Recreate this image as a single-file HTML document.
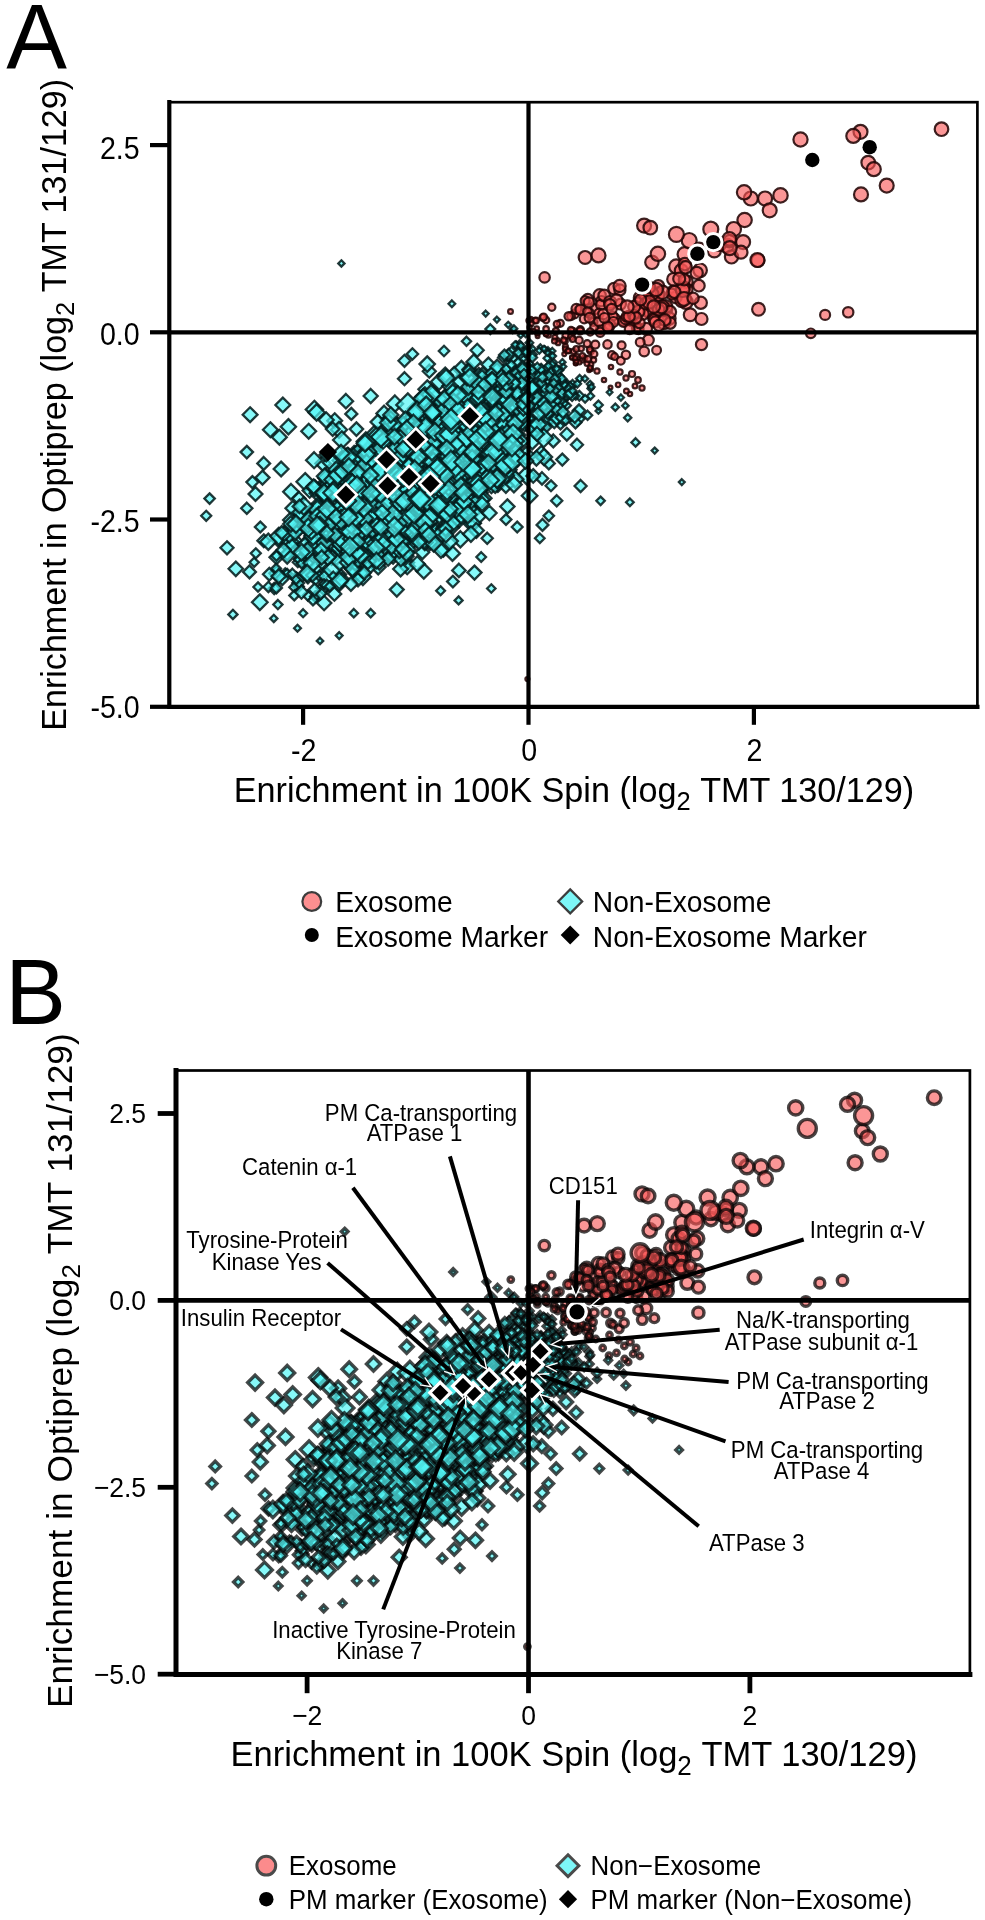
<!DOCTYPE html>
<html lang="en"><head><meta charset="utf-8"><title>Figure</title><style>html,body{margin:0;padding:0;background:#fff}svg{display:block;will-change:transform}</style></head><body>
<svg width="985" height="1920" viewBox="0 0 985 1920" font-family='"Liberation Sans", Arial, Helvetica, sans-serif' fill="#000">
<rect width="985" height="1920" fill="#fff"/>
<text transform="translate(6.2 68.6) scale(1 1.020)" font-size="91" text-anchor="start" >A</text>
<clipPath id="ca"><rect x="169.3" y="102.2" width="808.1" height="604.7"/></clipPath>
<g clip-path="url(#ca)">
<g fill="#52f6f6" fill-opacity="0.7" stroke="#041c1c" stroke-opacity="0.88" stroke-width="2.3" stroke-linejoin="miter"><path d="M507.3 379.1l7.6 7.6-7.6 7.6-7.6-7.6z"/><path d="M390.2 504.1l8.2 8.2-8.2 8.2-8.2-8.2z"/><path d="M398.7 490l9 9-9 9-9-9z"/><path d="M291 484l7.8 7.8-7.8 7.8-7.8-7.8z"/><path d="M555.6 375.3l5.2 5.2-5.2 5.2-5.2-5.2z"/><path d="M456.6 414.4l9 9-9 9-9-9z"/><path d="M537.4 370.5l5 5-5 5-5-5z"/><path d="M417.7 429l9.8 9.8-9.8 9.8-9.8-9.8z"/><path d="M414 509.1l10 10-10 10-10-10z"/><path d="M504.5 462.5l8.1 8.1-8.1 8.1-8.1-8.1z"/><path d="M412.7 452.5l8.6 8.6-8.6 8.6-8.6-8.6z"/><path d="M495.9 463.2l7.9 7.9-7.9 7.9-7.9-7.9z"/><path d="M469 387.7l10.3 10.3-10.3 10.3-10.3-10.3z"/><path d="M409.4 476.9l9.9 9.9-9.9 9.9-9.9-9.9z"/><path d="M412.1 409.9l7.7 7.7-7.7 7.7-7.7-7.7z"/></g>
<g fill="#f85656" fill-opacity="0.62" stroke="#220606" stroke-opacity="0.88" stroke-width="2.2"><circle cx="666.3" cy="309.2" r="6"/></g>
<g fill="#52f6f6" fill-opacity="0.7" stroke="#041c1c" stroke-opacity="0.88" stroke-width="2.3" stroke-linejoin="miter"><path d="M386.6 490.1l9 9-9 9-9-9z"/><path d="M232.9 609.8l4.6 4.6-4.6 4.6-4.6-4.6z"/><path d="M383.3 460.1l8.9 8.9-8.9 8.9-8.9-8.9z"/><path d="M346 514.5l8.2 8.2-8.2 8.2-8.2-8.2z"/><path d="M531.4 379.4l6.6 6.6-6.6 6.6-6.6-6.6z"/><path d="M387.2 509l9.1 9.1-9.1 9.1-9.1-9.1z"/><path d="M421.2 498.3l8.4 8.4-8.4 8.4-8.4-8.4z"/><path d="M433.9 472.2l8.4 8.4-8.4 8.4-8.4-8.4z"/><path d="M449.1 475l8.5 8.5-8.5 8.5-8.5-8.5z"/><path d="M455.6 419.3l8.3 8.3-8.3 8.3-8.3-8.3z"/><path d="M496.3 453.8l8.6 8.6-8.6 8.6-8.6-8.6z"/><path d="M362.5 471.5l8.5 8.5-8.5 8.5-8.5-8.5z"/><path d="M535.5 393.5l5.9 5.9-5.9 5.9-5.9-5.9z"/><path d="M363.5 548.2l7 7-7 7-7-7z"/><path d="M487.9 407.2l10.7 10.7-10.7 10.7-10.7-10.7z"/></g>
<g fill="#f85656" fill-opacity="0.62" stroke="#220606" stroke-opacity="0.88" stroke-width="2.2"><circle cx="644.1" cy="225.6" r="7"/><circle cx="630" cy="394" r="2.2"/></g>
<g fill="#52f6f6" fill-opacity="0.7" stroke="#041c1c" stroke-opacity="0.88" stroke-width="2.3" stroke-linejoin="miter"><path d="M421.7 431.5l10.9 10.9-10.9 10.9-10.9-10.9z"/><path d="M537.1 376.1l5.7 5.7-5.7 5.7-5.7-5.7z"/></g>
<g fill="#f85656" fill-opacity="0.62" stroke="#220606" stroke-opacity="0.88" stroke-width="2.2"><circle cx="743.1" cy="242.1" r="7"/></g>
<g fill="#52f6f6" fill-opacity="0.7" stroke="#041c1c" stroke-opacity="0.88" stroke-width="2.3" stroke-linejoin="miter"><path d="M363.2 462l9.8 9.8-9.8 9.8-9.8-9.8z"/></g>
<g fill="#f85656" fill-opacity="0.62" stroke="#220606" stroke-opacity="0.88" stroke-width="2.2"><circle cx="690.2" cy="314.8" r="6.4"/></g>
<g fill="#52f6f6" fill-opacity="0.7" stroke="#041c1c" stroke-opacity="0.88" stroke-width="2.3" stroke-linejoin="miter"><path d="M486.5 374.7l8.7 8.7-8.7 8.7-8.7-8.7z"/><path d="M409.7 441.2l9 9-9 9-9-9z"/><path d="M352.4 558.2l9 9-9 9-9-9z"/><path d="M474.1 420.2l11 11-11 11-11-11z"/><path d="M451.1 506.6l9.1 9.1-9.1 9.1-9.1-9.1z"/><path d="M374.1 483.7l9.6 9.6-9.6 9.6-9.6-9.6z"/><path d="M439.1 373.6l8.1 8.1-8.1 8.1-8.1-8.1z"/><path d="M404.3 472.3l8.7 8.7-8.7 8.7-8.7-8.7z"/><path d="M369.3 509.3l8.4 8.4-8.4 8.4-8.4-8.4z"/><path d="M549.7 400.9l6.8 6.8-6.8 6.8-6.8-6.8z"/><path d="M334.6 509.1l9 9-9 9-9-9z"/><path d="M508.5 400.1l7.3 7.3-7.3 7.3-7.3-7.3z"/><path d="M486.9 455.6l7.9 7.9-7.9 7.9-7.9-7.9z"/><path d="M539.6 373.6l5.7 5.7-5.7 5.7-5.7-5.7z"/><path d="M423.2 491.3l9.8 9.8-9.8 9.8-9.8-9.8z"/><path d="M377 446.3l8.5 8.5-8.5 8.5-8.5-8.5z"/><path d="M315.5 574l5.5 5.5-5.5 5.5-5.5-5.5z"/><path d="M402.4 423.5l8.6 8.6-8.6 8.6-8.6-8.6z"/><path d="M402.1 453.1l10.6 10.6-10.6 10.6-10.6-10.6z"/><path d="M462.2 435.3l8.4 8.4-8.4 8.4-8.4-8.4z"/><path d="M542.8 368.3l5.3 5.3-5.3 5.3-5.3-5.3z"/><path d="M473.8 396.2l10.3 10.3-10.3 10.3-10.3-10.3z"/><path d="M366.5 486.8l8.6 8.6-8.6 8.6-8.6-8.6z"/><path d="M577.7 411.9l6.9 6.9-6.9 6.9-6.9-6.9z"/><path d="M380.7 517.4l8.3 8.3-8.3 8.3-8.3-8.3z"/><path d="M524.7 403.5l7.7 7.7-7.7 7.7-7.7-7.7z"/><path d="M450.4 404.6l9.3 9.3-9.3 9.3-9.3-9.3z"/><path d="M338.5 540.7l7.3 7.3-7.3 7.3-7.3-7.3z"/><path d="M263.8 534.4l6.4 6.4-6.4 6.4-6.4-6.4z"/><path d="M350.1 508.7l9 9-9 9-9-9z"/><path d="M558.9 371.7l4.5 4.5-4.5 4.5-4.5-4.5z"/></g>
<g fill="#f85656" fill-opacity="0.62" stroke="#220606" stroke-opacity="0.88" stroke-width="2.2"><circle cx="640.4" cy="298" r="6.6"/><circle cx="574.6" cy="314" r="4.3"/><circle cx="757.9" cy="260.4" r="6.6"/></g>
<g fill="#52f6f6" fill-opacity="0.7" stroke="#041c1c" stroke-opacity="0.88" stroke-width="2.3" stroke-linejoin="miter"><path d="M492.9 451.4l8.3 8.3-8.3 8.3-8.3-8.3z"/><path d="M503.5 453.2l8.9 8.9-8.9 8.9-8.9-8.9z"/><path d="M410.3 483.6l9.2 9.2-9.2 9.2-9.2-9.2z"/><path d="M383.7 509.1l9.5 9.5-9.5 9.5-9.5-9.5z"/><path d="M515.9 425.4l9.5 9.5-9.5 9.5-9.5-9.5z"/><path d="M357.8 480.5l10.3 10.3-10.3 10.3-10.3-10.3z"/><path d="M472.1 447.9l8.4 8.4-8.4 8.4-8.4-8.4z"/><path d="M426.7 489.6l10.4 10.4-10.4 10.4-10.4-10.4z"/><path d="M451.5 449.5l8.3 8.3-8.3 8.3-8.3-8.3z"/><path d="M439 457.7l8.6 8.6-8.6 8.6-8.6-8.6z"/></g>
<g fill="#f85656" fill-opacity="0.62" stroke="#220606" stroke-opacity="0.88" stroke-width="2.2"><circle cx="600.6" cy="329.5" r="4.6"/></g>
<g fill="#52f6f6" fill-opacity="0.7" stroke="#041c1c" stroke-opacity="0.88" stroke-width="2.3" stroke-linejoin="miter"><path d="M381.4 480.3l8.2 8.2-8.2 8.2-8.2-8.2z"/><path d="M448.3 478.5l10.6 10.6-10.6 10.6-10.6-10.6z"/><path d="M416.9 429.5l9.3 9.3-9.3 9.3-9.3-9.3z"/><path d="M519.8 377.5l6.4 6.4-6.4 6.4-6.4-6.4z"/></g>
<g fill="#f85656" fill-opacity="0.62" stroke="#220606" stroke-opacity="0.88" stroke-width="2.2"><circle cx="572.1" cy="357.5" r="2.1"/></g>
<g fill="#52f6f6" fill-opacity="0.7" stroke="#041c1c" stroke-opacity="0.88" stroke-width="2.3" stroke-linejoin="miter"><path d="M412 501.9l10.6 10.6-10.6 10.6-10.6-10.6z"/><path d="M473.2 411.6l9.4 9.4-9.4 9.4-9.4-9.4z"/><path d="M407.9 444.8l8.4 8.4-8.4 8.4-8.4-8.4z"/><path d="M557.5 396.6l4.8 4.8-4.8 4.8-4.8-4.8z"/></g>
<g fill="#f85656" fill-opacity="0.62" stroke="#220606" stroke-opacity="0.88" stroke-width="2.2"><circle cx="665.9" cy="306.6" r="6.4"/></g>
<g fill="#52f6f6" fill-opacity="0.7" stroke="#041c1c" stroke-opacity="0.88" stroke-width="2.3" stroke-linejoin="miter"><path d="M541.8 396.9l5.7 5.7-5.7 5.7-5.7-5.7z"/><path d="M411.7 496.6l10.5 10.5-10.5 10.5-10.5-10.5z"/><path d="M472.4 403l10.4 10.4-10.4 10.4-10.4-10.4z"/></g>
<g fill="#f85656" fill-opacity="0.62" stroke="#220606" stroke-opacity="0.88" stroke-width="2.2"><circle cx="582.4" cy="359.7" r="2.8"/></g>
<g fill="#52f6f6" fill-opacity="0.7" stroke="#041c1c" stroke-opacity="0.88" stroke-width="2.3" stroke-linejoin="miter"><path d="M433.3 443.4l9.1 9.1-9.1 9.1-9.1-9.1z"/><path d="M334.3 489l7.9 7.9-7.9 7.9-7.9-7.9z"/><path d="M472.1 514.4l8.9 8.9-8.9 8.9-8.9-8.9z"/><path d="M430.3 485.6l10 10-10 10-10-10z"/><path d="M504.8 384.3l7.8 7.8-7.8 7.8-7.8-7.8z"/><path d="M432.7 484.2l10.3 10.3-10.3 10.3-10.3-10.3z"/><path d="M423.4 525.6l8.6 8.6-8.6 8.6-8.6-8.6z"/><path d="M389.5 445.2l8.4 8.4-8.4 8.4-8.4-8.4z"/><path d="M424.9 483.4l8.8 8.8-8.8 8.8-8.8-8.8z"/><path d="M461.2 453l9.3 9.3-9.3 9.3-9.3-9.3z"/><path d="M524.7 414l8.6 8.6-8.6 8.6-8.6-8.6z"/><path d="M460.1 424.2l9 9-9 9-9-9z"/><path d="M408.3 494.4l8.8 8.8-8.8 8.8-8.8-8.8z"/><path d="M298.4 581.1l5.4 5.4-5.4 5.4-5.4-5.4z"/><path d="M497.3 463.7l7.3 7.3-7.3 7.3-7.3-7.3z"/><path d="M314.5 526l9.2 9.2-9.2 9.2-9.2-9.2z"/><path d="M526.7 386.8l6.5 6.5-6.5 6.5-6.5-6.5z"/><path d="M350.5 461.8l8.7 8.7-8.7 8.7-8.7-8.7z"/><path d="M382.4 513.6l8.7 8.7-8.7 8.7-8.7-8.7z"/><path d="M276.5 566.1l7.2 7.2-7.2 7.2-7.2-7.2z"/><path d="M366.4 542.5l8.2 8.2-8.2 8.2-8.2-8.2z"/><path d="M472.3 493l8.5 8.5-8.5 8.5-8.5-8.5z"/><path d="M427.3 380.4l8.9 8.9-8.9 8.9-8.9-8.9z"/></g>
<g fill="#f85656" fill-opacity="0.62" stroke="#220606" stroke-opacity="0.88" stroke-width="2.2"><circle cx="593.4" cy="321.9" r="4.1"/></g>
<g fill="#52f6f6" fill-opacity="0.7" stroke="#041c1c" stroke-opacity="0.88" stroke-width="2.3" stroke-linejoin="miter"><path d="M452.2 481l10.1 10.1-10.1 10.1-10.1-10.1z"/><path d="M408.7 512.1l9.2 9.2-9.2 9.2-9.2-9.2z"/><path d="M418.2 531.3l7.5 7.5-7.5 7.5-7.5-7.5z"/><path d="M297.3 573.2l5.8 5.8-5.8 5.8-5.8-5.8z"/></g>
<g fill="#f85656" fill-opacity="0.62" stroke="#220606" stroke-opacity="0.88" stroke-width="2.2"><circle cx="638.2" cy="302.8" r="5.5"/></g>
<g fill="#52f6f6" fill-opacity="0.7" stroke="#041c1c" stroke-opacity="0.88" stroke-width="2.3" stroke-linejoin="miter"><path d="M387.2 467.8l10.3 10.3-10.3 10.3-10.3-10.3z"/><path d="M319.6 526.1l7.5 7.5-7.5 7.5-7.5-7.5z"/><path d="M434 403.5l8.1 8.1-8.1 8.1-8.1-8.1z"/><path d="M438.5 464l8.7 8.7-8.7 8.7-8.7-8.7z"/><path d="M338.8 574.6l8.5 8.5-8.5 8.5-8.5-8.5z"/><path d="M424.3 445l9.4 9.4-9.4 9.4-9.4-9.4z"/></g>
<g fill="#f85656" fill-opacity="0.62" stroke="#220606" stroke-opacity="0.88" stroke-width="2.2"><circle cx="810.8" cy="333.3" r="4.8"/><circle cx="614" cy="288.6" r="5.8"/></g>
<g fill="#52f6f6" fill-opacity="0.7" stroke="#041c1c" stroke-opacity="0.88" stroke-width="2.3" stroke-linejoin="miter"><path d="M447.7 473.2l9.3 9.3-9.3 9.3-9.3-9.3z"/><path d="M406.6 420l9 9-9 9-9-9z"/><path d="M298.2 577.2l5.9 5.9-5.9 5.9-5.9-5.9z"/><path d="M425.2 446.3l8.4 8.4-8.4 8.4-8.4-8.4z"/><path d="M520 375.1l6.9 6.9-6.9 6.9-6.9-6.9z"/><path d="M334.3 518.9l7.7 7.7-7.7 7.7-7.7-7.7z"/><path d="M392.8 456.2l9.7 9.7-9.7 9.7-9.7-9.7z"/><path d="M488.2 468.8l8.8 8.8-8.8 8.8-8.8-8.8z"/><path d="M430.4 472.9l9 9-9 9-9-9z"/><path d="M406.8 470.3l9.3 9.3-9.3 9.3-9.3-9.3z"/><path d="M444.8 482.5l10.5 10.5-10.5 10.5-10.5-10.5z"/><path d="M448.1 411.1l9.8 9.8-9.8 9.8-9.8-9.8z"/><path d="M479.3 380.4l8.8 8.8-8.8 8.8-8.8-8.8z"/><path d="M416 507.6l9.9 9.9-9.9 9.9-9.9-9.9z"/><path d="M423 489.6l9.3 9.3-9.3 9.3-9.3-9.3z"/></g>
<g fill="#f85656" fill-opacity="0.62" stroke="#220606" stroke-opacity="0.88" stroke-width="2.2"><circle cx="649.8" cy="311.2" r="6.1"/></g>
<g fill="#52f6f6" fill-opacity="0.7" stroke="#041c1c" stroke-opacity="0.88" stroke-width="2.3" stroke-linejoin="miter"><path d="M315.8 592.2l4.7 4.7-4.7 4.7-4.7-4.7z"/><path d="M403.6 459.6l9.6 9.6-9.6 9.6-9.6-9.6z"/><path d="M325 508.6l7.4 7.4-7.4 7.4-7.4-7.4z"/><path d="M459.4 481l8 8-8 8-8-8z"/><path d="M412.4 348.3l5.7 5.7-5.7 5.7-5.7-5.7z"/></g>
<g fill="#f85656" fill-opacity="0.62" stroke="#220606" stroke-opacity="0.88" stroke-width="2.2"><circle cx="607.5" cy="344.4" r="4.2"/></g>
<g fill="#52f6f6" fill-opacity="0.7" stroke="#041c1c" stroke-opacity="0.88" stroke-width="2.3" stroke-linejoin="miter"><path d="M330.1 472.3l8.8 8.8-8.8 8.8-8.8-8.8z"/><path d="M459.2 373.4l8.6 8.6-8.6 8.6-8.6-8.6z"/><path d="M536.3 396.2l7.9 7.9-7.9 7.9-7.9-7.9z"/><path d="M503.8 462.1l9.2 9.2-9.2 9.2-9.2-9.2z"/></g>
<g fill="#f85656" fill-opacity="0.62" stroke="#220606" stroke-opacity="0.88" stroke-width="2.2"><circle cx="610.5" cy="387.6" r="1.9"/></g>
<g fill="#52f6f6" fill-opacity="0.7" stroke="#041c1c" stroke-opacity="0.88" stroke-width="2.3" stroke-linejoin="miter"><path d="M384.2 534l9 9-9 9-9-9z"/><path d="M435.9 437.2l10.5 10.5-10.5 10.5-10.5-10.5z"/></g>
<g fill="#f85656" fill-opacity="0.62" stroke="#220606" stroke-opacity="0.88" stroke-width="2.2"><circle cx="700.8" cy="302.8" r="6.1"/></g>
<g fill="#52f6f6" fill-opacity="0.7" stroke="#041c1c" stroke-opacity="0.88" stroke-width="2.3" stroke-linejoin="miter"><path d="M508.1 367.2l5.7 5.7-5.7 5.7-5.7-5.7z"/><path d="M385.1 534.6l8.4 8.4-8.4 8.4-8.4-8.4z"/><path d="M590.1 380.8l3.3 3.3-3.3 3.3-3.3-3.3z"/><path d="M454 463l10.8 10.8-10.8 10.8-10.8-10.8z"/><path d="M498.4 408.1l9.1 9.1-9.1 9.1-9.1-9.1z"/><path d="M333.4 482.8l9 9-9 9-9-9z"/><path d="M384.5 476.2l8.7 8.7-8.7 8.7-8.7-8.7z"/><path d="M394.1 504.1l9.9 9.9-9.9 9.9-9.9-9.9z"/><path d="M448.6 447.6l11 11-11 11-11-11z"/><path d="M364.6 508.3l10.3 10.3-10.3 10.3-10.3-10.3z"/><path d="M485.1 468l8.6 8.6-8.6 8.6-8.6-8.6z"/></g>
<g fill="#f85656" fill-opacity="0.62" stroke="#220606" stroke-opacity="0.88" stroke-width="2.2"><circle cx="656.6" cy="350.2" r="4.4"/></g>
<g fill="#52f6f6" fill-opacity="0.7" stroke="#041c1c" stroke-opacity="0.88" stroke-width="2.3" stroke-linejoin="miter"><path d="M526.6 379.1l5.8 5.8-5.8 5.8-5.8-5.8z"/><path d="M460.9 477.9l9.1 9.1-9.1 9.1-9.1-9.1z"/><path d="M398.6 534l8.8 8.8-8.8 8.8-8.8-8.8z"/><path d="M375.5 495.1l8.4 8.4-8.4 8.4-8.4-8.4z"/><path d="M491.1 391.8l8.4 8.4-8.4 8.4-8.4-8.4z"/><path d="M417.9 405.5l9.9 9.9-9.9 9.9-9.9-9.9z"/><path d="M533.4 422.5l7.6 7.6-7.6 7.6-7.6-7.6z"/><path d="M502.6 440.1l9.3 9.3-9.3 9.3-9.3-9.3z"/><path d="M572.6 380l4.8 4.8-4.8 4.8-4.8-4.8z"/></g>
<g fill="#f85656" fill-opacity="0.62" stroke="#220606" stroke-opacity="0.88" stroke-width="2.2"><circle cx="575.8" cy="363.6" r="1.9"/></g>
<g fill="#52f6f6" fill-opacity="0.7" stroke="#041c1c" stroke-opacity="0.88" stroke-width="2.3" stroke-linejoin="miter"><path d="M367.9 548.8l8.4 8.4-8.4 8.4-8.4-8.4z"/></g>
<g fill="#f85656" fill-opacity="0.62" stroke="#220606" stroke-opacity="0.88" stroke-width="2.2"><circle cx="848.2" cy="312.3" r="5.2"/></g>
<g fill="#52f6f6" fill-opacity="0.7" stroke="#041c1c" stroke-opacity="0.88" stroke-width="2.3" stroke-linejoin="miter"><path d="M517.3 389.8l7.2 7.2-7.2 7.2-7.2-7.2z"/></g>
<g fill="#f85656" fill-opacity="0.62" stroke="#220606" stroke-opacity="0.88" stroke-width="2.2"><circle cx="572.4" cy="357.4" r="2.1"/></g>
<g fill="#52f6f6" fill-opacity="0.7" stroke="#041c1c" stroke-opacity="0.88" stroke-width="2.3" stroke-linejoin="miter"><path d="M544.8 371.7l4.1 4.1-4.1 4.1-4.1-4.1z"/></g>
<g fill="#f85656" fill-opacity="0.62" stroke="#220606" stroke-opacity="0.88" stroke-width="2.2"><circle cx="557.3" cy="340.3" r="2.3"/></g>
<g fill="#52f6f6" fill-opacity="0.7" stroke="#041c1c" stroke-opacity="0.88" stroke-width="2.3" stroke-linejoin="miter"><path d="M438.6 428.2l10.6 10.6-10.6 10.6-10.6-10.6z"/><path d="M323.7 569l5.5 5.5-5.5 5.5-5.5-5.5z"/><path d="M470.1 384.5l8.2 8.2-8.2 8.2-8.2-8.2z"/><path d="M408.7 437.3l8.7 8.7-8.7 8.7-8.7-8.7z"/><path d="M547.7 405l7.4 7.4-7.4 7.4-7.4-7.4z"/><path d="M477 480.1l8.3 8.3-8.3 8.3-8.3-8.3z"/><path d="M313.9 519.1l7.2 7.2-7.2 7.2-7.2-7.2z"/><path d="M525.3 389.9l7.8 7.8-7.8 7.8-7.8-7.8z"/><path d="M434 459.2l11.2 11.2-11.2 11.2-11.2-11.2z"/><path d="M419.9 459.8l11 11-11 11-11-11z"/><path d="M508 413.4l8.5 8.5-8.5 8.5-8.5-8.5z"/><path d="M374.1 467.3l8.2 8.2-8.2 8.2-8.2-8.2z"/><path d="M507.8 409.3l9.7 9.7-9.7 9.7-9.7-9.7z"/><path d="M520.4 364l5.8 5.8-5.8 5.8-5.8-5.8z"/><path d="M539.8 533.5l4.8 4.8-4.8 4.8-4.8-4.8z"/><path d="M522.4 353.7l4.7 4.7-4.7 4.7-4.7-4.7z"/><path d="M392.4 521l8.7 8.7-8.7 8.7-8.7-8.7z"/><path d="M472 498.6l7.4 7.4-7.4 7.4-7.4-7.4z"/><path d="M354.6 470.7l8.5 8.5-8.5 8.5-8.5-8.5z"/><path d="M429.9 488l10.4 10.4-10.4 10.4-10.4-10.4z"/><path d="M409.5 503l8.3 8.3-8.3 8.3-8.3-8.3z"/><path d="M278.3 532.2l7.2 7.2-7.2 7.2-7.2-7.2z"/><path d="M469 390.5l8.5 8.5-8.5 8.5-8.5-8.5z"/><path d="M429.3 364.7l6.5 6.5-6.5 6.5-6.5-6.5z"/><path d="M432.3 467.4l10 10-10 10-10-10z"/><path d="M567.7 390.4l4.7 4.7-4.7 4.7-4.7-4.7z"/><path d="M415.3 401.2l7.7 7.7-7.7 7.7-7.7-7.7z"/><path d="M476.2 480.9l9.9 9.9-9.9 9.9-9.9-9.9z"/><path d="M450.3 443.2l10.6 10.6-10.6 10.6-10.6-10.6z"/><path d="M387.6 508.3l9 9-9 9-9-9z"/><path d="M396.4 482.1l8.4 8.4-8.4 8.4-8.4-8.4z"/><path d="M346.5 472.6l8.5 8.5-8.5 8.5-8.5-8.5z"/><path d="M346.6 499.7l7.7 7.7-7.7 7.7-7.7-7.7z"/><path d="M227 541.3l6.5 6.5-6.5 6.5-6.5-6.5z"/><path d="M337.3 476.5l8.3 8.3-8.3 8.3-8.3-8.3z"/><path d="M391.9 538.2l7.2 7.2-7.2 7.2-7.2-7.2z"/><path d="M367.3 480.2l7.9 7.9-7.9 7.9-7.9-7.9z"/><path d="M270.4 422.3l7.4 7.4-7.4 7.4-7.4-7.4z"/><path d="M478.9 368l6.1 6.1-6.1 6.1-6.1-6.1z"/><path d="M566.8 427.8l6.4 6.4-6.4 6.4-6.4-6.4z"/></g>
<g fill="#f85656" fill-opacity="0.62" stroke="#220606" stroke-opacity="0.88" stroke-width="2.2"><circle cx="584.2" cy="318.9" r="4.4"/></g>
<g fill="#52f6f6" fill-opacity="0.7" stroke="#041c1c" stroke-opacity="0.88" stroke-width="2.3" stroke-linejoin="miter"><path d="M359.6 457.4l8.1 8.1-8.1 8.1-8.1-8.1z"/><path d="M497.7 414l9.7 9.7-9.7 9.7-9.7-9.7z"/><path d="M513.4 380.6l5.6 5.6-5.6 5.6-5.6-5.6z"/></g>
<g fill="#f85656" fill-opacity="0.62" stroke="#220606" stroke-opacity="0.88" stroke-width="2.2"><circle cx="575.1" cy="359.8" r="2"/><circle cx="546" cy="320" r="3.3"/><circle cx="654.7" cy="293.1" r="6.6"/></g>
<g fill="#52f6f6" fill-opacity="0.7" stroke="#041c1c" stroke-opacity="0.88" stroke-width="2.3" stroke-linejoin="miter"><path d="M559.2 380.1l4 4-4 4-4-4z"/><path d="M359.3 480.9l9.6 9.6-9.6 9.6-9.6-9.6z"/></g>
<g fill="#f85656" fill-opacity="0.62" stroke="#220606" stroke-opacity="0.88" stroke-width="2.2"><circle cx="614.4" cy="318.8" r="5.5"/></g>
<g fill="#52f6f6" fill-opacity="0.7" stroke="#041c1c" stroke-opacity="0.88" stroke-width="2.3" stroke-linejoin="miter"><path d="M373 496.4l9.3 9.3-9.3 9.3-9.3-9.3z"/><path d="M366.4 503.2l8.7 8.7-8.7 8.7-8.7-8.7z"/><path d="M411.4 467.8l11.1 11.1-11.1 11.1-11.1-11.1z"/><path d="M399.7 500.2l9.1 9.1-9.1 9.1-9.1-9.1z"/><path d="M566.7 391.1l4.8 4.8-4.8 4.8-4.8-4.8z"/><path d="M481.6 457.3l8.8 8.8-8.8 8.8-8.8-8.8z"/><path d="M398.8 426.6l7.7 7.7-7.7 7.7-7.7-7.7z"/></g>
<g fill="#f85656" fill-opacity="0.62" stroke="#220606" stroke-opacity="0.88" stroke-width="2.2"><circle cx="726.6" cy="245.8" r="7.1"/></g>
<g fill="#52f6f6" fill-opacity="0.7" stroke="#041c1c" stroke-opacity="0.88" stroke-width="2.3" stroke-linejoin="miter"><path d="M262.5 470.6l7 7-7 7-7-7z"/><path d="M335.8 512.6l7.9 7.9-7.9 7.9-7.9-7.9z"/><path d="M373 528.8l8.5 8.5-8.5 8.5-8.5-8.5z"/></g>
<g fill="#f85656" fill-opacity="0.62" stroke="#220606" stroke-opacity="0.88" stroke-width="2.2"><circle cx="589.1" cy="370.1" r="2"/></g>
<g fill="#52f6f6" fill-opacity="0.7" stroke="#041c1c" stroke-opacity="0.88" stroke-width="2.3" stroke-linejoin="miter"><path d="M370.6 498.9l10.3 10.3-10.3 10.3-10.3-10.3z"/><path d="M495.4 384.6l8.4 8.4-8.4 8.4-8.4-8.4z"/></g>
<g fill="#f85656" fill-opacity="0.62" stroke="#220606" stroke-opacity="0.88" stroke-width="2.2"><circle cx="631.2" cy="319.6" r="5.3"/></g>
<g fill="#52f6f6" fill-opacity="0.7" stroke="#041c1c" stroke-opacity="0.88" stroke-width="2.3" stroke-linejoin="miter"><path d="M397.1 540.7l7.4 7.4-7.4 7.4-7.4-7.4z"/><path d="M456.6 488.5l9.7 9.7-9.7 9.7-9.7-9.7z"/><path d="M422.6 484.3l9.2 9.2-9.2 9.2-9.2-9.2z"/><path d="M482.4 389.1l9.4 9.4-9.4 9.4-9.4-9.4z"/><path d="M537.1 398.3l7 7-7 7-7-7z"/><path d="M514 369.7l5.3 5.3-5.3 5.3-5.3-5.3z"/><path d="M398.2 462.9l10.4 10.4-10.4 10.4-10.4-10.4z"/><path d="M476.1 436.6l10.8 10.8-10.8 10.8-10.8-10.8z"/><path d="M416.4 450.4l9 9-9 9-9-9z"/><path d="M311.6 504.1l7.4 7.4-7.4 7.4-7.4-7.4z"/><path d="M422.3 528.5l7.3 7.3-7.3 7.3-7.3-7.3z"/></g>
<g fill="#f85656" fill-opacity="0.62" stroke="#220606" stroke-opacity="0.88" stroke-width="2.2"><circle cx="578.9" cy="310.1" r="4.5"/></g>
<g fill="#52f6f6" fill-opacity="0.7" stroke="#041c1c" stroke-opacity="0.88" stroke-width="2.3" stroke-linejoin="miter"><path d="M508 456.5l8.3 8.3-8.3 8.3-8.3-8.3z"/><path d="M357.3 504.3l7.8 7.8-7.8 7.8-7.8-7.8z"/><path d="M394.9 395.5l8.2 8.2-8.2 8.2-8.2-8.2z"/><path d="M394.5 451.2l8.3 8.3-8.3 8.3-8.3-8.3z"/><path d="M490.9 460.5l9.6 9.6-9.6 9.6-9.6-9.6z"/></g>
<g fill="#f85656" fill-opacity="0.62" stroke="#220606" stroke-opacity="0.88" stroke-width="2.2"><circle cx="686.4" cy="281.7" r="6.3"/></g>
<g fill="#52f6f6" fill-opacity="0.7" stroke="#041c1c" stroke-opacity="0.88" stroke-width="2.3" stroke-linejoin="miter"><path d="M396.2 484.7l9.6 9.6-9.6 9.6-9.6-9.6z"/><path d="M444 345.8l5.2 5.2-5.2 5.2-5.2-5.2z"/><path d="M422.9 495.4l8.7 8.7-8.7 8.7-8.7-8.7z"/><path d="M360.9 490.9l10.4 10.4-10.4 10.4-10.4-10.4z"/><path d="M337.1 480l7.3 7.3-7.3 7.3-7.3-7.3z"/><path d="M370.7 389l7 7-7 7-7-7z"/><path d="M559.6 374.4l4.9 4.9-4.9 4.9-4.9-4.9z"/><path d="M411.5 506.7l8.2 8.2-8.2 8.2-8.2-8.2z"/><path d="M333.7 485.5l7.9 7.9-7.9 7.9-7.9-7.9z"/><path d="M439.3 457.8l9.5 9.5-9.5 9.5-9.5-9.5z"/><path d="M387.7 502.4l10.3 10.3-10.3 10.3-10.3-10.3z"/></g>
<g fill="#f85656" fill-opacity="0.62" stroke="#220606" stroke-opacity="0.88" stroke-width="2.2"><circle cx="685.9" cy="302" r="6.9"/></g>
<g fill="#52f6f6" fill-opacity="0.7" stroke="#041c1c" stroke-opacity="0.88" stroke-width="2.3" stroke-linejoin="miter"><path d="M471.3 398.5l8.1 8.1-8.1 8.1-8.1-8.1z"/><path d="M381 483l9.7 9.7-9.7 9.7-9.7-9.7z"/><path d="M463.6 459.3l10.6 10.6-10.6 10.6-10.6-10.6z"/><path d="M533.2 380.2l5.7 5.7-5.7 5.7-5.7-5.7z"/><path d="M542.9 374.7l4.5 4.5-4.5 4.5-4.5-4.5z"/><path d="M285.2 568.4l4.7 4.7-4.7 4.7-4.7-4.7z"/><path d="M341.4 532.2l7.8 7.8-7.8 7.8-7.8-7.8z"/><path d="M635.6 438.2l4.2 4.2-4.2 4.2-4.2-4.2z"/><path d="M532.3 432.8l8.3 8.3-8.3 8.3-8.3-8.3z"/><path d="M480.7 375.9l8 8-8 8-8-8z"/><path d="M396 501.1l8.2 8.2-8.2 8.2-8.2-8.2z"/></g>
<g fill="#f85656" fill-opacity="0.62" stroke="#220606" stroke-opacity="0.88" stroke-width="2.2"><circle cx="546.2" cy="333.6" r="2.5"/><circle cx="656.6" cy="296.3" r="7.1"/></g>
<g fill="#52f6f6" fill-opacity="0.7" stroke="#041c1c" stroke-opacity="0.88" stroke-width="2.3" stroke-linejoin="miter"><path d="M356.3 445.9l8 8-8 8-8-8z"/><path d="M293.2 539.6l7.4 7.4-7.4 7.4-7.4-7.4z"/><path d="M512.5 353l5.3 5.3-5.3 5.3-5.3-5.3z"/></g>
<g fill="#f85656" fill-opacity="0.62" stroke="#220606" stroke-opacity="0.88" stroke-width="2.2"><circle cx="626.4" cy="391" r="2.4"/><circle cx="700.1" cy="270.3" r="6.8"/></g>
<g fill="#52f6f6" fill-opacity="0.7" stroke="#041c1c" stroke-opacity="0.88" stroke-width="2.3" stroke-linejoin="miter"><path d="M443.8 438.1l8.9 8.9-8.9 8.9-8.9-8.9z"/><path d="M340.3 507.4l9.1 9.1-9.1 9.1-9.1-9.1z"/><path d="M480.6 383.2l8.5 8.5-8.5 8.5-8.5-8.5z"/></g>
<g fill="#f85656" fill-opacity="0.62" stroke="#220606" stroke-opacity="0.88" stroke-width="2.2"><circle cx="575.6" cy="363.3" r="1.9"/></g>
<g fill="#52f6f6" fill-opacity="0.7" stroke="#041c1c" stroke-opacity="0.88" stroke-width="2.3" stroke-linejoin="miter"><path d="M297.9 517.9l8.7 8.7-8.7 8.7-8.7-8.7z"/><path d="M526.6 466.4l9 9-9 9-9-9z"/><path d="M354.5 529.1l9.4 9.4-9.4 9.4-9.4-9.4z"/><path d="M464.6 454.8l8.5 8.5-8.5 8.5-8.5-8.5z"/></g>
<g fill="#f85656" fill-opacity="0.62" stroke="#220606" stroke-opacity="0.88" stroke-width="2.2"><circle cx="661.6" cy="316.2" r="5.9"/><circle cx="593.6" cy="360" r="2.6"/></g>
<g fill="#52f6f6" fill-opacity="0.7" stroke="#041c1c" stroke-opacity="0.88" stroke-width="2.3" stroke-linejoin="miter"><path d="M557.6 379.9l5.1 5.1-5.1 5.1-5.1-5.1z"/><path d="M523.7 379.9l7.5 7.5-7.5 7.5-7.5-7.5z"/><path d="M338.5 516.8l9.1 9.1-9.1 9.1-9.1-9.1z"/><path d="M552.5 361.1l3.2 3.2-3.2 3.2-3.2-3.2z"/><path d="M297.8 557.2l5 5-5 5-5-5z"/><path d="M378 469.4l9.3 9.3-9.3 9.3-9.3-9.3z"/></g>
<g fill="#f85656" fill-opacity="0.62" stroke="#220606" stroke-opacity="0.88" stroke-width="2.2"><circle cx="658.4" cy="286" r="5.8"/></g>
<g fill="#52f6f6" fill-opacity="0.7" stroke="#041c1c" stroke-opacity="0.88" stroke-width="2.3" stroke-linejoin="miter"><path d="M371.3 473.3l8.4 8.4-8.4 8.4-8.4-8.4z"/><path d="M319 570.8l4.9 4.9-4.9 4.9-4.9-4.9z"/><path d="M507.3 463.5l9.4 9.4-9.4 9.4-9.4-9.4z"/><path d="M538.1 374l5.9 5.9-5.9 5.9-5.9-5.9z"/><path d="M390.1 524l8.1 8.1-8.1 8.1-8.1-8.1z"/></g>
<g fill="#f85656" fill-opacity="0.62" stroke="#220606" stroke-opacity="0.88" stroke-width="2.2"><circle cx="573.7" cy="351.3" r="2.7"/></g>
<g fill="#52f6f6" fill-opacity="0.7" stroke="#041c1c" stroke-opacity="0.88" stroke-width="2.3" stroke-linejoin="miter"><path d="M615.3 403.6l3.6 3.6-3.6 3.6-3.6-3.6z"/><path d="M469.6 492.9l9.8 9.8-9.8 9.8-9.8-9.8z"/><path d="M535.6 371.7l5.9 5.9-5.9 5.9-5.9-5.9z"/><path d="M391.5 521.9l9.2 9.2-9.2 9.2-9.2-9.2z"/><path d="M293.9 582.6l4.6 4.6-4.6 4.6-4.6-4.6z"/></g>
<g fill="#f85656" fill-opacity="0.62" stroke="#220606" stroke-opacity="0.88" stroke-width="2.2"><circle cx="600.2" cy="332.3" r="4.6"/></g>
<g fill="#52f6f6" fill-opacity="0.7" stroke="#041c1c" stroke-opacity="0.88" stroke-width="2.3" stroke-linejoin="miter"><path d="M387 534.2l9 9-9 9-9-9z"/><path d="M406.9 555.4l7.2 7.2-7.2 7.2-7.2-7.2z"/></g>
<g fill="#f85656" fill-opacity="0.62" stroke="#220606" stroke-opacity="0.88" stroke-width="2.2"><circle cx="612.9" cy="316" r="4.6"/></g>
<g fill="#52f6f6" fill-opacity="0.7" stroke="#041c1c" stroke-opacity="0.88" stroke-width="2.3" stroke-linejoin="miter"><path d="M412.2 452.6l8.7 8.7-8.7 8.7-8.7-8.7z"/><path d="M458.6 596.4l4 4-4 4-4-4z"/><path d="M426.3 415.9l8.3 8.3-8.3 8.3-8.3-8.3z"/><path d="M349.9 550.1l7.8 7.8-7.8 7.8-7.8-7.8z"/><path d="M405.3 453.1l8.6 8.6-8.6 8.6-8.6-8.6z"/><path d="M365.3 499.5l9.6 9.6-9.6 9.6-9.6-9.6z"/></g>
<g fill="#f85656" fill-opacity="0.62" stroke="#220606" stroke-opacity="0.88" stroke-width="2.2"><circle cx="673.5" cy="279.3" r="6.3"/></g>
<g fill="#52f6f6" fill-opacity="0.7" stroke="#041c1c" stroke-opacity="0.88" stroke-width="2.3" stroke-linejoin="miter"><path d="M446.4 459.8l10.2 10.2-10.2 10.2-10.2-10.2z"/><path d="M342.4 488.6l8.5 8.5-8.5 8.5-8.5-8.5z"/><path d="M531.1 391.9l7.3 7.3-7.3 7.3-7.3-7.3z"/><path d="M374.6 522l8.6 8.6-8.6 8.6-8.6-8.6z"/><path d="M551.2 368.2l4.2 4.2-4.2 4.2-4.2-4.2z"/><path d="M533.1 374.1l4.6 4.6-4.6 4.6-4.6-4.6z"/><path d="M447.1 455.5l9.9 9.9-9.9 9.9-9.9-9.9z"/><path d="M391.3 472.3l9.9 9.9-9.9 9.9-9.9-9.9z"/><path d="M342.8 471.8l8 8-8 8-8-8z"/><path d="M420.8 489.5l8.2 8.2-8.2 8.2-8.2-8.2z"/><path d="M558.9 398.6l6.8 6.8-6.8 6.8-6.8-6.8z"/><path d="M539.8 423.2l6.5 6.5-6.5 6.5-6.5-6.5z"/><path d="M443.4 540.1l8.3 8.3-8.3 8.3-8.3-8.3z"/><path d="M541.3 446l6.7 6.7-6.7 6.7-6.7-6.7z"/><path d="M471.2 502.9l9.1 9.1-9.1 9.1-9.1-9.1z"/></g>
<g fill="#f85656" fill-opacity="0.62" stroke="#220606" stroke-opacity="0.88" stroke-width="2.2"><circle cx="530.5" cy="319.5" r="2.7"/></g>
<g fill="#52f6f6" fill-opacity="0.7" stroke="#041c1c" stroke-opacity="0.88" stroke-width="2.3" stroke-linejoin="miter"><path d="M500.4 378.7l6.8 6.8-6.8 6.8-6.8-6.8z"/><path d="M387.9 492.3l9.5 9.5-9.5 9.5-9.5-9.5z"/><path d="M489.1 411.3l8.9 8.9-8.9 8.9-8.9-8.9z"/><path d="M489.5 444.3l9.7 9.7-9.7 9.7-9.7-9.7z"/><path d="M336.6 549.7l7.6 7.6-7.6 7.6-7.6-7.6z"/></g>
<g fill="#f85656" fill-opacity="0.62" stroke="#220606" stroke-opacity="0.88" stroke-width="2.2"><circle cx="626" cy="378" r="2.6"/></g>
<g fill="#52f6f6" fill-opacity="0.7" stroke="#041c1c" stroke-opacity="0.88" stroke-width="2.3" stroke-linejoin="miter"><path d="M459.8 484.4l9.7 9.7-9.7 9.7-9.7-9.7z"/><path d="M358.2 517.2l9.5 9.5-9.5 9.5-9.5-9.5z"/><path d="M432 425.8l10.7 10.7-10.7 10.7-10.7-10.7z"/></g>
<g fill="#f85656" fill-opacity="0.62" stroke="#220606" stroke-opacity="0.88" stroke-width="2.2"><circle cx="554.9" cy="337.4" r="2.5"/></g>
<g fill="#52f6f6" fill-opacity="0.7" stroke="#041c1c" stroke-opacity="0.88" stroke-width="2.3" stroke-linejoin="miter"><path d="M465.2 394.3l10.3 10.3-10.3 10.3-10.3-10.3z"/><path d="M299.8 520.7l7 7-7 7-7-7z"/></g>
<g fill="#f85656" fill-opacity="0.62" stroke="#220606" stroke-opacity="0.88" stroke-width="2.2"><circle cx="594.3" cy="309.3" r="5.1"/></g>
<g fill="#52f6f6" fill-opacity="0.7" stroke="#041c1c" stroke-opacity="0.88" stroke-width="2.3" stroke-linejoin="miter"><path d="M519.9 367.1l5.9 5.9-5.9 5.9-5.9-5.9z"/><path d="M405.3 437.7l9.5 9.5-9.5 9.5-9.5-9.5z"/><path d="M404.2 522.2l8.2 8.2-8.2 8.2-8.2-8.2z"/><path d="M342.1 459.1l7.3 7.3-7.3 7.3-7.3-7.3z"/><path d="M471.6 390.9l8.5 8.5-8.5 8.5-8.5-8.5z"/></g>
<g fill="#f85656" fill-opacity="0.62" stroke="#220606" stroke-opacity="0.88" stroke-width="2.2"><circle cx="651.9" cy="262.3" r="6.7"/></g>
<g fill="#52f6f6" fill-opacity="0.7" stroke="#041c1c" stroke-opacity="0.88" stroke-width="2.3" stroke-linejoin="miter"><path d="M390.5 513l8.7 8.7-8.7 8.7-8.7-8.7z"/></g>
<g fill="#f85656" fill-opacity="0.62" stroke="#220606" stroke-opacity="0.88" stroke-width="2.2"><circle cx="620" cy="372" r="2.6"/></g>
<g fill="#52f6f6" fill-opacity="0.7" stroke="#041c1c" stroke-opacity="0.88" stroke-width="2.3" stroke-linejoin="miter"><path d="M528.4 376l6.2 6.2-6.2 6.2-6.2-6.2z"/><path d="M546.1 413.4l7.8 7.8-7.8 7.8-7.8-7.8z"/><path d="M412.3 498.6l8.7 8.7-8.7 8.7-8.7-8.7z"/><path d="M464.4 452.9l8.6 8.6-8.6 8.6-8.6-8.6z"/><path d="M435.4 503.8l7.9 7.9-7.9 7.9-7.9-7.9z"/></g>
<g fill="#f85656" fill-opacity="0.62" stroke="#220606" stroke-opacity="0.88" stroke-width="2.2"><circle cx="589" cy="312.9" r="4.8"/></g>
<g fill="#52f6f6" fill-opacity="0.7" stroke="#041c1c" stroke-opacity="0.88" stroke-width="2.3" stroke-linejoin="miter"><path d="M444.3 491.1l8.5 8.5-8.5 8.5-8.5-8.5z"/></g>
<g fill="#f85656" fill-opacity="0.62" stroke="#220606" stroke-opacity="0.88" stroke-width="2.2"><circle cx="566.1" cy="350.7" r="2.4"/></g>
<g fill="#52f6f6" fill-opacity="0.7" stroke="#041c1c" stroke-opacity="0.88" stroke-width="2.3" stroke-linejoin="miter"><path d="M527.3 388.9l7.2 7.2-7.2 7.2-7.2-7.2z"/><path d="M399.1 481.9l10.6 10.6-10.6 10.6-10.6-10.6z"/><path d="M371.3 465.2l9.9 9.9-9.9 9.9-9.9-9.9z"/><path d="M549.2 397.4l6.4 6.4-6.4 6.4-6.4-6.4z"/></g>
<g fill="#f85656" fill-opacity="0.62" stroke="#220606" stroke-opacity="0.88" stroke-width="2.2"><circle cx="637.4" cy="328.1" r="5.5"/></g>
<g fill="#52f6f6" fill-opacity="0.7" stroke="#041c1c" stroke-opacity="0.88" stroke-width="2.3" stroke-linejoin="miter"><path d="M367 512.6l10 10-10 10-10-10z"/><path d="M384.1 405.7l7.7 7.7-7.7 7.7-7.7-7.7z"/><path d="M448.1 413.3l10.3 10.3-10.3 10.3-10.3-10.3z"/><path d="M548.8 457.4l6 6-6 6-6-6z"/><path d="M407.8 393.4l11.5 11.5-11.5 11.5-11.5-11.5z"/><path d="M312.9 528.9l9.5 9.5-9.5 9.5-9.5-9.5z"/><path d="M388.4 546.4l8 8-8 8-8-8z"/><path d="M306.7 556.2l7.7 7.7-7.7 7.7-7.7-7.7z"/><path d="M356.9 447.5l7.8 7.8-7.8 7.8-7.8-7.8z"/><path d="M360.6 480.9l8.7 8.7-8.7 8.7-8.7-8.7z"/><path d="M442.1 497.3l8.2 8.2-8.2 8.2-8.2-8.2z"/><path d="M504.5 384.3l8.3 8.3-8.3 8.3-8.3-8.3z"/><path d="M325.7 486.1l7.9 7.9-7.9 7.9-7.9-7.9z"/><path d="M425.4 434.5l8.7 8.7-8.7 8.7-8.7-8.7z"/><path d="M411.4 479l10.7 10.7-10.7 10.7-10.7-10.7z"/><path d="M389.3 411.3l8.6 8.6-8.6 8.6-8.6-8.6z"/></g>
<g fill="#f85656" fill-opacity="0.62" stroke="#220606" stroke-opacity="0.88" stroke-width="2.2"><circle cx="886.7" cy="185.6" r="7"/></g>
<g fill="#52f6f6" fill-opacity="0.7" stroke="#041c1c" stroke-opacity="0.88" stroke-width="2.3" stroke-linejoin="miter"><path d="M351.3 501.1l9 9-9 9-9-9z"/><path d="M379.9 529.2l8.7 8.7-8.7 8.7-8.7-8.7z"/><path d="M358.3 527.4l9 9-9 9-9-9z"/><path d="M491.3 403.3l9.1 9.1-9.1 9.1-9.1-9.1z"/><path d="M402.2 520.1l7.6 7.6-7.6 7.6-7.6-7.6z"/><path d="M436 491.8l9.8 9.8-9.8 9.8-9.8-9.8z"/><path d="M521.3 433.7l7.5 7.5-7.5 7.5-7.5-7.5z"/></g>
<g fill="#f85656" fill-opacity="0.62" stroke="#220606" stroke-opacity="0.88" stroke-width="2.2"><circle cx="631.8" cy="320.4" r="5.6"/></g>
<g fill="#52f6f6" fill-opacity="0.7" stroke="#041c1c" stroke-opacity="0.88" stroke-width="2.3" stroke-linejoin="miter"><path d="M319.7 497.9l8.7 8.7-8.7 8.7-8.7-8.7z"/><path d="M374 464.3l8.7 8.7-8.7 8.7-8.7-8.7z"/><path d="M497.9 473l9.4 9.4-9.4 9.4-9.4-9.4z"/><path d="M303.1 609.2l4 4-4 4-4-4z"/></g>
<g fill="#f85656" fill-opacity="0.62" stroke="#220606" stroke-opacity="0.88" stroke-width="2.2"><circle cx="686.4" cy="289.5" r="6.2"/></g>
<g fill="#52f6f6" fill-opacity="0.7" stroke="#041c1c" stroke-opacity="0.88" stroke-width="2.3" stroke-linejoin="miter"><path d="M512.7 327.1l3 3-3 3-3-3z"/><path d="M395 534l7.7 7.7-7.7 7.7-7.7-7.7z"/><path d="M505.8 372.9l6.8 6.8-6.8 6.8-6.8-6.8z"/><path d="M388.1 440l8.3 8.3-8.3 8.3-8.3-8.3z"/><path d="M444.5 467.2l10.4 10.4-10.4 10.4-10.4-10.4z"/><path d="M417.9 481l8.7 8.7-8.7 8.7-8.7-8.7z"/><path d="M391.9 457.6l10.5 10.5-10.5 10.5-10.5-10.5z"/><path d="M338.2 498.9l9.9 9.9-9.9 9.9-9.9-9.9z"/><path d="M398.4 512.7l8.9 8.9-8.9 8.9-8.9-8.9z"/><path d="M460 488.4l9.3 9.3-9.3 9.3-9.3-9.3z"/><path d="M365.4 483.9l9.5 9.5-9.5 9.5-9.5-9.5z"/><path d="M355.3 470.7l7.7 7.7-7.7 7.7-7.7-7.7z"/><path d="M625.4 402.5l3.2 3.2-3.2 3.2-3.2-3.2z"/></g>
<g fill="#f85656" fill-opacity="0.62" stroke="#220606" stroke-opacity="0.88" stroke-width="2.2"><circle cx="576.4" cy="308.7" r="4.9"/><circle cx="623.8" cy="320.8" r="5"/></g>
<g fill="#52f6f6" fill-opacity="0.7" stroke="#041c1c" stroke-opacity="0.88" stroke-width="2.3" stroke-linejoin="miter"><path d="M378.2 559.4l7.5 7.5-7.5 7.5-7.5-7.5z"/><path d="M397 456.4l8.2 8.2-8.2 8.2-8.2-8.2z"/><path d="M458.1 474.5l8.6 8.6-8.6 8.6-8.6-8.6z"/></g>
<g fill="#f85656" fill-opacity="0.62" stroke="#220606" stroke-opacity="0.88" stroke-width="2.2"><circle cx="594.1" cy="327" r="3.9"/></g>
<g fill="#52f6f6" fill-opacity="0.7" stroke="#041c1c" stroke-opacity="0.88" stroke-width="2.3" stroke-linejoin="miter"><path d="M431.2 418.4l10.8 10.8-10.8 10.8-10.8-10.8z"/><path d="M367.6 451.1l9.3 9.3-9.3 9.3-9.3-9.3z"/></g>
<g fill="#f85656" fill-opacity="0.62" stroke="#220606" stroke-opacity="0.88" stroke-width="2.2"><circle cx="528.9" cy="320.5" r="2.5"/></g>
<g fill="#52f6f6" fill-opacity="0.7" stroke="#041c1c" stroke-opacity="0.88" stroke-width="2.3" stroke-linejoin="miter"><path d="M421.6 500.2l8.6 8.6-8.6 8.6-8.6-8.6z"/><path d="M452 470.9l10.2 10.2-10.2 10.2-10.2-10.2z"/><path d="M457.5 416.8l11 11-11 11-11-11z"/><path d="M404.4 495.5l10.6 10.6-10.6 10.6-10.6-10.6z"/><path d="M340.3 568.6l5.8 5.8-5.8 5.8-5.8-5.8z"/><path d="M323.7 580.5l7.2 7.2-7.2 7.2-7.2-7.2z"/><path d="M448.5 422l10.2 10.2-10.2 10.2-10.2-10.2z"/><path d="M452.9 575.8l5.8 5.8-5.8 5.8-5.8-5.8z"/><path d="M489 407l10.9 10.9-10.9 10.9-10.9-10.9z"/><path d="M305.2 473.1l8.7 8.7-8.7 8.7-8.7-8.7z"/><path d="M356.6 541.4l8 8-8 8-8-8z"/><path d="M348.8 465.1l9.4 9.4-9.4 9.4-9.4-9.4z"/><path d="M431.6 494.5l8.3 8.3-8.3 8.3-8.3-8.3z"/><path d="M410.5 511.3l9 9-9 9-9-9z"/><path d="M299 492l6.5 6.5-6.5 6.5-6.5-6.5z"/></g>
<g fill="#f85656" fill-opacity="0.62" stroke="#220606" stroke-opacity="0.88" stroke-width="2.2"><circle cx="564.9" cy="341" r="2.9"/></g>
<g fill="#52f6f6" fill-opacity="0.7" stroke="#041c1c" stroke-opacity="0.88" stroke-width="2.3" stroke-linejoin="miter"><path d="M432.9 442.7l9.1 9.1-9.1 9.1-9.1-9.1z"/><path d="M508.7 359.1l6.6 6.6-6.6 6.6-6.6-6.6z"/><path d="M456.6 405.9l9 9-9 9-9-9z"/><path d="M566 400.6l4.9 4.9-4.9 4.9-4.9-4.9z"/><path d="M490.7 384l7.3 7.3-7.3 7.3-7.3-7.3z"/><path d="M486.8 419.8l9.1 9.1-9.1 9.1-9.1-9.1z"/></g>
<g fill="#f85656" fill-opacity="0.62" stroke="#220606" stroke-opacity="0.88" stroke-width="2.2"><circle cx="861" cy="194.4" r="7"/></g>
<g fill="#52f6f6" fill-opacity="0.7" stroke="#041c1c" stroke-opacity="0.88" stroke-width="2.3" stroke-linejoin="miter"><path d="M590.5 392.4l3.6 3.6-3.6 3.6-3.6-3.6z"/><path d="M472.5 461.4l8.5 8.5-8.5 8.5-8.5-8.5z"/><path d="M511.4 346.7l3.9 3.9-3.9 3.9-3.9-3.9z"/><path d="M372.7 535.1l8.4 8.4-8.4 8.4-8.4-8.4z"/><path d="M437.5 489.3l8.5 8.5-8.5 8.5-8.5-8.5z"/><path d="M287.1 568.9l4.6 4.6-4.6 4.6-4.6-4.6z"/><path d="M549.5 389.1l5.2 5.2-5.2 5.2-5.2-5.2z"/></g>
<g fill="#f85656" fill-opacity="0.62" stroke="#220606" stroke-opacity="0.88" stroke-width="2.2"><circle cx="527.4" cy="679.1" r="2"/></g>
<g fill="#52f6f6" fill-opacity="0.7" stroke="#041c1c" stroke-opacity="0.88" stroke-width="2.3" stroke-linejoin="miter"><path d="M502.9 352.6l4.8 4.8-4.8 4.8-4.8-4.8z"/><path d="M391.8 513.3l7.9 7.9-7.9 7.9-7.9-7.9z"/><path d="M370.3 468.3l10.4 10.4-10.4 10.4-10.4-10.4z"/><path d="M319.3 500.7l8.2 8.2-8.2 8.2-8.2-8.2z"/><path d="M371 539.6l9 9-9 9-9-9z"/></g>
<g fill="#f85656" fill-opacity="0.62" stroke="#220606" stroke-opacity="0.88" stroke-width="2.2"><circle cx="579.4" cy="362.2" r="2.1"/><circle cx="714.3" cy="250.8" r="6.6"/></g>
<g fill="#52f6f6" fill-opacity="0.7" stroke="#041c1c" stroke-opacity="0.88" stroke-width="2.3" stroke-linejoin="miter"><path d="M345 494.2l7.8 7.8-7.8 7.8-7.8-7.8z"/></g>
<g fill="#f85656" fill-opacity="0.62" stroke="#220606" stroke-opacity="0.88" stroke-width="2.2"><circle cx="609.8" cy="324.6" r="5.3"/></g>
<g fill="#52f6f6" fill-opacity="0.7" stroke="#041c1c" stroke-opacity="0.88" stroke-width="2.3" stroke-linejoin="miter"><path d="M382.8 515.3l8.9 8.9-8.9 8.9-8.9-8.9z"/><path d="M269.3 567.9l6.3 6.3-6.3 6.3-6.3-6.3z"/></g>
<g fill="#f85656" fill-opacity="0.62" stroke="#220606" stroke-opacity="0.88" stroke-width="2.2"><circle cx="868.2" cy="162.6" r="6.8"/></g>
<g fill="#52f6f6" fill-opacity="0.7" stroke="#041c1c" stroke-opacity="0.88" stroke-width="2.3" stroke-linejoin="miter"><path d="M438.3 397.4l8.6 8.6-8.6 8.6-8.6-8.6z"/><path d="M374.4 516.2l8.8 8.8-8.8 8.8-8.8-8.8z"/><path d="M402 517.3l8.8 8.8-8.8 8.8-8.8-8.8z"/><path d="M496.1 421.8l9.4 9.4-9.4 9.4-9.4-9.4z"/><path d="M402.4 416.8l9.6 9.6-9.6 9.6-9.6-9.6z"/><path d="M477.3 508.2l8.4 8.4-8.4 8.4-8.4-8.4z"/><path d="M541.4 377.4l5.6 5.6-5.6 5.6-5.6-5.6z"/></g>
<g fill="#f85656" fill-opacity="0.62" stroke="#220606" stroke-opacity="0.88" stroke-width="2.2"><circle cx="623.6" cy="321.4" r="5.5"/></g>
<g fill="#52f6f6" fill-opacity="0.7" stroke="#041c1c" stroke-opacity="0.88" stroke-width="2.3" stroke-linejoin="miter"><path d="M346 448.7l8.1 8.1-8.1 8.1-8.1-8.1z"/><path d="M500 381.6l8.3 8.3-8.3 8.3-8.3-8.3z"/><path d="M344.3 482l7.6 7.6-7.6 7.6-7.6-7.6z"/><path d="M542.5 519l5.9 5.9-5.9 5.9-5.9-5.9z"/><path d="M540.3 344.4l2.6 2.6-2.6 2.6-2.6-2.6z"/><path d="M609.6 389.4l2.8 2.8-2.8 2.8-2.8-2.8z"/><path d="M504.4 404.8l7.4 7.4-7.4 7.4-7.4-7.4z"/><path d="M393.7 512.6l8.8 8.8-8.8 8.8-8.8-8.8z"/><path d="M467.9 394l9.4 9.4-9.4 9.4-9.4-9.4z"/><path d="M333.4 494.9l9.6 9.6-9.6 9.6-9.6-9.6z"/><path d="M406.9 545.6l6.8 6.8-6.8 6.8-6.8-6.8z"/><path d="M400.3 455.1l8.1 8.1-8.1 8.1-8.1-8.1z"/><path d="M567.1 379.9l5.1 5.1-5.1 5.1-5.1-5.1z"/></g>
<g fill="#f85656" fill-opacity="0.62" stroke="#220606" stroke-opacity="0.88" stroke-width="2.2"><circle cx="648.3" cy="312.2" r="5.5"/></g>
<g fill="#52f6f6" fill-opacity="0.7" stroke="#041c1c" stroke-opacity="0.88" stroke-width="2.3" stroke-linejoin="miter"><path d="M412.3 529.4l7.2 7.2-7.2 7.2-7.2-7.2z"/><path d="M505.5 383.4l7.1 7.1-7.1 7.1-7.1-7.1z"/><path d="M263.7 457l6.4 6.4-6.4 6.4-6.4-6.4z"/><path d="M382.4 461.7l10.5 10.5-10.5 10.5-10.5-10.5z"/><path d="M562.4 359.1l3.1 3.1-3.1 3.1-3.1-3.1z"/><path d="M374 490l10.6 10.6-10.6 10.6-10.6-10.6z"/><path d="M551.3 388l6.4 6.4-6.4 6.4-6.4-6.4z"/></g>
<g fill="#f85656" fill-opacity="0.62" stroke="#220606" stroke-opacity="0.88" stroke-width="2.2"><circle cx="675.8" cy="297.4" r="5.9"/></g>
<g fill="#52f6f6" fill-opacity="0.7" stroke="#041c1c" stroke-opacity="0.88" stroke-width="2.3" stroke-linejoin="miter"><path d="M409.5 458.5l8.8 8.8-8.8 8.8-8.8-8.8z"/><path d="M443.4 444.4l8.7 8.7-8.7 8.7-8.7-8.7z"/><path d="M524.1 379.4l6.8 6.8-6.8 6.8-6.8-6.8z"/><path d="M400.2 456.2l9.3 9.3-9.3 9.3-9.3-9.3z"/><path d="M546 390.9l5.2 5.2-5.2 5.2-5.2-5.2z"/><path d="M512.1 383.2l5.7 5.7-5.7 5.7-5.7-5.7z"/></g>
<g fill="#f85656" fill-opacity="0.62" stroke="#220606" stroke-opacity="0.88" stroke-width="2.2"><circle cx="599.7" cy="295.3" r="6.1"/></g>
<g fill="#52f6f6" fill-opacity="0.7" stroke="#041c1c" stroke-opacity="0.88" stroke-width="2.3" stroke-linejoin="miter"><path d="M547 391.8l7 7-7 7-7-7z"/><path d="M480.4 485.5l7.3 7.3-7.3 7.3-7.3-7.3z"/><path d="M409.1 452.8l10.3 10.3-10.3 10.3-10.3-10.3z"/></g>
<g fill="#f85656" fill-opacity="0.62" stroke="#220606" stroke-opacity="0.88" stroke-width="2.2"><circle cx="673.2" cy="291.9" r="6.2"/><circle cx="565.4" cy="346.6" r="2.5"/></g>
<g fill="#52f6f6" fill-opacity="0.7" stroke="#041c1c" stroke-opacity="0.88" stroke-width="2.3" stroke-linejoin="miter"><path d="M386.1 452.6l9.3 9.3-9.3 9.3-9.3-9.3z"/><path d="M294.1 532.9l7.6 7.6-7.6 7.6-7.6-7.6z"/><path d="M451.2 383.4l10.2 10.2-10.2 10.2-10.2-10.2z"/><path d="M421.3 461.9l10.5 10.5-10.5 10.5-10.5-10.5z"/></g>
<g fill="#f85656" fill-opacity="0.62" stroke="#220606" stroke-opacity="0.88" stroke-width="2.2"><circle cx="565.7" cy="335.6" r="3.2"/></g>
<g fill="#52f6f6" fill-opacity="0.7" stroke="#041c1c" stroke-opacity="0.88" stroke-width="2.3" stroke-linejoin="miter"><path d="M507.9 396.6l9.3 9.3-9.3 9.3-9.3-9.3z"/><path d="M385.6 494.8l9.5 9.5-9.5 9.5-9.5-9.5z"/><path d="M391.6 421.8l8.2 8.2-8.2 8.2-8.2-8.2z"/><path d="M454.4 487.2l9 9-9 9-9-9z"/><path d="M364.2 468.5l9.8 9.8-9.8 9.8-9.8-9.8z"/><path d="M382.1 452.3l10.9 10.9-10.9 10.9-10.9-10.9z"/><path d="M274.2 582.8l5.6 5.6-5.6 5.6-5.6-5.6z"/><path d="M517.4 448.8l9 9-9 9-9-9z"/><path d="M323.1 455.7l7.7 7.7-7.7 7.7-7.7-7.7z"/><path d="M426 518.2l9.5 9.5-9.5 9.5-9.5-9.5z"/><path d="M339.9 511.4l7.8 7.8-7.8 7.8-7.8-7.8z"/><path d="M474.6 431.8l9.4 9.4-9.4 9.4-9.4-9.4z"/><path d="M562.3 397.9l5.6 5.6-5.6 5.6-5.6-5.6z"/><path d="M548 347.2l2.5 2.5-2.5 2.5-2.5-2.5z"/><path d="M435 424.7l9.9 9.9-9.9 9.9-9.9-9.9z"/><path d="M481 421.6l8.4 8.4-8.4 8.4-8.4-8.4z"/><path d="M407.3 430.7l10.2 10.2-10.2 10.2-10.2-10.2z"/><path d="M370.7 438.1l9.4 9.4-9.4 9.4-9.4-9.4z"/></g>
<g fill="#f85656" fill-opacity="0.62" stroke="#220606" stroke-opacity="0.88" stroke-width="2.2"><circle cx="676.3" cy="266.5" r="7.1"/><circle cx="650.3" cy="227.7" r="6.8"/></g>
<g fill="#52f6f6" fill-opacity="0.7" stroke="#041c1c" stroke-opacity="0.88" stroke-width="2.3" stroke-linejoin="miter"><path d="M429.2 402.7l8.1 8.1-8.1 8.1-8.1-8.1z"/><path d="M526.2 446.7l9.3 9.3-9.3 9.3-9.3-9.3z"/><path d="M374.4 425.9l9.5 9.5-9.5 9.5-9.5-9.5z"/><path d="M409.6 491.6l10 10-10 10-10-10z"/><path d="M305.9 520.5l7.3 7.3-7.3 7.3-7.3-7.3z"/><path d="M488.2 408.8l9.3 9.3-9.3 9.3-9.3-9.3z"/><path d="M517.3 366.4l6.5 6.5-6.5 6.5-6.5-6.5z"/></g>
<g fill="#f85656" fill-opacity="0.62" stroke="#220606" stroke-opacity="0.88" stroke-width="2.2"><circle cx="646.2" cy="298" r="5.6"/></g>
<g fill="#52f6f6" fill-opacity="0.7" stroke="#041c1c" stroke-opacity="0.88" stroke-width="2.3" stroke-linejoin="miter"><path d="M415.4 483.7l9.8 9.8-9.8 9.8-9.8-9.8z"/><path d="M400.5 422.2l10.3 10.3-10.3 10.3-10.3-10.3z"/><path d="M309.7 483.5l7.1 7.1-7.1 7.1-7.1-7.1z"/><path d="M326.9 568.1l8.1 8.1-8.1 8.1-8.1-8.1z"/><path d="M507.9 424.1l9.7 9.7-9.7 9.7-9.7-9.7z"/><path d="M366.8 529.1l7.6 7.6-7.6 7.6-7.6-7.6z"/><path d="M536.3 371l4.8 4.8-4.8 4.8-4.8-4.8z"/></g>
<g fill="#f85656" fill-opacity="0.62" stroke="#220606" stroke-opacity="0.88" stroke-width="2.2"><circle cx="669.4" cy="318.6" r="6.2"/></g>
<g fill="#52f6f6" fill-opacity="0.7" stroke="#041c1c" stroke-opacity="0.88" stroke-width="2.3" stroke-linejoin="miter"><path d="M579.3 390.9l4.8 4.8-4.8 4.8-4.8-4.8z"/><path d="M522.8 405.6l8.9 8.9-8.9 8.9-8.9-8.9z"/><path d="M561.8 384.9l4.1 4.1-4.1 4.1-4.1-4.1z"/><path d="M424.4 474l8.6 8.6-8.6 8.6-8.6-8.6z"/><path d="M453.9 484.4l10.2 10.2-10.2 10.2-10.2-10.2z"/></g>
<g fill="#f85656" fill-opacity="0.62" stroke="#220606" stroke-opacity="0.88" stroke-width="2.2"><circle cx="619.9" cy="289.9" r="5.6"/></g>
<g fill="#52f6f6" fill-opacity="0.7" stroke="#041c1c" stroke-opacity="0.88" stroke-width="2.3" stroke-linejoin="miter"><path d="M509.3 385.4l7 7-7 7-7-7z"/><path d="M485.7 310.7l2.9 2.9-2.9 2.9-2.9-2.9z"/><path d="M328.8 518.5l8.6 8.6-8.6 8.6-8.6-8.6z"/><path d="M449.2 496.6l10.3 10.3-10.3 10.3-10.3-10.3z"/><path d="M566.3 381.1l4.6 4.6-4.6 4.6-4.6-4.6z"/></g>
<g fill="#f85656" fill-opacity="0.62" stroke="#220606" stroke-opacity="0.88" stroke-width="2.2"><circle cx="531.5" cy="331.4" r="2"/></g>
<g fill="#52f6f6" fill-opacity="0.7" stroke="#041c1c" stroke-opacity="0.88" stroke-width="2.3" stroke-linejoin="miter"><path d="M367 478.8l10.6 10.6-10.6 10.6-10.6-10.6z"/><path d="M548.7 377.4l5.1 5.1-5.1 5.1-5.1-5.1z"/></g>
<g fill="#f85656" fill-opacity="0.62" stroke="#220606" stroke-opacity="0.88" stroke-width="2.2"><circle cx="628.8" cy="318" r="5.6"/></g>
<g fill="#52f6f6" fill-opacity="0.7" stroke="#041c1c" stroke-opacity="0.88" stroke-width="2.3" stroke-linejoin="miter"><path d="M475.1 405.9l8.9 8.9-8.9 8.9-8.9-8.9z"/><path d="M482.7 373.5l8.9 8.9-8.9 8.9-8.9-8.9z"/><path d="M558.4 390.6l6.2 6.2-6.2 6.2-6.2-6.2z"/><path d="M415.9 425.8l8.2 8.2-8.2 8.2-8.2-8.2z"/><path d="M419.8 442.9l10.4 10.4-10.4 10.4-10.4-10.4z"/><path d="M453.9 422.5l9.1 9.1-9.1 9.1-9.1-9.1z"/><path d="M400.8 524l8.4 8.4-8.4 8.4-8.4-8.4z"/><path d="M559 366l4.2 4.2-4.2 4.2-4.2-4.2z"/><path d="M471.2 381.5l7.6 7.6-7.6 7.6-7.6-7.6z"/><path d="M343.1 529.8l8.3 8.3-8.3 8.3-8.3-8.3z"/><path d="M448.6 472.7l10.5 10.5-10.5 10.5-10.5-10.5z"/></g>
<g fill="#f85656" fill-opacity="0.62" stroke="#220606" stroke-opacity="0.88" stroke-width="2.2"><circle cx="601.3" cy="301.2" r="5.2"/><circle cx="590.9" cy="364.5" r="2.4"/></g>
<g fill="#52f6f6" fill-opacity="0.7" stroke="#041c1c" stroke-opacity="0.88" stroke-width="2.3" stroke-linejoin="miter"><path d="M381.5 471.5l9.2 9.2-9.2 9.2-9.2-9.2z"/><path d="M433.1 385.9l10.4 10.4-10.4 10.4-10.4-10.4z"/><path d="M321.4 520.9l7.5 7.5-7.5 7.5-7.5-7.5z"/><path d="M395.7 468.2l11.2 11.2-11.2 11.2-11.2-11.2z"/><path d="M398.4 535.5l9.3 9.3-9.3 9.3-9.3-9.3z"/></g>
<g fill="#f85656" fill-opacity="0.62" stroke="#220606" stroke-opacity="0.88" stroke-width="2.2"><circle cx="548.4" cy="335.3" r="2.4"/></g>
<g fill="#52f6f6" fill-opacity="0.7" stroke="#041c1c" stroke-opacity="0.88" stroke-width="2.3" stroke-linejoin="miter"><path d="M420 465.1l9.8 9.8-9.8 9.8-9.8-9.8z"/><path d="M459.7 457l8.5 8.5-8.5 8.5-8.5-8.5z"/></g>
<g fill="#f85656" fill-opacity="0.62" stroke="#220606" stroke-opacity="0.88" stroke-width="2.2"><circle cx="613.4" cy="322" r="5"/></g>
<g fill="#52f6f6" fill-opacity="0.7" stroke="#041c1c" stroke-opacity="0.88" stroke-width="2.3" stroke-linejoin="miter"><path d="M328.2 539.7l9.6 9.6-9.6 9.6-9.6-9.6z"/><path d="M414.9 435.4l8.5 8.5-8.5 8.5-8.5-8.5z"/></g>
<g fill="#f85656" fill-opacity="0.62" stroke="#220606" stroke-opacity="0.88" stroke-width="2.2"><circle cx="642.7" cy="314" r="6"/></g>
<g fill="#52f6f6" fill-opacity="0.7" stroke="#041c1c" stroke-opacity="0.88" stroke-width="2.3" stroke-linejoin="miter"><path d="M433.7 535.7l7.1 7.1-7.1 7.1-7.1-7.1z"/><path d="M268.3 533.6l8.1 8.1-8.1 8.1-8.1-8.1z"/></g>
<g fill="#f85656" fill-opacity="0.62" stroke="#220606" stroke-opacity="0.88" stroke-width="2.2"><circle cx="590.7" cy="351.4" r="3.1"/></g>
<g fill="#52f6f6" fill-opacity="0.7" stroke="#041c1c" stroke-opacity="0.88" stroke-width="2.3" stroke-linejoin="miter"><path d="M436.7 400.7l8.5 8.5-8.5 8.5-8.5-8.5z"/><path d="M469.6 462.5l8.5 8.5-8.5 8.5-8.5-8.5z"/><path d="M363.6 488.4l9.1 9.1-9.1 9.1-9.1-9.1z"/><path d="M488.7 449.2l9.8 9.8-9.8 9.8-9.8-9.8z"/><path d="M503.7 442.8l8.6 8.6-8.6 8.6-8.6-8.6z"/><path d="M564.2 380.7l4.1 4.1-4.1 4.1-4.1-4.1z"/><path d="M448.8 392.9l9.7 9.7-9.7 9.7-9.7-9.7z"/><path d="M502.7 419.9l8.3 8.3-8.3 8.3-8.3-8.3z"/><path d="M477.3 433.2l9.8 9.8-9.8 9.8-9.8-9.8z"/><path d="M575.5 416.5l5.9 5.9-5.9 5.9-5.9-5.9z"/><path d="M410.5 535.1l7.9 7.9-7.9 7.9-7.9-7.9z"/><path d="M426.9 522.2l7.9 7.9-7.9 7.9-7.9-7.9z"/><path d="M235.8 561.6l7.2 7.2-7.2 7.2-7.2-7.2z"/><path d="M326.1 474.6l8.1 8.1-8.1 8.1-8.1-8.1z"/></g>
<g fill="#f85656" fill-opacity="0.62" stroke="#220606" stroke-opacity="0.88" stroke-width="2.2"><circle cx="620.6" cy="304.1" r="5.4"/><circle cx="601" cy="304.7" r="5"/></g>
<g fill="#52f6f6" fill-opacity="0.7" stroke="#041c1c" stroke-opacity="0.88" stroke-width="2.3" stroke-linejoin="miter"><path d="M511.2 414.2l7.6 7.6-7.6 7.6-7.6-7.6z"/></g>
<g fill="#f85656" fill-opacity="0.62" stroke="#220606" stroke-opacity="0.88" stroke-width="2.2"><circle cx="604.2" cy="295.5" r="5.8"/></g>
<g fill="#52f6f6" fill-opacity="0.7" stroke="#041c1c" stroke-opacity="0.88" stroke-width="2.3" stroke-linejoin="miter"><path d="M503 376.1l6.4 6.4-6.4 6.4-6.4-6.4z"/><path d="M485.2 437.1l10.1 10.1-10.1 10.1-10.1-10.1z"/><path d="M410.1 497.4l9.3 9.3-9.3 9.3-9.3-9.3z"/><path d="M268.4 581.8l5.1 5.1-5.1 5.1-5.1-5.1z"/><path d="M457.7 386.6l8.4 8.4-8.4 8.4-8.4-8.4z"/><path d="M441.7 480.7l8.5 8.5-8.5 8.5-8.5-8.5z"/><path d="M551 384.5l5 5-5 5-5-5z"/><path d="M394.2 468.1l9.5 9.5-9.5 9.5-9.5-9.5z"/><path d="M359 479l9.3 9.3-9.3 9.3-9.3-9.3z"/><path d="M407.2 558.6l7.8 7.8-7.8 7.8-7.8-7.8z"/><path d="M344.1 489.1l8.3 8.3-8.3 8.3-8.3-8.3z"/><path d="M474.7 481.2l9.1 9.1-9.1 9.1-9.1-9.1z"/><path d="M373.9 511.6l9.9 9.9-9.9 9.9-9.9-9.9z"/></g>
<g fill="#f85656" fill-opacity="0.62" stroke="#220606" stroke-opacity="0.88" stroke-width="2.2"><circle cx="608.5" cy="328.1" r="4.9"/></g>
<g fill="#52f6f6" fill-opacity="0.7" stroke="#041c1c" stroke-opacity="0.88" stroke-width="2.3" stroke-linejoin="miter"><path d="M553.9 380.5l5 5-5 5-5-5z"/><path d="M551 480.4l5.4 5.4-5.4 5.4-5.4-5.4z"/><path d="M461.4 360.9l8.2 8.2-8.2 8.2-8.2-8.2z"/><path d="M394.2 460.7l10 10-10 10-10-10z"/><path d="M472.9 515.9l7.3 7.3-7.3 7.3-7.3-7.3z"/><path d="M466.6 443.8l10.5 10.5-10.5 10.5-10.5-10.5z"/><path d="M519.4 390.4l7.6 7.6-7.6 7.6-7.6-7.6z"/><path d="M419.5 464.4l10.3 10.3-10.3 10.3-10.3-10.3z"/><path d="M331 469.3l9.4 9.4-9.4 9.4-9.4-9.4z"/><path d="M296.1 572.4l5.8 5.8-5.8 5.8-5.8-5.8z"/><path d="M426.6 436.7l9.3 9.3-9.3 9.3-9.3-9.3z"/><path d="M436.7 522.8l8.5 8.5-8.5 8.5-8.5-8.5z"/><path d="M393.7 423.6l9.3 9.3-9.3 9.3-9.3-9.3z"/><path d="M407.9 541.8l7.6 7.6-7.6 7.6-7.6-7.6z"/><path d="M429.8 530.9l7.1 7.1-7.1 7.1-7.1-7.1z"/><path d="M367.7 506.2l8.9 8.9-8.9 8.9-8.9-8.9z"/><path d="M545.3 414.7l7.1 7.1-7.1 7.1-7.1-7.1z"/><path d="M359.4 458.9l9.4 9.4-9.4 9.4-9.4-9.4z"/></g>
<g fill="#f85656" fill-opacity="0.62" stroke="#220606" stroke-opacity="0.88" stroke-width="2.2"><circle cx="684.6" cy="254.2" r="7"/><circle cx="681.3" cy="270.5" r="6.5"/></g>
<g fill="#52f6f6" fill-opacity="0.7" stroke="#041c1c" stroke-opacity="0.88" stroke-width="2.3" stroke-linejoin="miter"><path d="M579 404.4l6.2 6.2-6.2 6.2-6.2-6.2z"/><path d="M412.9 513.1l10.1 10.1-10.1 10.1-10.1-10.1z"/><path d="M431.8 402.7l10.4 10.4-10.4 10.4-10.4-10.4z"/><path d="M341.3 504.7l9.6 9.6-9.6 9.6-9.6-9.6z"/><path d="M455.4 443.8l10.3 10.3-10.3 10.3-10.3-10.3z"/><path d="M294.3 590.4l5 5-5 5-5-5z"/><path d="M515.1 378.8l6.8 6.8-6.8 6.8-6.8-6.8z"/><path d="M362.1 477.2l7.8 7.8-7.8 7.8-7.8-7.8z"/><path d="M423 401.8l8.6 8.6-8.6 8.6-8.6-8.6z"/></g>
<g fill="#f85656" fill-opacity="0.62" stroke="#220606" stroke-opacity="0.88" stroke-width="2.2"><circle cx="658.3" cy="294.6" r="6.3"/></g>
<g fill="#52f6f6" fill-opacity="0.7" stroke="#041c1c" stroke-opacity="0.88" stroke-width="2.3" stroke-linejoin="miter"><path d="M313.7 522.9l9.5 9.5-9.5 9.5-9.5-9.5z"/><path d="M302.4 570.8l5.3 5.3-5.3 5.3-5.3-5.3z"/><path d="M543.2 371.6l4.6 4.6-4.6 4.6-4.6-4.6z"/><path d="M419.8 509.1l8.4 8.4-8.4 8.4-8.4-8.4z"/><path d="M406.5 487.6l9.3 9.3-9.3 9.3-9.3-9.3z"/><path d="M495.8 363.9l7.6 7.6-7.6 7.6-7.6-7.6z"/><path d="M481 471.7l9.2 9.2-9.2 9.2-9.2-9.2z"/><path d="M331.7 550.2l7.3 7.3-7.3 7.3-7.3-7.3z"/><path d="M324 579.4l4.6 4.6-4.6 4.6-4.6-4.6z"/><path d="M528.5 371.3l6.1 6.1-6.1 6.1-6.1-6.1z"/><path d="M403.1 479.3l8.3 8.3-8.3 8.3-8.3-8.3z"/><path d="M508.6 351.9l4.8 4.8-4.8 4.8-4.8-4.8z"/><path d="M508.1 419.5l7.6 7.6-7.6 7.6-7.6-7.6z"/><path d="M517.2 521.6l5.4 5.4-5.4 5.4-5.4-5.4z"/><path d="M365.2 480l9.2 9.2-9.2 9.2-9.2-9.2z"/><path d="M515.1 470.9l8.3 8.3-8.3 8.3-8.3-8.3z"/><path d="M354.1 551.7l8.6 8.6-8.6 8.6-8.6-8.6z"/><path d="M424.7 446.8l9.5 9.5-9.5 9.5-9.5-9.5z"/><path d="M452.5 505l8.4 8.4-8.4 8.4-8.4-8.4z"/><path d="M378.7 488l10.6 10.6-10.6 10.6-10.6-10.6z"/><path d="M462.8 443.6l10.8 10.8-10.8 10.8-10.8-10.8z"/></g>
<g fill="#f85656" fill-opacity="0.62" stroke="#220606" stroke-opacity="0.88" stroke-width="2.2"><circle cx="587" cy="363.6" r="2.4"/></g>
<g fill="#52f6f6" fill-opacity="0.7" stroke="#041c1c" stroke-opacity="0.88" stroke-width="2.3" stroke-linejoin="miter"><path d="M404.7 484.1l8.4 8.4-8.4 8.4-8.4-8.4z"/><path d="M314 541.2l9.4 9.4-9.4 9.4-9.4-9.4z"/><path d="M416.4 529.2l8.1 8.1-8.1 8.1-8.1-8.1z"/><path d="M369.2 536l9 9-9 9-9-9z"/><path d="M358 507.5l8.6 8.6-8.6 8.6-8.6-8.6z"/><path d="M460.4 531.2l8.1 8.1-8.1 8.1-8.1-8.1z"/><path d="M327.9 519.9l7.7 7.7-7.7 7.7-7.7-7.7z"/><path d="M348.6 485.2l9.4 9.4-9.4 9.4-9.4-9.4z"/><path d="M436.6 500.3l9.7 9.7-9.7 9.7-9.7-9.7z"/><path d="M369.4 501.6l10.5 10.5-10.5 10.5-10.5-10.5z"/><path d="M397.4 418.3l8.7 8.7-8.7 8.7-8.7-8.7z"/><path d="M317.5 511.3l8.4 8.4-8.4 8.4-8.4-8.4z"/><path d="M342.7 463.7l8.2 8.2-8.2 8.2-8.2-8.2z"/><path d="M385.9 494.4l10.4 10.4-10.4 10.4-10.4-10.4z"/></g>
<g fill="#f85656" fill-opacity="0.62" stroke="#220606" stroke-opacity="0.88" stroke-width="2.2"><circle cx="825.1" cy="314.9" r="5"/></g>
<g fill="#52f6f6" fill-opacity="0.7" stroke="#041c1c" stroke-opacity="0.88" stroke-width="2.3" stroke-linejoin="miter"><path d="M432.4 483l11.1 11.1-11.1 11.1-11.1-11.1z"/></g>
<g fill="#f85656" fill-opacity="0.62" stroke="#220606" stroke-opacity="0.88" stroke-width="2.2"><circle cx="611.9" cy="355" r="3.8"/><circle cx="599" cy="321.4" r="4.8"/><circle cx="689.2" cy="240.5" r="7.5"/><circle cx="638.5" cy="311.5" r="6"/></g>
<g fill="#52f6f6" fill-opacity="0.7" stroke="#041c1c" stroke-opacity="0.88" stroke-width="2.3" stroke-linejoin="miter"><path d="M347.7 501.8l7.8 7.8-7.8 7.8-7.8-7.8z"/><path d="M289.8 533l8.5 8.5-8.5 8.5-8.5-8.5z"/><path d="M308.7 514l7.5 7.5-7.5 7.5-7.5-7.5z"/><path d="M451 462.9l9.3 9.3-9.3 9.3-9.3-9.3z"/><path d="M575.8 392.4l3.6 3.6-3.6 3.6-3.6-3.6z"/></g>
<g fill="#f85656" fill-opacity="0.62" stroke="#220606" stroke-opacity="0.88" stroke-width="2.2"><circle cx="733.8" cy="229.2" r="7.2"/><circle cx="576.4" cy="349.1" r="2.9"/></g>
<g fill="#52f6f6" fill-opacity="0.7" stroke="#041c1c" stroke-opacity="0.88" stroke-width="2.3" stroke-linejoin="miter"><path d="M307.8 590.6l5 5-5 5-5-5z"/><path d="M332 561l8.9 8.9-8.9 8.9-8.9-8.9z"/></g>
<g fill="#f85656" fill-opacity="0.62" stroke="#220606" stroke-opacity="0.88" stroke-width="2.2"><circle cx="565.1" cy="348.8" r="2.2"/></g>
<g fill="#52f6f6" fill-opacity="0.7" stroke="#041c1c" stroke-opacity="0.88" stroke-width="2.3" stroke-linejoin="miter"><path d="M654.7 447.6l3 3-3 3-3-3z"/><path d="M455.3 508l7.9 7.9-7.9 7.9-7.9-7.9z"/><path d="M349.6 465.1l8.1 8.1-8.1 8.1-8.1-8.1z"/><path d="M558.8 394.7l6.2 6.2-6.2 6.2-6.2-6.2z"/><path d="M530.1 413.4l9.3 9.3-9.3 9.3-9.3-9.3z"/><path d="M527.4 411.6l6.6 6.6-6.6 6.6-6.6-6.6z"/><path d="M425.6 478.8l10.8 10.8-10.8 10.8-10.8-10.8z"/><path d="M403.4 417l8.7 8.7-8.7 8.7-8.7-8.7z"/><path d="M363.5 518.1l8.2 8.2-8.2 8.2-8.2-8.2z"/><path d="M532 345l3.9 3.9-3.9 3.9-3.9-3.9z"/><path d="M355.4 560.3l5.6 5.6-5.6 5.6-5.6-5.6z"/><path d="M503.9 375.7l6.3 6.3-6.3 6.3-6.3-6.3z"/><path d="M418 400.7l7.9 7.9-7.9 7.9-7.9-7.9z"/><path d="M276.5 550.2l7 7-7 7-7-7z"/><path d="M512.2 423.1l9.6 9.6-9.6 9.6-9.6-9.6z"/><path d="M436 437.4l11.1 11.1-11.1 11.1-11.1-11.1z"/><path d="M477.3 387.2l9.7 9.7-9.7 9.7-9.7-9.7z"/><path d="M532.7 350.5l4.1 4.1-4.1 4.1-4.1-4.1z"/><path d="M497 395.3l8.9 8.9-8.9 8.9-8.9-8.9z"/><path d="M451.3 510l8.6 8.6-8.6 8.6-8.6-8.6z"/><path d="M452.7 473.7l10.8 10.8-10.8 10.8-10.8-10.8z"/><path d="M446.3 478.5l8.7 8.7-8.7 8.7-8.7-8.7z"/><path d="M466.1 414.2l9.6 9.6-9.6 9.6-9.6-9.6z"/></g>
<g fill="#f85656" fill-opacity="0.62" stroke="#220606" stroke-opacity="0.88" stroke-width="2.2"><circle cx="590.2" cy="332" r="3.6"/></g>
<g fill="#52f6f6" fill-opacity="0.7" stroke="#041c1c" stroke-opacity="0.88" stroke-width="2.3" stroke-linejoin="miter"><path d="M348.3 448.1l9.5 9.5-9.5 9.5-9.5-9.5z"/><path d="M339.6 521.4l9.4 9.4-9.4 9.4-9.4-9.4z"/><path d="M552.4 372.4l4.4 4.4-4.4 4.4-4.4-4.4z"/></g>
<g fill="#f85656" fill-opacity="0.62" stroke="#220606" stroke-opacity="0.88" stroke-width="2.2"><circle cx="625.6" cy="319.3" r="5"/></g>
<g fill="#52f6f6" fill-opacity="0.7" stroke="#041c1c" stroke-opacity="0.88" stroke-width="2.3" stroke-linejoin="miter"><path d="M339.7 552.8l8.8 8.8-8.8 8.8-8.8-8.8z"/><path d="M434.3 467.5l10.8 10.8-10.8 10.8-10.8-10.8z"/><path d="M560.5 414l7.7 7.7-7.7 7.7-7.7-7.7z"/><path d="M441.4 472.1l10 10-10 10-10-10z"/><path d="M461.2 447.4l10.5 10.5-10.5 10.5-10.5-10.5z"/><path d="M417.3 488.6l8.9 8.9-8.9 8.9-8.9-8.9z"/><path d="M430.4 514l7.4 7.4-7.4 7.4-7.4-7.4z"/><path d="M460.8 436.5l8.6 8.6-8.6 8.6-8.6-8.6z"/><path d="M473.5 443.3l8.7 8.7-8.7 8.7-8.7-8.7z"/><path d="M454.6 459.5l10.2 10.2-10.2 10.2-10.2-10.2z"/><path d="M534.3 373.9l6.2 6.2-6.2 6.2-6.2-6.2z"/><path d="M438.4 492.3l9.6 9.6-9.6 9.6-9.6-9.6z"/><path d="M359.3 475.6l9.7 9.7-9.7 9.7-9.7-9.7z"/><path d="M374.8 495.9l8 8-8 8-8-8z"/><path d="M463.6 494.7l9.6 9.6-9.6 9.6-9.6-9.6z"/><path d="M291 512.2l7.9 7.9-7.9 7.9-7.9-7.9z"/><path d="M403.6 493.2l10 10-10 10-10-10z"/><path d="M553.8 395.5l5.9 5.9-5.9 5.9-5.9-5.9z"/><path d="M343.7 487.1l9.5 9.5-9.5 9.5-9.5-9.5z"/></g>
<g fill="#f85656" fill-opacity="0.62" stroke="#220606" stroke-opacity="0.88" stroke-width="2.2"><circle cx="671.8" cy="294.1" r="5.5"/></g>
<g fill="#52f6f6" fill-opacity="0.7" stroke="#041c1c" stroke-opacity="0.88" stroke-width="2.3" stroke-linejoin="miter"><path d="M411.9 458.7l8.5 8.5-8.5 8.5-8.5-8.5z"/><path d="M446.4 390.4l10.2 10.2-10.2 10.2-10.2-10.2z"/><path d="M520.7 332.6l2.7 2.7-2.7 2.7-2.7-2.7z"/><path d="M417.8 420.8l8.9 8.9-8.9 8.9-8.9-8.9z"/><path d="M456.6 494l8.7 8.7-8.7 8.7-8.7-8.7z"/><path d="M335 473.5l9.3 9.3-9.3 9.3-9.3-9.3z"/><path d="M525.7 364.6l4.3 4.3-4.3 4.3-4.3-4.3z"/></g>
<g fill="#f85656" fill-opacity="0.62" stroke="#220606" stroke-opacity="0.88" stroke-width="2.2"><circle cx="580.3" cy="329.7" r="3.6"/></g>
<g fill="#52f6f6" fill-opacity="0.7" stroke="#041c1c" stroke-opacity="0.88" stroke-width="2.3" stroke-linejoin="miter"><path d="M529.7 372.2l6.3 6.3-6.3 6.3-6.3-6.3z"/></g>
<g fill="#f85656" fill-opacity="0.62" stroke="#220606" stroke-opacity="0.88" stroke-width="2.2"><circle cx="860.5" cy="131.8" r="7"/></g>
<g fill="#52f6f6" fill-opacity="0.7" stroke="#041c1c" stroke-opacity="0.88" stroke-width="2.3" stroke-linejoin="miter"><path d="M334.7 413.3l7.4 7.4-7.4 7.4-7.4-7.4z"/><path d="M401 510.6l7.8 7.8-7.8 7.8-7.8-7.8z"/><path d="M488.4 357.6l6.9 6.9-6.9 6.9-6.9-6.9z"/></g>
<g fill="#f85656" fill-opacity="0.62" stroke="#220606" stroke-opacity="0.88" stroke-width="2.2"><circle cx="590.8" cy="369" r="2.2"/><circle cx="719.1" cy="244" r="7"/></g>
<g fill="#52f6f6" fill-opacity="0.7" stroke="#041c1c" stroke-opacity="0.88" stroke-width="2.3" stroke-linejoin="miter"><path d="M340.7 491.3l8.5 8.5-8.5 8.5-8.5-8.5z"/><path d="M504.1 374.3l7.1 7.1-7.1 7.1-7.1-7.1z"/><path d="M492 377l6.5 6.5-6.5 6.5-6.5-6.5z"/><path d="M522.4 412.7l8.5 8.5-8.5 8.5-8.5-8.5z"/><path d="M372.1 462.7l8 8-8 8-8-8z"/><path d="M348.6 522.3l9.7 9.7-9.7 9.7-9.7-9.7z"/><path d="M367.5 561.2l7.3 7.3-7.3 7.3-7.3-7.3z"/></g>
<g fill="#f85656" fill-opacity="0.62" stroke="#220606" stroke-opacity="0.88" stroke-width="2.2"><circle cx="638.6" cy="329.1" r="5"/></g>
<g fill="#52f6f6" fill-opacity="0.7" stroke="#041c1c" stroke-opacity="0.88" stroke-width="2.3" stroke-linejoin="miter"><path d="M483 388.6l6.9 6.9-6.9 6.9-6.9-6.9z"/><path d="M475.8 466.2l9 9-9 9-9-9z"/><path d="M432.4 456.2l10.9 10.9-10.9 10.9-10.9-10.9z"/><path d="M554.3 415.3l6.4 6.4-6.4 6.4-6.4-6.4z"/><path d="M444.5 455.2l8.8 8.8-8.8 8.8-8.8-8.8z"/><path d="M314.4 400.8l8.6 8.6-8.6 8.6-8.6-8.6z"/><path d="M497 362.9l5.4 5.4-5.4 5.4-5.4-5.4z"/><path d="M396.8 582.7l6.9 6.9-6.9 6.9-6.9-6.9z"/><path d="M255.5 487.1l6.9 6.9-6.9 6.9-6.9-6.9z"/><path d="M426.9 466.7l8.4 8.4-8.4 8.4-8.4-8.4z"/><path d="M436.4 443.5l9.1 9.1-9.1 9.1-9.1-9.1z"/><path d="M358 508.7l9.6 9.6-9.6 9.6-9.6-9.6z"/></g>
<g fill="#f85656" fill-opacity="0.62" stroke="#220606" stroke-opacity="0.88" stroke-width="2.2"><circle cx="941.5" cy="129.2" r="6.8"/></g>
<g fill="#52f6f6" fill-opacity="0.7" stroke="#041c1c" stroke-opacity="0.88" stroke-width="2.3" stroke-linejoin="miter"><path d="M472.8 411.4l7.9 7.9-7.9 7.9-7.9-7.9z"/></g>
<g fill="#f85656" fill-opacity="0.62" stroke="#220606" stroke-opacity="0.88" stroke-width="2.2"><circle cx="587.8" cy="299.4" r="5.5"/></g>
<g fill="#52f6f6" fill-opacity="0.7" stroke="#041c1c" stroke-opacity="0.88" stroke-width="2.3" stroke-linejoin="miter"><path d="M560 402.6l5.8 5.8-5.8 5.8-5.8-5.8z"/><path d="M416.2 406.2l11.1 11.1-11.1 11.1-11.1-11.1z"/><path d="M404.5 444.3l9.9 9.9-9.9 9.9-9.9-9.9z"/><path d="M484.1 401.5l7.7 7.7-7.7 7.7-7.7-7.7z"/><path d="M408.2 475.4l8.7 8.7-8.7 8.7-8.7-8.7z"/><path d="M425.4 471.9l11.1 11.1-11.1 11.1-11.1-11.1z"/></g>
<g fill="#f85656" fill-opacity="0.62" stroke="#220606" stroke-opacity="0.88" stroke-width="2.2"><circle cx="853.3" cy="135.9" r="7"/></g>
<g fill="#52f6f6" fill-opacity="0.7" stroke="#041c1c" stroke-opacity="0.88" stroke-width="2.3" stroke-linejoin="miter"><path d="M372.2 497.3l8.1 8.1-8.1 8.1-8.1-8.1z"/><path d="M398.1 498.9l8.8 8.8-8.8 8.8-8.8-8.8z"/><path d="M343.1 486.8l8.5 8.5-8.5 8.5-8.5-8.5z"/><path d="M507.1 455.5l8.9 8.9-8.9 8.9-8.9-8.9z"/><path d="M482.6 367.3l6.1 6.1-6.1 6.1-6.1-6.1z"/><path d="M412.3 424.4l10.2 10.2-10.2 10.2-10.2-10.2z"/></g>
<g fill="#f85656" fill-opacity="0.62" stroke="#220606" stroke-opacity="0.88" stroke-width="2.2"><circle cx="800.5" cy="139.5" r="7.1"/></g>
<g fill="#52f6f6" fill-opacity="0.7" stroke="#041c1c" stroke-opacity="0.88" stroke-width="2.3" stroke-linejoin="miter"><path d="M506 514.1l5.4 5.4-5.4 5.4-5.4-5.4z"/></g>
<g fill="#f85656" fill-opacity="0.62" stroke="#220606" stroke-opacity="0.88" stroke-width="2.2"><circle cx="729.6" cy="241.1" r="6.3"/></g>
<g fill="#52f6f6" fill-opacity="0.7" stroke="#041c1c" stroke-opacity="0.88" stroke-width="2.3" stroke-linejoin="miter"><path d="M373.9 501.8l10.2 10.2-10.2 10.2-10.2-10.2z"/><path d="M433.3 467l10.2 10.2-10.2 10.2-10.2-10.2z"/><path d="M326.1 412.3l7.6 7.6-7.6 7.6-7.6-7.6z"/><path d="M415.5 480.2l9.3 9.3-9.3 9.3-9.3-9.3z"/><path d="M529.1 383.2l6.6 6.6-6.6 6.6-6.6-6.6z"/><path d="M429 403.9l9.1 9.1-9.1 9.1-9.1-9.1z"/><path d="M301.5 551.9l7.2 7.2-7.2 7.2-7.2-7.2z"/><path d="M278.7 527.9l8.4 8.4-8.4 8.4-8.4-8.4z"/><path d="M535.1 397.1l7.2 7.2-7.2 7.2-7.2-7.2z"/><path d="M466.6 472.3l10.5 10.5-10.5 10.5-10.5-10.5z"/></g>
<g fill="#f85656" fill-opacity="0.62" stroke="#220606" stroke-opacity="0.88" stroke-width="2.2"><circle cx="580.5" cy="309.6" r="5"/></g>
<g fill="#52f6f6" fill-opacity="0.7" stroke="#041c1c" stroke-opacity="0.88" stroke-width="2.3" stroke-linejoin="miter"><path d="M408.9 513.4l8.5 8.5-8.5 8.5-8.5-8.5z"/></g>
<g fill="#f85656" fill-opacity="0.62" stroke="#220606" stroke-opacity="0.88" stroke-width="2.2"><circle cx="546.1" cy="329" r="2.8"/><circle cx="580.2" cy="330.9" r="3.5"/></g>
<g fill="#52f6f6" fill-opacity="0.7" stroke="#041c1c" stroke-opacity="0.88" stroke-width="2.3" stroke-linejoin="miter"><path d="M342.6 475.8l7.9 7.9-7.9 7.9-7.9-7.9z"/><path d="M402.7 494.5l10.3 10.3-10.3 10.3-10.3-10.3z"/><path d="M383.4 457.3l10.9 10.9-10.9 10.9-10.9-10.9z"/></g>
<g fill="#f85656" fill-opacity="0.62" stroke="#220606" stroke-opacity="0.88" stroke-width="2.2"><circle cx="610.1" cy="302.1" r="6.1"/></g>
<g fill="#52f6f6" fill-opacity="0.7" stroke="#041c1c" stroke-opacity="0.88" stroke-width="2.3" stroke-linejoin="miter"><path d="M438.6 403l10.5 10.5-10.5 10.5-10.5-10.5z"/><path d="M359.6 500.1l9.9 9.9-9.9 9.9-9.9-9.9z"/><path d="M508.2 377.1l6.8 6.8-6.8 6.8-6.8-6.8z"/><path d="M469.3 362.5l6.9 6.9-6.9 6.9-6.9-6.9z"/><path d="M518.3 357.6l5.5 5.5-5.5 5.5-5.5-5.5z"/><path d="M356.4 563.9l8.5 8.5-8.5 8.5-8.5-8.5z"/><path d="M439.3 507.8l7.7 7.7-7.7 7.7-7.7-7.7z"/><path d="M422.4 545.5l6.8 6.8-6.8 6.8-6.8-6.8z"/><path d="M483.3 415.2l10.3 10.3-10.3 10.3-10.3-10.3z"/><path d="M501.5 393.5l6.9 6.9-6.9 6.9-6.9-6.9z"/><path d="M456.3 478l10 10-10 10-10-10z"/><path d="M357.4 488.2l10.5 10.5-10.5 10.5-10.5-10.5z"/><path d="M529.7 360l4.3 4.3-4.3 4.3-4.3-4.3z"/><path d="M481.2 552.2l4.8 4.8-4.8 4.8-4.8-4.8z"/><path d="M507.4 499.4l7.1 7.1-7.1 7.1-7.1-7.1z"/><path d="M552.3 348l3.1 3.1-3.1 3.1-3.1-3.1z"/><path d="M432.4 486.2l10.5 10.5-10.5 10.5-10.5-10.5z"/><path d="M351.3 407.9l6 6-6 6-6-6z"/><path d="M444.2 415.8l9.6 9.6-9.6 9.6-9.6-9.6z"/><path d="M366.1 435.4l8 8-8 8-8-8z"/><path d="M501.2 382.4l6.5 6.5-6.5 6.5-6.5-6.5z"/><path d="M390.8 417l9.4 9.4-9.4 9.4-9.4-9.4z"/><path d="M397 492.4l10.5 10.5-10.5 10.5-10.5-10.5z"/><path d="M426.6 492.5l8.7 8.7-8.7 8.7-8.7-8.7z"/><path d="M254.2 557.7l4.6 4.6-4.6 4.6-4.6-4.6z"/><path d="M366.5 509.1l9 9-9 9-9-9z"/><path d="M452.5 546l7.4 7.4-7.4 7.4-7.4-7.4z"/><path d="M441 543.3l7.3 7.3-7.3 7.3-7.3-7.3z"/><path d="M282.3 571.7l6.7 6.7-6.7 6.7-6.7-6.7z"/><path d="M354.2 446l9.6 9.6-9.6 9.6-9.6-9.6z"/><path d="M458.8 511.1l8.3 8.3-8.3 8.3-8.3-8.3z"/><path d="M432.8 440.7l9.7 9.7-9.7 9.7-9.7-9.7z"/><path d="M416.2 415.2l10.4 10.4-10.4 10.4-10.4-10.4z"/><path d="M342 451.1l9.4 9.4-9.4 9.4-9.4-9.4z"/><path d="M318.8 484l9.2 9.2-9.2 9.2-9.2-9.2z"/><path d="M458.6 471.3l9.9 9.9-9.9 9.9-9.9-9.9z"/><path d="M402.7 471.9l10.3 10.3-10.3 10.3-10.3-10.3z"/><path d="M431.1 431.6l10.2 10.2-10.2 10.2-10.2-10.2z"/><path d="M546.3 386.1l5.8 5.8-5.8 5.8-5.8-5.8z"/><path d="M543.9 381.3l4.5 4.5-4.5 4.5-4.5-4.5z"/><path d="M388.4 476.9l8.3 8.3-8.3 8.3-8.3-8.3z"/><path d="M358.3 522.9l8.4 8.4-8.4 8.4-8.4-8.4z"/><path d="M446.2 413.9l8.2 8.2-8.2 8.2-8.2-8.2z"/><path d="M324 484.7l9.1 9.1-9.1 9.1-9.1-9.1z"/><path d="M494.9 374.5l6.3 6.3-6.3 6.3-6.3-6.3z"/><path d="M450.8 411.9l9.3 9.3-9.3 9.3-9.3-9.3z"/><path d="M390.8 411.3l8.7 8.7-8.7 8.7-8.7-8.7z"/><path d="M475.9 489.5l7.9 7.9-7.9 7.9-7.9-7.9z"/><path d="M412 423l9.6 9.6-9.6 9.6-9.6-9.6z"/><path d="M334.1 504.8l8.7 8.7-8.7 8.7-8.7-8.7z"/><path d="M412 457.3l8.8 8.8-8.8 8.8-8.8-8.8z"/><path d="M407 483.1l9.1 9.1-9.1 9.1-9.1-9.1z"/><path d="M393.7 471.6l8.3 8.3-8.3 8.3-8.3-8.3z"/><path d="M351 503.2l7.9 7.9-7.9 7.9-7.9-7.9z"/><path d="M342 522l8.6 8.6-8.6 8.6-8.6-8.6z"/><path d="M324.4 501.9l8.8 8.8-8.8 8.8-8.8-8.8z"/><path d="M326.9 476.5l9.3 9.3-9.3 9.3-9.3-9.3z"/><path d="M341 474.1l9.7 9.7-9.7 9.7-9.7-9.7z"/><path d="M432 462.1l10.1 10.1-10.1 10.1-10.1-10.1z"/><path d="M486.5 421l10.9 10.9-10.9 10.9-10.9-10.9z"/></g>
<g fill="#f85656" fill-opacity="0.62" stroke="#220606" stroke-opacity="0.88" stroke-width="2.2"><circle cx="584.8" cy="357.9" r="2.6"/><circle cx="571" cy="316.2" r="3.9"/></g>
<g fill="#52f6f6" fill-opacity="0.7" stroke="#041c1c" stroke-opacity="0.88" stroke-width="2.3" stroke-linejoin="miter"><path d="M337.1 515l9.6 9.6-9.6 9.6-9.6-9.6z"/><path d="M431.3 505.6l8.8 8.8-8.8 8.8-8.8-8.8z"/><path d="M428.7 455l8.6 8.6-8.6 8.6-8.6-8.6z"/><path d="M464.6 386.6l8.6 8.6-8.6 8.6-8.6-8.6z"/><path d="M342.8 525.8l9.5 9.5-9.5 9.5-9.5-9.5z"/><path d="M518 402.3l6.8 6.8-6.8 6.8-6.8-6.8z"/><path d="M401.8 533.8l8.8 8.8-8.8 8.8-8.8-8.8z"/></g>
<g fill="#f85656" fill-opacity="0.62" stroke="#220606" stroke-opacity="0.88" stroke-width="2.2"><circle cx="632" cy="374" r="3"/></g>
<g fill="#52f6f6" fill-opacity="0.7" stroke="#041c1c" stroke-opacity="0.88" stroke-width="2.3" stroke-linejoin="miter"><path d="M488.4 407.7l9 9-9 9-9-9z"/><path d="M344.7 527.8l7.5 7.5-7.5 7.5-7.5-7.5z"/></g>
<g fill="#f85656" fill-opacity="0.62" stroke="#220606" stroke-opacity="0.88" stroke-width="2.2"><circle cx="626.7" cy="316.6" r="5.1"/></g>
<g fill="#52f6f6" fill-opacity="0.7" stroke="#041c1c" stroke-opacity="0.88" stroke-width="2.3" stroke-linejoin="miter"><path d="M348.4 455l9.6 9.6-9.6 9.6-9.6-9.6z"/><path d="M307.9 567.7l7.8 7.8-7.8 7.8-7.8-7.8z"/><path d="M495.3 471.1l7.4 7.4-7.4 7.4-7.4-7.4z"/><path d="M448.6 488.2l10.3 10.3-10.3 10.3-10.3-10.3z"/></g>
<g fill="#f85656" fill-opacity="0.62" stroke="#220606" stroke-opacity="0.88" stroke-width="2.2"><circle cx="585.1" cy="300.7" r="4.5"/></g>
<g fill="#52f6f6" fill-opacity="0.7" stroke="#041c1c" stroke-opacity="0.88" stroke-width="2.3" stroke-linejoin="miter"><path d="M532.4 369.1l5 5-5 5-5-5z"/><path d="M536.5 397.8l6.2 6.2-6.2 6.2-6.2-6.2z"/><path d="M374.6 520.2l8 8-8 8-8-8z"/><path d="M383.6 483.4l8.2 8.2-8.2 8.2-8.2-8.2z"/><path d="M415.2 404.5l8.4 8.4-8.4 8.4-8.4-8.4z"/><path d="M580.6 480l6 6-6 6-6-6z"/><path d="M339 421.8l8 8-8 8-8-8z"/><path d="M555.5 395.2l4.8 4.8-4.8 4.8-4.8-4.8z"/><path d="M355.9 530.1l8.1 8.1-8.1 8.1-8.1-8.1z"/><path d="M369.9 474.1l10.3 10.3-10.3 10.3-10.3-10.3z"/><path d="M435.4 524.4l7.8 7.8-7.8 7.8-7.8-7.8z"/><path d="M496.4 403.9l9.2 9.2-9.2 9.2-9.2-9.2z"/><path d="M376.3 491.4l9.7 9.7-9.7 9.7-9.7-9.7z"/><path d="M418.2 489.3l10.6 10.6-10.6 10.6-10.6-10.6z"/><path d="M325.1 503.6l7.3 7.3-7.3 7.3-7.3-7.3z"/><path d="M399.2 473.3l8.4 8.4-8.4 8.4-8.4-8.4z"/><path d="M486.3 428.8l9.9 9.9-9.9 9.9-9.9-9.9z"/><path d="M515.8 376l5.4 5.4-5.4 5.4-5.4-5.4z"/><path d="M541.5 369.4l5.5 5.5-5.5 5.5-5.5-5.5z"/></g>
<g fill="#f85656" fill-opacity="0.62" stroke="#220606" stroke-opacity="0.88" stroke-width="2.2"><circle cx="558.1" cy="342.9" r="2.3"/></g>
<g fill="#52f6f6" fill-opacity="0.7" stroke="#041c1c" stroke-opacity="0.88" stroke-width="2.3" stroke-linejoin="miter"><path d="M291.5 538.7l8.9 8.9-8.9 8.9-8.9-8.9z"/><path d="M322.9 535.8l7.6 7.6-7.6 7.6-7.6-7.6z"/><path d="M422.8 450.5l9.3 9.3-9.3 9.3-9.3-9.3z"/><path d="M525.1 350.1l3.5 3.5-3.5 3.5-3.5-3.5z"/><path d="M374.3 486.7l9 9-9 9-9-9z"/><path d="M405.9 548.6l7.7 7.7-7.7 7.7-7.7-7.7z"/><path d="M246.8 445.9l6.2 6.2-6.2 6.2-6.2-6.2z"/><path d="M459.6 446.5l9.1 9.1-9.1 9.1-9.1-9.1z"/></g>
<g fill="#f85656" fill-opacity="0.62" stroke="#220606" stroke-opacity="0.88" stroke-width="2.2"><circle cx="873.8" cy="169.2" r="7"/></g>
<g fill="#52f6f6" fill-opacity="0.7" stroke="#041c1c" stroke-opacity="0.88" stroke-width="2.3" stroke-linejoin="miter"><path d="M322.6 543.2l8.4 8.4-8.4 8.4-8.4-8.4z"/><path d="M463.4 461.5l10.8 10.8-10.8 10.8-10.8-10.8z"/></g>
<g fill="#f85656" fill-opacity="0.62" stroke="#220606" stroke-opacity="0.88" stroke-width="2.2"><circle cx="744.6" cy="220" r="7.2"/></g>
<g fill="#52f6f6" fill-opacity="0.7" stroke="#041c1c" stroke-opacity="0.88" stroke-width="2.3" stroke-linejoin="miter"><path d="M246.8 502.7l5.6 5.6-5.6 5.6-5.6-5.6z"/><path d="M387.4 487.3l9 9-9 9-9-9z"/><path d="M368.5 506.1l10.2 10.2-10.2 10.2-10.2-10.2z"/><path d="M476.4 523l7.4 7.4-7.4 7.4-7.4-7.4z"/><path d="M252.4 476.1l6 6-6 6-6-6z"/><path d="M449.2 467.7l9.5 9.5-9.5 9.5-9.5-9.5z"/><path d="M546.4 387.6l6.2 6.2-6.2 6.2-6.2-6.2z"/></g>
<g fill="#f85656" fill-opacity="0.62" stroke="#220606" stroke-opacity="0.88" stroke-width="2.2"><circle cx="564.3" cy="354.1" r="2"/></g>
<g fill="#52f6f6" fill-opacity="0.7" stroke="#041c1c" stroke-opacity="0.88" stroke-width="2.3" stroke-linejoin="miter"><path d="M440.3 413.7l10.1 10.1-10.1 10.1-10.1-10.1z"/><path d="M556.1 371l3.5 3.5-3.5 3.5-3.5-3.5z"/><path d="M438.2 490.8l8.5 8.5-8.5 8.5-8.5-8.5z"/><path d="M482.1 438.1l9.5 9.5-9.5 9.5-9.5-9.5z"/><path d="M380.5 510.1l9.4 9.4-9.4 9.4-9.4-9.4z"/><path d="M487.5 371.8l6.8 6.8-6.8 6.8-6.8-6.8z"/><path d="M372.9 520.2l9.1 9.1-9.1 9.1-9.1-9.1z"/></g>
<g fill="#f85656" fill-opacity="0.62" stroke="#220606" stroke-opacity="0.88" stroke-width="2.2"><circle cx="765.1" cy="198.5" r="7"/></g>
<g fill="#52f6f6" fill-opacity="0.7" stroke="#041c1c" stroke-opacity="0.88" stroke-width="2.3" stroke-linejoin="miter"><path d="M522.7 360.7l5.6 5.6-5.6 5.6-5.6-5.6z"/></g>
<g fill="#f85656" fill-opacity="0.62" stroke="#220606" stroke-opacity="0.88" stroke-width="2.2"><circle cx="683.8" cy="287.3" r="6"/></g>
<g fill="#52f6f6" fill-opacity="0.7" stroke="#041c1c" stroke-opacity="0.88" stroke-width="2.3" stroke-linejoin="miter"><path d="M542 472.2l6.2 6.2-6.2 6.2-6.2-6.2z"/><path d="M489.8 408.9l10.6 10.6-10.6 10.6-10.6-10.6z"/></g>
<g fill="#f85656" fill-opacity="0.62" stroke="#220606" stroke-opacity="0.88" stroke-width="2.2"><circle cx="535.2" cy="320.5" r="2.6"/></g>
<g fill="#52f6f6" fill-opacity="0.7" stroke="#041c1c" stroke-opacity="0.88" stroke-width="2.3" stroke-linejoin="miter"><path d="M448.8 503.5l9.9 9.9-9.9 9.9-9.9-9.9z"/><path d="M373.3 497.2l9.9 9.9-9.9 9.9-9.9-9.9z"/><path d="M317.2 498.3l8 8-8 8-8-8z"/><path d="M347 494.3l8.4 8.4-8.4 8.4-8.4-8.4z"/><path d="M423.3 528.9l8.7 8.7-8.7 8.7-8.7-8.7z"/></g>
<g fill="#f85656" fill-opacity="0.62" stroke="#220606" stroke-opacity="0.88" stroke-width="2.2"><circle cx="662.5" cy="292.3" r="6.7"/><circle cx="657.9" cy="253.8" r="7.2"/><circle cx="633.6" cy="315" r="5.5"/></g>
<g fill="#52f6f6" fill-opacity="0.7" stroke="#041c1c" stroke-opacity="0.88" stroke-width="2.3" stroke-linejoin="miter"><path d="M396.7 465.9l9.4 9.4-9.4 9.4-9.4-9.4z"/><path d="M419.5 419.4l9.5 9.5-9.5 9.5-9.5-9.5z"/><path d="M544.4 420l7.1 7.1-7.1 7.1-7.1-7.1z"/><path d="M561.8 376.1l4.2 4.2-4.2 4.2-4.2-4.2z"/><path d="M539.3 347.3l3.2 3.2-3.2 3.2-3.2-3.2z"/><path d="M308.7 423.8l7.4 7.4-7.4 7.4-7.4-7.4z"/></g>
<g fill="#f85656" fill-opacity="0.62" stroke="#220606" stroke-opacity="0.88" stroke-width="2.2"><circle cx="585.1" cy="257.4" r="6.4"/></g>
<g fill="#52f6f6" fill-opacity="0.7" stroke="#041c1c" stroke-opacity="0.88" stroke-width="2.3" stroke-linejoin="miter"><path d="M532.7 370.6l4.9 4.9-4.9 4.9-4.9-4.9z"/><path d="M520 378.1l5.7 5.7-5.7 5.7-5.7-5.7z"/><path d="M250.1 407.3l7.4 7.4-7.4 7.4-7.4-7.4z"/><path d="M556.7 412.2l6.2 6.2-6.2 6.2-6.2-6.2z"/><path d="M471.4 489l9.7 9.7-9.7 9.7-9.7-9.7z"/><path d="M428.8 459.2l10.5 10.5-10.5 10.5-10.5-10.5z"/><path d="M451.9 402.6l10.3 10.3-10.3 10.3-10.3-10.3z"/><path d="M551.2 352.4l3.1 3.1-3.1 3.1-3.1-3.1z"/><path d="M519 379.7l7.1 7.1-7.1 7.1-7.1-7.1z"/><path d="M436.7 452.4l10.6 10.6-10.6 10.6-10.6-10.6z"/><path d="M425.2 451.8l10.5 10.5-10.5 10.5-10.5-10.5z"/><path d="M411.3 457.1l11.1 11.1-11.1 11.1-11.1-11.1z"/><path d="M519.5 370.5l5.1 5.1-5.1 5.1-5.1-5.1z"/><path d="M423.9 391.6l7.5 7.5-7.5 7.5-7.5-7.5z"/><path d="M496.9 316.7l2.9 2.9-2.9 2.9-2.9-2.9z"/></g>
<g fill="#f85656" fill-opacity="0.62" stroke="#220606" stroke-opacity="0.88" stroke-width="2.2"><circle cx="598.5" cy="255.4" r="7"/></g>
<g fill="#52f6f6" fill-opacity="0.7" stroke="#041c1c" stroke-opacity="0.88" stroke-width="2.3" stroke-linejoin="miter"><path d="M414.5 501.7l9 9-9 9-9-9z"/><path d="M375.9 432.4l8.3 8.3-8.3 8.3-8.3-8.3z"/></g>
<g fill="#f85656" fill-opacity="0.62" stroke="#220606" stroke-opacity="0.88" stroke-width="2.2"><circle cx="662.7" cy="306.6" r="6.1"/></g>
<g fill="#52f6f6" fill-opacity="0.7" stroke="#041c1c" stroke-opacity="0.88" stroke-width="2.3" stroke-linejoin="miter"><path d="M349.4 529.2l9.1 9.1-9.1 9.1-9.1-9.1z"/><path d="M526.2 400.6l7.6 7.6-7.6 7.6-7.6-7.6z"/><path d="M563.4 363.7l2.9 2.9-2.9 2.9-2.9-2.9z"/><path d="M450.2 518.8l8.8 8.8-8.8 8.8-8.8-8.8z"/><path d="M467.5 399.2l10.3 10.3-10.3 10.3-10.3-10.3z"/><path d="M391.9 529.5l9.5 9.5-9.5 9.5-9.5-9.5z"/><path d="M587.6 410.7l4.6 4.6-4.6 4.6-4.6-4.6z"/></g>
<g fill="#f85656" fill-opacity="0.62" stroke="#220606" stroke-opacity="0.88" stroke-width="2.2"><circle cx="731.5" cy="256.9" r="6.6"/></g>
<g fill="#52f6f6" fill-opacity="0.7" stroke="#041c1c" stroke-opacity="0.88" stroke-width="2.3" stroke-linejoin="miter"><path d="M440.7 498.1l9.9 9.9-9.9 9.9-9.9-9.9z"/><path d="M277.9 600l4.6 4.6-4.6 4.6-4.6-4.6z"/></g>
<g fill="#f85656" fill-opacity="0.62" stroke="#220606" stroke-opacity="0.88" stroke-width="2.2"><circle cx="571.4" cy="336.4" r="3.2"/></g>
<g fill="#52f6f6" fill-opacity="0.7" stroke="#041c1c" stroke-opacity="0.88" stroke-width="2.3" stroke-linejoin="miter"><path d="M389.5 546.3l7.5 7.5-7.5 7.5-7.5-7.5z"/><path d="M481.9 420.5l8.4 8.4-8.4 8.4-8.4-8.4z"/></g>
<g fill="#f85656" fill-opacity="0.62" stroke="#220606" stroke-opacity="0.88" stroke-width="2.2"><circle cx="536.7" cy="328.6" r="2.3"/></g>
<g fill="#52f6f6" fill-opacity="0.7" stroke="#041c1c" stroke-opacity="0.88" stroke-width="2.3" stroke-linejoin="miter"><path d="M372.8 545l7.8 7.8-7.8 7.8-7.8-7.8z"/></g>
<g fill="#f85656" fill-opacity="0.62" stroke="#220606" stroke-opacity="0.88" stroke-width="2.2"><circle cx="588" cy="358.9" r="3"/></g>
<g fill="#52f6f6" fill-opacity="0.7" stroke="#041c1c" stroke-opacity="0.88" stroke-width="2.3" stroke-linejoin="miter"><path d="M349.6 494l8.3 8.3-8.3 8.3-8.3-8.3z"/><path d="M331.3 454l8.6 8.6-8.6 8.6-8.6-8.6z"/><path d="M462.4 440.9l10.6 10.6-10.6 10.6-10.6-10.6z"/><path d="M529.6 488l7.8 7.8-7.8 7.8-7.8-7.8z"/><path d="M553.3 434.5l6.4 6.4-6.4 6.4-6.4-6.4z"/><path d="M326.2 448.1l6.6 6.6-6.6 6.6-6.6-6.6z"/><path d="M380.9 509l7.9 7.9-7.9 7.9-7.9-7.9z"/></g>
<g fill="#f85656" fill-opacity="0.62" stroke="#220606" stroke-opacity="0.88" stroke-width="2.2"><circle cx="560.3" cy="323.3" r="3.5"/></g>
<g fill="#52f6f6" fill-opacity="0.7" stroke="#041c1c" stroke-opacity="0.88" stroke-width="2.3" stroke-linejoin="miter"><path d="M349.7 498l8.3 8.3-8.3 8.3-8.3-8.3z"/><path d="M382.7 487.5l9.7 9.7-9.7 9.7-9.7-9.7z"/><path d="M315.2 561.2l6.8 6.8-6.8 6.8-6.8-6.8z"/></g>
<g fill="#f85656" fill-opacity="0.62" stroke="#220606" stroke-opacity="0.88" stroke-width="2.2"><circle cx="780.5" cy="195.4" r="7.2"/></g>
<g fill="#52f6f6" fill-opacity="0.7" stroke="#041c1c" stroke-opacity="0.88" stroke-width="2.3" stroke-linejoin="miter"><path d="M357.5 444.7l9.8 9.8-9.8 9.8-9.8-9.8z"/></g>
<g fill="#f85656" fill-opacity="0.62" stroke="#220606" stroke-opacity="0.88" stroke-width="2.2"><circle cx="542.8" cy="317.7" r="3.3"/></g>
<g fill="#52f6f6" fill-opacity="0.7" stroke="#041c1c" stroke-opacity="0.88" stroke-width="2.3" stroke-linejoin="miter"><path d="M339.7 540l8.3 8.3-8.3 8.3-8.3-8.3z"/><path d="M424.3 491.9l9.6 9.6-9.6 9.6-9.6-9.6z"/><path d="M365.4 516.2l9.4 9.4-9.4 9.4-9.4-9.4z"/><path d="M353.6 448.7l9.1 9.1-9.1 9.1-9.1-9.1z"/><path d="M379.2 516.8l9.2 9.2-9.2 9.2-9.2-9.2z"/><path d="M403.3 527.4l8.8 8.8-8.8 8.8-8.8-8.8z"/><path d="M547.3 354.5l3.7 3.7-3.7 3.7-3.7-3.7z"/><path d="M480.5 432.5l10.1 10.1-10.1 10.1-10.1-10.1z"/></g>
<g fill="#f85656" fill-opacity="0.62" stroke="#220606" stroke-opacity="0.88" stroke-width="2.2"><circle cx="750.8" cy="198.5" r="7"/></g>
<g fill="#52f6f6" fill-opacity="0.7" stroke="#041c1c" stroke-opacity="0.88" stroke-width="2.3" stroke-linejoin="miter"><path d="M495.9 466.1l7.8 7.8-7.8 7.8-7.8-7.8z"/><path d="M394.1 449.9l9.5 9.5-9.5 9.5-9.5-9.5z"/><path d="M339.2 632.2l3.4 3.4-3.4 3.4-3.4-3.4z"/><path d="M338 481.4l8.9 8.9-8.9 8.9-8.9-8.9z"/><path d="M355.2 552.2l9 9-9 9-9-9z"/><path d="M475.8 424.1l11.2 11.2-11.2 11.2-11.2-11.2z"/><path d="M551.2 369.8l4.5 4.5-4.5 4.5-4.5-4.5z"/><path d="M495.8 415.8l9.6 9.6-9.6 9.6-9.6-9.6z"/><path d="M477.2 380.9l7.2 7.2-7.2 7.2-7.2-7.2z"/><path d="M311.1 537.7l9.3 9.3-9.3 9.3-9.3-9.3z"/></g>
<g fill="#f85656" fill-opacity="0.62" stroke="#220606" stroke-opacity="0.88" stroke-width="2.2"><circle cx="543.6" cy="317" r="3.5"/></g>
<g fill="#52f6f6" fill-opacity="0.7" stroke="#041c1c" stroke-opacity="0.88" stroke-width="2.3" stroke-linejoin="miter"><path d="M590.5 385.5l3 3-3 3-3-3z"/><path d="M513.9 325.3l3.4 3.4-3.4 3.4-3.4-3.4z"/><path d="M471.1 457.8l10.1 10.1-10.1 10.1-10.1-10.1z"/><path d="M377.2 426.8l9.8 9.8-9.8 9.8-9.8-9.8z"/><path d="M520.2 350.5l4.2 4.2-4.2 4.2-4.2-4.2z"/><path d="M314.8 480.1l8 8-8 8-8-8z"/></g>
<g fill="#f85656" fill-opacity="0.62" stroke="#220606" stroke-opacity="0.88" stroke-width="2.2"><circle cx="681.7" cy="300.6" r="6.4"/></g>
<g fill="#52f6f6" fill-opacity="0.7" stroke="#041c1c" stroke-opacity="0.88" stroke-width="2.3" stroke-linejoin="miter"><path d="M398.2 527.6l7.5 7.5-7.5 7.5-7.5-7.5z"/><path d="M468.7 379.3l7.6 7.6-7.6 7.6-7.6-7.6z"/><path d="M547.7 407.7l5.7 5.7-5.7 5.7-5.7-5.7z"/><path d="M553.4 358.7l3.7 3.7-3.7 3.7-3.7-3.7z"/><path d="M289.2 527.1l7.6 7.6-7.6 7.6-7.6-7.6z"/><path d="M400.3 532.6l8.9 8.9-8.9 8.9-8.9-8.9z"/><path d="M393.1 548.3l7.7 7.7-7.7 7.7-7.7-7.7z"/></g>
<g fill="#f85656" fill-opacity="0.62" stroke="#220606" stroke-opacity="0.88" stroke-width="2.2"><circle cx="579.1" cy="340.2" r="3.6"/><circle cx="758.5" cy="309.2" r="6.4"/></g>
<g fill="#52f6f6" fill-opacity="0.7" stroke="#041c1c" stroke-opacity="0.88" stroke-width="2.3" stroke-linejoin="miter"><path d="M468.3 473.6l9.4 9.4-9.4 9.4-9.4-9.4z"/><path d="M542.6 406.6l6.4 6.4-6.4 6.4-6.4-6.4z"/><path d="M452.9 422.2l8.9 8.9-8.9 8.9-8.9-8.9z"/><path d="M433.1 446.5l10.1 10.1-10.1 10.1-10.1-10.1z"/><path d="M378.1 504.5l9.9 9.9-9.9 9.9-9.9-9.9z"/><path d="M543.7 428.8l9.2 9.2-9.2 9.2-9.2-9.2z"/><path d="M336.6 493.1l7.5 7.5-7.5 7.5-7.5-7.5z"/><path d="M409.8 525.3l7.9 7.9-7.9 7.9-7.9-7.9z"/><path d="M305.1 537.6l7.2 7.2-7.2 7.2-7.2-7.2z"/><path d="M491.2 435.8l10.8 10.8-10.8 10.8-10.8-10.8z"/><path d="M410 520.6l8.6 8.6-8.6 8.6-8.6-8.6z"/><path d="M562 388.2l5.1 5.1-5.1 5.1-5.1-5.1z"/><path d="M350.8 541.1l8.3 8.3-8.3 8.3-8.3-8.3z"/><path d="M369.9 469.3l10 10-10 10-10-10z"/></g>
<g fill="#f85656" fill-opacity="0.62" stroke="#220606" stroke-opacity="0.88" stroke-width="2.2"><circle cx="653.9" cy="318.4" r="5.7"/><circle cx="741" cy="252.2" r="6.5"/></g>
<g fill="#52f6f6" fill-opacity="0.7" stroke="#041c1c" stroke-opacity="0.88" stroke-width="2.3" stroke-linejoin="miter"><path d="M411.7 423.9l10.9 10.9-10.9 10.9-10.9-10.9z"/><path d="M332.7 422.3l6.8 6.8-6.8 6.8-6.8-6.8z"/><path d="M389.6 483.4l10.2 10.2-10.2 10.2-10.2-10.2z"/><path d="M306.3 547.2l7.5 7.5-7.5 7.5-7.5-7.5z"/><path d="M494.6 416.6l8.3 8.3-8.3 8.3-8.3-8.3z"/><path d="M351.6 482.5l8.8 8.8-8.8 8.8-8.8-8.8z"/><path d="M351.9 513.4l9.1 9.1-9.1 9.1-9.1-9.1z"/><path d="M482.7 489.4l8.8 8.8-8.8 8.8-8.8-8.8z"/><path d="M315.6 508.1l8.8 8.8-8.8 8.8-8.8-8.8z"/><path d="M491.6 367.1l6.7 6.7-6.7 6.7-6.7-6.7z"/></g>
<g fill="#f85656" fill-opacity="0.62" stroke="#220606" stroke-opacity="0.88" stroke-width="2.2"><circle cx="614.6" cy="356.6" r="3.4"/></g>
<g fill="#52f6f6" fill-opacity="0.7" stroke="#041c1c" stroke-opacity="0.88" stroke-width="2.3" stroke-linejoin="miter"><path d="M320.9 543.4l9.4 9.4-9.4 9.4-9.4-9.4z"/><path d="M518.6 387.2l6.4 6.4-6.4 6.4-6.4-6.4z"/></g>
<g fill="#f85656" fill-opacity="0.62" stroke="#220606" stroke-opacity="0.88" stroke-width="2.2"><circle cx="568.6" cy="350.8" r="2.3"/></g>
<g fill="#52f6f6" fill-opacity="0.7" stroke="#041c1c" stroke-opacity="0.88" stroke-width="2.3" stroke-linejoin="miter"><path d="M443.6 493.2l10.1 10.1-10.1 10.1-10.1-10.1z"/><path d="M529.6 363.8l4.4 4.4-4.4 4.4-4.4-4.4z"/></g>
<g fill="#f85656" fill-opacity="0.62" stroke="#220606" stroke-opacity="0.88" stroke-width="2.2"><circle cx="589.7" cy="349.4" r="2.9"/></g>
<g fill="#52f6f6" fill-opacity="0.7" stroke="#041c1c" stroke-opacity="0.88" stroke-width="2.3" stroke-linejoin="miter"><path d="M375.2 446.5l10.3 10.3-10.3 10.3-10.3-10.3z"/><path d="M440.1 444.9l9.9 9.9-9.9 9.9-9.9-9.9z"/><path d="M489.2 443.7l9.6 9.6-9.6 9.6-9.6-9.6z"/></g>
<g fill="#f85656" fill-opacity="0.62" stroke="#220606" stroke-opacity="0.88" stroke-width="2.2"><circle cx="696.7" cy="272.9" r="6.1"/></g>
<g fill="#52f6f6" fill-opacity="0.7" stroke="#041c1c" stroke-opacity="0.88" stroke-width="2.3" stroke-linejoin="miter"><path d="M325.9 470.4l7.7 7.7-7.7 7.7-7.7-7.7z"/><path d="M381.1 495.9l8.6 8.6-8.6 8.6-8.6-8.6z"/><path d="M398.6 426l8.3 8.3-8.3 8.3-8.3-8.3z"/><path d="M541.2 365.2l5.3 5.3-5.3 5.3-5.3-5.3z"/><path d="M508.5 348.9l5.5 5.5-5.5 5.5-5.5-5.5z"/><path d="M312.5 569.1l6.2 6.2-6.2 6.2-6.2-6.2z"/><path d="M486.6 473.7l8.4 8.4-8.4 8.4-8.4-8.4z"/><path d="M352.5 475.8l9.9 9.9-9.9 9.9-9.9-9.9z"/><path d="M314.1 526.1l8.8 8.8-8.8 8.8-8.8-8.8z"/><path d="M445.4 392.8l9.2 9.2-9.2 9.2-9.2-9.2z"/><path d="M455.3 488.9l8.5 8.5-8.5 8.5-8.5-8.5z"/><path d="M436.7 430.1l9.4 9.4-9.4 9.4-9.4-9.4z"/><path d="M449.5 532.7l8.4 8.4-8.4 8.4-8.4-8.4z"/><path d="M466 444.1l9.8 9.8-9.8 9.8-9.8-9.8z"/><path d="M408.8 486.1l9.8 9.8-9.8 9.8-9.8-9.8z"/></g>
<g fill="#f85656" fill-opacity="0.62" stroke="#220606" stroke-opacity="0.88" stroke-width="2.2"><circle cx="536" cy="320.6" r="2.9"/></g>
<g fill="#52f6f6" fill-opacity="0.7" stroke="#041c1c" stroke-opacity="0.88" stroke-width="2.3" stroke-linejoin="miter"><path d="M547.5 349.5l3.1 3.1-3.1 3.1-3.1-3.1z"/><path d="M396.6 422l9.4 9.4-9.4 9.4-9.4-9.4z"/><path d="M423.8 563.4l7.6 7.6-7.6 7.6-7.6-7.6z"/><path d="M452.4 494.7l10 10-10 10-10-10z"/><path d="M359.4 468.9l7.5 7.5-7.5 7.5-7.5-7.5z"/><path d="M284.4 526.2l7.3 7.3-7.3 7.3-7.3-7.3z"/></g>
<g fill="#f85656" fill-opacity="0.62" stroke="#220606" stroke-opacity="0.88" stroke-width="2.2"><circle cx="642" cy="388" r="2.6"/></g>
<g fill="#52f6f6" fill-opacity="0.7" stroke="#041c1c" stroke-opacity="0.88" stroke-width="2.3" stroke-linejoin="miter"><path d="M562.8 410.3l7.1 7.1-7.1 7.1-7.1-7.1z"/><path d="M471.9 470.5l10.1 10.1-10.1 10.1-10.1-10.1z"/><path d="M534.5 420.3l8.6 8.6-8.6 8.6-8.6-8.6z"/></g>
<g fill="#f85656" fill-opacity="0.62" stroke="#220606" stroke-opacity="0.88" stroke-width="2.2"><circle cx="682.7" cy="290.1" r="6.9"/></g>
<g fill="#52f6f6" fill-opacity="0.7" stroke="#041c1c" stroke-opacity="0.88" stroke-width="2.3" stroke-linejoin="miter"><path d="M420.7 436.8l10.4 10.4-10.4 10.4-10.4-10.4z"/><path d="M424.8 387.3l9.5 9.5-9.5 9.5-9.5-9.5z"/><path d="M429.8 533.8l8.1 8.1-8.1 8.1-8.1-8.1z"/><path d="M336.6 492.2l9 9-9 9-9-9z"/><path d="M392.3 503.5l10.3 10.3-10.3 10.3-10.3-10.3z"/></g>
<g fill="#f85656" fill-opacity="0.62" stroke="#220606" stroke-opacity="0.88" stroke-width="2.2"><circle cx="563.7" cy="340.1" r="2.7"/></g>
<g fill="#52f6f6" fill-opacity="0.7" stroke="#041c1c" stroke-opacity="0.88" stroke-width="2.3" stroke-linejoin="miter"><path d="M491.3 584.3l4.2 4.2-4.2 4.2-4.2-4.2z"/><path d="M341.8 431.3l8.7 8.7-8.7 8.7-8.7-8.7z"/><path d="M321.8 540.7l7.4 7.4-7.4 7.4-7.4-7.4z"/></g>
<g fill="#f85656" fill-opacity="0.62" stroke="#220606" stroke-opacity="0.88" stroke-width="2.2"><circle cx="510.5" cy="311.5" r="2.4"/></g>
<g fill="#52f6f6" fill-opacity="0.7" stroke="#041c1c" stroke-opacity="0.88" stroke-width="2.3" stroke-linejoin="miter"><path d="M362.9 568.6l8.2 8.2-8.2 8.2-8.2-8.2z"/><path d="M452.3 465.9l10 10-10 10-10-10z"/><path d="M418.8 445.1l10.4 10.4-10.4 10.4-10.4-10.4z"/><path d="M396.7 422.3l10.1 10.1-10.1 10.1-10.1-10.1z"/><path d="M460.7 456.4l8.2 8.2-8.2 8.2-8.2-8.2z"/></g>
<g fill="#f85656" fill-opacity="0.62" stroke="#220606" stroke-opacity="0.88" stroke-width="2.2"><circle cx="590.1" cy="367.7" r="2.2"/></g>
<g fill="#52f6f6" fill-opacity="0.7" stroke="#041c1c" stroke-opacity="0.88" stroke-width="2.3" stroke-linejoin="miter"><path d="M416.7 531.5l7.5 7.5-7.5 7.5-7.5-7.5z"/><path d="M497.1 449.5l10.4 10.4-10.4 10.4-10.4-10.4z"/><path d="M482.6 401.7l10.2 10.2-10.2 10.2-10.2-10.2z"/><path d="M353.7 451.9l8.7 8.7-8.7 8.7-8.7-8.7z"/><path d="M530.9 377.2l6.1 6.1-6.1 6.1-6.1-6.1z"/><path d="M436.5 474.6l8.9 8.9-8.9 8.9-8.9-8.9z"/><path d="M445.6 507.4l7.8 7.8-7.8 7.8-7.8-7.8z"/><path d="M529.8 388.2l7.3 7.3-7.3 7.3-7.3-7.3z"/><path d="M314.5 536.2l8.1 8.1-8.1 8.1-8.1-8.1z"/><path d="M591.4 383.7l3.2 3.2-3.2 3.2-3.2-3.2z"/><path d="M495.5 427l11.1 11.1-11.1 11.1-11.1-11.1z"/><path d="M328.5 475.9l7.8 7.8-7.8 7.8-7.8-7.8z"/><path d="M554.5 393.8l6.9 6.9-6.9 6.9-6.9-6.9z"/><path d="M423 450.8l9.5 9.5-9.5 9.5-9.5-9.5z"/><path d="M544.1 396.4l7.4 7.4-7.4 7.4-7.4-7.4z"/><path d="M408.5 504.9l9 9-9 9-9-9z"/><path d="M406.1 452.3l8.3 8.3-8.3 8.3-8.3-8.3z"/><path d="M521.4 380.1l6.5 6.5-6.5 6.5-6.5-6.5z"/></g>
<g fill="#f85656" fill-opacity="0.62" stroke="#220606" stroke-opacity="0.88" stroke-width="2.2"><circle cx="674.5" cy="292" r="6"/></g>
<g fill="#52f6f6" fill-opacity="0.7" stroke="#041c1c" stroke-opacity="0.88" stroke-width="2.3" stroke-linejoin="miter"><path d="M427.2 356.4l7.7 7.7-7.7 7.7-7.7-7.7z"/><path d="M477.2 343.8l6.5 6.5-6.5 6.5-6.5-6.5z"/><path d="M496.2 403.3l7.8 7.8-7.8 7.8-7.8-7.8z"/><path d="M371.1 492.3l8.1 8.1-8.1 8.1-8.1-8.1z"/><path d="M418.7 454.7l10.5 10.5-10.5 10.5-10.5-10.5z"/><path d="M366.3 489.2l10.4 10.4-10.4 10.4-10.4-10.4z"/><path d="M469.7 410.5l10.2 10.2-10.2 10.2-10.2-10.2z"/><path d="M410.3 470.2l11.4 11.4-11.4 11.4-11.4-11.4z"/><path d="M620.9 394.5l3 3-3 3-3-3z"/><path d="M398.9 512.5l8 8-8 8-8-8z"/><path d="M307.5 542.6l8.2 8.2-8.2 8.2-8.2-8.2z"/><path d="M448.3 487.6l9.4 9.4-9.4 9.4-9.4-9.4z"/><path d="M341.7 525.5l9.6 9.6-9.6 9.6-9.6-9.6z"/><path d="M402.6 457.1l8.6 8.6-8.6 8.6-8.6-8.6z"/><path d="M345.5 486.5l9.4 9.4-9.4 9.4-9.4-9.4z"/><path d="M521.5 346.1l3.9 3.9-3.9 3.9-3.9-3.9z"/><path d="M441.7 459.4l9.7 9.7-9.7 9.7-9.7-9.7z"/><path d="M422.6 465l10.1 10.1-10.1 10.1-10.1-10.1z"/><path d="M393.5 541l9 9-9 9-9-9z"/><path d="M499.5 415.9l9.4 9.4-9.4 9.4-9.4-9.4z"/><path d="M401.4 433.4l10.7 10.7-10.7 10.7-10.7-10.7z"/><path d="M376.8 467.5l8.3 8.3-8.3 8.3-8.3-8.3z"/><path d="M508 410l7.3 7.3-7.3 7.3-7.3-7.3z"/><path d="M405.7 460.6l9.8 9.8-9.8 9.8-9.8-9.8z"/><path d="M441.8 393.8l8.2 8.2-8.2 8.2-8.2-8.2z"/></g>
<g fill="#f85656" fill-opacity="0.62" stroke="#220606" stroke-opacity="0.88" stroke-width="2.2"><circle cx="701.5" cy="319" r="6"/><circle cx="572.7" cy="331.4" r="3.6"/></g>
<g fill="#52f6f6" fill-opacity="0.7" stroke="#041c1c" stroke-opacity="0.88" stroke-width="2.3" stroke-linejoin="miter"><path d="M533.2 469.1l6.8 6.8-6.8 6.8-6.8-6.8z"/></g>
<g fill="#f85656" fill-opacity="0.62" stroke="#220606" stroke-opacity="0.88" stroke-width="2.2"><circle cx="684.8" cy="264.1" r="6.2"/></g>
<g fill="#52f6f6" fill-opacity="0.7" stroke="#041c1c" stroke-opacity="0.88" stroke-width="2.3" stroke-linejoin="miter"><path d="M446.4 485.7l9.1 9.1-9.1 9.1-9.1-9.1z"/><path d="M480.1 490.1l9.3 9.3-9.3 9.3-9.3-9.3z"/><path d="M454.2 367l6.7 6.7-6.7 6.7-6.7-6.7z"/><path d="M348.2 536.2l8.3 8.3-8.3 8.3-8.3-8.3z"/><path d="M579.7 375l3.6 3.6-3.6 3.6-3.6-3.6z"/><path d="M473.8 354.5l7.4 7.4-7.4 7.4-7.4-7.4z"/><path d="M412.5 480.4l11.1 11.1-11.1 11.1-11.1-11.1z"/><path d="M376.6 461l9.9 9.9-9.9 9.9-9.9-9.9z"/><path d="M339.5 501.8l9 9-9 9-9-9z"/><path d="M490.4 457.1l8.7 8.7-8.7 8.7-8.7-8.7z"/><path d="M419.4 461.5l8.9 8.9-8.9 8.9-8.9-8.9z"/><path d="M535.2 383.7l5.9 5.9-5.9 5.9-5.9-5.9z"/><path d="M551.4 398.9l5.8 5.8-5.8 5.8-5.8-5.8z"/><path d="M349.4 459.9l9.8 9.8-9.8 9.8-9.8-9.8z"/><path d="M470.3 469.5l8.9 8.9-8.9 8.9-8.9-8.9z"/><path d="M339.8 471.9l7.3 7.3-7.3 7.3-7.3-7.3z"/><path d="M487.6 470.7l8.7 8.7-8.7 8.7-8.7-8.7z"/></g>
<g fill="#f85656" fill-opacity="0.62" stroke="#220606" stroke-opacity="0.88" stroke-width="2.2"><circle cx="531.2" cy="323.7" r="2.4"/></g>
<g fill="#52f6f6" fill-opacity="0.7" stroke="#041c1c" stroke-opacity="0.88" stroke-width="2.3" stroke-linejoin="miter"><path d="M530.3 383.8l7 7-7 7-7-7z"/></g>
<g fill="#f85656" fill-opacity="0.62" stroke="#220606" stroke-opacity="0.88" stroke-width="2.2"><circle cx="556.9" cy="324.1" r="3.2"/></g>
<g fill="#52f6f6" fill-opacity="0.7" stroke="#041c1c" stroke-opacity="0.88" stroke-width="2.3" stroke-linejoin="miter"><path d="M348.4 545.5l8.3 8.3-8.3 8.3-8.3-8.3z"/><path d="M556.8 404.2l5.7 5.7-5.7 5.7-5.7-5.7z"/><path d="M418.5 439.3l11.1 11.1-11.1 11.1-11.1-11.1z"/><path d="M425.8 419.2l8.9 8.9-8.9 8.9-8.9-8.9z"/><path d="M333.7 517.4l7.9 7.9-7.9 7.9-7.9-7.9z"/><path d="M396.9 437.8l8.4 8.4-8.4 8.4-8.4-8.4z"/></g>
<g fill="#f85656" fill-opacity="0.62" stroke="#220606" stroke-opacity="0.88" stroke-width="2.2"><circle cx="576.3" cy="361.3" r="2.1"/></g>
<g fill="#52f6f6" fill-opacity="0.7" stroke="#041c1c" stroke-opacity="0.88" stroke-width="2.3" stroke-linejoin="miter"><path d="M470.9 526.3l7.8 7.8-7.8 7.8-7.8-7.8z"/></g>
<g fill="#f85656" fill-opacity="0.62" stroke="#220606" stroke-opacity="0.88" stroke-width="2.2"><circle cx="611" cy="367" r="2.2"/></g>
<g fill="#52f6f6" fill-opacity="0.7" stroke="#041c1c" stroke-opacity="0.88" stroke-width="2.3" stroke-linejoin="miter"><path d="M572.1 390.2l5.3 5.3-5.3 5.3-5.3-5.3z"/><path d="M481.3 464.4l10.2 10.2-10.2 10.2-10.2-10.2z"/><path d="M553.4 391.1l5.4 5.4-5.4 5.4-5.4-5.4z"/><path d="M412.4 473.4l9.3 9.3-9.3 9.3-9.3-9.3z"/><path d="M377.7 414.9l7.1 7.1-7.1 7.1-7.1-7.1z"/><path d="M503.3 398.4l8.5 8.5-8.5 8.5-8.5-8.5z"/></g>
<g fill="#f85656" fill-opacity="0.62" stroke="#220606" stroke-opacity="0.88" stroke-width="2.2"><circle cx="621.6" cy="345.3" r="4"/></g>
<g fill="#52f6f6" fill-opacity="0.7" stroke="#041c1c" stroke-opacity="0.88" stroke-width="2.3" stroke-linejoin="miter"><path d="M515.2 401.6l7.9 7.9-7.9 7.9-7.9-7.9z"/><path d="M496.1 443l9.2 9.2-9.2 9.2-9.2-9.2z"/><path d="M501.8 413.8l8.8 8.8-8.8 8.8-8.8-8.8z"/><path d="M431.1 385l9.4 9.4-9.4 9.4-9.4-9.4z"/><path d="M376.4 509.4l8.1 8.1-8.1 8.1-8.1-8.1z"/><path d="M513.3 430.4l10.5 10.5-10.5 10.5-10.5-10.5z"/><path d="M365.6 514.7l8.3 8.3-8.3 8.3-8.3-8.3z"/><path d="M287.1 549.1l5.6 5.6-5.6 5.6-5.6-5.6z"/><path d="M482.4 425.4l10 10-10 10-10-10z"/><path d="M314.1 452.2l8 8-8 8-8-8z"/><path d="M421.4 432.1l10.5 10.5-10.5 10.5-10.5-10.5z"/><path d="M341.4 260.3l3.1 3.1-3.1 3.1-3.1-3.1z"/><path d="M410.3 441.3l9.1 9.1-9.1 9.1-9.1-9.1z"/><path d="M404.5 354.8l6 6-6 6-6-6z"/><path d="M521.7 376.4l6.5 6.5-6.5 6.5-6.5-6.5z"/><path d="M512.7 374.8l7.2 7.2-7.2 7.2-7.2-7.2z"/><path d="M279.4 429.8l7.4 7.4-7.4 7.4-7.4-7.4z"/></g>
<g fill="#f85656" fill-opacity="0.62" stroke="#220606" stroke-opacity="0.88" stroke-width="2.2"><circle cx="652.5" cy="293.7" r="6"/></g>
<g fill="#52f6f6" fill-opacity="0.7" stroke="#041c1c" stroke-opacity="0.88" stroke-width="2.3" stroke-linejoin="miter"><path d="M461.7 439.3l10.5 10.5-10.5 10.5-10.5-10.5z"/><path d="M416.1 468.8l10.3 10.3-10.3 10.3-10.3-10.3z"/><path d="M379.3 555.2l7.2 7.2-7.2 7.2-7.2-7.2z"/><path d="M519.5 340.5l3.8 3.8-3.8 3.8-3.8-3.8z"/><path d="M372.9 456.4l8.7 8.7-8.7 8.7-8.7-8.7z"/><path d="M513.5 410.7l8.4 8.4-8.4 8.4-8.4-8.4z"/><path d="M478.7 455.1l8.5 8.5-8.5 8.5-8.5-8.5z"/><path d="M585.1 395l3.8 3.8-3.8 3.8-3.8-3.8z"/></g>
<g fill="#f85656" fill-opacity="0.62" stroke="#220606" stroke-opacity="0.88" stroke-width="2.2"><circle cx="646.1" cy="328.7" r="5.9"/></g>
<g fill="#52f6f6" fill-opacity="0.7" stroke="#041c1c" stroke-opacity="0.88" stroke-width="2.3" stroke-linejoin="miter"><path d="M525.2 347.5l3.5 3.5-3.5 3.5-3.5-3.5z"/><path d="M490.7 444.5l9.2 9.2-9.2 9.2-9.2-9.2z"/><path d="M429 490.7l10.4 10.4-10.4 10.4-10.4-10.4z"/><path d="M517.6 386.8l7.2 7.2-7.2 7.2-7.2-7.2z"/><path d="M443.6 440.9l10.5 10.5-10.5 10.5-10.5-10.5z"/><path d="M324.1 595.8l7.2 7.2-7.2 7.2-7.2-7.2z"/><path d="M548.1 368l4.5 4.5-4.5 4.5-4.5-4.5z"/><path d="M342.1 572.6l7.2 7.2-7.2 7.2-7.2-7.2z"/><path d="M546.2 368.7l5.4 5.4-5.4 5.4-5.4-5.4z"/><path d="M409.3 467.1l9.8 9.8-9.8 9.8-9.8-9.8z"/><path d="M347.8 540.1l9.2 9.2-9.2 9.2-9.2-9.2z"/><path d="M559.3 372.1l4.4 4.4-4.4 4.4-4.4-4.4z"/><path d="M476.3 405.7l8.2 8.2-8.2 8.2-8.2-8.2z"/><path d="M355.7 460.6l9.4 9.4-9.4 9.4-9.4-9.4z"/><path d="M514.1 377l6.2 6.2-6.2 6.2-6.2-6.2z"/></g>
<g fill="#f85656" fill-opacity="0.62" stroke="#220606" stroke-opacity="0.88" stroke-width="2.2"><circle cx="644.2" cy="351.5" r="4.8"/></g>
<g fill="#52f6f6" fill-opacity="0.7" stroke="#041c1c" stroke-opacity="0.88" stroke-width="2.3" stroke-linejoin="miter"><path d="M360.3 523.8l8.2 8.2-8.2 8.2-8.2-8.2z"/><path d="M445.4 442.7l10 10-10 10-10-10z"/><path d="M516.4 341.5l3.4 3.4-3.4 3.4-3.4-3.4z"/><path d="M511.5 398.2l8.8 8.8-8.8 8.8-8.8-8.8z"/><path d="M407 446.7l8.2 8.2-8.2 8.2-8.2-8.2z"/></g>
<g fill="#f85656" fill-opacity="0.62" stroke="#220606" stroke-opacity="0.88" stroke-width="2.2"><circle cx="604" cy="380" r="2.2"/></g>
<g fill="#52f6f6" fill-opacity="0.7" stroke="#041c1c" stroke-opacity="0.88" stroke-width="2.3" stroke-linejoin="miter"><path d="M427.2 473.1l8.9 8.9-8.9 8.9-8.9-8.9z"/><path d="M249.5 565.5l6.4 6.4-6.4 6.4-6.4-6.4z"/><path d="M413.5 476.8l9.6 9.6-9.6 9.6-9.6-9.6z"/></g>
<g fill="#f85656" fill-opacity="0.62" stroke="#220606" stroke-opacity="0.88" stroke-width="2.2"><circle cx="620.8" cy="360.7" r="3.9"/><circle cx="685.6" cy="267.4" r="6.2"/></g>
<g fill="#52f6f6" fill-opacity="0.7" stroke="#041c1c" stroke-opacity="0.88" stroke-width="2.3" stroke-linejoin="miter"><path d="M481.8 457.6l8.3 8.3-8.3 8.3-8.3-8.3z"/><path d="M295.2 524.1l7.9 7.9-7.9 7.9-7.9-7.9z"/><path d="M340 536.4l7.6 7.6-7.6 7.6-7.6-7.6z"/><path d="M363.4 547.7l8.2 8.2-8.2 8.2-8.2-8.2z"/><path d="M552 360.6l3.9 3.9-3.9 3.9-3.9-3.9z"/><path d="M531.3 387.8l7.1 7.1-7.1 7.1-7.1-7.1z"/></g>
<g fill="#f85656" fill-opacity="0.62" stroke="#220606" stroke-opacity="0.88" stroke-width="2.2"><circle cx="639.5" cy="322.9" r="5.3"/></g>
<g fill="#52f6f6" fill-opacity="0.7" stroke="#041c1c" stroke-opacity="0.88" stroke-width="2.3" stroke-linejoin="miter"><path d="M538.1 416.3l8.2 8.2-8.2 8.2-8.2-8.2z"/><path d="M493.3 439.3l8.2 8.2-8.2 8.2-8.2-8.2z"/><path d="M406.8 509.1l9.8 9.8-9.8 9.8-9.8-9.8z"/><path d="M505.9 477.6l7.6 7.6-7.6 7.6-7.6-7.6z"/><path d="M423 490.1l9.5 9.5-9.5 9.5-9.5-9.5z"/><path d="M473.8 481.1l7.9 7.9-7.9 7.9-7.9-7.9z"/><path d="M384.8 498.1l8.4 8.4-8.4 8.4-8.4-8.4z"/><path d="M469.3 454.5l10.2 10.2-10.2 10.2-10.2-10.2z"/><path d="M383.7 511.8l10.1 10.1-10.1 10.1-10.1-10.1z"/><path d="M395.5 469.8l10.7 10.7-10.7 10.7-10.7-10.7z"/><path d="M482.1 383.9l9.5 9.5-9.5 9.5-9.5-9.5z"/><path d="M548.8 510.6l5.2 5.2-5.2 5.2-5.2-5.2z"/></g>
<g fill="#f85656" fill-opacity="0.62" stroke="#220606" stroke-opacity="0.88" stroke-width="2.2"><circle cx="635.6" cy="317.7" r="5.9"/></g>
<g fill="#52f6f6" fill-opacity="0.7" stroke="#041c1c" stroke-opacity="0.88" stroke-width="2.3" stroke-linejoin="miter"><path d="M321.7 541.8l9.2 9.2-9.2 9.2-9.2-9.2z"/></g>
<g fill="#f85656" fill-opacity="0.62" stroke="#220606" stroke-opacity="0.88" stroke-width="2.2"><circle cx="568.7" cy="316.3" r="4.2"/></g>
<g fill="#52f6f6" fill-opacity="0.7" stroke="#041c1c" stroke-opacity="0.88" stroke-width="2.3" stroke-linejoin="miter"><path d="M515.2 341.3l3.5 3.5-3.5 3.5-3.5-3.5z"/></g>
<g fill="#f85656" fill-opacity="0.62" stroke="#220606" stroke-opacity="0.88" stroke-width="2.2"><circle cx="618.1" cy="384.8" r="2.3"/></g>
<g fill="#52f6f6" fill-opacity="0.7" stroke="#041c1c" stroke-opacity="0.88" stroke-width="2.3" stroke-linejoin="miter"><path d="M410.5 455.6l10.5 10.5-10.5 10.5-10.5-10.5z"/><path d="M401.1 503.3l10.5 10.5-10.5 10.5-10.5-10.5z"/></g>
<g fill="#f85656" fill-opacity="0.62" stroke="#220606" stroke-opacity="0.88" stroke-width="2.2"><circle cx="648.4" cy="340.1" r="5.4"/></g>
<g fill="#52f6f6" fill-opacity="0.7" stroke="#041c1c" stroke-opacity="0.88" stroke-width="2.3" stroke-linejoin="miter"><path d="M416.4 475.2l9.4 9.4-9.4 9.4-9.4-9.4z"/><path d="M327.7 549.5l7.8 7.8-7.8 7.8-7.8-7.8z"/><path d="M319.9 525.1l7.3 7.3-7.3 7.3-7.3-7.3z"/><path d="M433 422l9.9 9.9-9.9 9.9-9.9-9.9z"/><path d="M389.3 521.5l9.6 9.6-9.6 9.6-9.6-9.6z"/><path d="M505.1 391.8l8.5 8.5-8.5 8.5-8.5-8.5z"/><path d="M374.7 510l8.4 8.4-8.4 8.4-8.4-8.4z"/><path d="M397.1 480l8.3 8.3-8.3 8.3-8.3-8.3z"/><path d="M297.5 624.8l3.4 3.4-3.4 3.4-3.4-3.4z"/><path d="M354.8 492l7.9 7.9-7.9 7.9-7.9-7.9z"/><path d="M332.6 475.9l8.6 8.6-8.6 8.6-8.6-8.6z"/><path d="M300.1 553.6l6 6-6 6-6-6z"/><path d="M368.8 536.2l8 8-8 8-8-8z"/><path d="M347.4 447.8l9.3 9.3-9.3 9.3-9.3-9.3z"/></g>
<g fill="#f85656" fill-opacity="0.62" stroke="#220606" stroke-opacity="0.88" stroke-width="2.2"><circle cx="568.2" cy="350.9" r="2.3"/></g>
<g fill="#52f6f6" fill-opacity="0.7" stroke="#041c1c" stroke-opacity="0.88" stroke-width="2.3" stroke-linejoin="miter"><path d="M570.1 382.1l4.4 4.4-4.4 4.4-4.4-4.4z"/><path d="M490.9 412.6l9 9-9 9-9-9z"/><path d="M400.6 561.6l7.4 7.4-7.4 7.4-7.4-7.4z"/><path d="M440.6 586.3l4.4 4.4-4.4 4.4-4.4-4.4z"/><path d="M390.2 431.1l9.3 9.3-9.3 9.3-9.3-9.3z"/><path d="M424.8 472.1l9.4 9.4-9.4 9.4-9.4-9.4z"/><path d="M568.9 384.7l4.4 4.4-4.4 4.4-4.4-4.4z"/><path d="M629.9 498.5l3.8 3.8-3.8 3.8-3.8-3.8z"/><path d="M555.3 368.3l4.3 4.3-4.3 4.3-4.3-4.3z"/><path d="M403.7 518.6l8.9 8.9-8.9 8.9-8.9-8.9z"/><path d="M395.8 517.9l8.9 8.9-8.9 8.9-8.9-8.9z"/><path d="M544.5 382.3l5.4 5.4-5.4 5.4-5.4-5.4z"/><path d="M410.7 456.1l11.1 11.1-11.1 11.1-11.1-11.1z"/><path d="M385.2 520.8l7.9 7.9-7.9 7.9-7.9-7.9z"/><path d="M536.7 378.5l5.8 5.8-5.8 5.8-5.8-5.8z"/><path d="M445.6 445l10.4 10.4-10.4 10.4-10.4-10.4z"/><path d="M306.6 513.9l7.5 7.5-7.5 7.5-7.5-7.5z"/><path d="M504 390.1l7.5 7.5-7.5 7.5-7.5-7.5z"/><path d="M393.2 472.8l9.7 9.7-9.7 9.7-9.7-9.7z"/><path d="M537 376.6l5.4 5.4-5.4 5.4-5.4-5.4z"/><path d="M385 507.6l10.4 10.4-10.4 10.4-10.4-10.4z"/><path d="M431.5 482.2l9.6 9.6-9.6 9.6-9.6-9.6z"/></g>
<g fill="#f85656" fill-opacity="0.62" stroke="#220606" stroke-opacity="0.88" stroke-width="2.2"><circle cx="571" cy="330.1" r="3.2"/></g>
<g fill="#52f6f6" fill-opacity="0.7" stroke="#041c1c" stroke-opacity="0.88" stroke-width="2.3" stroke-linejoin="miter"><path d="M442.9 482.9l9 9-9 9-9-9z"/><path d="M497.2 359.7l7 7-7 7-7-7z"/><path d="M425.8 479.5l9.8 9.8-9.8 9.8-9.8-9.8z"/><path d="M369.2 478.5l9 9-9 9-9-9z"/><path d="M487.2 532.7l5.6 5.6-5.6 5.6-5.6-5.6z"/><path d="M418.9 479.7l10.3 10.3-10.3 10.3-10.3-10.3z"/></g>
<g fill="#f85656" fill-opacity="0.62" stroke="#220606" stroke-opacity="0.88" stroke-width="2.2"><circle cx="555.9" cy="331.2" r="3"/><circle cx="699.1" cy="249.3" r="6.6"/></g>
<g fill="#52f6f6" fill-opacity="0.7" stroke="#041c1c" stroke-opacity="0.88" stroke-width="2.3" stroke-linejoin="miter"><path d="M352.9 528.1l9.1 9.1-9.1 9.1-9.1-9.1z"/><path d="M276.2 563.7l4.8 4.8-4.8 4.8-4.8-4.8z"/><path d="M258 582.4l4.6 4.6-4.6 4.6-4.6-4.6z"/><path d="M371.8 546.6l8.5 8.5-8.5 8.5-8.5-8.5z"/><path d="M404.5 476.9l10.2 10.2-10.2 10.2-10.2-10.2z"/><path d="M339.8 536l7.8 7.8-7.8 7.8-7.8-7.8z"/><path d="M375.6 447l9.9 9.9-9.9 9.9-9.9-9.9z"/><path d="M429.1 508.3l9 9-9 9-9-9z"/><path d="M479.7 408.1l9.8 9.8-9.8 9.8-9.8-9.8z"/></g>
<g fill="#f85656" fill-opacity="0.62" stroke="#220606" stroke-opacity="0.88" stroke-width="2.2"><circle cx="595.3" cy="344.6" r="4"/></g>
<g fill="#52f6f6" fill-opacity="0.7" stroke="#041c1c" stroke-opacity="0.88" stroke-width="2.3" stroke-linejoin="miter"><path d="M383.9 539l7.7 7.7-7.7 7.7-7.7-7.7z"/><path d="M301.8 558.7l4.9 4.9-4.9 4.9-4.9-4.9z"/><path d="M432.8 459.2l9.5 9.5-9.5 9.5-9.5-9.5z"/><path d="M532.4 352.9l4.6 4.6-4.6 4.6-4.6-4.6z"/></g>
<g fill="#f85656" fill-opacity="0.62" stroke="#220606" stroke-opacity="0.88" stroke-width="2.2"><circle cx="619.6" cy="286" r="6.1"/></g>
<g fill="#52f6f6" fill-opacity="0.7" stroke="#041c1c" stroke-opacity="0.88" stroke-width="2.3" stroke-linejoin="miter"><path d="M395.6 482.5l10.5 10.5-10.5 10.5-10.5-10.5z"/><path d="M358 572.9l6.7 6.7-6.7 6.7-6.7-6.7z"/><path d="M315.2 591.4l5.1 5.1-5.1 5.1-5.1-5.1z"/><path d="M458.8 403l10.6 10.6-10.6 10.6-10.6-10.6z"/></g>
<g fill="#f85656" fill-opacity="0.62" stroke="#220606" stroke-opacity="0.88" stroke-width="2.2"><circle cx="537.6" cy="336.3" r="1.9"/></g>
<g fill="#52f6f6" fill-opacity="0.7" stroke="#041c1c" stroke-opacity="0.88" stroke-width="2.3" stroke-linejoin="miter"><path d="M539.8 367.7l5.3 5.3-5.3 5.3-5.3-5.3z"/><path d="M313.7 479.5l7.1 7.1-7.1 7.1-7.1-7.1z"/><path d="M416.6 474.7l9.8 9.8-9.8 9.8-9.8-9.8z"/><path d="M529.1 392.8l6.8 6.8-6.8 6.8-6.8-6.8z"/><path d="M561.9 374.3l4.2 4.2-4.2 4.2-4.2-4.2z"/><path d="M339 490.4l9.6 9.6-9.6 9.6-9.6-9.6z"/><path d="M538.8 406.2l7.2 7.2-7.2 7.2-7.2-7.2z"/><path d="M515.7 444.6l9.5 9.5-9.5 9.5-9.5-9.5z"/><path d="M339.7 486.9l8.8 8.8-8.8 8.8-8.8-8.8z"/><path d="M458.5 452l11 11-11 11-11-11z"/><path d="M472.1 407.8l9.4 9.4-9.4 9.4-9.4-9.4z"/><path d="M504.2 385.7l8.2 8.2-8.2 8.2-8.2-8.2z"/><path d="M380.3 440.1l8.4 8.4-8.4 8.4-8.4-8.4z"/><path d="M600.6 496.6l4.2 4.2-4.2 4.2-4.2-4.2z"/><path d="M321.9 559.6l4.7 4.7-4.7 4.7-4.7-4.7z"/><path d="M334.4 587.1l6.8 6.8-6.8 6.8-6.8-6.8z"/><path d="M392.6 425.5l9.7 9.7-9.7 9.7-9.7-9.7z"/></g>
<g fill="#f85656" fill-opacity="0.62" stroke="#220606" stroke-opacity="0.88" stroke-width="2.2"><circle cx="684" cy="298.9" r="6.9"/></g>
<g fill="#52f6f6" fill-opacity="0.7" stroke="#041c1c" stroke-opacity="0.88" stroke-width="2.3" stroke-linejoin="miter"><path d="M378.8 544.1l8.1 8.1-8.1 8.1-8.1-8.1z"/></g>
<g fill="#f85656" fill-opacity="0.62" stroke="#220606" stroke-opacity="0.88" stroke-width="2.2"><circle cx="589" cy="302.5" r="5.2"/></g>
<g fill="#52f6f6" fill-opacity="0.7" stroke="#041c1c" stroke-opacity="0.88" stroke-width="2.3" stroke-linejoin="miter"><path d="M347.9 554.7l7.8 7.8-7.8 7.8-7.8-7.8z"/></g>
<g fill="#f85656" fill-opacity="0.62" stroke="#220606" stroke-opacity="0.88" stroke-width="2.2"><circle cx="769.7" cy="210.3" r="7"/></g>
<g fill="#52f6f6" fill-opacity="0.7" stroke="#041c1c" stroke-opacity="0.88" stroke-width="2.3" stroke-linejoin="miter"><path d="M367.3 442.7l8.8 8.8-8.8 8.8-8.8-8.8z"/><path d="M390 526.9l7.5 7.5-7.5 7.5-7.5-7.5z"/><path d="M489.9 418.7l10.1 10.1-10.1 10.1-10.1-10.1z"/><path d="M301.5 508.4l7.2 7.2-7.2 7.2-7.2-7.2z"/><path d="M330.2 508l9.9 9.9-9.9 9.9-9.9-9.9z"/><path d="M401.6 450.7l8.4 8.4-8.4 8.4-8.4-8.4z"/><path d="M345.9 394l7.2 7.2-7.2 7.2-7.2-7.2z"/><path d="M206.2 510.8l5 5-5 5-5-5z"/><path d="M457.8 469.3l8.3 8.3-8.3 8.3-8.3-8.3z"/><path d="M324.4 534.6l8.4 8.4-8.4 8.4-8.4-8.4z"/><path d="M520.9 407.5l9.4 9.4-9.4 9.4-9.4-9.4z"/><path d="M394.8 440.8l9.2 9.2-9.2 9.2-9.2-9.2z"/></g>
<g fill="#f85656" fill-opacity="0.62" stroke="#220606" stroke-opacity="0.88" stroke-width="2.2"><circle cx="729.4" cy="238.8" r="6.8"/></g>
<g fill="#52f6f6" fill-opacity="0.7" stroke="#041c1c" stroke-opacity="0.88" stroke-width="2.3" stroke-linejoin="miter"><path d="M443.1 430.8l8.3 8.3-8.3 8.3-8.3-8.3z"/><path d="M414.8 466.1l11.2 11.2-11.2 11.2-11.2-11.2z"/><path d="M447 450.2l9.7 9.7-9.7 9.7-9.7-9.7z"/><path d="M405.4 411.6l9.5 9.5-9.5 9.5-9.5-9.5z"/><path d="M388.2 495.8l10.7 10.7-10.7 10.7-10.7-10.7z"/><path d="M554.9 376.4l4.3 4.3-4.3 4.3-4.3-4.3z"/><path d="M431.9 464.8l9.5 9.5-9.5 9.5-9.5-9.5z"/><path d="M568.2 390.1l4.5 4.5-4.5 4.5-4.5-4.5z"/><path d="M407.1 505.4l8.1 8.1-8.1 8.1-8.1-8.1z"/></g>
<g fill="#f85656" fill-opacity="0.62" stroke="#220606" stroke-opacity="0.88" stroke-width="2.2"><circle cx="669.9" cy="312" r="6.2"/></g>
<g fill="#52f6f6" fill-opacity="0.7" stroke="#041c1c" stroke-opacity="0.88" stroke-width="2.3" stroke-linejoin="miter"><path d="M423.9 398l7.9 7.9-7.9 7.9-7.9-7.9z"/><path d="M521.2 408.5l7 7-7 7-7-7z"/><path d="M478.5 406.8l8.6 8.6-8.6 8.6-8.6-8.6z"/></g>
<g fill="#f85656" fill-opacity="0.62" stroke="#220606" stroke-opacity="0.88" stroke-width="2.2"><circle cx="757.4" cy="260" r="7"/></g>
<g fill="#52f6f6" fill-opacity="0.7" stroke="#041c1c" stroke-opacity="0.88" stroke-width="2.3" stroke-linejoin="miter"><path d="M505.1 466.6l8.6 8.6-8.6 8.6-8.6-8.6z"/><path d="M339.1 483.7l7.5 7.5-7.5 7.5-7.5-7.5z"/><path d="M529.4 339l3.8 3.8-3.8 3.8-3.8-3.8z"/><path d="M554 379.3l4.6 4.6-4.6 4.6-4.6-4.6z"/><path d="M316.6 404.2l8.2 8.2-8.2 8.2-8.2-8.2z"/><path d="M443.5 421.3l9.2 9.2-9.2 9.2-9.2-9.2z"/><path d="M367.9 553.5l7.8 7.8-7.8 7.8-7.8-7.8z"/><path d="M431 443.9l9 9-9 9-9-9z"/><path d="M406.4 520.6l8.5 8.5-8.5 8.5-8.5-8.5z"/><path d="M327.1 528l7.3 7.3-7.3 7.3-7.3-7.3z"/><path d="M333.3 571.7l4.6 4.6-4.6 4.6-4.6-4.6z"/></g>
<g fill="#f85656" fill-opacity="0.62" stroke="#220606" stroke-opacity="0.88" stroke-width="2.2"><circle cx="654.2" cy="319.5" r="5.4"/><circle cx="616.5" cy="300.3" r="6"/></g>
<g fill="#52f6f6" fill-opacity="0.7" stroke="#041c1c" stroke-opacity="0.88" stroke-width="2.3" stroke-linejoin="miter"><path d="M451.5 513.6l9.3 9.3-9.3 9.3-9.3-9.3z"/><path d="M374.9 503.4l8.4 8.4-8.4 8.4-8.4-8.4z"/><path d="M508.7 461.8l7.9 7.9-7.9 7.9-7.9-7.9z"/><path d="M437.6 467.1l10.6 10.6-10.6 10.6-10.6-10.6z"/><path d="M412.7 451.9l10.4 10.4-10.4 10.4-10.4-10.4z"/><path d="M532.2 365.2l4.8 4.8-4.8 4.8-4.8-4.8z"/><path d="M336.3 461.7l8 8-8 8-8-8z"/><path d="M324.7 468.4l7.8 7.8-7.8 7.8-7.8-7.8z"/><path d="M317.3 500.7l8.8 8.8-8.8 8.8-8.8-8.8z"/><path d="M354 523.6l8.8 8.8-8.8 8.8-8.8-8.8z"/><path d="M350.9 577.3l6.8 6.8-6.8 6.8-6.8-6.8z"/><path d="M467 447.1l10.6 10.6-10.6 10.6-10.6-10.6z"/><path d="M461.7 495.3l9.2 9.2-9.2 9.2-9.2-9.2z"/><path d="M443.5 521l7.6 7.6-7.6 7.6-7.6-7.6z"/><path d="M401.1 433.8l8.8 8.8-8.8 8.8-8.8-8.8z"/><path d="M504.9 388.8l8.7 8.7-8.7 8.7-8.7-8.7z"/><path d="M414.5 519.5l7.7 7.7-7.7 7.7-7.7-7.7z"/><path d="M502.3 426.1l7.9 7.9-7.9 7.9-7.9-7.9z"/><path d="M506.9 431.6l9.4 9.4-9.4 9.4-9.4-9.4z"/><path d="M469.9 434.8l10.7 10.7-10.7 10.7-10.7-10.7z"/></g>
<g fill="#f85656" fill-opacity="0.62" stroke="#220606" stroke-opacity="0.88" stroke-width="2.2"><circle cx="701.5" cy="344.6" r="5.6"/></g>
<g fill="#52f6f6" fill-opacity="0.7" stroke="#041c1c" stroke-opacity="0.88" stroke-width="2.3" stroke-linejoin="miter"><path d="M349.7 523.6l9.4 9.4-9.4 9.4-9.4-9.4z"/><path d="M467 369.9l7.7 7.7-7.7 7.7-7.7-7.7z"/><path d="M518.4 348.2l4.5 4.5-4.5 4.5-4.5-4.5z"/><path d="M288.4 419.1l7.6 7.6-7.6 7.6-7.6-7.6z"/><path d="M400.9 552l7.1 7.1-7.1 7.1-7.1-7.1z"/><path d="M556.7 495.2l5.6 5.6-5.6 5.6-5.6-5.6z"/><path d="M466.8 458.5l8.1 8.1-8.1 8.1-8.1-8.1z"/><path d="M345.7 483.3l8 8-8 8-8-8z"/><path d="M346.3 523.2l8 8-8 8-8-8z"/><path d="M445.2 367.6l7.7 7.7-7.7 7.7-7.7-7.7z"/><path d="M313.1 527.2l8.9 8.9-8.9 8.9-8.9-8.9z"/><path d="M478.4 389.9l7.3 7.3-7.3 7.3-7.3-7.3z"/><path d="M458.9 563.7l6.7 6.7-6.7 6.7-6.7-6.7z"/><path d="M516.8 399.7l7.9 7.9-7.9 7.9-7.9-7.9z"/><path d="M407.1 456.4l9.4 9.4-9.4 9.4-9.4-9.4z"/><path d="M467.9 426.7l11.1 11.1-11.1 11.1-11.1-11.1z"/><path d="M389.9 523.2l8.8 8.8-8.8 8.8-8.8-8.8z"/><path d="M445.1 400.3l10.4 10.4-10.4 10.4-10.4-10.4z"/><path d="M362.5 464.8l9.9 9.9-9.9 9.9-9.9-9.9z"/><path d="M389.8 530.7l8 8-8 8-8-8z"/></g>
<g fill="#f85656" fill-opacity="0.62" stroke="#220606" stroke-opacity="0.88" stroke-width="2.2"><circle cx="576.8" cy="356" r="2.2"/></g>
<g fill="#52f6f6" fill-opacity="0.7" stroke="#041c1c" stroke-opacity="0.88" stroke-width="2.3" stroke-linejoin="miter"><path d="M461 507.8l7.7 7.7-7.7 7.7-7.7-7.7z"/></g>
<g fill="#f85656" fill-opacity="0.62" stroke="#220606" stroke-opacity="0.88" stroke-width="2.2"><circle cx="644.1" cy="284.8" r="6.4"/></g>
<g fill="#52f6f6" fill-opacity="0.7" stroke="#041c1c" stroke-opacity="0.88" stroke-width="2.3" stroke-linejoin="miter"><path d="M552.1 380.4l5.7 5.7-5.7 5.7-5.7-5.7z"/><path d="M376.4 505.6l9.8 9.8-9.8 9.8-9.8-9.8z"/><path d="M520.8 341.9l3.8 3.8-3.8 3.8-3.8-3.8z"/><path d="M311.2 524.8l7.3 7.3-7.3 7.3-7.3-7.3z"/><path d="M424.6 513.9l9.3 9.3-9.3 9.3-9.3-9.3z"/><path d="M504.7 377.5l6 6-6 6-6-6z"/><path d="M383.3 453.9l10.9 10.9-10.9 10.9-10.9-10.9z"/><path d="M417.2 556.3l7.6 7.6-7.6 7.6-7.6-7.6z"/><path d="M539.4 370.9l5.6 5.6-5.6 5.6-5.6-5.6z"/></g>
<g fill="#f85656" fill-opacity="0.62" stroke="#220606" stroke-opacity="0.88" stroke-width="2.2"><circle cx="594.1" cy="354" r="3.3"/></g>
<g fill="#52f6f6" fill-opacity="0.7" stroke="#041c1c" stroke-opacity="0.88" stroke-width="2.3" stroke-linejoin="miter"><path d="M407.2 508.3l9.2 9.2-9.2 9.2-9.2-9.2z"/><path d="M401.1 457.4l10.4 10.4-10.4 10.4-10.4-10.4z"/><path d="M482.1 370.1l7.3 7.3-7.3 7.3-7.3-7.3z"/><path d="M522.7 394l6.8 6.8-6.8 6.8-6.8-6.8z"/><path d="M442.4 489.3l9.2 9.2-9.2 9.2-9.2-9.2z"/><path d="M562.9 405.9l6 6-6 6-6-6z"/><path d="M340.9 497.7l9.9 9.9-9.9 9.9-9.9-9.9z"/><path d="M330.3 525.8l7.5 7.5-7.5 7.5-7.5-7.5z"/><path d="M462.7 463.5l10.4 10.4-10.4 10.4-10.4-10.4z"/><path d="M394.5 417.2l7.4 7.4-7.4 7.4-7.4-7.4z"/><path d="M465.2 459.6l10.3 10.3-10.3 10.3-10.3-10.3z"/><path d="M552.7 371l4 4-4 4-4-4z"/><path d="M432.4 406l8 8-8 8-8-8z"/><path d="M375.4 490.4l9.1 9.1-9.1 9.1-9.1-9.1z"/><path d="M544 449l8.1 8.1-8.1 8.1-8.1-8.1z"/></g>
<g fill="#f85656" fill-opacity="0.62" stroke="#220606" stroke-opacity="0.88" stroke-width="2.2"><circle cx="629.2" cy="316.4" r="5.6"/></g>
<g fill="#52f6f6" fill-opacity="0.7" stroke="#041c1c" stroke-opacity="0.88" stroke-width="2.3" stroke-linejoin="miter"><path d="M552.6 352.6l3.4 3.4-3.4 3.4-3.4-3.4z"/></g>
<g fill="#f85656" fill-opacity="0.62" stroke="#220606" stroke-opacity="0.88" stroke-width="2.2"><circle cx="645" cy="294.6" r="6.1"/><circle cx="693.1" cy="298.2" r="5.6"/></g>
<g fill="#52f6f6" fill-opacity="0.7" stroke="#041c1c" stroke-opacity="0.88" stroke-width="2.3" stroke-linejoin="miter"><path d="M424.8 534.7l7.7 7.7-7.7 7.7-7.7-7.7z"/><path d="M478.5 406.1l11 11-11 11-11-11z"/><path d="M536.4 450.8l7.4 7.4-7.4 7.4-7.4-7.4z"/><path d="M508.2 321.8l3 3-3 3-3-3z"/><path d="M457.9 443.1l10.9 10.9-10.9 10.9-10.9-10.9z"/><path d="M333.8 470.4l9.3 9.3-9.3 9.3-9.3-9.3z"/><path d="M399 515l8.2 8.2-8.2 8.2-8.2-8.2z"/><path d="M378.9 498.8l9.5 9.5-9.5 9.5-9.5-9.5z"/><path d="M541.3 365.4l4.3 4.3-4.3 4.3-4.3-4.3z"/><path d="M342.1 533.7l7.8 7.8-7.8 7.8-7.8-7.8z"/><path d="M514.9 415.4l8.5 8.5-8.5 8.5-8.5-8.5z"/></g>
<g fill="#f85656" fill-opacity="0.62" stroke="#220606" stroke-opacity="0.88" stroke-width="2.2"><circle cx="609.8" cy="304.7" r="5.6"/></g>
<g fill="#52f6f6" fill-opacity="0.7" stroke="#041c1c" stroke-opacity="0.88" stroke-width="2.3" stroke-linejoin="miter"><path d="M427.9 454.5l10.9 10.9-10.9 10.9-10.9-10.9z"/><path d="M412.4 442.1l10 10-10 10-10-10z"/><path d="M577 438.7l6 6-6 6-6-6z"/><path d="M449.9 378.5l7.6 7.6-7.6 7.6-7.6-7.6z"/><path d="M380.2 463.5l8.4 8.4-8.4 8.4-8.4-8.4z"/><path d="M292.8 501l7.3 7.3-7.3 7.3-7.3-7.3z"/><path d="M342.6 503.8l9.7 9.7-9.7 9.7-9.7-9.7z"/><path d="M373 484.9l8.9 8.9-8.9 8.9-8.9-8.9z"/><path d="M461.1 441.9l9.4 9.4-9.4 9.4-9.4-9.4z"/><path d="M475 475.8l10.1 10.1-10.1 10.1-10.1-10.1z"/><path d="M418.5 428l8.3 8.3-8.3 8.3-8.3-8.3z"/><path d="M519.8 396.5l7.6 7.6-7.6 7.6-7.6-7.6z"/><path d="M533.2 394.2l6.3 6.3-6.3 6.3-6.3-6.3z"/><path d="M436.6 458.2l8.5 8.5-8.5 8.5-8.5-8.5z"/><path d="M431.5 477.8l9.1 9.1-9.1 9.1-9.1-9.1z"/><path d="M372.8 458l9.1 9.1-9.1 9.1-9.1-9.1z"/><path d="M496.8 433l9 9-9 9-9-9z"/><path d="M434.6 480l10.5 10.5-10.5 10.5-10.5-10.5z"/><path d="M456.3 501.5l7.9 7.9-7.9 7.9-7.9-7.9z"/><path d="M423.3 388.9l9.7 9.7-9.7 9.7-9.7-9.7z"/><path d="M446.9 503.2l9.7 9.7-9.7 9.7-9.7-9.7z"/><path d="M488.9 468l9.9 9.9-9.9 9.9-9.9-9.9z"/><path d="M421.5 490.7l10.2 10.2-10.2 10.2-10.2-10.2z"/><path d="M395 447.6l10.7 10.7-10.7 10.7-10.7-10.7z"/><path d="M435.3 432.3l8.7 8.7-8.7 8.7-8.7-8.7z"/><path d="M418.1 451l10.4 10.4-10.4 10.4-10.4-10.4z"/><path d="M460.8 430.9l11.1 11.1-11.1 11.1-11.1-11.1z"/><path d="M499.3 440.7l10.5 10.5-10.5 10.5-10.5-10.5z"/><path d="M396.6 441.7l9.4 9.4-9.4 9.4-9.4-9.4z"/><path d="M300.4 504.4l8 8-8 8-8-8z"/><path d="M474.5 565.6l7 7-7 7-7-7z"/><path d="M449.9 445.5l8.7 8.7-8.7 8.7-8.7-8.7z"/></g>
<g fill="#f85656" fill-opacity="0.62" stroke="#220606" stroke-opacity="0.88" stroke-width="2.2"><circle cx="729.7" cy="248.2" r="7"/></g>
<g fill="#52f6f6" fill-opacity="0.7" stroke="#041c1c" stroke-opacity="0.88" stroke-width="2.3" stroke-linejoin="miter"><path d="M287.2 547.4l8.1 8.1-8.1 8.1-8.1-8.1z"/><path d="M508.2 456.6l8.3 8.3-8.3 8.3-8.3-8.3z"/><path d="M537 427l6.9 6.9-6.9 6.9-6.9-6.9z"/><path d="M455.4 450.4l9.8 9.8-9.8 9.8-9.8-9.8z"/><path d="M349.2 547.5l9.4 9.4-9.4 9.4-9.4-9.4z"/><path d="M506.9 424.8l8.4 8.4-8.4 8.4-8.4-8.4z"/><path d="M423.7 487.5l9.2 9.2-9.2 9.2-9.2-9.2z"/><path d="M489.4 505.8l7.2 7.2-7.2 7.2-7.2-7.2z"/><path d="M508.1 457.8l7.5 7.5-7.5 7.5-7.5-7.5z"/><path d="M503.5 392.6l7.4 7.4-7.4 7.4-7.4-7.4z"/></g>
<g fill="#f85656" fill-opacity="0.62" stroke="#220606" stroke-opacity="0.88" stroke-width="2.2"><circle cx="663.8" cy="322.5" r="6.7"/></g>
<g fill="#52f6f6" fill-opacity="0.7" stroke="#041c1c" stroke-opacity="0.88" stroke-width="2.3" stroke-linejoin="miter"><path d="M312.4 554.1l8.9 8.9-8.9 8.9-8.9-8.9z"/><path d="M376 504.3l10.1 10.1-10.1 10.1-10.1-10.1z"/><path d="M557.8 383l4.6 4.6-4.6 4.6-4.6-4.6z"/><path d="M501.1 374.1l7.6 7.6-7.6 7.6-7.6-7.6z"/><path d="M375.7 534.7l9 9-9 9-9-9z"/><path d="M598.4 408.1l2.8 2.8-2.8 2.8-2.8-2.8z"/><path d="M276.5 550.9l5 5-5 5-5-5z"/><path d="M506.4 363.9l5 5-5 5-5-5z"/><path d="M456.7 456.3l8.3 8.3-8.3 8.3-8.3-8.3z"/></g>
<g fill="#f85656" fill-opacity="0.62" stroke="#220606" stroke-opacity="0.88" stroke-width="2.2"><circle cx="744.1" cy="192.3" r="7.2"/></g>
<g fill="#52f6f6" fill-opacity="0.7" stroke="#041c1c" stroke-opacity="0.88" stroke-width="2.3" stroke-linejoin="miter"><path d="M535 389.5l7.5 7.5-7.5 7.5-7.5-7.5z"/></g>
<g fill="#f85656" fill-opacity="0.62" stroke="#220606" stroke-opacity="0.88" stroke-width="2.2"><circle cx="635" cy="386" r="2.4"/><circle cx="544.6" cy="277.4" r="5.2"/></g>
<g fill="#52f6f6" fill-opacity="0.7" stroke="#041c1c" stroke-opacity="0.88" stroke-width="2.3" stroke-linejoin="miter"><path d="M416.9 444l10.9 10.9-10.9 10.9-10.9-10.9z"/><path d="M479.4 427.7l11.1 11.1-11.1 11.1-11.1-11.1z"/><path d="M397.9 471l10.1 10.1-10.1 10.1-10.1-10.1z"/><path d="M502.8 452.4l10.2 10.2-10.2 10.2-10.2-10.2z"/><path d="M541.1 363.8l5.1 5.1-5.1 5.1-5.1-5.1z"/><path d="M326.9 579.7l5.6 5.6-5.6 5.6-5.6-5.6z"/></g>
<g fill="#f85656" fill-opacity="0.62" stroke="#220606" stroke-opacity="0.88" stroke-width="2.2"><circle cx="551.8" cy="307.2" r="3.6"/></g>
<g fill="#52f6f6" fill-opacity="0.7" stroke="#041c1c" stroke-opacity="0.88" stroke-width="2.3" stroke-linejoin="miter"><path d="M399.9 459.9l9.6 9.6-9.6 9.6-9.6-9.6z"/><path d="M358 485.1l8.9 8.9-8.9 8.9-8.9-8.9z"/><path d="M348 485.2l8.8 8.8-8.8 8.8-8.8-8.8z"/><path d="M382.8 521.4l9 9-9 9-9-9z"/></g>
<g fill="#f85656" fill-opacity="0.62" stroke="#220606" stroke-opacity="0.88" stroke-width="2.2"><circle cx="607.7" cy="326.7" r="5.1"/></g>
<g fill="#52f6f6" fill-opacity="0.7" stroke="#041c1c" stroke-opacity="0.88" stroke-width="2.3" stroke-linejoin="miter"><path d="M547.1 363.7l3.9 3.9-3.9 3.9-3.9-3.9z"/><path d="M353.8 609l4.2 4.2-4.2 4.2-4.2-4.2z"/><path d="M346.6 493.7l8.4 8.4-8.4 8.4-8.4-8.4z"/><path d="M447.1 428.1l10.5 10.5-10.5 10.5-10.5-10.5z"/><path d="M404.5 372.2l6.5 6.5-6.5 6.5-6.5-6.5z"/><path d="M373.5 458.6l9.2 9.2-9.2 9.2-9.2-9.2z"/></g>
<g fill="#f85656" fill-opacity="0.62" stroke="#220606" stroke-opacity="0.88" stroke-width="2.2"><circle cx="670.1" cy="323.1" r="5.7"/></g>
<g fill="#52f6f6" fill-opacity="0.7" stroke="#041c1c" stroke-opacity="0.88" stroke-width="2.3" stroke-linejoin="miter"><path d="M333.6 481.5l9.6 9.6-9.6 9.6-9.6-9.6z"/><path d="M412.3 479.1l10.4 10.4-10.4 10.4-10.4-10.4z"/><path d="M448 441.4l10.1 10.1-10.1 10.1-10.1-10.1z"/><path d="M388.4 414.4l8.4 8.4-8.4 8.4-8.4-8.4z"/><path d="M584.9 375.5l3.2 3.2-3.2 3.2-3.2-3.2z"/><path d="M399.4 544.4l6.8 6.8-6.8 6.8-6.8-6.8z"/><path d="M352.8 529.2l9.6 9.6-9.6 9.6-9.6-9.6z"/><path d="M523.4 402.7l6.4 6.4-6.4 6.4-6.4-6.4z"/><path d="M391.7 459.5l9.1 9.1-9.1 9.1-9.1-9.1z"/></g>
<g fill="#f85656" fill-opacity="0.62" stroke="#220606" stroke-opacity="0.88" stroke-width="2.2"><circle cx="582.4" cy="355.8" r="2.7"/></g>
<g fill="#52f6f6" fill-opacity="0.7" stroke="#041c1c" stroke-opacity="0.88" stroke-width="2.3" stroke-linejoin="miter"><path d="M276.4 582.4l5.5 5.5-5.5 5.5-5.5-5.5z"/></g>
<g fill="#f85656" fill-opacity="0.62" stroke="#220606" stroke-opacity="0.88" stroke-width="2.2"><circle cx="529.6" cy="327.3" r="2.1"/></g>
<g fill="#52f6f6" fill-opacity="0.7" stroke="#041c1c" stroke-opacity="0.88" stroke-width="2.3" stroke-linejoin="miter"><path d="M428.7 486.4l10.1 10.1-10.1 10.1-10.1-10.1z"/><path d="M425.2 474.1l8.7 8.7-8.7 8.7-8.7-8.7z"/><path d="M209.6 493.4l5.2 5.2-5.2 5.2-5.2-5.2z"/><path d="M366.5 454.6l10.2 10.2-10.2 10.2-10.2-10.2z"/><path d="M303.8 497.2l8.8 8.8-8.8 8.8-8.8-8.8z"/><path d="M477.7 482.4l8 8-8 8-8-8z"/><path d="M332.1 504.7l8.8 8.8-8.8 8.8-8.8-8.8z"/><path d="M382.2 530.6l7.4 7.4-7.4 7.4-7.4-7.4z"/><path d="M545.9 400.6l7.5 7.5-7.5 7.5-7.5-7.5z"/><path d="M425.6 417.5l9.5 9.5-9.5 9.5-9.5-9.5z"/><path d="M341 444.9l8.4 8.4-8.4 8.4-8.4-8.4z"/><path d="M362.7 546.4l8.3 8.3-8.3 8.3-8.3-8.3z"/><path d="M359.2 479.7l10 10-10 10-10-10z"/><path d="M525.6 332.4l2.4 2.4-2.4 2.4-2.4-2.4z"/><path d="M570.4 387.9l5.4 5.4-5.4 5.4-5.4-5.4z"/><path d="M363.5 568l4.9 4.9-4.9 4.9-4.9-4.9z"/><path d="M324.2 486.6l7.7 7.7-7.7 7.7-7.7-7.7z"/><path d="M524.5 363.9l6 6-6 6-6-6z"/><path d="M493.3 441.9l10.2 10.2-10.2 10.2-10.2-10.2z"/></g>
<g fill="#f85656" fill-opacity="0.62" stroke="#220606" stroke-opacity="0.88" stroke-width="2.2"><circle cx="676.4" cy="234.4" r="7.5"/></g>
<g fill="#52f6f6" fill-opacity="0.7" stroke="#041c1c" stroke-opacity="0.88" stroke-width="2.3" stroke-linejoin="miter"><path d="M406.4 545.2l7.9 7.9-7.9 7.9-7.9-7.9z"/></g>
<g fill="#f85656" fill-opacity="0.62" stroke="#220606" stroke-opacity="0.88" stroke-width="2.2"><circle cx="684.3" cy="279.7" r="5.6"/></g>
<g fill="#52f6f6" fill-opacity="0.7" stroke="#041c1c" stroke-opacity="0.88" stroke-width="2.3" stroke-linejoin="miter"><path d="M537.3 362.7l4 4-4 4-4-4z"/><path d="M417.2 401.6l9.7 9.7-9.7 9.7-9.7-9.7z"/><path d="M366.2 445.7l9.2 9.2-9.2 9.2-9.2-9.2z"/><path d="M313 595.5l4.9 4.9-4.9 4.9-4.9-4.9z"/><path d="M468.5 463.5l7.7 7.7-7.7 7.7-7.7-7.7z"/><path d="M352.8 519.4l7.9 7.9-7.9 7.9-7.9-7.9z"/></g>
<g fill="#f85656" fill-opacity="0.62" stroke="#220606" stroke-opacity="0.88" stroke-width="2.2"><circle cx="658.5" cy="309.6" r="5.9"/></g>
<g fill="#52f6f6" fill-opacity="0.7" stroke="#041c1c" stroke-opacity="0.88" stroke-width="2.3" stroke-linejoin="miter"><path d="M327.5 510.4l8.8 8.8-8.8 8.8-8.8-8.8z"/><path d="M456.9 438.1l10.7 10.7-10.7 10.7-10.7-10.7z"/><path d="M337.8 466l9 9-9 9-9-9z"/><path d="M426.2 396.6l8.5 8.5-8.5 8.5-8.5-8.5z"/><path d="M501.2 428.8l9.3 9.3-9.3 9.3-9.3-9.3z"/><path d="M478.6 376l8.4 8.4-8.4 8.4-8.4-8.4z"/><path d="M527.3 385.8l6.3 6.3-6.3 6.3-6.3-6.3z"/><path d="M485.4 414.4l9 9-9 9-9-9z"/><path d="M384.7 503.5l9.7 9.7-9.7 9.7-9.7-9.7z"/><path d="M307.9 517.3l7.6 7.6-7.6 7.6-7.6-7.6z"/></g>
<g fill="#f85656" fill-opacity="0.62" stroke="#220606" stroke-opacity="0.88" stroke-width="2.2"><circle cx="599" cy="313.4" r="4.7"/></g>
<g fill="#52f6f6" fill-opacity="0.7" stroke="#041c1c" stroke-opacity="0.88" stroke-width="2.3" stroke-linejoin="miter"><path d="M320 637.7l3.2 3.2-3.2 3.2-3.2-3.2z"/><path d="M386.4 509l9.3 9.3-9.3 9.3-9.3-9.3z"/><path d="M449.9 445.9l10.3 10.3-10.3 10.3-10.3-10.3z"/></g>
<g fill="#f85656" fill-opacity="0.62" stroke="#220606" stroke-opacity="0.88" stroke-width="2.2"><circle cx="646.1" cy="303.4" r="6.1"/></g>
<g fill="#52f6f6" fill-opacity="0.7" stroke="#041c1c" stroke-opacity="0.88" stroke-width="2.3" stroke-linejoin="miter"><path d="M364.2 566.3l6.5 6.5-6.5 6.5-6.5-6.5z"/><path d="M574.7 409.6l6.6 6.6-6.6 6.6-6.6-6.6z"/><path d="M426.8 448.1l10.6 10.6-10.6 10.6-10.6-10.6z"/></g>
<g fill="#f85656" fill-opacity="0.62" stroke="#220606" stroke-opacity="0.88" stroke-width="2.2"><circle cx="575.2" cy="358" r="2.2"/></g>
<g fill="#52f6f6" fill-opacity="0.7" stroke="#041c1c" stroke-opacity="0.88" stroke-width="2.3" stroke-linejoin="miter"><path d="M513.1 424.3l9.7 9.7-9.7 9.7-9.7-9.7z"/><path d="M410.9 492.9l9.1 9.1-9.1 9.1-9.1-9.1z"/><path d="M554.4 385.5l5 5-5 5-5-5z"/><path d="M555.5 377l4.6 4.6-4.6 4.6-4.6-4.6z"/><path d="M505.1 393.2l6.6 6.6-6.6 6.6-6.6-6.6z"/><path d="M358.9 514.3l8.5 8.5-8.5 8.5-8.5-8.5z"/></g>
<g fill="#f85656" fill-opacity="0.62" stroke="#220606" stroke-opacity="0.88" stroke-width="2.2"><circle cx="649.3" cy="287.4" r="5.8"/></g>
<g fill="#52f6f6" fill-opacity="0.7" stroke="#041c1c" stroke-opacity="0.88" stroke-width="2.3" stroke-linejoin="miter"><path d="M388.1 551.9l6.9 6.9-6.9 6.9-6.9-6.9z"/><path d="M485.2 376.8l7.9 7.9-7.9 7.9-7.9-7.9z"/><path d="M511.4 360.2l4.6 4.6-4.6 4.6-4.6-4.6z"/><path d="M356.4 422.4l6.7 6.7-6.7 6.7-6.7-6.7z"/><path d="M342.3 463.6l8 8-8 8-8-8z"/></g>
<g fill="#f85656" fill-opacity="0.62" stroke="#220606" stroke-opacity="0.88" stroke-width="2.2"><circle cx="603.3" cy="314.2" r="5.1"/></g>
<g fill="#52f6f6" fill-opacity="0.7" stroke="#041c1c" stroke-opacity="0.88" stroke-width="2.3" stroke-linejoin="miter"><path d="M506 384.5l7.2 7.2-7.2 7.2-7.2-7.2z"/><path d="M375.1 455.1l7.9 7.9-7.9 7.9-7.9-7.9z"/><path d="M530.9 384.4l6 6-6 6-6-6z"/><path d="M501.5 369.8l6.1 6.1-6.1 6.1-6.1-6.1z"/><path d="M405.3 436.8l10.2 10.2-10.2 10.2-10.2-10.2z"/></g>
<g fill="#f85656" fill-opacity="0.62" stroke="#220606" stroke-opacity="0.88" stroke-width="2.2"><circle cx="625.9" cy="354.8" r="4.2"/></g>
<g fill="#52f6f6" fill-opacity="0.7" stroke="#041c1c" stroke-opacity="0.88" stroke-width="2.3" stroke-linejoin="miter"><path d="M388.1 454.7l9.2 9.2-9.2 9.2-9.2-9.2z"/><path d="M491.4 478.2l7.5 7.5-7.5 7.5-7.5-7.5z"/><path d="M388.1 514.3l7.8 7.8-7.8 7.8-7.8-7.8z"/><path d="M427.4 463.4l9.1 9.1-9.1 9.1-9.1-9.1z"/></g>
<g fill="#f85656" fill-opacity="0.62" stroke="#220606" stroke-opacity="0.88" stroke-width="2.2"><circle cx="655.3" cy="321.9" r="5.6"/></g>
<g fill="#52f6f6" fill-opacity="0.7" stroke="#041c1c" stroke-opacity="0.88" stroke-width="2.3" stroke-linejoin="miter"><path d="M472.2 450l8.9 8.9-8.9 8.9-8.9-8.9z"/><path d="M454.6 435l9 9-9 9-9-9z"/><path d="M475.6 472.8l8.5 8.5-8.5 8.5-8.5-8.5z"/><path d="M358.6 467.7l10 10-10 10-10-10z"/><path d="M364 509.3l9.2 9.2-9.2 9.2-9.2-9.2z"/><path d="M414 504.1l9.6 9.6-9.6 9.6-9.6-9.6z"/><path d="M278.7 569.1l7.1 7.1-7.1 7.1-7.1-7.1z"/></g>
<g fill="#f85656" fill-opacity="0.62" stroke="#220606" stroke-opacity="0.88" stroke-width="2.2"><circle cx="664.8" cy="319.9" r="5.8"/></g>
<g fill="#52f6f6" fill-opacity="0.7" stroke="#041c1c" stroke-opacity="0.88" stroke-width="2.3" stroke-linejoin="miter"><path d="M404.6 475.8l9.8 9.8-9.8 9.8-9.8-9.8z"/><path d="M506.1 377.2l7 7-7 7-7-7z"/><path d="M434.9 422.9l9 9-9 9-9-9z"/><path d="M380.4 458.9l9.6 9.6-9.6 9.6-9.6-9.6z"/><path d="M489 410.3l10 10-10 10-10-10z"/><path d="M681.8 479.2l2.9 2.9-2.9 2.9-2.9-2.9z"/><path d="M368 471.9l8.3 8.3-8.3 8.3-8.3-8.3z"/><path d="M550.9 367.6l4.5 4.5-4.5 4.5-4.5-4.5z"/><path d="M483.6 406.5l9.5 9.5-9.5 9.5-9.5-9.5z"/><path d="M384.7 535.7l9.3 9.3-9.3 9.3-9.3-9.3z"/><path d="M503.3 406.7l7.4 7.4-7.4 7.4-7.4-7.4z"/><path d="M308.6 511.4l8.7 8.7-8.7 8.7-8.7-8.7z"/></g>
<g fill="#f85656" fill-opacity="0.62" stroke="#220606" stroke-opacity="0.88" stroke-width="2.2"><circle cx="710.8" cy="229.2" r="7.5"/></g>
<g fill="#52f6f6" fill-opacity="0.7" stroke="#041c1c" stroke-opacity="0.88" stroke-width="2.3" stroke-linejoin="miter"><path d="M491.7 372.1l7 7-7 7-7-7z"/><path d="M433.5 460.1l10.1 10.1-10.1 10.1-10.1-10.1z"/><path d="M457.4 463.4l9.3 9.3-9.3 9.3-9.3-9.3z"/><path d="M371.7 495l8.5 8.5-8.5 8.5-8.5-8.5z"/><path d="M320.6 587.5l5.9 5.9-5.9 5.9-5.9-5.9z"/><path d="M378.8 482.4l10.6 10.6-10.6 10.6-10.6-10.6z"/><path d="M445.1 425.6l10.2 10.2-10.2 10.2-10.2-10.2z"/><path d="M438.6 471.9l8.5 8.5-8.5 8.5-8.5-8.5z"/><path d="M522.4 362.8l5.9 5.9-5.9 5.9-5.9-5.9z"/><path d="M526.5 390.8l7.4 7.4-7.4 7.4-7.4-7.4z"/><path d="M478 474.6l8.5 8.5-8.5 8.5-8.5-8.5z"/><path d="M301.5 543.9l8.3 8.3-8.3 8.3-8.3-8.3z"/><path d="M508.8 372.3l6.3 6.3-6.3 6.3-6.3-6.3z"/><path d="M390.8 528.5l9.4 9.4-9.4 9.4-9.4-9.4z"/></g>
<g fill="#f85656" fill-opacity="0.62" stroke="#220606" stroke-opacity="0.88" stroke-width="2.2"><circle cx="658.9" cy="325.3" r="5.5"/></g>
<g fill="#52f6f6" fill-opacity="0.7" stroke="#041c1c" stroke-opacity="0.88" stroke-width="2.3" stroke-linejoin="miter"><path d="M381.1 531l9.1 9.1-9.1 9.1-9.1-9.1z"/><path d="M428.9 478l10 10-10 10-10-10z"/><path d="M391.7 535.3l9.4 9.4-9.4 9.4-9.4-9.4z"/><path d="M524.1 369l5 5-5 5-5-5z"/><path d="M407.5 493.9l8.4 8.4-8.4 8.4-8.4-8.4z"/><path d="M444.3 460.8l9 9-9 9-9-9z"/><path d="M627.7 414.1l3.6 3.6-3.6 3.6-3.6-3.6z"/><path d="M441.9 524.3l8.9 8.9-8.9 8.9-8.9-8.9z"/><path d="M385.2 495.2l10.3 10.3-10.3 10.3-10.3-10.3z"/><path d="M488.3 454.6l8.2 8.2-8.2 8.2-8.2-8.2z"/></g>
<g fill="#f85656" fill-opacity="0.62" stroke="#220606" stroke-opacity="0.88" stroke-width="2.2"><circle cx="698.9" cy="285.7" r="5.8"/></g>
<g fill="#52f6f6" fill-opacity="0.7" stroke="#041c1c" stroke-opacity="0.88" stroke-width="2.3" stroke-linejoin="miter"><path d="M425.3 447.7l9.6 9.6-9.6 9.6-9.6-9.6z"/><path d="M450 501.1l7.7 7.7-7.7 7.7-7.7-7.7z"/><path d="M460.8 477.6l9 9-9 9-9-9z"/><path d="M572.7 387.1l3.7 3.7-3.7 3.7-3.7-3.7z"/><path d="M526.5 397.6l8.3 8.3-8.3 8.3-8.3-8.3z"/><path d="M398.9 478.5l9.7 9.7-9.7 9.7-9.7-9.7z"/><path d="M485.6 422l9.1 9.1-9.1 9.1-9.1-9.1z"/><path d="M290.9 516.2l7.7 7.7-7.7 7.7-7.7-7.7z"/><path d="M549.1 371.3l4.7 4.7-4.7 4.7-4.7-4.7z"/><path d="M449.6 424.4l9.9 9.9-9.9 9.9-9.9-9.9z"/><path d="M334.8 527.4l7.5 7.5-7.5 7.5-7.5-7.5z"/><path d="M360.5 524.7l7.8 7.8-7.8 7.8-7.8-7.8z"/><path d="M534.8 380.8l6.6 6.6-6.6 6.6-6.6-6.6z"/><path d="M445.7 521.7l7.2 7.2-7.2 7.2-7.2-7.2z"/><path d="M380.5 484.4l9.2 9.2-9.2 9.2-9.2-9.2z"/></g>
<g fill="#f85656" fill-opacity="0.62" stroke="#220606" stroke-opacity="0.88" stroke-width="2.2"><circle cx="572.7" cy="339.1" r="2.9"/></g>
<g fill="#52f6f6" fill-opacity="0.7" stroke="#041c1c" stroke-opacity="0.88" stroke-width="2.3" stroke-linejoin="miter"><path d="M396.5 531l8.3 8.3-8.3 8.3-8.3-8.3z"/><path d="M353 471l9.3 9.3-9.3 9.3-9.3-9.3z"/><path d="M495.2 477.6l7.6 7.6-7.6 7.6-7.6-7.6z"/><path d="M541.2 378.3l4.7 4.7-4.7 4.7-4.7-4.7z"/><path d="M339.4 572.4l8.3 8.3-8.3 8.3-8.3-8.3z"/></g>
<g fill="#f85656" fill-opacity="0.62" stroke="#220606" stroke-opacity="0.88" stroke-width="2.2"><circle cx="537.4" cy="333.6" r="2.1"/></g>
<g fill="#52f6f6" fill-opacity="0.7" stroke="#041c1c" stroke-opacity="0.88" stroke-width="2.3" stroke-linejoin="miter"><path d="M404.6 451.1l9 9-9 9-9-9z"/><path d="M551 389.6l6.8 6.8-6.8 6.8-6.8-6.8z"/><path d="M424.3 533.5l7.4 7.4-7.4 7.4-7.4-7.4z"/><path d="M471.5 459.1l9.2 9.2-9.2 9.2-9.2-9.2z"/><path d="M440 478.1l9.7 9.7-9.7 9.7-9.7-9.7z"/><path d="M413.7 453.8l10.7 10.7-10.7 10.7-10.7-10.7z"/><path d="M544.8 346.3l3.3 3.3-3.3 3.3-3.3-3.3z"/><path d="M325.5 507l7.4 7.4-7.4 7.4-7.4-7.4z"/><path d="M260.3 521.6l5.4 5.4-5.4 5.4-5.4-5.4z"/><path d="M348.9 458.3l7.8 7.8-7.8 7.8-7.8-7.8z"/><path d="M399.7 493.7l9.2 9.2-9.2 9.2-9.2-9.2z"/><path d="M413.4 414.7l8.5 8.5-8.5 8.5-8.5-8.5z"/><path d="M565.7 416.5l4.2 4.2-4.2 4.2-4.2-4.2z"/><path d="M452.8 384.4l7.6 7.6-7.6 7.6-7.6-7.6z"/><path d="M354.4 508.3l9.8 9.8-9.8 9.8-9.8-9.8z"/><path d="M324.1 484.1l8.6 8.6-8.6 8.6-8.6-8.6z"/><path d="M495.7 405.4l7.9 7.9-7.9 7.9-7.9-7.9z"/><path d="M396.1 472.1l10.3 10.3-10.3 10.3-10.3-10.3z"/></g>
<g fill="#f85656" fill-opacity="0.62" stroke="#220606" stroke-opacity="0.88" stroke-width="2.2"><circle cx="638" cy="380" r="2.8"/></g>
<g fill="#52f6f6" fill-opacity="0.7" stroke="#041c1c" stroke-opacity="0.88" stroke-width="2.3" stroke-linejoin="miter"><path d="M332.9 483.2l9.6 9.6-9.6 9.6-9.6-9.6z"/><path d="M308.3 518.7l9 9-9 9-9-9z"/><path d="M320.9 542.6l7.1 7.1-7.1 7.1-7.1-7.1z"/></g>
<g fill="#f85656" fill-opacity="0.62" stroke="#220606" stroke-opacity="0.88" stroke-width="2.2"><circle cx="634.2" cy="306.8" r="6"/><circle cx="649.2" cy="302.1" r="6.6"/></g>
<g fill="#52f6f6" fill-opacity="0.7" stroke="#041c1c" stroke-opacity="0.88" stroke-width="2.3" stroke-linejoin="miter"><path d="M577.3 380.1l3.7 3.7-3.7 3.7-3.7-3.7z"/><path d="M454.2 457l10.5 10.5-10.5 10.5-10.5-10.5z"/><path d="M281.1 461.6l7.4 7.4-7.4 7.4-7.4-7.4z"/></g>
<g fill="#f85656" fill-opacity="0.62" stroke="#220606" stroke-opacity="0.88" stroke-width="2.2"><circle cx="587.5" cy="311.6" r="4.3"/></g>
<g fill="#52f6f6" fill-opacity="0.7" stroke="#041c1c" stroke-opacity="0.88" stroke-width="2.3" stroke-linejoin="miter"><path d="M446.8 440.1l9 9-9 9-9-9z"/><path d="M392.4 473.9l10.9 10.9-10.9 10.9-10.9-10.9z"/><path d="M360.5 546.7l8.5 8.5-8.5 8.5-8.5-8.5z"/><path d="M301.5 585.5l6.6 6.6-6.6 6.6-6.6-6.6z"/><path d="M468.8 364.8l6 6-6 6-6-6z"/><path d="M466.5 336.7l4.6 4.6-4.6 4.6-4.6-4.6z"/><path d="M510.7 395.7l9 9-9 9-9-9z"/><path d="M562.3 453.6l6 6-6 6-6-6z"/><path d="M376.9 517.9l8.3 8.3-8.3 8.3-8.3-8.3z"/><path d="M366.2 521.5l7.6 7.6-7.6 7.6-7.6-7.6z"/><path d="M550 384.2l4.5 4.5-4.5 4.5-4.5-4.5z"/><path d="M341 509.8l9.7 9.7-9.7 9.7-9.7-9.7z"/><path d="M348.6 479.4l9.6 9.6-9.6 9.6-9.6-9.6z"/><path d="M548.4 362.1l3.7 3.7-3.7 3.7-3.7-3.7z"/><path d="M490.3 324.2l4.9 4.9-4.9 4.9-4.9-4.9z"/></g>
<g fill="#f85656" fill-opacity="0.62" stroke="#220606" stroke-opacity="0.88" stroke-width="2.2"><circle cx="640.6" cy="299.7" r="5.6"/></g>
<g fill="#52f6f6" fill-opacity="0.7" stroke="#041c1c" stroke-opacity="0.88" stroke-width="2.3" stroke-linejoin="miter"><path d="M318.6 506.8l9.1 9.1-9.1 9.1-9.1-9.1z"/><path d="M522.4 398l6.1 6.1-6.1 6.1-6.1-6.1z"/><path d="M413.6 485.1l8.9 8.9-8.9 8.9-8.9-8.9z"/><path d="M396.6 439.1l8.1 8.1-8.1 8.1-8.1-8.1z"/><path d="M351.2 521.8l10 10-10 10-10-10z"/><path d="M542.4 372.5l4.9 4.9-4.9 4.9-4.9-4.9z"/><path d="M425.4 522.6l7.7 7.7-7.7 7.7-7.7-7.7z"/><path d="M480.6 402.8l7.8 7.8-7.8 7.8-7.8-7.8z"/><path d="M321.6 550.4l7.1 7.1-7.1 7.1-7.1-7.1z"/><path d="M478.9 479.2l9.1 9.1-9.1 9.1-9.1-9.1z"/><path d="M363.9 498.2l9.4 9.4-9.4 9.4-9.4-9.4z"/><path d="M478.3 384.8l7.2 7.2-7.2 7.2-7.2-7.2z"/><path d="M345.7 507l7.6 7.6-7.6 7.6-7.6-7.6z"/><path d="M444.3 390.8l8.1 8.1-8.1 8.1-8.1-8.1z"/><path d="M433.3 405l8.1 8.1-8.1 8.1-8.1-8.1z"/><path d="M320.7 516l9.5 9.5-9.5 9.5-9.5-9.5z"/><path d="M527.4 390.8l6.8 6.8-6.8 6.8-6.8-6.8z"/><path d="M383.4 432.5l8.2 8.2-8.2 8.2-8.2-8.2z"/><path d="M454 412.1l8.3 8.3-8.3 8.3-8.3-8.3z"/><path d="M324.8 506.7l8.9 8.9-8.9 8.9-8.9-8.9z"/><path d="M380.9 427.1l9.9 9.9-9.9 9.9-9.9-9.9z"/><path d="M446.1 369.5l8.5 8.5-8.5 8.5-8.5-8.5z"/><path d="M544 345.8l2.9 2.9-2.9 2.9-2.9-2.9z"/><path d="M259.8 594.4l7.8 7.8-7.8 7.8-7.8-7.8z"/><path d="M471.4 459l9.7 9.7-9.7 9.7-9.7-9.7z"/><path d="M365.8 432.4l9.1 9.1-9.1 9.1-9.1-9.1z"/><path d="M329.7 581.6l4.8 4.8-4.8 4.8-4.8-4.8z"/><path d="M451.8 412.7l10.5 10.5-10.5 10.5-10.5-10.5z"/><path d="M492.2 372.4l6.9 6.9-6.9 6.9-6.9-6.9z"/><path d="M370.7 609l4.2 4.2-4.2 4.2-4.2-4.2z"/><path d="M383.1 536l7.8 7.8-7.8 7.8-7.8-7.8z"/><path d="M401 429.1l8.4 8.4-8.4 8.4-8.4-8.4z"/><path d="M404.1 491.8l9.3 9.3-9.3 9.3-9.3-9.3z"/><path d="M497.7 473.4l7.4 7.4-7.4 7.4-7.4-7.4z"/><path d="M433.7 534.6l8.5 8.5-8.5 8.5-8.5-8.5z"/><path d="M424 437.9l10.5 10.5-10.5 10.5-10.5-10.5z"/><path d="M375 472l8.9 8.9-8.9 8.9-8.9-8.9z"/><path d="M498.9 430.3l10.3 10.3-10.3 10.3-10.3-10.3z"/><path d="M394.8 474.8l8.4 8.4-8.4 8.4-8.4-8.4z"/><path d="M411.8 524.8l7.6 7.6-7.6 7.6-7.6-7.6z"/><path d="M390.3 471.3l8.7 8.7-8.7 8.7-8.7-8.7z"/><path d="M328.6 518l7.3 7.3-7.3 7.3-7.3-7.3z"/></g>
<g fill="#f85656" fill-opacity="0.62" stroke="#220606" stroke-opacity="0.88" stroke-width="2.2"><circle cx="589.5" cy="317.7" r="4.9"/><circle cx="629.7" cy="329.2" r="4.9"/></g>
<g fill="#52f6f6" fill-opacity="0.7" stroke="#041c1c" stroke-opacity="0.88" stroke-width="2.3" stroke-linejoin="miter"><path d="M403.1 445.5l8.7 8.7-8.7 8.7-8.7-8.7z"/><path d="M408.8 458.2l9.2 9.2-9.2 9.2-9.2-9.2z"/><path d="M411.2 440.8l8.2 8.2-8.2 8.2-8.2-8.2z"/><path d="M378.2 461.9l9.7 9.7-9.7 9.7-9.7-9.7z"/><path d="M412.9 440.6l10.1 10.1-10.1 10.1-10.1-10.1z"/><path d="M528.2 344.5l3.2 3.2-3.2 3.2-3.2-3.2z"/></g>
<g fill="#f85656" fill-opacity="0.62" stroke="#220606" stroke-opacity="0.88" stroke-width="2.2"><circle cx="546.1" cy="333.9" r="2.3"/></g>
<g fill="#52f6f6" fill-opacity="0.7" stroke="#041c1c" stroke-opacity="0.88" stroke-width="2.3" stroke-linejoin="miter"><path d="M447.1 478.9l10.6 10.6-10.6 10.6-10.6-10.6z"/><path d="M453.7 393.7l10.6 10.6-10.6 10.6-10.6-10.6z"/><path d="M327.1 499.6l9.4 9.4-9.4 9.4-9.4-9.4z"/><path d="M526.4 392.4l6.6 6.6-6.6 6.6-6.6-6.6z"/><path d="M497 469.3l9.3 9.3-9.3 9.3-9.3-9.3z"/><path d="M427 490.5l10 10-10 10-10-10z"/></g>
<g fill="#f85656" fill-opacity="0.62" stroke="#220606" stroke-opacity="0.88" stroke-width="2.2"><circle cx="581.2" cy="348.6" r="2.7"/></g>
<g fill="#52f6f6" fill-opacity="0.7" stroke="#041c1c" stroke-opacity="0.88" stroke-width="2.3" stroke-linejoin="miter"><path d="M314.7 583.5l6.1 6.1-6.1 6.1-6.1-6.1z"/></g>
<g fill="#f85656" fill-opacity="0.62" stroke="#220606" stroke-opacity="0.88" stroke-width="2.2"><circle cx="533.8" cy="331.1" r="2.1"/></g>
<g fill="#52f6f6" fill-opacity="0.7" stroke="#041c1c" stroke-opacity="0.88" stroke-width="2.3" stroke-linejoin="miter"><path d="M392.6 505.1l10.5 10.5-10.5 10.5-10.5-10.5z"/><path d="M428.9 527l7.9 7.9-7.9 7.9-7.9-7.9z"/><path d="M458.2 401.8l11 11-11 11-11-11z"/><path d="M296 515.4l8.7 8.7-8.7 8.7-8.7-8.7z"/><path d="M320 517l8.1 8.1-8.1 8.1-8.1-8.1z"/><path d="M390.8 407.3l7.6 7.6-7.6 7.6-7.6-7.6z"/><path d="M472.5 443.2l8.7 8.7-8.7 8.7-8.7-8.7z"/><path d="M358 464.5l7.9 7.9-7.9 7.9-7.9-7.9z"/><path d="M357.3 544.7l7.7 7.7-7.7 7.7-7.7-7.7z"/><path d="M471.8 410l8.5 8.5-8.5 8.5-8.5-8.5z"/><path d="M292.4 568.7l5.1 5.1-5.1 5.1-5.1-5.1z"/><path d="M464.2 493.3l8.2 8.2-8.2 8.2-8.2-8.2z"/><path d="M502.9 372.9l6.9 6.9-6.9 6.9-6.9-6.9z"/><path d="M445.8 527.7l7.3 7.3-7.3 7.3-7.3-7.3z"/></g>
<g fill="#f85656" fill-opacity="0.62" stroke="#220606" stroke-opacity="0.88" stroke-width="2.2"><circle cx="640.2" cy="342.2" r="4.4"/></g>
<g fill="#52f6f6" fill-opacity="0.7" stroke="#041c1c" stroke-opacity="0.88" stroke-width="2.3" stroke-linejoin="miter"><path d="M371 484l9.4 9.4-9.4 9.4-9.4-9.4z"/><path d="M433.3 452.7l9.4 9.4-9.4 9.4-9.4-9.4z"/><path d="M492.4 388l9.1 9.1-9.1 9.1-9.1-9.1z"/><path d="M467.8 505.7l8.8 8.8-8.8 8.8-8.8-8.8z"/></g>
<g fill="#f85656" fill-opacity="0.62" stroke="#220606" stroke-opacity="0.88" stroke-width="2.2"><circle cx="611.7" cy="309" r="5.1"/></g>
<g fill="#52f6f6" fill-opacity="0.7" stroke="#041c1c" stroke-opacity="0.88" stroke-width="2.3" stroke-linejoin="miter"><path d="M532.5 381l6.7 6.7-6.7 6.7-6.7-6.7z"/><path d="M396.7 466.7l10.6 10.6-10.6 10.6-10.6-10.6z"/></g>
<g fill="#f85656" fill-opacity="0.62" stroke="#220606" stroke-opacity="0.88" stroke-width="2.2"><circle cx="679.2" cy="278.7" r="6"/></g>
<g fill="#52f6f6" fill-opacity="0.7" stroke="#041c1c" stroke-opacity="0.88" stroke-width="2.3" stroke-linejoin="miter"><path d="M375.7 538.9l8.8 8.8-8.8 8.8-8.8-8.8z"/><path d="M317.1 516.4l9 9-9 9-9-9z"/><path d="M357.4 534.1l7.9 7.9-7.9 7.9-7.9-7.9z"/><path d="M283.8 542.9l7.2 7.2-7.2 7.2-7.2-7.2z"/><path d="M307.2 564.9l8.3 8.3-8.3 8.3-8.3-8.3z"/><path d="M406 439.7l9.1 9.1-9.1 9.1-9.1-9.1z"/><path d="M365 434.8l8.4 8.4-8.4 8.4-8.4-8.4z"/><path d="M406.8 420.5l8.1 8.1-8.1 8.1-8.1-8.1z"/><path d="M418.1 448.1l8.8 8.8-8.8 8.8-8.8-8.8z"/><path d="M450.9 450.7l10.5 10.5-10.5 10.5-10.5-10.5z"/><path d="M505.4 455.3l10 10-10 10-10-10z"/><path d="M349.8 537l9.6 9.6-9.6 9.6-9.6-9.6z"/><path d="M554.9 374l4.9 4.9-4.9 4.9-4.9-4.9z"/><path d="M557.4 366.2l4.5 4.5-4.5 4.5-4.5-4.5z"/><path d="M512.7 450.8l10 10-10 10-10-10z"/><path d="M556.6 365l3.6 3.6-3.6 3.6-3.6-3.6z"/></g>
<g fill="#f85656" fill-opacity="0.62" stroke="#220606" stroke-opacity="0.88" stroke-width="2.2"><circle cx="661.7" cy="307.8" r="5.5"/></g>
<g fill="#52f6f6" fill-opacity="0.7" stroke="#041c1c" stroke-opacity="0.88" stroke-width="2.3" stroke-linejoin="miter"><path d="M281.7 526.1l6.6 6.6-6.6 6.6-6.6-6.6z"/><path d="M273.8 614.8l3.6 3.6-3.6 3.6-3.6-3.6z"/><path d="M598.4 400.6l4.4 4.4-4.4 4.4-4.4-4.4z"/><path d="M418.7 488.6l10.5 10.5-10.5 10.5-10.5-10.5z"/><path d="M434.8 474.6l10.3 10.3-10.3 10.3-10.3-10.3z"/><path d="M457.8 386.4l8.9 8.9-8.9 8.9-8.9-8.9z"/><path d="M437.9 457.7l10.3 10.3-10.3 10.3-10.3-10.3z"/><path d="M414.7 460.5l8.5 8.5-8.5 8.5-8.5-8.5z"/><path d="M336 509l7.9 7.9-7.9 7.9-7.9-7.9z"/><path d="M394.4 517.1l10 10-10 10-10-10z"/><path d="M442.1 461.7l9.1 9.1-9.1 9.1-9.1-9.1z"/><path d="M482.1 497l7 7-7 7-7-7z"/><path d="M356.3 493.9l10 10-10 10-10-10z"/><path d="M444.8 465.5l9.4 9.4-9.4 9.4-9.4-9.4z"/><path d="M407.8 438l9.3 9.3-9.3 9.3-9.3-9.3z"/><path d="M376.5 552.7l7.8 7.8-7.8 7.8-7.8-7.8z"/><path d="M255.8 548.3l5 5-5 5-5-5z"/></g>
<g fill="#f85656" fill-opacity="0.62" stroke="#220606" stroke-opacity="0.88" stroke-width="2.2"><circle cx="554.4" cy="341.1" r="2.4"/></g>
<g fill="#52f6f6" fill-opacity="0.7" stroke="#041c1c" stroke-opacity="0.88" stroke-width="2.3" stroke-linejoin="miter"><path d="M437.3 458.6l9.8 9.8-9.8 9.8-9.8-9.8z"/><path d="M346.7 491.2l9.5 9.5-9.5 9.5-9.5-9.5z"/><path d="M403.1 440.8l8.1 8.1-8.1 8.1-8.1-8.1z"/><path d="M490.1 471.5l8.8 8.8-8.8 8.8-8.8-8.8z"/></g>
<g fill="#f85656" fill-opacity="0.62" stroke="#220606" stroke-opacity="0.88" stroke-width="2.2"><circle cx="656.2" cy="289.5" r="6.7"/></g>
<g fill="#52f6f6" fill-opacity="0.7" stroke="#041c1c" stroke-opacity="0.88" stroke-width="2.3" stroke-linejoin="miter"><path d="M440.1 496.1l8.5 8.5-8.5 8.5-8.5-8.5z"/><path d="M370.3 466.9l8.2 8.2-8.2 8.2-8.2-8.2z"/><path d="M432 444.2l8.1 8.1-8.1 8.1-8.1-8.1z"/><path d="M525.5 453.3l7.7 7.7-7.7 7.7-7.7-7.7z"/><path d="M348.6 508.4l8.9 8.9-8.9 8.9-8.9-8.9z"/></g>
<g fill="#f85656" fill-opacity="0.62" stroke="#220606" stroke-opacity="0.88" stroke-width="2.2"><circle cx="537.5" cy="332.7" r="2.2"/></g>
<g fill="#52f6f6" fill-opacity="0.7" stroke="#041c1c" stroke-opacity="0.88" stroke-width="2.3" stroke-linejoin="miter"><path d="M469.8 368.6l8.9 8.9-8.9 8.9-8.9-8.9z"/><path d="M463.1 453.3l8.8 8.8-8.8 8.8-8.8-8.8z"/><path d="M553.7 378.8l4.2 4.2-4.2 4.2-4.2-4.2z"/><path d="M282.8 397.6l7.4 7.4-7.4 7.4-7.4-7.4z"/><path d="M382 504.7l8 8-8 8-8-8z"/><path d="M526 348.3l3.9 3.9-3.9 3.9-3.9-3.9z"/><path d="M418.9 535.4l7 7-7 7-7-7z"/><path d="M451.9 300.5l3.3 3.3-3.3 3.3-3.3-3.3z"/><path d="M414.8 434l9 9-9 9-9-9z"/><path d="M511.9 434.7l10.8 10.8-10.8 10.8-10.8-10.8z"/><path d="M472.1 408.4l9.1 9.1-9.1 9.1-9.1-9.1z"/><path d="M380.8 519.4l8 8-8 8-8-8z"/></g>
<g fill="#f85656" fill-opacity="0.62" stroke="#220606" stroke-opacity="0.88" stroke-width="2.2"><circle cx="604.4" cy="317.9" r="4.9"/></g>
<g fill="#52f6f6" fill-opacity="0.7" stroke="#041c1c" stroke-opacity="0.88" stroke-width="2.3" stroke-linejoin="miter"><path d="M326.9 525.8l7.3 7.3-7.3 7.3-7.3-7.3z"/><path d="M420.3 489l10.1 10.1-10.1 10.1-10.1-10.1z"/><path d="M463.9 483.6l9.2 9.2-9.2 9.2-9.2-9.2z"/><path d="M352.4 561.8l7.3 7.3-7.3 7.3-7.3-7.3z"/><path d="M504.4 349.6l5.4 5.4-5.4 5.4-5.4-5.4z"/><path d="M403.5 465.5l10.6 10.6-10.6 10.6-10.6-10.6z"/></g>
<g fill="#f85656" fill-opacity="0.62" stroke="#220606" stroke-opacity="0.88" stroke-width="2.2"><circle cx="597" cy="371" r="2.6"/></g>
<g fill="#52f6f6" fill-opacity="0.7" stroke="#041c1c" stroke-opacity="0.88" stroke-width="2.3" stroke-linejoin="miter"><path d="M393.2 483.3l9.7 9.7-9.7 9.7-9.7-9.7z"/><path d="M532 381l6.9 6.9-6.9 6.9-6.9-6.9z"/></g>
<g fill="#f85656" fill-opacity="0.62" stroke="#220606" stroke-opacity="0.88" stroke-width="2.2"><circle cx="653.8" cy="306.6" r="6.3"/></g>
<g fill="#52f6f6" fill-opacity="0.7" stroke="#041c1c" stroke-opacity="0.88" stroke-width="2.3" stroke-linejoin="miter"><path d="M352.5 474.5l9.6 9.6-9.6 9.6-9.6-9.6z"/><path d="M394.4 428.9l7.9 7.9-7.9 7.9-7.9-7.9z"/><path d="M299.5 499.6l6.8 6.8-6.8 6.8-6.8-6.8z"/></g>
<g fill="#f85656" fill-opacity="0.62" stroke="#220606" stroke-opacity="0.88" stroke-width="2.2"><circle cx="587.2" cy="343.7" r="3.5"/></g>
<g fill="#52f6f6" fill-opacity="0.7" stroke="#041c1c" stroke-opacity="0.88" stroke-width="2.3" stroke-linejoin="miter"><path d="M438.2 496.2l9.1 9.1-9.1 9.1-9.1-9.1z"/><path d="M429.2 466.2l10.8 10.8-10.8 10.8-10.8-10.8z"/><path d="M395.5 461.3l10.6 10.6-10.6 10.6-10.6-10.6z"/><path d="M451 408.9l10.5 10.5-10.5 10.5-10.5-10.5z"/><path d="M432.1 404.2l8.4 8.4-8.4 8.4-8.4-8.4z"/><path d="M402.8 541.5l7.5 7.5-7.5 7.5-7.5-7.5z"/></g>
<g fill="#f85656" fill-opacity="0.62" stroke="#220606" stroke-opacity="0.88" stroke-width="2.2"><circle cx="627.2" cy="306.7" r="6.4"/></g>
<g fill="#52f6f6" fill-opacity="0.7" stroke="#041c1c" stroke-opacity="0.88" stroke-width="2.3" stroke-linejoin="miter"><path d="M513.9 476.7l7.8 7.8-7.8 7.8-7.8-7.8z"/><path d="M356.9 476.1l8.8 8.8-8.8 8.8-8.8-8.8z"/></g>
<path d="M327.9 442.9l9.2 9.2-9.2 9.2-9.2-9.2z" fill="#000"/>
<path d="M345.9 481.9l12.9 12.9-12.9 12.9-12.9-12.9z" fill="#fff"/>
<path d="M345.9 485.6l9.2 9.2-9.2 9.2-9.2-9.2z" fill="#000"/>
<path d="M386.5 446.7l12.9 12.9-12.9 12.9-12.9-12.9z" fill="#fff"/>
<path d="M386.5 450.4l9.2 9.2-9.2 9.2-9.2-9.2z" fill="#000"/>
<path d="M387.6 472.9l12.9 12.9-12.9 12.9-12.9-12.9z" fill="#fff"/>
<path d="M387.6 476.6l9.2 9.2-9.2 9.2-9.2-9.2z" fill="#000"/>
<path d="M409 464l12.9 12.9-12.9 12.9-12.9-12.9z" fill="#fff"/>
<path d="M409 467.7l9.2 9.2-9.2 9.2-9.2-9.2z" fill="#000"/>
<path d="M415.8 426.5l12.9 12.9-12.9 12.9-12.9-12.9z" fill="#fff"/>
<path d="M415.8 430.2l9.2 9.2-9.2 9.2-9.2-9.2z" fill="#000"/>
<path d="M430.5 470.7l12.9 12.9-12.9 12.9-12.9-12.9z" fill="#fff"/>
<path d="M430.5 474.4l9.2 9.2-9.2 9.2-9.2-9.2z" fill="#000"/>
<path d="M469.9 403.3l12.9 12.9-12.9 12.9-12.9-12.9z" fill="#fff"/>
<path d="M469.9 407l9.2 9.2-9.2 9.2-9.2-9.2z" fill="#000"/>
<circle cx="869.7" cy="147.2" r="7.2" fill="#000"/>
<circle cx="812.3" cy="160" r="7.2" fill="#000"/>
<circle cx="713.3" cy="242.1" r="10.2" fill="#fff"/>
<circle cx="713.3" cy="242.1" r="7.2" fill="#000"/>
<circle cx="697.4" cy="253.8" r="10.2" fill="#fff"/>
<circle cx="697.4" cy="253.8" r="7.2" fill="#000"/>
<circle cx="642.1" cy="284.6" r="10.2" fill="#fff"/>
<circle cx="642.1" cy="284.6" r="7.2" fill="#000"/>
</g>
<path d="M169.3 332.3H977.4M528.5 102.2V706.9" stroke="#000" stroke-width="4.2" fill="none"/>
<rect x="169.3" y="102.2" width="808.1" height="604.7" fill="none" stroke="#000" stroke-width="2.7"/>
<path d="M169.3 102.2V706.9H977.4" fill="none" stroke="#000" stroke-width="4.2" stroke-linecap="square"/>
<path d="M303.1 706.9V724.8" stroke="#000" stroke-width="4.2"/>
<text transform="translate(303.7 760.6) scale(1 1.090)" font-size="28.6" text-anchor="middle" >-2</text>
<path d="M528.5 706.9V724.8" stroke="#000" stroke-width="4.2"/>
<text transform="translate(529.1 760.6) scale(1 1.090)" font-size="28.6" text-anchor="middle" >0</text>
<path d="M753.9 706.9V724.8" stroke="#000" stroke-width="4.2"/>
<text transform="translate(754.5 760.6) scale(1 1.090)" font-size="28.6" text-anchor="middle" >2</text>
<path d="M150 145.1H169.3" stroke="#000" stroke-width="4.2"/>
<text transform="translate(139.7 158.5) scale(1 1.090)" font-size="28.6" text-anchor="end" >2.5</text>
<path d="M150 332.3H169.3" stroke="#000" stroke-width="4.2"/>
<text transform="translate(139.7 345) scale(1 1.090)" font-size="28.6" text-anchor="end" >0.0</text>
<path d="M150 519.5H169.3" stroke="#000" stroke-width="4.2"/>
<text transform="translate(139.7 531.5) scale(1 1.090)" font-size="28.6" text-anchor="end" >-2.5</text>
<path d="M150 706.8H169.3" stroke="#000" stroke-width="4.2"/>
<text transform="translate(139.7 718) scale(1 1.090)" font-size="28.6" text-anchor="end" >-5.0</text>
<text transform="translate(574 802.4) scale(1 1.040)" font-size="34.2" text-anchor="middle" >Enrichment in 100K Spin (log<tspan font-size="25.5" dy="7.4">2</tspan><tspan dy="-7.4"> </tspan>TMT 130/129)</text>
<g transform="translate(65.9 404.8) rotate(-90)">
<text transform="translate(0 0) scale(1 1.040)" font-size="34.1" text-anchor="middle" >Enrichment in Optiprep (log<tspan font-size="25.5" dy="7.4">2</tspan><tspan dy="-7.4"> </tspan>TMT 131/129)</text>
</g>
<circle cx="311.8" cy="901.5" r="9.4" fill="#fd8f90" stroke="#3c3c3c" stroke-width="2.2"/>
<circle cx="311.8" cy="935" r="7" fill="#000"/>
<path d="M570.2 889.4l12 12-12 12-12-12z" fill="#7df6f7" stroke="#3c3c3c" stroke-width="2.2"/>
<path d="M570.2 925.5l9.5 9.5-9.5 9.5-9.5-9.5z" fill="#000"/>
<text transform="translate(335.2 912.2) scale(1 1.040)" font-size="28.2" text-anchor="start" >Exosome</text>
<text transform="translate(335.2 947) scale(1 1.040)" font-size="28.2" text-anchor="start" >Exosome Marker</text>
<text transform="translate(592.8 912.2) scale(1 1.040)" font-size="28.2" text-anchor="start" >Non-Exosome</text>
<text transform="translate(592.8 947) scale(1 1.040)" font-size="28.2" text-anchor="start" >Non-Exosome Marker</text>
<text transform="translate(5.2 1023.6) scale(1 1.020)" font-size="91" text-anchor="start" >B</text>
<clipPath id="cb"><rect x="176" y="1070.5" width="793.9" height="603.9"/></clipPath>
<g clip-path="url(#cb)">
<g fill="#52f6f6" fill-opacity="0.7" stroke="#050808" stroke-opacity="0.74" stroke-width="3.4" stroke-linejoin="miter"><path d="M507.7 1347.1l7.6 7.6-7.6 7.6-7.6-7.6z"/><path d="M392.6 1471.9l8.2 8.2-8.2 8.2-8.2-8.2z"/><path d="M401 1457.8l9 9-9 9-9-9z"/><path d="M295.2 1451.8l7.8 7.8-7.8 7.8-7.8-7.8z"/><path d="M555.1 1343.3l5.2 5.2-5.2 5.2-5.2-5.2z"/><path d="M457.9 1382.3l9 9-9 9-9-9z"/><path d="M537.2 1338.5l5 5-5 5-5-5z"/><path d="M419.7 1396.9l9.8 9.8-9.8 9.8-9.8-9.8z"/><path d="M416 1476.8l10 10-10 10-10-10z"/><path d="M505 1430.3l8.1 8.1-8.1 8.1-8.1-8.1z"/><path d="M414.7 1420.4l8.6 8.6-8.6 8.6-8.6-8.6z"/><path d="M496.5 1431l7.9 7.9-7.9 7.9-7.9-7.9z"/><path d="M470.1 1355.7l10.3 10.3-10.3 10.3-10.3-10.3z"/><path d="M411.5 1444.8l9.9 9.9-9.9 9.9-9.9-9.9z"/><path d="M414.2 1377.9l7.7 7.7-7.7 7.7-7.7-7.7z"/></g>
<g fill="#f85656" fill-opacity="0.62" stroke="#080505" stroke-opacity="0.74" stroke-width="3.4"><circle cx="663.9" cy="1277.4" r="6"/></g>
<g fill="#52f6f6" fill-opacity="0.7" stroke="#050808" stroke-opacity="0.74" stroke-width="3.4" stroke-linejoin="miter"><path d="M389.1 1457.9l9 9-9 9-9-9z"/><path d="M238.2 1577.4l4.6 4.6-4.6 4.6-4.6-4.6z"/><path d="M385.9 1428l8.9 8.9-8.9 8.9-8.9-8.9z"/><path d="M349.2 1482.3l8.2 8.2-8.2 8.2-8.2-8.2z"/><path d="M531.3 1347.4l6.6 6.6-6.6 6.6-6.6-6.6z"/><path d="M389.7 1476.8l9.1 9.1-9.1 9.1-9.1-9.1z"/><path d="M423.1 1466.1l8.4 8.4-8.4 8.4-8.4-8.4z"/><path d="M435.6 1440l8.4 8.4-8.4 8.4-8.4-8.4z"/><path d="M450.5 1442.9l8.5 8.5-8.5 8.5-8.5-8.5z"/><path d="M456.9 1387.2l8.3 8.3-8.3 8.3-8.3-8.3z"/><path d="M496.8 1421.7l8.6 8.6-8.6 8.6-8.6-8.6z"/><path d="M365.4 1439.4l8.5 8.5-8.5 8.5-8.5-8.5z"/><path d="M535.4 1361.5l5.9 5.9-5.9 5.9-5.9-5.9z"/><path d="M366.5 1515.9l7 7-7 7-7-7z"/><path d="M488.7 1375.2l10.7 10.7-10.7 10.7-10.7-10.7z"/></g>
<g fill="#f85656" fill-opacity="0.62" stroke="#080505" stroke-opacity="0.74" stroke-width="3.4"><circle cx="642" cy="1193.9" r="7"/><circle cx="628.2" cy="1362" r="2.7"/></g>
<g fill="#52f6f6" fill-opacity="0.7" stroke="#050808" stroke-opacity="0.74" stroke-width="3.4" stroke-linejoin="miter"><path d="M423.6 1399.4l10.9 10.9-10.9 10.9-10.9-10.9z"/><path d="M537 1344.1l5.7 5.7-5.7 5.7-5.7-5.7z"/></g>
<g fill="#f85656" fill-opacity="0.62" stroke="#080505" stroke-opacity="0.74" stroke-width="3.4"><circle cx="739.3" cy="1210.4" r="7"/></g>
<g fill="#52f6f6" fill-opacity="0.7" stroke="#050808" stroke-opacity="0.74" stroke-width="3.4" stroke-linejoin="miter"><path d="M366.1 1429.9l9.8 9.8-9.8 9.8-9.8-9.8z"/></g>
<g fill="#f85656" fill-opacity="0.62" stroke="#080505" stroke-opacity="0.74" stroke-width="3.4"><circle cx="687.3" cy="1282.9" r="6.4"/></g>
<g fill="#52f6f6" fill-opacity="0.7" stroke="#050808" stroke-opacity="0.74" stroke-width="3.4" stroke-linejoin="miter"><path d="M487.2 1342.7l8.7 8.7-8.7 8.7-8.7-8.7z"/><path d="M411.9 1409.1l9 9-9 9-9-9z"/><path d="M355.5 1525.9l9 9-9 9-9-9z"/><path d="M475.1 1388.1l11 11-11 11-11-11z"/><path d="M452.4 1474.4l9.1 9.1-9.1 9.1-9.1-9.1z"/><path d="M376.9 1451.5l9.6 9.6-9.6 9.6-9.6-9.6z"/><path d="M440.7 1341.6l8.1 8.1-8.1 8.1-8.1-8.1z"/><path d="M406.5 1440.1l8.7 8.7-8.7 8.7-8.7-8.7z"/><path d="M372.1 1477.1l8.4 8.4-8.4 8.4-8.4-8.4z"/><path d="M549.3 1368.9l6.8 6.8-6.8 6.8-6.8-6.8z"/><path d="M338 1476.9l9 9-9 9-9-9z"/><path d="M508.8 1368.1l7.3 7.3-7.3 7.3-7.3-7.3z"/><path d="M487.6 1423.5l7.9 7.9-7.9 7.9-7.9-7.9z"/><path d="M539.4 1341.6l5.7 5.7-5.7 5.7-5.7-5.7z"/><path d="M425.1 1459.1l9.8 9.8-9.8 9.8-9.8-9.8z"/><path d="M379.7 1414.1l8.5 8.5-8.5 8.5-8.5-8.5z"/><path d="M319.3 1541.6l5.5 5.5-5.5 5.5-5.5-5.5z"/><path d="M404.6 1391.4l8.6 8.6-8.6 8.6-8.6-8.6z"/><path d="M404.4 1421l10.6 10.6-10.6 10.6-10.6-10.6z"/><path d="M463.4 1403.2l8.4 8.4-8.4 8.4-8.4-8.4z"/><path d="M542.6 1336.3l5.3 5.3-5.3 5.3-5.3-5.3z"/><path d="M474.8 1364.2l10.3 10.3-10.3 10.3-10.3-10.3z"/><path d="M369.4 1454.6l8.6 8.6-8.6 8.6-8.6-8.6z"/><path d="M576.9 1379.8l6.9 6.9-6.9 6.9-6.9-6.9z"/><path d="M383.4 1485.2l8.3 8.3-8.3 8.3-8.3-8.3z"/><path d="M524.8 1371.4l7.7 7.7-7.7 7.7-7.7-7.7z"/><path d="M451.7 1372.5l9.3 9.3-9.3 9.3-9.3-9.3z"/><path d="M341.9 1508.4l7.3 7.3-7.3 7.3-7.3-7.3z"/><path d="M268.5 1502.1l6.4 6.4-6.4 6.4-6.4-6.4z"/><path d="M353.3 1476.4l9 9-9 9-9-9z"/><path d="M558.3 1339.7l4.5 4.5-4.5 4.5-4.5-4.5z"/></g>
<g fill="#f85656" fill-opacity="0.62" stroke="#080505" stroke-opacity="0.74" stroke-width="3.4"><circle cx="638.4" cy="1266.2" r="6.6"/><circle cx="573.8" cy="1282.1" r="4.3"/><circle cx="753.8" cy="1228.6" r="6.6"/></g>
<g fill="#52f6f6" fill-opacity="0.7" stroke="#050808" stroke-opacity="0.74" stroke-width="3.4" stroke-linejoin="miter"><path d="M493.5 1419.3l8.3 8.3-8.3 8.3-8.3-8.3z"/><path d="M503.9 1421l8.9 8.9-8.9 8.9-8.9-8.9z"/><path d="M412.4 1451.5l9.2 9.2-9.2 9.2-9.2-9.2z"/><path d="M386.3 1476.9l9.5 9.5-9.5 9.5-9.5-9.5z"/><path d="M516.1 1393.4l9.5 9.5-9.5 9.5-9.5-9.5z"/><path d="M360.8 1448.3l10.3 10.3-10.3 10.3-10.3-10.3z"/><path d="M473.1 1415.8l8.4 8.4-8.4 8.4-8.4-8.4z"/><path d="M428.5 1457.4l10.4 10.4-10.4 10.4-10.4-10.4z"/><path d="M452.9 1417.4l8.3 8.3-8.3 8.3-8.3-8.3z"/><path d="M440.6 1425.5l8.6 8.6-8.6 8.6-8.6-8.6z"/></g>
<g fill="#f85656" fill-opacity="0.62" stroke="#080505" stroke-opacity="0.74" stroke-width="3.4"><circle cx="599.3" cy="1297.6" r="4.6"/></g>
<g fill="#52f6f6" fill-opacity="0.7" stroke="#050808" stroke-opacity="0.74" stroke-width="3.4" stroke-linejoin="miter"><path d="M384 1448.2l8.2 8.2-8.2 8.2-8.2-8.2z"/><path d="M449.7 1446.3l10.6 10.6-10.6 10.6-10.6-10.6z"/><path d="M418.9 1397.4l9.3 9.3-9.3 9.3-9.3-9.3z"/><path d="M519.9 1345.5l6.4 6.4-6.4 6.4-6.4-6.4z"/></g>
<g fill="#f85656" fill-opacity="0.62" stroke="#080505" stroke-opacity="0.74" stroke-width="3.4"><circle cx="571.3" cy="1325.6" r="2.7"/></g>
<g fill="#52f6f6" fill-opacity="0.7" stroke="#050808" stroke-opacity="0.74" stroke-width="3.4" stroke-linejoin="miter"><path d="M414 1469.7l10.6 10.6-10.6 10.6-10.6-10.6z"/><path d="M474.2 1379.6l9.4 9.4-9.4 9.4-9.4-9.4z"/><path d="M410 1412.7l8.4 8.4-8.4 8.4-8.4-8.4z"/><path d="M556.9 1364.6l4.8 4.8-4.8 4.8-4.8-4.8z"/></g>
<g fill="#f85656" fill-opacity="0.62" stroke="#080505" stroke-opacity="0.74" stroke-width="3.4"><circle cx="663.4" cy="1274.7" r="6.4"/></g>
<g fill="#52f6f6" fill-opacity="0.7" stroke="#050808" stroke-opacity="0.74" stroke-width="3.4" stroke-linejoin="miter"><path d="M541.5 1364.8l5.7 5.7-5.7 5.7-5.7-5.7z"/><path d="M413.7 1464.4l10.5 10.5-10.5 10.5-10.5-10.5z"/><path d="M473.4 1370.9l10.4 10.4-10.4 10.4-10.4-10.4z"/></g>
<g fill="#f85656" fill-opacity="0.62" stroke="#080505" stroke-opacity="0.74" stroke-width="3.4"><circle cx="581.5" cy="1327.7" r="2.8"/></g>
<g fill="#52f6f6" fill-opacity="0.7" stroke="#050808" stroke-opacity="0.74" stroke-width="3.4" stroke-linejoin="miter"><path d="M434.9 1411.3l9.1 9.1-9.1 9.1-9.1-9.1z"/><path d="M337.8 1456.8l7.9 7.9-7.9 7.9-7.9-7.9z"/><path d="M473.1 1482.1l8.9 8.9-8.9 8.9-8.9-8.9z"/><path d="M432.1 1453.5l10 10-10 10-10-10z"/><path d="M505.3 1352.3l7.8 7.8-7.8 7.8-7.8-7.8z"/><path d="M434.4 1452.1l10.3 10.3-10.3 10.3-10.3-10.3z"/><path d="M425.3 1493.4l8.6 8.6-8.6 8.6-8.6-8.6z"/><path d="M392 1413.1l8.4 8.4-8.4 8.4-8.4-8.4z"/><path d="M426.7 1451.2l8.8 8.8-8.8 8.8-8.8-8.8z"/><path d="M462.4 1420.9l9.3 9.3-9.3 9.3-9.3-9.3z"/><path d="M524.8 1382l8.6 8.6-8.6 8.6-8.6-8.6z"/><path d="M461.3 1392.1l9 9-9 9-9-9z"/><path d="M410.5 1462.2l8.8 8.8-8.8 8.8-8.8-8.8z"/><path d="M302.5 1548.7l5.4 5.4-5.4 5.4-5.4-5.4z"/><path d="M497.8 1431.5l7.3 7.3-7.3 7.3-7.3-7.3z"/><path d="M318.3 1493.7l9.2 9.2-9.2 9.2-9.2-9.2z"/><path d="M526.7 1354.8l6.5 6.5-6.5 6.5-6.5-6.5z"/><path d="M353.6 1429.7l8.7 8.7-8.7 8.7-8.7-8.7z"/><path d="M385 1481.3l8.7 8.7-8.7 8.7-8.7-8.7z"/><path d="M281 1533.8l7.2 7.2-7.2 7.2-7.2-7.2z"/><path d="M369.3 1510.2l8.2 8.2-8.2 8.2-8.2-8.2z"/><path d="M473.3 1460.8l8.5 8.5-8.5 8.5-8.5-8.5z"/><path d="M429.1 1348.4l8.9 8.9-8.9 8.9-8.9-8.9z"/></g>
<g fill="#f85656" fill-opacity="0.62" stroke="#080505" stroke-opacity="0.74" stroke-width="3.4"><circle cx="592.3" cy="1290" r="4.1"/></g>
<g fill="#52f6f6" fill-opacity="0.7" stroke="#050808" stroke-opacity="0.74" stroke-width="3.4" stroke-linejoin="miter"><path d="M453.5 1448.8l10.1 10.1-10.1 10.1-10.1-10.1z"/><path d="M410.9 1479.8l9.2 9.2-9.2 9.2-9.2-9.2z"/><path d="M420.1 1499.1l7.5 7.5-7.5 7.5-7.5-7.5z"/><path d="M301.4 1540.9l5.8 5.8-5.8 5.8-5.8-5.8z"/></g>
<g fill="#f85656" fill-opacity="0.62" stroke="#080505" stroke-opacity="0.74" stroke-width="3.4"><circle cx="636.3" cy="1271" r="5.5"/></g>
<g fill="#52f6f6" fill-opacity="0.7" stroke="#050808" stroke-opacity="0.74" stroke-width="3.4" stroke-linejoin="miter"><path d="M389.7 1435.6l10.3 10.3-10.3 10.3-10.3-10.3z"/><path d="M323.3 1493.9l7.5 7.5-7.5 7.5-7.5-7.5z"/><path d="M435.7 1371.4l8.1 8.1-8.1 8.1-8.1-8.1z"/><path d="M440.1 1431.8l8.7 8.7-8.7 8.7-8.7-8.7z"/><path d="M342.2 1542.3l8.5 8.5-8.5 8.5-8.5-8.5z"/><path d="M426.1 1412.9l9.4 9.4-9.4 9.4-9.4-9.4z"/></g>
<g fill="#f85656" fill-opacity="0.62" stroke="#080505" stroke-opacity="0.74" stroke-width="3.4"><circle cx="805.8" cy="1301.4" r="4.8"/><circle cx="612.5" cy="1256.8" r="5.8"/></g>
<g fill="#52f6f6" fill-opacity="0.7" stroke="#050808" stroke-opacity="0.74" stroke-width="3.4" stroke-linejoin="miter"><path d="M449.2 1441l9.3 9.3-9.3 9.3-9.3-9.3z"/><path d="M408.7 1388l9 9-9 9-9-9z"/><path d="M302.3 1544.8l5.9 5.9-5.9 5.9-5.9-5.9z"/><path d="M427 1414.2l8.4 8.4-8.4 8.4-8.4-8.4z"/><path d="M520.1 1343.1l6.9 6.9-6.9 6.9-6.9-6.9z"/><path d="M337.7 1486.6l7.7 7.7-7.7 7.7-7.7-7.7z"/><path d="M395.3 1424.1l9.7 9.7-9.7 9.7-9.7-9.7z"/><path d="M488.9 1436.6l8.8 8.8-8.8 8.8-8.8-8.8z"/><path d="M432.1 1440.8l9 9-9 9-9-9z"/><path d="M409 1438.1l9.3 9.3-9.3 9.3-9.3-9.3z"/><path d="M446.2 1450.3l10.5 10.5-10.5 10.5-10.5-10.5z"/><path d="M449.5 1379l9.8 9.8-9.8 9.8-9.8-9.8z"/><path d="M480.1 1348.4l8.8 8.8-8.8 8.8-8.8-8.8z"/><path d="M418 1475.3l9.9 9.9-9.9 9.9-9.9-9.9z"/><path d="M424.8 1457.4l9.3 9.3-9.3 9.3-9.3-9.3z"/></g>
<g fill="#f85656" fill-opacity="0.62" stroke="#080505" stroke-opacity="0.74" stroke-width="3.4"><circle cx="647.6" cy="1279.4" r="6.1"/></g>
<g fill="#52f6f6" fill-opacity="0.7" stroke="#050808" stroke-opacity="0.74" stroke-width="3.4" stroke-linejoin="miter"><path d="M319.6 1559.9l4.7 4.7-4.7 4.7-4.7-4.7z"/><path d="M405.8 1427.4l9.6 9.6-9.6 9.6-9.6-9.6z"/><path d="M328.6 1476.4l7.4 7.4-7.4 7.4-7.4-7.4z"/><path d="M460.6 1448.8l8 8-8 8-8-8z"/><path d="M414.4 1316.3l5.7 5.7-5.7 5.7-5.7-5.7z"/></g>
<g fill="#f85656" fill-opacity="0.62" stroke="#080505" stroke-opacity="0.74" stroke-width="3.4"><circle cx="606.1" cy="1312.5" r="4.2"/></g>
<g fill="#52f6f6" fill-opacity="0.7" stroke="#050808" stroke-opacity="0.74" stroke-width="3.4" stroke-linejoin="miter"><path d="M333.6 1440.1l8.8 8.8-8.8 8.8-8.8-8.8z"/><path d="M460.4 1341.4l8.6 8.6-8.6 8.6-8.6-8.6z"/><path d="M536.2 1364.2l7.9 7.9-7.9 7.9-7.9-7.9z"/><path d="M504.2 1429.9l9.2 9.2-9.2 9.2-9.2-9.2z"/></g>
<g fill="#f85656" fill-opacity="0.62" stroke="#080505" stroke-opacity="0.74" stroke-width="3.4"><circle cx="609" cy="1355.6" r="2.7"/></g>
<g fill="#52f6f6" fill-opacity="0.7" stroke="#050808" stroke-opacity="0.74" stroke-width="3.4" stroke-linejoin="miter"><path d="M386.8 1501.7l9 9-9 9-9-9z"/><path d="M437.5 1405.1l10.5 10.5-10.5 10.5-10.5-10.5z"/></g>
<g fill="#f85656" fill-opacity="0.62" stroke="#080505" stroke-opacity="0.74" stroke-width="3.4"><circle cx="697.8" cy="1270.9" r="6.1"/></g>
<g fill="#52f6f6" fill-opacity="0.7" stroke="#050808" stroke-opacity="0.74" stroke-width="3.4" stroke-linejoin="miter"><path d="M508.5 1335.2l5.7 5.7-5.7 5.7-5.7-5.7z"/><path d="M387.6 1502.3l8.4 8.4-8.4 8.4-8.4-8.4z"/><path d="M589 1348.8l3.3 3.3-3.3 3.3-3.3-3.3z"/><path d="M455.3 1430.9l10.8 10.8-10.8 10.8-10.8-10.8z"/><path d="M498.9 1376.1l9.1 9.1-9.1 9.1-9.1-9.1z"/><path d="M336.9 1450.7l9 9-9 9-9-9z"/><path d="M387.1 1444l8.7 8.7-8.7 8.7-8.7-8.7z"/><path d="M396.5 1471.9l9.9 9.9-9.9 9.9-9.9-9.9z"/><path d="M450 1415.5l11 11-11 11-11-11z"/><path d="M367.5 1476.1l10.3 10.3-10.3 10.3-10.3-10.3z"/><path d="M485.9 1435.8l8.6 8.6-8.6 8.6-8.6-8.6z"/></g>
<g fill="#f85656" fill-opacity="0.62" stroke="#080505" stroke-opacity="0.74" stroke-width="3.4"><circle cx="654.3" cy="1318.2" r="4.4"/></g>
<g fill="#52f6f6" fill-opacity="0.7" stroke="#050808" stroke-opacity="0.74" stroke-width="3.4" stroke-linejoin="miter"><path d="M526.6 1347.1l5.8 5.8-5.8 5.8-5.8-5.8z"/><path d="M462.1 1445.8l9.1 9.1-9.1 9.1-9.1-9.1z"/><path d="M400.9 1501.8l8.8 8.8-8.8 8.8-8.8-8.8z"/><path d="M378.3 1462.9l8.4 8.4-8.4 8.4-8.4-8.4z"/><path d="M491.8 1359.8l8.4 8.4-8.4 8.4-8.4-8.4z"/><path d="M419.8 1373.5l9.9 9.9-9.9 9.9-9.9-9.9z"/><path d="M533.3 1390.4l7.6 7.6-7.6 7.6-7.6-7.6z"/><path d="M503.1 1408l9.3 9.3-9.3 9.3-9.3-9.3z"/><path d="M571.8 1348l4.8 4.8-4.8 4.8-4.8-4.8z"/></g>
<g fill="#f85656" fill-opacity="0.62" stroke="#080505" stroke-opacity="0.74" stroke-width="3.4"><circle cx="574.9" cy="1331.7" r="2.7"/></g>
<g fill="#52f6f6" fill-opacity="0.7" stroke="#050808" stroke-opacity="0.74" stroke-width="3.4" stroke-linejoin="miter"><path d="M370.7 1516.5l8.4 8.4-8.4 8.4-8.4-8.4z"/></g>
<g fill="#f85656" fill-opacity="0.62" stroke="#080505" stroke-opacity="0.74" stroke-width="3.4"><circle cx="842.5" cy="1280.4" r="5.2"/></g>
<g fill="#52f6f6" fill-opacity="0.7" stroke="#050808" stroke-opacity="0.74" stroke-width="3.4" stroke-linejoin="miter"><path d="M517.5 1357.7l7.2 7.2-7.2 7.2-7.2-7.2z"/></g>
<g fill="#f85656" fill-opacity="0.62" stroke="#080505" stroke-opacity="0.74" stroke-width="3.4"><circle cx="571.7" cy="1325.5" r="2.7"/></g>
<g fill="#52f6f6" fill-opacity="0.7" stroke="#050808" stroke-opacity="0.74" stroke-width="3.4" stroke-linejoin="miter"><path d="M544.5 1339.7l4.1 4.1-4.1 4.1-4.1-4.1z"/></g>
<g fill="#f85656" fill-opacity="0.62" stroke="#080505" stroke-opacity="0.74" stroke-width="3.4"><circle cx="556.7" cy="1308.4" r="2.7"/></g>
<g fill="#52f6f6" fill-opacity="0.7" stroke="#050808" stroke-opacity="0.74" stroke-width="3.4" stroke-linejoin="miter"><path d="M440.2 1396.1l10.6 10.6-10.6 10.6-10.6-10.6z"/><path d="M327.4 1536.7l5.5 5.5-5.5 5.5-5.5-5.5z"/><path d="M471.1 1352.5l8.2 8.2-8.2 8.2-8.2-8.2z"/><path d="M410.8 1405.2l8.7 8.7-8.7 8.7-8.7-8.7z"/><path d="M547.3 1373l7.4 7.4-7.4 7.4-7.4-7.4z"/><path d="M477.9 1447.9l8.3 8.3-8.3 8.3-8.3-8.3z"/><path d="M317.7 1486.9l7.2 7.2-7.2 7.2-7.2-7.2z"/><path d="M525.3 1357.9l7.8 7.8-7.8 7.8-7.8-7.8z"/><path d="M435.7 1427l11.2 11.2-11.2 11.2-11.2-11.2z"/><path d="M421.8 1427.6l11 11-11 11-11-11z"/><path d="M508.3 1381.3l8.5 8.5-8.5 8.5-8.5-8.5z"/><path d="M376.8 1435.1l8.2 8.2-8.2 8.2-8.2-8.2z"/><path d="M508.1 1377.2l9.7 9.7-9.7 9.7-9.7-9.7z"/><path d="M520.5 1332l5.8 5.8-5.8 5.8-5.8-5.8z"/><path d="M539.6 1501.2l4.8 4.8-4.8 4.8-4.8-4.8z"/><path d="M522.5 1321.7l4.7 4.7-4.7 4.7-4.7-4.7z"/><path d="M394.8 1488.7l8.7 8.7-8.7 8.7-8.7-8.7z"/><path d="M473 1466.4l7.4 7.4-7.4 7.4-7.4-7.4z"/><path d="M357.7 1438.6l8.5 8.5-8.5 8.5-8.5-8.5z"/><path d="M431.7 1455.8l10.4 10.4-10.4 10.4-10.4-10.4z"/><path d="M411.6 1470.8l8.3 8.3-8.3 8.3-8.3-8.3z"/><path d="M282.7 1500l7.2 7.2-7.2 7.2-7.2-7.2z"/><path d="M470 1358.5l8.5 8.5-8.5 8.5-8.5-8.5z"/><path d="M431.1 1332.8l6.5 6.5-6.5 6.5-6.5-6.5z"/><path d="M434 1435.2l10 10-10 10-10-10z"/><path d="M567 1358.4l4.7 4.7-4.7 4.7-4.7-4.7z"/><path d="M417.3 1369.2l7.7 7.7-7.7 7.7-7.7-7.7z"/><path d="M477.1 1448.7l9.9 9.9-9.9 9.9-9.9-9.9z"/><path d="M451.6 1411.1l10.6 10.6-10.6 10.6-10.6-10.6z"/><path d="M390.1 1476.1l9 9-9 9-9-9z"/><path d="M398.8 1449.9l8.4 8.4-8.4 8.4-8.4-8.4z"/><path d="M349.7 1440.4l8.5 8.5-8.5 8.5-8.5-8.5z"/><path d="M349.8 1467.5l7.7 7.7-7.7 7.7-7.7-7.7z"/><path d="M232.4 1509.1l6.5 6.5-6.5 6.5-6.5-6.5z"/><path d="M340.7 1444.3l8.3 8.3-8.3 8.3-8.3-8.3z"/><path d="M394.3 1506l7.2 7.2-7.2 7.2-7.2-7.2z"/><path d="M370.2 1448l7.9 7.9-7.9 7.9-7.9-7.9z"/><path d="M275 1390.2l7.4 7.4-7.4 7.4-7.4-7.4z"/><path d="M479.8 1336l6.1 6.1-6.1 6.1-6.1-6.1z"/><path d="M566.1 1395.7l6.4 6.4-6.4 6.4-6.4-6.4z"/></g>
<g fill="#f85656" fill-opacity="0.62" stroke="#080505" stroke-opacity="0.74" stroke-width="3.4"><circle cx="583.2" cy="1287" r="4.4"/></g>
<g fill="#52f6f6" fill-opacity="0.7" stroke="#050808" stroke-opacity="0.74" stroke-width="3.4" stroke-linejoin="miter"><path d="M362.6 1425.3l8.1 8.1-8.1 8.1-8.1-8.1z"/><path d="M498.2 1382l9.7 9.7-9.7 9.7-9.7-9.7z"/><path d="M513.7 1348.6l5.6 5.6-5.6 5.6-5.6-5.6z"/></g>
<g fill="#f85656" fill-opacity="0.62" stroke="#080505" stroke-opacity="0.74" stroke-width="3.4"><circle cx="574.2" cy="1327.8" r="2.7"/><circle cx="545.7" cy="1288.1" r="3.3"/><circle cx="652.5" cy="1261.2" r="6.6"/></g>
<g fill="#52f6f6" fill-opacity="0.7" stroke="#050808" stroke-opacity="0.74" stroke-width="3.4" stroke-linejoin="miter"><path d="M558.7 1348.2l4 4-4 4-4-4z"/><path d="M362.3 1448.7l9.6 9.6-9.6 9.6-9.6-9.6z"/></g>
<g fill="#f85656" fill-opacity="0.62" stroke="#080505" stroke-opacity="0.74" stroke-width="3.4"><circle cx="612.9" cy="1286.9" r="5.5"/></g>
<g fill="#52f6f6" fill-opacity="0.7" stroke="#050808" stroke-opacity="0.74" stroke-width="3.4" stroke-linejoin="miter"><path d="M375.8 1464.2l9.3 9.3-9.3 9.3-9.3-9.3z"/><path d="M369.3 1470.9l8.7 8.7-8.7 8.7-8.7-8.7z"/><path d="M413.4 1435.6l11.1 11.1-11.1 11.1-11.1-11.1z"/><path d="M402 1468l9.1 9.1-9.1 9.1-9.1-9.1z"/><path d="M566 1359l4.8 4.8-4.8 4.8-4.8-4.8z"/><path d="M482.4 1425.1l8.8 8.8-8.8 8.8-8.8-8.8z"/><path d="M401.1 1394.5l7.7 7.7-7.7 7.7-7.7-7.7z"/></g>
<g fill="#f85656" fill-opacity="0.62" stroke="#080505" stroke-opacity="0.74" stroke-width="3.4"><circle cx="723" cy="1214" r="7.1"/></g>
<g fill="#52f6f6" fill-opacity="0.7" stroke="#050808" stroke-opacity="0.74" stroke-width="3.4" stroke-linejoin="miter"><path d="M267.2 1438.5l7 7-7 7-7-7z"/><path d="M339.3 1480.4l7.9 7.9-7.9 7.9-7.9-7.9z"/><path d="M375.8 1496.6l8.5 8.5-8.5 8.5-8.5-8.5z"/></g>
<g fill="#f85656" fill-opacity="0.62" stroke="#080505" stroke-opacity="0.74" stroke-width="3.4"><circle cx="588" cy="1338.1" r="2.7"/></g>
<g fill="#52f6f6" fill-opacity="0.7" stroke="#050808" stroke-opacity="0.74" stroke-width="3.4" stroke-linejoin="miter"><path d="M373.4 1466.6l10.3 10.3-10.3 10.3-10.3-10.3z"/><path d="M496 1352.6l8.4 8.4-8.4 8.4-8.4-8.4z"/></g>
<g fill="#f85656" fill-opacity="0.62" stroke="#080505" stroke-opacity="0.74" stroke-width="3.4"><circle cx="629.4" cy="1287.7" r="5.3"/></g>
<g fill="#52f6f6" fill-opacity="0.7" stroke="#050808" stroke-opacity="0.74" stroke-width="3.4" stroke-linejoin="miter"><path d="M399.4 1508.5l7.4 7.4-7.4 7.4-7.4-7.4z"/><path d="M457.9 1456.3l9.7 9.7-9.7 9.7-9.7-9.7z"/><path d="M424.5 1452.1l9.2 9.2-9.2 9.2-9.2-9.2z"/><path d="M483.2 1357.1l9.4 9.4-9.4 9.4-9.4-9.4z"/><path d="M537 1366.2l7 7-7 7-7-7z"/><path d="M514.2 1337.7l5.3 5.3-5.3 5.3-5.3-5.3z"/><path d="M400.5 1430.7l10.4 10.4-10.4 10.4-10.4-10.4z"/><path d="M477.1 1404.5l10.8 10.8-10.8 10.8-10.8-10.8z"/><path d="M418.4 1418.3l9 9-9 9-9-9z"/><path d="M315.5 1471.9l7.4 7.4-7.4 7.4-7.4-7.4z"/><path d="M424.2 1496.2l7.3 7.3-7.3 7.3-7.3-7.3z"/></g>
<g fill="#f85656" fill-opacity="0.62" stroke="#080505" stroke-opacity="0.74" stroke-width="3.4"><circle cx="578" cy="1278.2" r="4.5"/></g>
<g fill="#52f6f6" fill-opacity="0.7" stroke="#050808" stroke-opacity="0.74" stroke-width="3.4" stroke-linejoin="miter"><path d="M508.4 1424.4l8.3 8.3-8.3 8.3-8.3-8.3z"/><path d="M360.4 1472.1l7.8 7.8-7.8 7.8-7.8-7.8z"/><path d="M397.3 1363.5l8.2 8.2-8.2 8.2-8.2-8.2z"/><path d="M396.9 1419.1l8.3 8.3-8.3 8.3-8.3-8.3z"/><path d="M491.6 1428.4l9.6 9.6-9.6 9.6-9.6-9.6z"/></g>
<g fill="#f85656" fill-opacity="0.62" stroke="#080505" stroke-opacity="0.74" stroke-width="3.4"><circle cx="683.6" cy="1249.9" r="6.3"/></g>
<g fill="#52f6f6" fill-opacity="0.7" stroke="#050808" stroke-opacity="0.74" stroke-width="3.4" stroke-linejoin="miter"><path d="M398.6 1452.5l9.6 9.6-9.6 9.6-9.6-9.6z"/><path d="M445.5 1313.9l5.2 5.2-5.2 5.2-5.2-5.2z"/><path d="M424.7 1463.2l8.7 8.7-8.7 8.7-8.7-8.7z"/><path d="M363.9 1458.7l10.4 10.4-10.4 10.4-10.4-10.4z"/><path d="M340.4 1447.8l7.3 7.3-7.3 7.3-7.3-7.3z"/><path d="M373.5 1357l7 7-7 7-7-7z"/><path d="M559.1 1342.4l4.9 4.9-4.9 4.9-4.9-4.9z"/><path d="M413.6 1474.5l8.2 8.2-8.2 8.2-8.2-8.2z"/><path d="M337.1 1453.4l7.9 7.9-7.9 7.9-7.9-7.9z"/><path d="M440.9 1425.7l9.5 9.5-9.5 9.5-9.5-9.5z"/><path d="M390.2 1470.2l10.3 10.3-10.3 10.3-10.3-10.3z"/></g>
<g fill="#f85656" fill-opacity="0.62" stroke="#080505" stroke-opacity="0.74" stroke-width="3.4"><circle cx="683.1" cy="1270.2" r="6.9"/></g>
<g fill="#52f6f6" fill-opacity="0.7" stroke="#050808" stroke-opacity="0.74" stroke-width="3.4" stroke-linejoin="miter"><path d="M472.3 1366.4l8.1 8.1-8.1 8.1-8.1-8.1z"/><path d="M383.7 1450.8l9.7 9.7-9.7 9.7-9.7-9.7z"/><path d="M464.8 1427.2l10.6 10.6-10.6 10.6-10.6-10.6z"/><path d="M533.1 1348.2l5.7 5.7-5.7 5.7-5.7-5.7z"/><path d="M542.7 1342.7l4.5 4.5-4.5 4.5-4.5-4.5z"/><path d="M289.5 1536.1l4.7 4.7-4.7 4.7-4.7-4.7z"/><path d="M344.7 1500l7.8 7.8-7.8 7.8-7.8-7.8z"/><path d="M633.7 1406.1l4.2 4.2-4.2 4.2-4.2-4.2z"/><path d="M532.2 1400.7l8.3 8.3-8.3 8.3-8.3-8.3z"/><path d="M481.6 1343.9l8 8-8 8-8-8z"/><path d="M398.3 1468.8l8.2 8.2-8.2 8.2-8.2-8.2z"/></g>
<g fill="#f85656" fill-opacity="0.62" stroke="#080505" stroke-opacity="0.74" stroke-width="3.4"><circle cx="545.9" cy="1301.7" r="2.7"/><circle cx="654.3" cy="1264.5" r="7.1"/></g>
<g fill="#52f6f6" fill-opacity="0.7" stroke="#050808" stroke-opacity="0.74" stroke-width="3.4" stroke-linejoin="miter"><path d="M359.3 1413.7l8 8-8 8-8-8z"/><path d="M297.4 1507.3l7.4 7.4-7.4 7.4-7.4-7.4z"/><path d="M512.7 1321.1l5.3 5.3-5.3 5.3-5.3-5.3z"/></g>
<g fill="#f85656" fill-opacity="0.62" stroke="#080505" stroke-opacity="0.74" stroke-width="3.4"><circle cx="624.6" cy="1359" r="2.7"/><circle cx="697" cy="1238.5" r="6.8"/></g>
<g fill="#52f6f6" fill-opacity="0.7" stroke="#050808" stroke-opacity="0.74" stroke-width="3.4" stroke-linejoin="miter"><path d="M445.3 1406l8.9 8.9-8.9 8.9-8.9-8.9z"/><path d="M343.6 1475.2l9.1 9.1-9.1 9.1-9.1-9.1z"/><path d="M481.5 1351.2l8.5 8.5-8.5 8.5-8.5-8.5z"/></g>
<g fill="#f85656" fill-opacity="0.62" stroke="#080505" stroke-opacity="0.74" stroke-width="3.4"><circle cx="574.8" cy="1331.3" r="2.7"/></g>
<g fill="#52f6f6" fill-opacity="0.7" stroke="#050808" stroke-opacity="0.74" stroke-width="3.4" stroke-linejoin="miter"><path d="M302 1485.7l8.7 8.7-8.7 8.7-8.7-8.7z"/><path d="M526.6 1434.2l9 9-9 9-9-9z"/><path d="M357.6 1496.9l9.4 9.4-9.4 9.4-9.4-9.4z"/><path d="M465.8 1422.7l8.5 8.5-8.5 8.5-8.5-8.5z"/></g>
<g fill="#f85656" fill-opacity="0.62" stroke="#080505" stroke-opacity="0.74" stroke-width="3.4"><circle cx="659.2" cy="1284.3" r="5.9"/><circle cx="592.5" cy="1328.1" r="2.7"/></g>
<g fill="#52f6f6" fill-opacity="0.7" stroke="#050808" stroke-opacity="0.74" stroke-width="3.4" stroke-linejoin="miter"><path d="M557.1 1347.9l5.1 5.1-5.1 5.1-5.1-5.1z"/><path d="M523.8 1347.9l7.5 7.5-7.5 7.5-7.5-7.5z"/><path d="M341.9 1484.5l9.1 9.1-9.1 9.1-9.1-9.1z"/><path d="M552 1329l3.3 3.3-3.3 3.3-3.3-3.3z"/><path d="M301.9 1524.9l5 5-5 5-5-5z"/><path d="M380.7 1437.2l9.3 9.3-9.3 9.3-9.3-9.3z"/></g>
<g fill="#f85656" fill-opacity="0.62" stroke="#080505" stroke-opacity="0.74" stroke-width="3.4"><circle cx="656.1" cy="1254.2" r="5.8"/></g>
<g fill="#52f6f6" fill-opacity="0.7" stroke="#050808" stroke-opacity="0.74" stroke-width="3.4" stroke-linejoin="miter"><path d="M374.1 1441.2l8.4 8.4-8.4 8.4-8.4-8.4z"/><path d="M322.7 1538.5l4.9 4.9-4.9 4.9-4.9-4.9z"/><path d="M507.7 1431.4l9.4 9.4-9.4 9.4-9.4-9.4z"/><path d="M537.9 1342l5.9 5.9-5.9 5.9-5.9-5.9z"/><path d="M392.6 1491.8l8.1 8.1-8.1 8.1-8.1-8.1z"/></g>
<g fill="#f85656" fill-opacity="0.62" stroke="#080505" stroke-opacity="0.74" stroke-width="3.4"><circle cx="572.9" cy="1319.3" r="2.7"/></g>
<g fill="#52f6f6" fill-opacity="0.7" stroke="#050808" stroke-opacity="0.74" stroke-width="3.4" stroke-linejoin="miter"><path d="M613.7 1371.6l3.6 3.6-3.6 3.6-3.6-3.6z"/><path d="M470.6 1460.7l9.8 9.8-9.8 9.8-9.8-9.8z"/><path d="M535.5 1339.7l5.9 5.9-5.9 5.9-5.9-5.9z"/><path d="M394 1489.7l9.2 9.2-9.2 9.2-9.2-9.2z"/><path d="M298.1 1550.2l4.6 4.6-4.6 4.6-4.6-4.6z"/></g>
<g fill="#f85656" fill-opacity="0.62" stroke="#080505" stroke-opacity="0.74" stroke-width="3.4"><circle cx="598.9" cy="1300.4" r="4.6"/></g>
<g fill="#52f6f6" fill-opacity="0.7" stroke="#050808" stroke-opacity="0.74" stroke-width="3.4" stroke-linejoin="miter"><path d="M389.5 1501.9l9 9-9 9-9-9z"/><path d="M409.1 1523.1l7.2 7.2-7.2 7.2-7.2-7.2z"/></g>
<g fill="#f85656" fill-opacity="0.62" stroke="#080505" stroke-opacity="0.74" stroke-width="3.4"><circle cx="611.4" cy="1284.1" r="4.6"/></g>
<g fill="#52f6f6" fill-opacity="0.7" stroke="#050808" stroke-opacity="0.74" stroke-width="3.4" stroke-linejoin="miter"><path d="M414.2 1420.5l8.7 8.7-8.7 8.7-8.7-8.7z"/><path d="M459.9 1564.1l4 4-4 4-4-4z"/><path d="M428.1 1383.9l8.3 8.3-8.3 8.3-8.3-8.3z"/><path d="M353.1 1517.8l7.8 7.8-7.8 7.8-7.8-7.8z"/><path d="M407.5 1421l8.6 8.6-8.6 8.6-8.6-8.6z"/><path d="M368.2 1467.3l9.6 9.6-9.6 9.6-9.6-9.6z"/></g>
<g fill="#f85656" fill-opacity="0.62" stroke="#080505" stroke-opacity="0.74" stroke-width="3.4"><circle cx="670.9" cy="1247.5" r="6.3"/></g>
<g fill="#52f6f6" fill-opacity="0.7" stroke="#050808" stroke-opacity="0.74" stroke-width="3.4" stroke-linejoin="miter"><path d="M447.9 1427.7l10.2 10.2-10.2 10.2-10.2-10.2z"/><path d="M345.7 1456.4l8.5 8.5-8.5 8.5-8.5-8.5z"/><path d="M531.1 1359.9l7.3 7.3-7.3 7.3-7.3-7.3z"/><path d="M377.3 1489.8l8.6 8.6-8.6 8.6-8.6-8.6z"/><path d="M550.8 1336.3l4.2 4.2-4.2 4.2-4.2-4.2z"/><path d="M533 1342.1l4.6 4.6-4.6 4.6-4.6-4.6z"/><path d="M448.6 1423.4l9.9 9.9-9.9 9.9-9.9-9.9z"/><path d="M393.7 1440.1l9.9 9.9-9.9 9.9-9.9-9.9z"/><path d="M346.1 1439.6l8 8-8 8-8-8z"/><path d="M422.7 1457.3l8.2 8.2-8.2 8.2-8.2-8.2z"/><path d="M558.3 1366.6l6.8 6.8-6.8 6.8-6.8-6.8z"/><path d="M539.6 1391.1l6.5 6.5-6.5 6.5-6.5-6.5z"/><path d="M444.9 1507.9l8.3 8.3-8.3 8.3-8.3-8.3z"/><path d="M541 1413.9l6.7 6.7-6.7 6.7-6.7-6.7z"/><path d="M472.2 1470.6l9.1 9.1-9.1 9.1-9.1-9.1z"/></g>
<g fill="#f85656" fill-opacity="0.62" stroke="#080505" stroke-opacity="0.74" stroke-width="3.4"><circle cx="530.5" cy="1287.7" r="2.7"/></g>
<g fill="#52f6f6" fill-opacity="0.7" stroke="#050808" stroke-opacity="0.74" stroke-width="3.4" stroke-linejoin="miter"><path d="M500.9 1346.7l6.8 6.8-6.8 6.8-6.8-6.8z"/><path d="M390.4 1460.1l9.5 9.5-9.5 9.5-9.5-9.5z"/><path d="M489.8 1379.2l8.9 8.9-8.9 8.9-8.9-8.9z"/><path d="M490.2 1412.2l9.7 9.7-9.7 9.7-9.7-9.7z"/><path d="M340 1517.4l7.6 7.6-7.6 7.6-7.6-7.6z"/></g>
<g fill="#f85656" fill-opacity="0.62" stroke="#080505" stroke-opacity="0.74" stroke-width="3.4"><circle cx="624.3" cy="1346" r="2.7"/></g>
<g fill="#52f6f6" fill-opacity="0.7" stroke="#050808" stroke-opacity="0.74" stroke-width="3.4" stroke-linejoin="miter"><path d="M461 1452.2l9.7 9.7-9.7 9.7-9.7-9.7z"/><path d="M361.2 1484.9l9.5 9.5-9.5 9.5-9.5-9.5z"/><path d="M433.7 1393.7l10.7 10.7-10.7 10.7-10.7-10.7z"/></g>
<g fill="#f85656" fill-opacity="0.62" stroke="#080505" stroke-opacity="0.74" stroke-width="3.4"><circle cx="554.4" cy="1305.5" r="2.7"/></g>
<g fill="#52f6f6" fill-opacity="0.7" stroke="#050808" stroke-opacity="0.74" stroke-width="3.4" stroke-linejoin="miter"><path d="M466.4 1362.3l10.3 10.3-10.3 10.3-10.3-10.3z"/><path d="M303.8 1488.4l7 7-7 7-7-7z"/></g>
<g fill="#f85656" fill-opacity="0.62" stroke="#080505" stroke-opacity="0.74" stroke-width="3.4"><circle cx="593.1" cy="1277.4" r="5.1"/></g>
<g fill="#52f6f6" fill-opacity="0.7" stroke="#050808" stroke-opacity="0.74" stroke-width="3.4" stroke-linejoin="miter"><path d="M520 1335.1l5.9 5.9-5.9 5.9-5.9-5.9z"/><path d="M407.5 1405.6l9.5 9.5-9.5 9.5-9.5-9.5z"/><path d="M406.4 1490l8.2 8.2-8.2 8.2-8.2-8.2z"/><path d="M345.4 1426.9l7.3 7.3-7.3 7.3-7.3-7.3z"/><path d="M472.6 1358.9l8.5 8.5-8.5 8.5-8.5-8.5z"/></g>
<g fill="#f85656" fill-opacity="0.62" stroke="#080505" stroke-opacity="0.74" stroke-width="3.4"><circle cx="649.7" cy="1230.5" r="6.7"/></g>
<g fill="#52f6f6" fill-opacity="0.7" stroke="#050808" stroke-opacity="0.74" stroke-width="3.4" stroke-linejoin="miter"><path d="M392.9 1480.8l8.7 8.7-8.7 8.7-8.7-8.7z"/></g>
<g fill="#f85656" fill-opacity="0.62" stroke="#080505" stroke-opacity="0.74" stroke-width="3.4"><circle cx="618.4" cy="1340" r="2.7"/></g>
<g fill="#52f6f6" fill-opacity="0.7" stroke="#050808" stroke-opacity="0.74" stroke-width="3.4" stroke-linejoin="miter"><path d="M528.4 1344l6.2 6.2-6.2 6.2-6.2-6.2z"/><path d="M545.8 1381.3l7.8 7.8-7.8 7.8-7.8-7.8z"/><path d="M414.3 1466.4l8.7 8.7-8.7 8.7-8.7-8.7z"/><path d="M465.5 1420.8l8.6 8.6-8.6 8.6-8.6-8.6z"/><path d="M437 1471.6l7.9 7.9-7.9 7.9-7.9-7.9z"/></g>
<g fill="#f85656" fill-opacity="0.62" stroke="#080505" stroke-opacity="0.74" stroke-width="3.4"><circle cx="587.9" cy="1281.1" r="4.8"/></g>
<g fill="#52f6f6" fill-opacity="0.7" stroke="#050808" stroke-opacity="0.74" stroke-width="3.4" stroke-linejoin="miter"><path d="M445.8 1458.9l8.5 8.5-8.5 8.5-8.5-8.5z"/></g>
<g fill="#f85656" fill-opacity="0.62" stroke="#080505" stroke-opacity="0.74" stroke-width="3.4"><circle cx="565.4" cy="1318.8" r="2.7"/></g>
<g fill="#52f6f6" fill-opacity="0.7" stroke="#050808" stroke-opacity="0.74" stroke-width="3.4" stroke-linejoin="miter"><path d="M527.3 1356.9l7.2 7.2-7.2 7.2-7.2-7.2z"/><path d="M401.4 1449.7l10.6 10.6-10.6 10.6-10.6-10.6z"/><path d="M374 1433.1l9.9 9.9-9.9 9.9-9.9-9.9z"/><path d="M548.8 1365.4l6.4 6.4-6.4 6.4-6.4-6.4z"/></g>
<g fill="#f85656" fill-opacity="0.62" stroke="#080505" stroke-opacity="0.74" stroke-width="3.4"><circle cx="635.5" cy="1296.2" r="5.5"/></g>
<g fill="#52f6f6" fill-opacity="0.7" stroke="#050808" stroke-opacity="0.74" stroke-width="3.4" stroke-linejoin="miter"><path d="M369.8 1480.4l10 10-10 10-10-10z"/><path d="M386.7 1373.7l7.7 7.7-7.7 7.7-7.7-7.7z"/><path d="M449.5 1381.2l10.3 10.3-10.3 10.3-10.3-10.3z"/><path d="M548.4 1425.2l6 6-6 6-6-6z"/><path d="M409.9 1361.4l11.5 11.5-11.5 11.5-11.5-11.5z"/><path d="M316.7 1496.7l9.5 9.5-9.5 9.5-9.5-9.5z"/><path d="M390.9 1514.2l8 8-8 8-8-8z"/><path d="M310.6 1523.9l7.7 7.7-7.7 7.7-7.7-7.7z"/><path d="M359.9 1415.3l7.8 7.8-7.8 7.8-7.8-7.8z"/><path d="M363.6 1448.8l8.7 8.7-8.7 8.7-8.7-8.7z"/><path d="M443.6 1465.1l8.2 8.2-8.2 8.2-8.2-8.2z"/><path d="M504.9 1352.3l8.3 8.3-8.3 8.3-8.3-8.3z"/><path d="M329.3 1453.9l7.9 7.9-7.9 7.9-7.9-7.9z"/><path d="M427.2 1402.4l8.7 8.7-8.7 8.7-8.7-8.7z"/><path d="M413.5 1446.8l10.7 10.7-10.7 10.7-10.7-10.7z"/><path d="M391.8 1379.3l8.6 8.6-8.6 8.6-8.6-8.6z"/></g>
<g fill="#f85656" fill-opacity="0.62" stroke="#080505" stroke-opacity="0.74" stroke-width="3.4"><circle cx="880.3" cy="1154" r="7"/></g>
<g fill="#52f6f6" fill-opacity="0.7" stroke="#050808" stroke-opacity="0.74" stroke-width="3.4" stroke-linejoin="miter"><path d="M354.4 1468.9l9 9-9 9-9-9z"/><path d="M382.6 1496.9l8.7 8.7-8.7 8.7-8.7-8.7z"/><path d="M361.4 1495.2l9 9-9 9-9-9z"/><path d="M492 1371.3l9.1 9.1-9.1 9.1-9.1-9.1z"/><path d="M404.5 1487.9l7.6 7.6-7.6 7.6-7.6-7.6z"/><path d="M437.7 1459.6l9.8 9.8-9.8 9.8-9.8-9.8z"/><path d="M521.4 1401.6l7.5 7.5-7.5 7.5-7.5-7.5z"/></g>
<g fill="#f85656" fill-opacity="0.62" stroke="#080505" stroke-opacity="0.74" stroke-width="3.4"><circle cx="630" cy="1288.5" r="5.6"/></g>
<g fill="#52f6f6" fill-opacity="0.7" stroke="#050808" stroke-opacity="0.74" stroke-width="3.4" stroke-linejoin="miter"><path d="M323.4 1465.7l8.7 8.7-8.7 8.7-8.7-8.7z"/><path d="M376.8 1432.1l8.7 8.7-8.7 8.7-8.7-8.7z"/><path d="M498.4 1440.8l9.4 9.4-9.4 9.4-9.4-9.4z"/><path d="M307.1 1576.8l4 4-4 4-4-4z"/></g>
<g fill="#f85656" fill-opacity="0.62" stroke="#080505" stroke-opacity="0.74" stroke-width="3.4"><circle cx="683.6" cy="1257.7" r="6.2"/></g>
<g fill="#52f6f6" fill-opacity="0.7" stroke="#050808" stroke-opacity="0.74" stroke-width="3.4" stroke-linejoin="miter"><path d="M513 1294.9l3.3 3.3-3.3 3.3-3.3-3.3z"/><path d="M397.3 1501.7l7.7 7.7-7.7 7.7-7.7-7.7z"/><path d="M506.2 1340.9l6.8 6.8-6.8 6.8-6.8-6.8z"/><path d="M390.6 1407.9l8.3 8.3-8.3 8.3-8.3-8.3z"/><path d="M446 1435l10.4 10.4-10.4 10.4-10.4-10.4z"/><path d="M419.9 1448.8l8.7 8.7-8.7 8.7-8.7-8.7z"/><path d="M394.4 1425.5l10.5 10.5-10.5 10.5-10.5-10.5z"/><path d="M341.6 1466.7l9.9 9.9-9.9 9.9-9.9-9.9z"/><path d="M400.7 1480.4l8.9 8.9-8.9 8.9-8.9-8.9z"/><path d="M461.3 1456.3l9.3 9.3-9.3 9.3-9.3-9.3z"/><path d="M368.3 1451.7l9.5 9.5-9.5 9.5-9.5-9.5z"/><path d="M358.3 1438.5l7.7 7.7-7.7 7.7-7.7-7.7z"/><path d="M623.7 1370.4l3.3 3.3-3.3 3.3-3.3-3.3z"/></g>
<g fill="#f85656" fill-opacity="0.62" stroke="#080505" stroke-opacity="0.74" stroke-width="3.4"><circle cx="575.6" cy="1276.8" r="4.9"/><circle cx="622.1" cy="1288.9" r="5"/></g>
<g fill="#52f6f6" fill-opacity="0.7" stroke="#050808" stroke-opacity="0.74" stroke-width="3.4" stroke-linejoin="miter"><path d="M380.9 1527.1l7.5 7.5-7.5 7.5-7.5-7.5z"/><path d="M399.4 1424.3l8.2 8.2-8.2 8.2-8.2-8.2z"/><path d="M459.4 1442.4l8.6 8.6-8.6 8.6-8.6-8.6z"/></g>
<g fill="#f85656" fill-opacity="0.62" stroke="#080505" stroke-opacity="0.74" stroke-width="3.4"><circle cx="592.9" cy="1295.1" r="3.9"/></g>
<g fill="#52f6f6" fill-opacity="0.7" stroke="#050808" stroke-opacity="0.74" stroke-width="3.4" stroke-linejoin="miter"><path d="M432.9 1386.3l10.8 10.8-10.8 10.8-10.8-10.8z"/><path d="M370.4 1419l9.3 9.3-9.3 9.3-9.3-9.3z"/></g>
<g fill="#f85656" fill-opacity="0.62" stroke="#080505" stroke-opacity="0.74" stroke-width="3.4"><circle cx="528.9" cy="1288.6" r="2.7"/></g>
<g fill="#52f6f6" fill-opacity="0.7" stroke="#050808" stroke-opacity="0.74" stroke-width="3.4" stroke-linejoin="miter"><path d="M423.5 1468l8.6 8.6-8.6 8.6-8.6-8.6z"/><path d="M453.3 1438.8l10.2 10.2-10.2 10.2-10.2-10.2z"/><path d="M458.8 1384.7l11 11-11 11-11-11z"/><path d="M406.6 1463.3l10.6 10.6-10.6 10.6-10.6-10.6z"/><path d="M343.7 1536.3l5.8 5.8-5.8 5.8-5.8-5.8z"/><path d="M327.3 1548.2l7.2 7.2-7.2 7.2-7.2-7.2z"/><path d="M450 1389.9l10.2 10.2-10.2 10.2-10.2-10.2z"/><path d="M454.2 1543.4l5.8 5.8-5.8 5.8-5.8-5.8z"/><path d="M489.7 1375l10.9 10.9-10.9 10.9-10.9-10.9z"/><path d="M309.1 1440.9l8.7 8.7-8.7 8.7-8.7-8.7z"/><path d="M359.7 1509.1l8 8-8 8-8-8z"/><path d="M352 1432.9l9.4 9.4-9.4 9.4-9.4-9.4z"/><path d="M433.4 1462.3l8.3 8.3-8.3 8.3-8.3-8.3z"/><path d="M412.6 1479.1l9 9-9 9-9-9z"/><path d="M303.1 1459.8l6.5 6.5-6.5 6.5-6.5-6.5z"/></g>
<g fill="#f85656" fill-opacity="0.62" stroke="#080505" stroke-opacity="0.74" stroke-width="3.4"><circle cx="564.3" cy="1309.1" r="2.9"/></g>
<g fill="#52f6f6" fill-opacity="0.7" stroke="#050808" stroke-opacity="0.74" stroke-width="3.4" stroke-linejoin="miter"><path d="M434.6 1410.6l9.1 9.1-9.1 9.1-9.1-9.1z"/><path d="M509.1 1327.1l6.6 6.6-6.6 6.6-6.6-6.6z"/><path d="M457.8 1373.8l9 9-9 9-9-9z"/><path d="M565.3 1368.6l4.9 4.9-4.9 4.9-4.9-4.9z"/><path d="M491.4 1352l7.3 7.3-7.3 7.3-7.3-7.3z"/><path d="M487.5 1387.8l9.1 9.1-9.1 9.1-9.1-9.1z"/></g>
<g fill="#f85656" fill-opacity="0.62" stroke="#080505" stroke-opacity="0.74" stroke-width="3.4"><circle cx="855.1" cy="1162.7" r="7"/></g>
<g fill="#52f6f6" fill-opacity="0.7" stroke="#050808" stroke-opacity="0.74" stroke-width="3.4" stroke-linejoin="miter"><path d="M589.4 1360.4l3.6 3.6-3.6 3.6-3.6-3.6z"/><path d="M473.5 1429.3l8.5 8.5-8.5 8.5-8.5-8.5z"/><path d="M511.7 1314.7l3.9 3.9-3.9 3.9-3.9-3.9z"/><path d="M375.5 1502.9l8.4 8.4-8.4 8.4-8.4-8.4z"/><path d="M439.1 1457.2l8.5 8.5-8.5 8.5-8.5-8.5z"/><path d="M291.3 1536.6l4.6 4.6-4.6 4.6-4.6-4.6z"/><path d="M549.2 1357.1l5.2 5.2-5.2 5.2-5.2-5.2z"/></g>
<g fill="#f85656" fill-opacity="0.62" stroke="#080505" stroke-opacity="0.74" stroke-width="3.4"><circle cx="527.4" cy="1646.6" r="2.7"/></g>
<g fill="#52f6f6" fill-opacity="0.7" stroke="#050808" stroke-opacity="0.74" stroke-width="3.4" stroke-linejoin="miter"><path d="M503.4 1320.7l4.8 4.8-4.8 4.8-4.8-4.8z"/><path d="M394.2 1481.1l7.9 7.9-7.9 7.9-7.9-7.9z"/><path d="M373.1 1436.2l10.4 10.4-10.4 10.4-10.4-10.4z"/><path d="M323 1468.5l8.2 8.2-8.2 8.2-8.2-8.2z"/><path d="M373.8 1507.3l9 9-9 9-9-9z"/></g>
<g fill="#f85656" fill-opacity="0.62" stroke="#080505" stroke-opacity="0.74" stroke-width="3.4"><circle cx="578.5" cy="1330.3" r="2.7"/><circle cx="711" cy="1219.1" r="6.6"/></g>
<g fill="#52f6f6" fill-opacity="0.7" stroke="#050808" stroke-opacity="0.74" stroke-width="3.4" stroke-linejoin="miter"><path d="M348.2 1462l7.8 7.8-7.8 7.8-7.8-7.8z"/></g>
<g fill="#f85656" fill-opacity="0.62" stroke="#080505" stroke-opacity="0.74" stroke-width="3.4"><circle cx="608.4" cy="1292.7" r="5.3"/></g>
<g fill="#52f6f6" fill-opacity="0.7" stroke="#050808" stroke-opacity="0.74" stroke-width="3.4" stroke-linejoin="miter"><path d="M385.4 1483.1l8.9 8.9-8.9 8.9-8.9-8.9z"/><path d="M273.9 1535.6l6.3 6.3-6.3 6.3-6.3-6.3z"/></g>
<g fill="#f85656" fill-opacity="0.62" stroke="#080505" stroke-opacity="0.74" stroke-width="3.4"><circle cx="862.2" cy="1131" r="6.8"/></g>
<g fill="#52f6f6" fill-opacity="0.7" stroke="#050808" stroke-opacity="0.74" stroke-width="3.4" stroke-linejoin="miter"><path d="M439.9 1365.4l8.6 8.6-8.6 8.6-8.6-8.6z"/><path d="M377.1 1484l8.8 8.8-8.8 8.8-8.8-8.8z"/><path d="M404.2 1485l8.8 8.8-8.8 8.8-8.8-8.8z"/><path d="M496.6 1389.8l9.4 9.4-9.4 9.4-9.4-9.4z"/><path d="M404.6 1384.8l9.6 9.6-9.6 9.6-9.6-9.6z"/><path d="M478.2 1476l8.4 8.4-8.4 8.4-8.4-8.4z"/><path d="M541.2 1345.5l5.6 5.6-5.6 5.6-5.6-5.6z"/></g>
<g fill="#f85656" fill-opacity="0.62" stroke="#080505" stroke-opacity="0.74" stroke-width="3.4"><circle cx="621.9" cy="1289.5" r="5.5"/></g>
<g fill="#52f6f6" fill-opacity="0.7" stroke="#050808" stroke-opacity="0.74" stroke-width="3.4" stroke-linejoin="miter"><path d="M349.2 1416.6l8.1 8.1-8.1 8.1-8.1-8.1z"/><path d="M500.5 1349.6l8.3 8.3-8.3 8.3-8.3-8.3z"/><path d="M347.6 1449.8l7.6 7.6-7.6 7.6-7.6-7.6z"/><path d="M542.2 1486.8l5.9 5.9-5.9 5.9-5.9-5.9z"/><path d="M540.1 1311.7l3.3 3.3-3.3 3.3-3.3-3.3z"/><path d="M608.2 1356.9l3.3 3.3-3.3 3.3-3.3-3.3z"/><path d="M504.9 1372.8l7.4 7.4-7.4 7.4-7.4-7.4z"/><path d="M396.1 1480.3l8.8 8.8-8.8 8.8-8.8-8.8z"/><path d="M469 1362l9.4 9.4-9.4 9.4-9.4-9.4z"/><path d="M336.9 1462.7l9.6 9.6-9.6 9.6-9.6-9.6z"/><path d="M409 1513.3l6.8 6.8-6.8 6.8-6.8-6.8z"/><path d="M402.5 1423l8.1 8.1-8.1 8.1-8.1-8.1z"/><path d="M566.4 1347.9l5.1 5.1-5.1 5.1-5.1-5.1z"/></g>
<g fill="#f85656" fill-opacity="0.62" stroke="#080505" stroke-opacity="0.74" stroke-width="3.4"><circle cx="646.2" cy="1280.3" r="5.5"/></g>
<g fill="#52f6f6" fill-opacity="0.7" stroke="#050808" stroke-opacity="0.74" stroke-width="3.4" stroke-linejoin="miter"><path d="M414.4 1497.1l7.2 7.2-7.2 7.2-7.2-7.2z"/><path d="M505.9 1351.4l7.1 7.1-7.1 7.1-7.1-7.1z"/><path d="M268.4 1424.8l6.4 6.4-6.4 6.4-6.4-6.4z"/><path d="M385 1429.5l10.5 10.5-10.5 10.5-10.5-10.5z"/><path d="M561.8 1326.9l3.3 3.3-3.3 3.3-3.3-3.3z"/><path d="M376.7 1457.8l10.6 10.6-10.6 10.6-10.6-10.6z"/><path d="M550.9 1356l6.4 6.4-6.4 6.4-6.4-6.4z"/></g>
<g fill="#f85656" fill-opacity="0.62" stroke="#080505" stroke-opacity="0.74" stroke-width="3.4"><circle cx="673.2" cy="1265.5" r="5.9"/></g>
<g fill="#52f6f6" fill-opacity="0.7" stroke="#050808" stroke-opacity="0.74" stroke-width="3.4" stroke-linejoin="miter"><path d="M411.6 1426.4l8.8 8.8-8.8 8.8-8.8-8.8z"/><path d="M444.9 1412.3l8.7 8.7-8.7 8.7-8.7-8.7z"/><path d="M524.2 1347.4l6.8 6.8-6.8 6.8-6.8-6.8z"/><path d="M402.5 1424.1l9.3 9.3-9.3 9.3-9.3-9.3z"/><path d="M545.7 1358.9l5.2 5.2-5.2 5.2-5.2-5.2z"/><path d="M512.4 1351.2l5.7 5.7-5.7 5.7-5.7-5.7z"/></g>
<g fill="#f85656" fill-opacity="0.62" stroke="#080505" stroke-opacity="0.74" stroke-width="3.4"><circle cx="598.4" cy="1263.5" r="6.1"/></g>
<g fill="#52f6f6" fill-opacity="0.7" stroke="#050808" stroke-opacity="0.74" stroke-width="3.4" stroke-linejoin="miter"><path d="M546.7 1359.7l7 7-7 7-7-7z"/><path d="M481.3 1453.3l7.3 7.3-7.3 7.3-7.3-7.3z"/><path d="M411.2 1420.7l10.3 10.3-10.3 10.3-10.3-10.3z"/></g>
<g fill="#f85656" fill-opacity="0.62" stroke="#080505" stroke-opacity="0.74" stroke-width="3.4"><circle cx="670.7" cy="1260.1" r="6.2"/><circle cx="564.8" cy="1314.7" r="2.7"/></g>
<g fill="#52f6f6" fill-opacity="0.7" stroke="#050808" stroke-opacity="0.74" stroke-width="3.4" stroke-linejoin="miter"><path d="M388.6 1420.5l9.3 9.3-9.3 9.3-9.3-9.3z"/><path d="M298.3 1500.6l7.6 7.6-7.6 7.6-7.6-7.6z"/><path d="M452.6 1351.4l10.2 10.2-10.2 10.2-10.2-10.2z"/><path d="M423.2 1429.8l10.5 10.5-10.5 10.5-10.5-10.5z"/></g>
<g fill="#f85656" fill-opacity="0.62" stroke="#080505" stroke-opacity="0.74" stroke-width="3.4"><circle cx="565" cy="1303.7" r="3.2"/></g>
<g fill="#52f6f6" fill-opacity="0.7" stroke="#050808" stroke-opacity="0.74" stroke-width="3.4" stroke-linejoin="miter"><path d="M508.3 1364.6l9.3 9.3-9.3 9.3-9.3-9.3z"/><path d="M388.1 1462.6l9.5 9.5-9.5 9.5-9.5-9.5z"/><path d="M394.1 1389.8l8.2 8.2-8.2 8.2-8.2-8.2z"/><path d="M455.8 1455.1l9 9-9 9-9-9z"/><path d="M367.1 1436.3l9.8 9.8-9.8 9.8-9.8-9.8z"/><path d="M384.7 1420.2l10.9 10.9-10.9 10.9-10.9-10.9z"/><path d="M278.7 1550.5l5.6 5.6-5.6 5.6-5.6-5.6z"/><path d="M517.6 1416.7l9 9-9 9-9-9z"/><path d="M326.7 1423.6l7.7 7.7-7.7 7.7-7.7-7.7z"/><path d="M427.9 1485.9l9.5 9.5-9.5 9.5-9.5-9.5z"/><path d="M343.2 1479.2l7.8 7.8-7.8 7.8-7.8-7.8z"/><path d="M475.6 1399.7l9.4 9.4-9.4 9.4-9.4-9.4z"/><path d="M561.7 1365.8l5.6 5.6-5.6 5.6-5.6-5.6z"/><path d="M547.7 1314.5l3.3 3.3-3.3 3.3-3.3-3.3z"/><path d="M436.7 1392.6l9.9 9.9-9.9 9.9-9.9-9.9z"/><path d="M481.8 1389.6l8.4 8.4-8.4 8.4-8.4-8.4z"/><path d="M409.5 1398.6l10.2 10.2-10.2 10.2-10.2-10.2z"/><path d="M373.5 1406l9.4 9.4-9.4 9.4-9.4-9.4z"/></g>
<g fill="#f85656" fill-opacity="0.62" stroke="#080505" stroke-opacity="0.74" stroke-width="3.4"><circle cx="673.7" cy="1234.7" r="7.1"/><circle cx="648.1" cy="1196" r="6.8"/></g>
<g fill="#52f6f6" fill-opacity="0.7" stroke="#050808" stroke-opacity="0.74" stroke-width="3.4" stroke-linejoin="miter"><path d="M431 1370.7l8.1 8.1-8.1 8.1-8.1-8.1z"/><path d="M526.2 1414.6l9.3 9.3-9.3 9.3-9.3-9.3z"/><path d="M377.1 1393.8l9.5 9.5-9.5 9.5-9.5-9.5z"/><path d="M411.7 1459.4l10 10-10 10-10-10z"/><path d="M309.8 1488.2l7.3 7.3-7.3 7.3-7.3-7.3z"/><path d="M488.9 1376.7l9.3 9.3-9.3 9.3-9.3-9.3z"/><path d="M517.5 1334.4l6.5 6.5-6.5 6.5-6.5-6.5z"/></g>
<g fill="#f85656" fill-opacity="0.62" stroke="#080505" stroke-opacity="0.74" stroke-width="3.4"><circle cx="644.1" cy="1266.1" r="5.6"/></g>
<g fill="#52f6f6" fill-opacity="0.7" stroke="#050808" stroke-opacity="0.74" stroke-width="3.4" stroke-linejoin="miter"><path d="M417.4 1451.5l9.8 9.8-9.8 9.8-9.8-9.8z"/><path d="M402.8 1390.1l10.3 10.3-10.3 10.3-10.3-10.3z"/><path d="M313.6 1451.4l7.1 7.1-7.1 7.1-7.1-7.1z"/><path d="M330.5 1535.7l8.1 8.1-8.1 8.1-8.1-8.1z"/><path d="M508.3 1392l9.7 9.7-9.7 9.7-9.7-9.7z"/><path d="M369.7 1496.9l7.6 7.6-7.6 7.6-7.6-7.6z"/><path d="M536.2 1339l4.8 4.8-4.8 4.8-4.8-4.8z"/></g>
<g fill="#f85656" fill-opacity="0.62" stroke="#080505" stroke-opacity="0.74" stroke-width="3.4"><circle cx="666.9" cy="1286.7" r="6.2"/></g>
<g fill="#52f6f6" fill-opacity="0.7" stroke="#050808" stroke-opacity="0.74" stroke-width="3.4" stroke-linejoin="miter"><path d="M578.4 1358.9l4.8 4.8-4.8 4.8-4.8-4.8z"/><path d="M522.9 1373.6l8.9 8.9-8.9 8.9-8.9-8.9z"/><path d="M561.2 1352.9l4.1 4.1-4.1 4.1-4.1-4.1z"/><path d="M426.3 1441.8l8.6 8.6-8.6 8.6-8.6-8.6z"/><path d="M455.3 1452.2l10.2 10.2-10.2 10.2-10.2-10.2z"/></g>
<g fill="#f85656" fill-opacity="0.62" stroke="#080505" stroke-opacity="0.74" stroke-width="3.4"><circle cx="618.3" cy="1258.1" r="5.6"/></g>
<g fill="#52f6f6" fill-opacity="0.7" stroke="#050808" stroke-opacity="0.74" stroke-width="3.4" stroke-linejoin="miter"><path d="M509.6 1353.4l7 7-7 7-7-7z"/><path d="M486.4 1278.4l3.3 3.3-3.3 3.3-3.3-3.3z"/><path d="M332.3 1486.3l8.6 8.6-8.6 8.6-8.6-8.6z"/><path d="M450.6 1464.4l10.3 10.3-10.3 10.3-10.3-10.3z"/><path d="M565.6 1349.1l4.6 4.6-4.6 4.6-4.6-4.6z"/></g>
<g fill="#f85656" fill-opacity="0.62" stroke="#080505" stroke-opacity="0.74" stroke-width="3.4"><circle cx="531.5" cy="1299.5" r="2.7"/></g>
<g fill="#52f6f6" fill-opacity="0.7" stroke="#050808" stroke-opacity="0.74" stroke-width="3.4" stroke-linejoin="miter"><path d="M369.8 1446.6l10.6 10.6-10.6 10.6-10.6-10.6z"/><path d="M548.3 1345.4l5.1 5.1-5.1 5.1-5.1-5.1z"/></g>
<g fill="#f85656" fill-opacity="0.62" stroke="#080505" stroke-opacity="0.74" stroke-width="3.4"><circle cx="627" cy="1286.1" r="5.6"/></g>
<g fill="#52f6f6" fill-opacity="0.7" stroke="#050808" stroke-opacity="0.74" stroke-width="3.4" stroke-linejoin="miter"><path d="M476 1373.8l8.9 8.9-8.9 8.9-8.9-8.9z"/><path d="M483.5 1341.5l8.9 8.9-8.9 8.9-8.9-8.9z"/><path d="M557.9 1358.6l6.2 6.2-6.2 6.2-6.2-6.2z"/><path d="M417.9 1393.7l8.2 8.2-8.2 8.2-8.2-8.2z"/><path d="M421.7 1410.8l10.4 10.4-10.4 10.4-10.4-10.4z"/><path d="M455.2 1390.4l9.1 9.1-9.1 9.1-9.1-9.1z"/><path d="M403.1 1491.7l8.4 8.4-8.4 8.4-8.4-8.4z"/><path d="M558.4 1334l4.2 4.2-4.2 4.2-4.2-4.2z"/><path d="M472.3 1349.5l7.6 7.6-7.6 7.6-7.6-7.6z"/><path d="M346.4 1497.6l8.3 8.3-8.3 8.3-8.3-8.3z"/><path d="M450 1440.6l10.5 10.5-10.5 10.5-10.5-10.5z"/></g>
<g fill="#f85656" fill-opacity="0.62" stroke="#080505" stroke-opacity="0.74" stroke-width="3.4"><circle cx="600" cy="1269.4" r="5.2"/><circle cx="589.8" cy="1332.5" r="2.7"/></g>
<g fill="#52f6f6" fill-opacity="0.7" stroke="#050808" stroke-opacity="0.74" stroke-width="3.4" stroke-linejoin="miter"><path d="M384.2 1439.4l9.2 9.2-9.2 9.2-9.2-9.2z"/><path d="M434.7 1353.9l10.4 10.4-10.4 10.4-10.4-10.4z"/><path d="M325.1 1488.7l7.5 7.5-7.5 7.5-7.5-7.5z"/><path d="M398.1 1436l11.2 11.2-11.2 11.2-11.2-11.2z"/><path d="M400.7 1503.2l9.3 9.3-9.3 9.3-9.3-9.3z"/></g>
<g fill="#f85656" fill-opacity="0.62" stroke="#080505" stroke-opacity="0.74" stroke-width="3.4"><circle cx="548" cy="1303.4" r="2.7"/></g>
<g fill="#52f6f6" fill-opacity="0.7" stroke="#050808" stroke-opacity="0.74" stroke-width="3.4" stroke-linejoin="miter"><path d="M421.9 1432.9l9.8 9.8-9.8 9.8-9.8-9.8z"/><path d="M461 1424.9l8.5 8.5-8.5 8.5-8.5-8.5z"/></g>
<g fill="#f85656" fill-opacity="0.62" stroke="#080505" stroke-opacity="0.74" stroke-width="3.4"><circle cx="611.9" cy="1290.1" r="5"/></g>
<g fill="#52f6f6" fill-opacity="0.7" stroke="#050808" stroke-opacity="0.74" stroke-width="3.4" stroke-linejoin="miter"><path d="M331.8 1507.4l9.6 9.6-9.6 9.6-9.6-9.6z"/><path d="M416.9 1403.3l8.5 8.5-8.5 8.5-8.5-8.5z"/></g>
<g fill="#f85656" fill-opacity="0.62" stroke="#080505" stroke-opacity="0.74" stroke-width="3.4"><circle cx="640.6" cy="1282.1" r="6"/></g>
<g fill="#52f6f6" fill-opacity="0.7" stroke="#050808" stroke-opacity="0.74" stroke-width="3.4" stroke-linejoin="miter"><path d="M435.4 1503.4l7.1 7.1-7.1 7.1-7.1-7.1z"/><path d="M272.9 1501.4l8.1 8.1-8.1 8.1-8.1-8.1z"/></g>
<g fill="#f85656" fill-opacity="0.62" stroke="#080505" stroke-opacity="0.74" stroke-width="3.4"><circle cx="589.6" cy="1319.5" r="3.1"/></g>
<g fill="#52f6f6" fill-opacity="0.7" stroke="#050808" stroke-opacity="0.74" stroke-width="3.4" stroke-linejoin="miter"><path d="M438.3 1368.7l8.5 8.5-8.5 8.5-8.5-8.5z"/><path d="M470.7 1430.3l8.5 8.5-8.5 8.5-8.5-8.5z"/><path d="M366.5 1456.3l9.1 9.1-9.1 9.1-9.1-9.1z"/><path d="M489.4 1417l9.8 9.8-9.8 9.8-9.8-9.8z"/><path d="M504.2 1410.7l8.6 8.6-8.6 8.6-8.6-8.6z"/><path d="M563.6 1348.7l4.1 4.1-4.1 4.1-4.1-4.1z"/><path d="M450.2 1360.8l9.7 9.7-9.7 9.7-9.7-9.7z"/><path d="M503.1 1387.8l8.3 8.3-8.3 8.3-8.3-8.3z"/><path d="M478.2 1401.1l9.8 9.8-9.8 9.8-9.8-9.8z"/><path d="M574.7 1384.5l5.9 5.9-5.9 5.9-5.9-5.9z"/><path d="M412.6 1502.8l7.9 7.9-7.9 7.9-7.9-7.9z"/><path d="M428.7 1490l7.9 7.9-7.9 7.9-7.9-7.9z"/><path d="M241 1529.3l7.2 7.2-7.2 7.2-7.2-7.2z"/><path d="M329.6 1442.4l8.1 8.1-8.1 8.1-8.1-8.1z"/></g>
<g fill="#f85656" fill-opacity="0.62" stroke="#080505" stroke-opacity="0.74" stroke-width="3.4"><circle cx="619" cy="1272.3" r="5.4"/><circle cx="599.7" cy="1272.8" r="5"/></g>
<g fill="#52f6f6" fill-opacity="0.7" stroke="#050808" stroke-opacity="0.74" stroke-width="3.4" stroke-linejoin="miter"><path d="M511.5 1382.2l7.6 7.6-7.6 7.6-7.6-7.6z"/></g>
<g fill="#f85656" fill-opacity="0.62" stroke="#080505" stroke-opacity="0.74" stroke-width="3.4"><circle cx="602.9" cy="1263.7" r="5.8"/></g>
<g fill="#52f6f6" fill-opacity="0.7" stroke="#050808" stroke-opacity="0.74" stroke-width="3.4" stroke-linejoin="miter"><path d="M503.4 1344.2l6.4 6.4-6.4 6.4-6.4-6.4z"/><path d="M486 1405l10.1 10.1-10.1 10.1-10.1-10.1z"/><path d="M412.2 1465.2l9.3 9.3-9.3 9.3-9.3-9.3z"/><path d="M273 1549.4l5.1 5.1-5.1 5.1-5.1-5.1z"/><path d="M459 1354.6l8.4 8.4-8.4 8.4-8.4-8.4z"/><path d="M443.2 1448.5l8.5 8.5-8.5 8.5-8.5-8.5z"/><path d="M550.6 1352.5l5 5-5 5-5-5z"/><path d="M396.6 1436l9.5 9.5-9.5 9.5-9.5-9.5z"/><path d="M362 1446.8l9.3 9.3-9.3 9.3-9.3-9.3z"/><path d="M409.4 1526.3l7.8 7.8-7.8 7.8-7.8-7.8z"/><path d="M347.3 1456.9l8.3 8.3-8.3 8.3-8.3-8.3z"/><path d="M475.7 1449l9.1 9.1-9.1 9.1-9.1-9.1z"/><path d="M376.7 1479.4l9.9 9.9-9.9 9.9-9.9-9.9z"/></g>
<g fill="#f85656" fill-opacity="0.62" stroke="#080505" stroke-opacity="0.74" stroke-width="3.4"><circle cx="607.1" cy="1296.2" r="4.9"/></g>
<g fill="#52f6f6" fill-opacity="0.7" stroke="#050808" stroke-opacity="0.74" stroke-width="3.4" stroke-linejoin="miter"><path d="M553.5 1348.5l5 5-5 5-5-5z"/><path d="M550.6 1448.3l5.4 5.4-5.4 5.4-5.4-5.4z"/><path d="M462.6 1329l8.2 8.2-8.2 8.2-8.2-8.2z"/><path d="M396.5 1428.6l10 10-10 10-10-10z"/><path d="M473.8 1483.7l7.3 7.3-7.3 7.3-7.3-7.3z"/><path d="M467.7 1411.7l10.5 10.5-10.5 10.5-10.5-10.5z"/><path d="M519.6 1358.4l7.6 7.6-7.6 7.6-7.6-7.6z"/><path d="M421.4 1432.3l10.3 10.3-10.3 10.3-10.3-10.3z"/><path d="M334.5 1437.1l9.4 9.4-9.4 9.4-9.4-9.4z"/><path d="M300.2 1540l5.8 5.8-5.8 5.8-5.8-5.8z"/><path d="M428.4 1404.6l9.3 9.3-9.3 9.3-9.3-9.3z"/><path d="M438.3 1490.5l8.5 8.5-8.5 8.5-8.5-8.5z"/><path d="M396.1 1391.5l9.3 9.3-9.3 9.3-9.3-9.3z"/><path d="M410.1 1509.5l7.6 7.6-7.6 7.6-7.6-7.6z"/><path d="M431.6 1498.7l7.1 7.1-7.1 7.1-7.1-7.1z"/><path d="M370.6 1473.9l8.9 8.9-8.9 8.9-8.9-8.9z"/><path d="M545 1382.7l7.1 7.1-7.1 7.1-7.1-7.1z"/><path d="M362.4 1426.7l9.4 9.4-9.4 9.4-9.4-9.4z"/></g>
<g fill="#f85656" fill-opacity="0.62" stroke="#080505" stroke-opacity="0.74" stroke-width="3.4"><circle cx="681.8" cy="1222.4" r="7"/><circle cx="678.6" cy="1238.7" r="6.5"/></g>
<g fill="#52f6f6" fill-opacity="0.7" stroke="#050808" stroke-opacity="0.74" stroke-width="3.4" stroke-linejoin="miter"><path d="M578.1 1372.4l6.2 6.2-6.2 6.2-6.2-6.2z"/><path d="M414.9 1480.8l10.1 10.1-10.1 10.1-10.1-10.1z"/><path d="M433.5 1370.7l10.4 10.4-10.4 10.4-10.4-10.4z"/><path d="M344.6 1472.5l9.6 9.6-9.6 9.6-9.6-9.6z"/><path d="M456.7 1411.7l10.3 10.3-10.3 10.3-10.3-10.3z"/><path d="M298.5 1558.1l5 5-5 5-5-5z"/><path d="M515.4 1346.8l6.8 6.8-6.8 6.8-6.8-6.8z"/><path d="M365 1445.1l7.8 7.8-7.8 7.8-7.8-7.8z"/><path d="M424.8 1369.8l8.6 8.6-8.6 8.6-8.6-8.6z"/></g>
<g fill="#f85656" fill-opacity="0.62" stroke="#080505" stroke-opacity="0.74" stroke-width="3.4"><circle cx="656" cy="1262.8" r="6.3"/></g>
<g fill="#52f6f6" fill-opacity="0.7" stroke="#050808" stroke-opacity="0.74" stroke-width="3.4" stroke-linejoin="miter"><path d="M317.5 1490.7l9.5 9.5-9.5 9.5-9.5-9.5z"/><path d="M306.4 1538.4l5.3 5.3-5.3 5.3-5.3-5.3z"/><path d="M542.9 1339.6l4.6 4.6-4.6 4.6-4.6-4.6z"/><path d="M421.8 1476.8l8.4 8.4-8.4 8.4-8.4-8.4z"/><path d="M408.7 1455.4l9.3 9.3-9.3 9.3-9.3-9.3z"/><path d="M496.4 1332l7.6 7.6-7.6 7.6-7.6-7.6z"/><path d="M481.9 1439.5l9.2 9.2-9.2 9.2-9.2-9.2z"/><path d="M335.2 1517.9l7.3 7.3-7.3 7.3-7.3-7.3z"/><path d="M327.6 1547.1l4.6 4.6-4.6 4.6-4.6-4.6z"/><path d="M528.5 1339.3l6.1 6.1-6.1 6.1-6.1-6.1z"/><path d="M405.3 1447.2l8.3 8.3-8.3 8.3-8.3-8.3z"/><path d="M509 1319.9l4.8 4.8-4.8 4.8-4.8-4.8z"/><path d="M508.5 1387.4l7.6 7.6-7.6 7.6-7.6-7.6z"/><path d="M517.4 1489.4l5.4 5.4-5.4 5.4-5.4-5.4z"/><path d="M368.1 1447.8l9.2 9.2-9.2 9.2-9.2-9.2z"/><path d="M515.4 1438.7l8.3 8.3-8.3 8.3-8.3-8.3z"/><path d="M357.2 1519.5l8.6 8.6-8.6 8.6-8.6-8.6z"/><path d="M426.6 1414.7l9.5 9.5-9.5 9.5-9.5-9.5z"/><path d="M453.8 1472.8l8.4 8.4-8.4 8.4-8.4-8.4z"/><path d="M381.4 1455.8l10.6 10.6-10.6 10.6-10.6-10.6z"/><path d="M463.9 1411.4l10.8 10.8-10.8 10.8-10.8-10.8z"/></g>
<g fill="#f85656" fill-opacity="0.62" stroke="#080505" stroke-opacity="0.74" stroke-width="3.4"><circle cx="586" cy="1331.6" r="2.7"/></g>
<g fill="#52f6f6" fill-opacity="0.7" stroke="#050808" stroke-opacity="0.74" stroke-width="3.4" stroke-linejoin="miter"><path d="M406.9 1451.9l8.4 8.4-8.4 8.4-8.4-8.4z"/><path d="M317.8 1508.9l9.4 9.4-9.4 9.4-9.4-9.4z"/><path d="M418.4 1497l8.1 8.1-8.1 8.1-8.1-8.1z"/><path d="M372 1503.8l9 9-9 9-9-9z"/><path d="M361.1 1475.2l8.6 8.6-8.6 8.6-8.6-8.6z"/><path d="M461.6 1498.9l8.1 8.1-8.1 8.1-8.1-8.1z"/><path d="M331.5 1487.7l7.7 7.7-7.7 7.7-7.7-7.7z"/><path d="M351.8 1453l9.4 9.4-9.4 9.4-9.4-9.4z"/><path d="M438.2 1468.1l9.7 9.7-9.7 9.7-9.7-9.7z"/><path d="M372.2 1469.4l10.5 10.5-10.5 10.5-10.5-10.5z"/><path d="M399.7 1386.2l8.7 8.7-8.7 8.7-8.7-8.7z"/><path d="M321.2 1479.1l8.4 8.4-8.4 8.4-8.4-8.4z"/><path d="M346 1431.6l8.2 8.2-8.2 8.2-8.2-8.2z"/><path d="M388.4 1462.2l10.4 10.4-10.4 10.4-10.4-10.4z"/></g>
<g fill="#f85656" fill-opacity="0.62" stroke="#080505" stroke-opacity="0.74" stroke-width="3.4"><circle cx="819.8" cy="1283" r="5"/></g>
<g fill="#52f6f6" fill-opacity="0.7" stroke="#050808" stroke-opacity="0.74" stroke-width="3.4" stroke-linejoin="miter"><path d="M434.1 1450.8l11.1 11.1-11.1 11.1-11.1-11.1z"/></g>
<g fill="#f85656" fill-opacity="0.62" stroke="#080505" stroke-opacity="0.74" stroke-width="3.4"><circle cx="610.5" cy="1323.1" r="3.8"/><circle cx="597.7" cy="1289.5" r="4.8"/><circle cx="686.3" cy="1208.8" r="7.5"/><circle cx="636.6" cy="1279.6" r="6"/></g>
<g fill="#52f6f6" fill-opacity="0.7" stroke="#050808" stroke-opacity="0.74" stroke-width="3.4" stroke-linejoin="miter"><path d="M350.9 1469.6l7.8 7.8-7.8 7.8-7.8-7.8z"/><path d="M294 1500.8l8.5 8.5-8.5 8.5-8.5-8.5z"/><path d="M312.6 1481.8l7.5 7.5-7.5 7.5-7.5-7.5z"/><path d="M452.4 1430.8l9.3 9.3-9.3 9.3-9.3-9.3z"/><path d="M575 1360.4l3.6 3.6-3.6 3.6-3.6-3.6z"/></g>
<g fill="#f85656" fill-opacity="0.62" stroke="#080505" stroke-opacity="0.74" stroke-width="3.4"><circle cx="730.2" cy="1197.5" r="7.2"/><circle cx="575.6" cy="1317.2" r="2.9"/></g>
<g fill="#52f6f6" fill-opacity="0.7" stroke="#050808" stroke-opacity="0.74" stroke-width="3.4" stroke-linejoin="miter"><path d="M311.7 1558.2l5 5-5 5-5-5z"/><path d="M335.5 1528.7l8.9 8.9-8.9 8.9-8.9-8.9z"/></g>
<g fill="#f85656" fill-opacity="0.62" stroke="#080505" stroke-opacity="0.74" stroke-width="3.4"><circle cx="564.4" cy="1316.9" r="2.7"/></g>
<g fill="#52f6f6" fill-opacity="0.7" stroke="#050808" stroke-opacity="0.74" stroke-width="3.4" stroke-linejoin="miter"><path d="M652.5 1415.2l3.3 3.3-3.3 3.3-3.3-3.3z"/><path d="M456.6 1475.7l7.9 7.9-7.9 7.9-7.9-7.9z"/><path d="M352.8 1432.9l8.1 8.1-8.1 8.1-8.1-8.1z"/><path d="M558.2 1362.7l6.2 6.2-6.2 6.2-6.2-6.2z"/><path d="M530.1 1381.4l9.3 9.3-9.3 9.3-9.3-9.3z"/><path d="M527.4 1379.5l6.6 6.6-6.6 6.6-6.6-6.6z"/><path d="M427.4 1446.6l10.8 10.8-10.8 10.8-10.8-10.8z"/><path d="M405.6 1384.9l8.7 8.7-8.7 8.7-8.7-8.7z"/><path d="M366.4 1485.9l8.2 8.2-8.2 8.2-8.2-8.2z"/><path d="M532 1313.1l3.9 3.9-3.9 3.9-3.9-3.9z"/><path d="M358.4 1528l5.6 5.6-5.6 5.6-5.6-5.6z"/><path d="M504.3 1343.7l6.3 6.3-6.3 6.3-6.3-6.3z"/><path d="M420 1368.7l7.9 7.9-7.9 7.9-7.9-7.9z"/><path d="M281 1517.9l7 7-7 7-7-7z"/><path d="M512.5 1391.1l9.6 9.6-9.6 9.6-9.6-9.6z"/><path d="M437.7 1405.3l11.1 11.1-11.1 11.1-11.1-11.1z"/><path d="M478.2 1355.2l9.7 9.7-9.7 9.7-9.7-9.7z"/><path d="M532.6 1318.6l4.1 4.1-4.1 4.1-4.1-4.1z"/><path d="M497.6 1363.2l8.9 8.9-8.9 8.9-8.9-8.9z"/><path d="M452.7 1477.8l8.6 8.6-8.6 8.6-8.6-8.6z"/><path d="M454.1 1441.5l10.8 10.8-10.8 10.8-10.8-10.8z"/><path d="M447.7 1446.3l8.7 8.7-8.7 8.7-8.7-8.7z"/><path d="M467.2 1382.1l9.6 9.6-9.6 9.6-9.6-9.6z"/></g>
<g fill="#f85656" fill-opacity="0.62" stroke="#080505" stroke-opacity="0.74" stroke-width="3.4"><circle cx="589.1" cy="1300.1" r="3.6"/></g>
<g fill="#52f6f6" fill-opacity="0.7" stroke="#050808" stroke-opacity="0.74" stroke-width="3.4" stroke-linejoin="miter"><path d="M351.5 1416l9.5 9.5-9.5 9.5-9.5-9.5z"/><path d="M342.9 1489.1l9.4 9.4-9.4 9.4-9.4-9.4z"/><path d="M551.9 1340.5l4.4 4.4-4.4 4.4-4.4-4.4z"/></g>
<g fill="#f85656" fill-opacity="0.62" stroke="#080505" stroke-opacity="0.74" stroke-width="3.4"><circle cx="623.9" cy="1287.4" r="5"/></g>
<g fill="#52f6f6" fill-opacity="0.7" stroke="#050808" stroke-opacity="0.74" stroke-width="3.4" stroke-linejoin="miter"><path d="M343.1 1520.5l8.8 8.8-8.8 8.8-8.8-8.8z"/><path d="M436 1435.3l10.8 10.8-10.8 10.8-10.8-10.8z"/><path d="M559.9 1382l7.7 7.7-7.7 7.7-7.7-7.7z"/><path d="M442.9 1439.9l10 10-10 10-10-10z"/><path d="M462.4 1415.3l10.5 10.5-10.5 10.5-10.5-10.5z"/><path d="M419.3 1456.4l8.9 8.9-8.9 8.9-8.9-8.9z"/><path d="M432.2 1481.8l7.4 7.4-7.4 7.4-7.4-7.4z"/><path d="M462 1404.4l8.6 8.6-8.6 8.6-8.6-8.6z"/><path d="M474.5 1411.2l8.7 8.7-8.7 8.7-8.7-8.7z"/><path d="M455.9 1427.3l10.2 10.2-10.2 10.2-10.2-10.2z"/><path d="M534.2 1341.9l6.2 6.2-6.2 6.2-6.2-6.2z"/><path d="M440 1460.1l9.6 9.6-9.6 9.6-9.6-9.6z"/><path d="M362.3 1443.4l9.7 9.7-9.7 9.7-9.7-9.7z"/><path d="M377.5 1463.7l8 8-8 8-8-8z"/><path d="M464.8 1462.5l9.6 9.6-9.6 9.6-9.6-9.6z"/><path d="M295.2 1480l7.9 7.9-7.9 7.9-7.9-7.9z"/><path d="M405.9 1461l10 10-10 10-10-10z"/><path d="M553.4 1363.5l5.9 5.9-5.9 5.9-5.9-5.9z"/><path d="M347 1454.9l9.5 9.5-9.5 9.5-9.5-9.5z"/></g>
<g fill="#f85656" fill-opacity="0.62" stroke="#080505" stroke-opacity="0.74" stroke-width="3.4"><circle cx="669.3" cy="1262.3" r="5.5"/></g>
<g fill="#52f6f6" fill-opacity="0.7" stroke="#050808" stroke-opacity="0.74" stroke-width="3.4" stroke-linejoin="miter"><path d="M413.9 1426.6l8.5 8.5-8.5 8.5-8.5-8.5z"/><path d="M447.9 1358.3l10.2 10.2-10.2 10.2-10.2-10.2z"/><path d="M520.9 1300l3.3 3.3-3.3 3.3-3.3-3.3z"/><path d="M419.7 1388.7l8.9 8.9-8.9 8.9-8.9-8.9z"/><path d="M457.8 1461.8l8.7 8.7-8.7 8.7-8.7-8.7z"/><path d="M338.4 1441.4l9.3 9.3-9.3 9.3-9.3-9.3z"/><path d="M525.7 1332.7l4.3 4.3-4.3 4.3-4.3-4.3z"/></g>
<g fill="#f85656" fill-opacity="0.62" stroke="#080505" stroke-opacity="0.74" stroke-width="3.4"><circle cx="579.4" cy="1297.8" r="3.6"/></g>
<g fill="#52f6f6" fill-opacity="0.7" stroke="#050808" stroke-opacity="0.74" stroke-width="3.4" stroke-linejoin="miter"><path d="M529.7 1340.2l6.3 6.3-6.3 6.3-6.3-6.3z"/></g>
<g fill="#f85656" fill-opacity="0.62" stroke="#080505" stroke-opacity="0.74" stroke-width="3.4"><circle cx="854.6" cy="1100.2" r="7"/></g>
<g fill="#52f6f6" fill-opacity="0.7" stroke="#050808" stroke-opacity="0.74" stroke-width="3.4" stroke-linejoin="miter"><path d="M338.1 1381.2l7.4 7.4-7.4 7.4-7.4-7.4z"/><path d="M403.2 1478.4l7.8 7.8-7.8 7.8-7.8-7.8z"/><path d="M489.1 1325.6l6.9 6.9-6.9 6.9-6.9-6.9z"/></g>
<g fill="#f85656" fill-opacity="0.62" stroke="#080505" stroke-opacity="0.74" stroke-width="3.4"><circle cx="589.7" cy="1337.1" r="2.7"/><circle cx="715.8" cy="1212.3" r="7"/></g>
<g fill="#52f6f6" fill-opacity="0.7" stroke="#050808" stroke-opacity="0.74" stroke-width="3.4" stroke-linejoin="miter"><path d="M344.1 1459.1l8.5 8.5-8.5 8.5-8.5-8.5z"/><path d="M504.5 1342.4l7.1 7.1-7.1 7.1-7.1-7.1z"/><path d="M492.6 1345l6.5 6.5-6.5 6.5-6.5-6.5z"/><path d="M522.6 1380.6l8.5 8.5-8.5 8.5-8.5-8.5z"/><path d="M374.9 1430.5l8 8-8 8-8-8z"/><path d="M351.8 1490l9.7 9.7-9.7 9.7-9.7-9.7z"/><path d="M370.3 1528.9l7.3 7.3-7.3 7.3-7.3-7.3z"/></g>
<g fill="#f85656" fill-opacity="0.62" stroke="#080505" stroke-opacity="0.74" stroke-width="3.4"><circle cx="636.6" cy="1297.2" r="5"/></g>
<g fill="#52f6f6" fill-opacity="0.7" stroke="#050808" stroke-opacity="0.74" stroke-width="3.4" stroke-linejoin="miter"><path d="M483.8 1356.6l6.9 6.9-6.9 6.9-6.9-6.9z"/><path d="M476.8 1434.1l9 9-9 9-9-9z"/><path d="M434.1 1424.1l10.9 10.9-10.9 10.9-10.9-10.9z"/><path d="M553.8 1383.3l6.4 6.4-6.4 6.4-6.4-6.4z"/><path d="M446 1423l8.8 8.8-8.8 8.8-8.8-8.8z"/><path d="M318.2 1368.8l8.6 8.6-8.6 8.6-8.6-8.6z"/><path d="M497.5 1330.9l5.4 5.4-5.4 5.4-5.4-5.4z"/><path d="M399.2 1550.4l6.9 6.9-6.9 6.9-6.9-6.9z"/><path d="M260.3 1455l6.9 6.9-6.9 6.9-6.9-6.9z"/><path d="M428.7 1434.6l8.4 8.4-8.4 8.4-8.4-8.4z"/><path d="M438 1411.4l9.1 9.1-9.1 9.1-9.1-9.1z"/><path d="M361 1476.5l9.6 9.6-9.6 9.6-9.6-9.6z"/></g>
<g fill="#f85656" fill-opacity="0.62" stroke="#080505" stroke-opacity="0.74" stroke-width="3.4"><circle cx="934.2" cy="1097.7" r="6.8"/></g>
<g fill="#52f6f6" fill-opacity="0.7" stroke="#050808" stroke-opacity="0.74" stroke-width="3.4" stroke-linejoin="miter"><path d="M473.8 1379.4l7.9 7.9-7.9 7.9-7.9-7.9z"/></g>
<g fill="#f85656" fill-opacity="0.62" stroke="#080505" stroke-opacity="0.74" stroke-width="3.4"><circle cx="586.7" cy="1267.6" r="5.5"/></g>
<g fill="#52f6f6" fill-opacity="0.7" stroke="#050808" stroke-opacity="0.74" stroke-width="3.4" stroke-linejoin="miter"><path d="M559.5 1370.5l5.8 5.8-5.8 5.8-5.8-5.8z"/><path d="M418.2 1374.2l11.1 11.1-11.1 11.1-11.1-11.1z"/><path d="M406.7 1412.2l9.9 9.9-9.9 9.9-9.9-9.9z"/><path d="M484.9 1369.4l7.7 7.7-7.7 7.7-7.7-7.7z"/><path d="M410.3 1443.2l8.7 8.7-8.7 8.7-8.7-8.7z"/><path d="M427.2 1439.8l11.1 11.1-11.1 11.1-11.1-11.1z"/></g>
<g fill="#f85656" fill-opacity="0.62" stroke="#080505" stroke-opacity="0.74" stroke-width="3.4"><circle cx="847.5" cy="1104.3" r="7"/></g>
<g fill="#52f6f6" fill-opacity="0.7" stroke="#050808" stroke-opacity="0.74" stroke-width="3.4" stroke-linejoin="miter"><path d="M375 1465.1l8.1 8.1-8.1 8.1-8.1-8.1z"/><path d="M400.4 1466.7l8.8 8.8-8.8 8.8-8.8-8.8z"/><path d="M346.4 1454.6l8.5 8.5-8.5 8.5-8.5-8.5z"/><path d="M507.5 1423.4l8.9 8.9-8.9 8.9-8.9-8.9z"/><path d="M483.4 1335.4l6.1 6.1-6.1 6.1-6.1-6.1z"/><path d="M414.3 1392.3l10.2 10.2-10.2 10.2-10.2-10.2z"/></g>
<g fill="#f85656" fill-opacity="0.62" stroke="#080505" stroke-opacity="0.74" stroke-width="3.4"><circle cx="795.7" cy="1107.9" r="7.1"/></g>
<g fill="#52f6f6" fill-opacity="0.7" stroke="#050808" stroke-opacity="0.74" stroke-width="3.4" stroke-linejoin="miter"><path d="M506.4 1481.9l5.4 5.4-5.4 5.4-5.4-5.4z"/></g>
<g fill="#f85656" fill-opacity="0.62" stroke="#080505" stroke-opacity="0.74" stroke-width="3.4"><circle cx="726.1" cy="1209.3" r="6.3"/></g>
<g fill="#52f6f6" fill-opacity="0.7" stroke="#050808" stroke-opacity="0.74" stroke-width="3.4" stroke-linejoin="miter"><path d="M376.6 1469.6l10.2 10.2-10.2 10.2-10.2-10.2z"/><path d="M435 1434.8l10.2 10.2-10.2 10.2-10.2-10.2z"/><path d="M329.7 1380.3l7.6 7.6-7.6 7.6-7.6-7.6z"/><path d="M417.5 1448l9.3 9.3-9.3 9.3-9.3-9.3z"/><path d="M529.1 1351.2l6.6 6.6-6.6 6.6-6.6-6.6z"/><path d="M430.8 1371.8l9.1 9.1-9.1 9.1-9.1-9.1z"/><path d="M305.5 1519.6l7.2 7.2-7.2 7.2-7.2-7.2z"/><path d="M283.1 1495.6l8.4 8.4-8.4 8.4-8.4-8.4z"/><path d="M535 1365l7.2 7.2-7.2 7.2-7.2-7.2z"/><path d="M467.7 1440.2l10.5 10.5-10.5 10.5-10.5-10.5z"/></g>
<g fill="#f85656" fill-opacity="0.62" stroke="#080505" stroke-opacity="0.74" stroke-width="3.4"><circle cx="579.6" cy="1277.7" r="5"/></g>
<g fill="#52f6f6" fill-opacity="0.7" stroke="#050808" stroke-opacity="0.74" stroke-width="3.4" stroke-linejoin="miter"><path d="M411.1 1481.2l8.5 8.5-8.5 8.5-8.5-8.5z"/></g>
<g fill="#f85656" fill-opacity="0.62" stroke="#080505" stroke-opacity="0.74" stroke-width="3.4"><circle cx="545.7" cy="1297.1" r="2.8"/><circle cx="579.2" cy="1299" r="3.5"/></g>
<g fill="#52f6f6" fill-opacity="0.7" stroke="#050808" stroke-opacity="0.74" stroke-width="3.4" stroke-linejoin="miter"><path d="M345.9 1443.7l7.9 7.9-7.9 7.9-7.9-7.9z"/><path d="M404.9 1462.3l10.3 10.3-10.3 10.3-10.3-10.3z"/><path d="M385.9 1425.1l10.9 10.9-10.9 10.9-10.9-10.9z"/></g>
<g fill="#f85656" fill-opacity="0.62" stroke="#080505" stroke-opacity="0.74" stroke-width="3.4"><circle cx="608.6" cy="1270.3" r="6.1"/></g>
<g fill="#52f6f6" fill-opacity="0.7" stroke="#050808" stroke-opacity="0.74" stroke-width="3.4" stroke-linejoin="miter"><path d="M440.2 1371l10.5 10.5-10.5 10.5-10.5-10.5z"/><path d="M362.6 1467.9l9.9 9.9-9.9 9.9-9.9-9.9z"/><path d="M508.5 1345.1l6.8 6.8-6.8 6.8-6.8-6.8z"/><path d="M470.3 1330.5l6.9 6.9-6.9 6.9-6.9-6.9z"/><path d="M518.5 1325.7l5.5 5.5-5.5 5.5-5.5-5.5z"/><path d="M359.4 1531.6l8.5 8.5-8.5 8.5-8.5-8.5z"/><path d="M440.9 1475.5l7.7 7.7-7.7 7.7-7.7-7.7z"/><path d="M424.3 1513.2l6.8 6.8-6.8 6.8-6.8-6.8z"/><path d="M484.1 1383.1l10.3 10.3-10.3 10.3-10.3-10.3z"/><path d="M502 1361.5l6.9 6.9-6.9 6.9-6.9-6.9z"/><path d="M457.6 1445.8l10 10-10 10-10-10z"/><path d="M360.5 1456l10.5 10.5-10.5 10.5-10.5-10.5z"/><path d="M529.7 1328.1l4.3 4.3-4.3 4.3-4.3-4.3z"/><path d="M482 1519.9l4.8 4.8-4.8 4.8-4.8-4.8z"/><path d="M507.8 1467.2l7.1 7.1-7.1 7.1-7.1-7.1z"/><path d="M551.9 1315.9l3.3 3.3-3.3 3.3-3.3-3.3z"/><path d="M434.1 1454l10.5 10.5-10.5 10.5-10.5-10.5z"/><path d="M354.5 1375.8l6 6-6 6-6-6z"/><path d="M445.7 1383.7l9.6 9.6-9.6 9.6-9.6-9.6z"/><path d="M369 1403.3l8 8-8 8-8-8z"/><path d="M501.7 1350.5l6.5 6.5-6.5 6.5-6.5-6.5z"/><path d="M393.2 1384.9l9.4 9.4-9.4 9.4-9.4-9.4z"/><path d="M399.4 1460.2l10.5 10.5-10.5 10.5-10.5-10.5z"/><path d="M428.4 1460.3l8.7 8.7-8.7 8.7-8.7-8.7z"/><path d="M259.1 1525.4l4.6 4.6-4.6 4.6-4.6-4.6z"/><path d="M369.3 1476.9l9 9-9 9-9-9z"/><path d="M453.8 1513.7l7.4 7.4-7.4 7.4-7.4-7.4z"/><path d="M442.5 1511l7.3 7.3-7.3 7.3-7.3-7.3z"/><path d="M286.6 1539.4l6.7 6.7-6.7 6.7-6.7-6.7z"/><path d="M357.3 1413.9l9.6 9.6-9.6 9.6-9.6-9.6z"/><path d="M460 1478.9l8.3 8.3-8.3 8.3-8.3-8.3z"/><path d="M434.5 1408.6l9.7 9.7-9.7 9.7-9.7-9.7z"/><path d="M418.2 1383.1l10.4 10.4-10.4 10.4-10.4-10.4z"/><path d="M345.3 1418.9l9.4 9.4-9.4 9.4-9.4-9.4z"/><path d="M322.5 1451.8l9.2 9.2-9.2 9.2-9.2-9.2z"/><path d="M459.8 1439.1l9.9 9.9-9.9 9.9-9.9-9.9z"/><path d="M405 1439.7l10.3 10.3-10.3 10.3-10.3-10.3z"/><path d="M432.8 1399.5l10.2 10.2-10.2 10.2-10.2-10.2z"/><path d="M546 1354.1l5.8 5.8-5.8 5.8-5.8-5.8z"/><path d="M543.6 1349.3l4.5 4.5-4.5 4.5-4.5-4.5z"/><path d="M390.8 1444.7l8.3 8.3-8.3 8.3-8.3-8.3z"/><path d="M361.3 1490.6l8.4 8.4-8.4 8.4-8.4-8.4z"/><path d="M447.7 1381.8l8.2 8.2-8.2 8.2-8.2-8.2z"/><path d="M327.7 1452.5l9.1 9.1-9.1 9.1-9.1-9.1z"/><path d="M495.5 1342.6l6.3 6.3-6.3 6.3-6.3-6.3z"/><path d="M452.1 1379.8l9.3 9.3-9.3 9.3-9.3-9.3z"/><path d="M393.2 1379.2l8.7 8.7-8.7 8.7-8.7-8.7z"/><path d="M476.9 1457.3l7.9 7.9-7.9 7.9-7.9-7.9z"/><path d="M414 1390.9l9.6 9.6-9.6 9.6-9.6-9.6z"/><path d="M337.5 1472.6l8.7 8.7-8.7 8.7-8.7-8.7z"/><path d="M414 1425.1l8.8 8.8-8.8 8.8-8.8-8.8z"/><path d="M409.2 1450.9l9.1 9.1-9.1 9.1-9.1-9.1z"/><path d="M396.1 1439.5l8.3 8.3-8.3 8.3-8.3-8.3z"/><path d="M354.2 1471l7.9 7.9-7.9 7.9-7.9-7.9z"/><path d="M345.3 1489.7l8.6 8.6-8.6 8.6-8.6-8.6z"/><path d="M328.1 1469.6l8.8 8.8-8.8 8.8-8.8-8.8z"/><path d="M330.4 1444.3l9.3 9.3-9.3 9.3-9.3-9.3z"/><path d="M344.3 1441.9l9.7 9.7-9.7 9.7-9.7-9.7z"/><path d="M433.7 1430l10.1 10.1-10.1 10.1-10.1-10.1z"/><path d="M487.3 1388.9l10.9 10.9-10.9 10.9-10.9-10.9z"/></g>
<g fill="#f85656" fill-opacity="0.62" stroke="#080505" stroke-opacity="0.74" stroke-width="3.4"><circle cx="583.8" cy="1325.9" r="2.7"/><circle cx="570.2" cy="1284.4" r="3.9"/></g>
<g fill="#52f6f6" fill-opacity="0.7" stroke="#050808" stroke-opacity="0.74" stroke-width="3.4" stroke-linejoin="miter"><path d="M340.5 1482.8l9.6 9.6-9.6 9.6-9.6-9.6z"/><path d="M433 1473.4l8.8 8.8-8.8 8.8-8.8-8.8z"/><path d="M430.4 1422.9l8.6 8.6-8.6 8.6-8.6-8.6z"/><path d="M465.7 1354.6l8.6 8.6-8.6 8.6-8.6-8.6z"/><path d="M346.1 1493.5l9.5 9.5-9.5 9.5-9.5-9.5z"/><path d="M518.1 1370.2l6.8 6.8-6.8 6.8-6.8-6.8z"/><path d="M404 1501.5l8.8 8.8-8.8 8.8-8.8-8.8z"/></g>
<g fill="#f85656" fill-opacity="0.62" stroke="#080505" stroke-opacity="0.74" stroke-width="3.4"><circle cx="630.2" cy="1342" r="3"/></g>
<g fill="#52f6f6" fill-opacity="0.7" stroke="#050808" stroke-opacity="0.74" stroke-width="3.4" stroke-linejoin="miter"><path d="M489.1 1375.7l9 9-9 9-9-9z"/><path d="M347.9 1495.6l7.5 7.5-7.5 7.5-7.5-7.5z"/></g>
<g fill="#f85656" fill-opacity="0.62" stroke="#080505" stroke-opacity="0.74" stroke-width="3.4"><circle cx="625" cy="1284.7" r="5.1"/></g>
<g fill="#52f6f6" fill-opacity="0.7" stroke="#050808" stroke-opacity="0.74" stroke-width="3.4" stroke-linejoin="miter"><path d="M351.6 1422.9l9.6 9.6-9.6 9.6-9.6-9.6z"/><path d="M311.8 1535.4l7.8 7.8-7.8 7.8-7.8-7.8z"/><path d="M495.9 1438.9l7.4 7.4-7.4 7.4-7.4-7.4z"/><path d="M450 1456l10.3 10.3-10.3 10.3-10.3-10.3z"/></g>
<g fill="#f85656" fill-opacity="0.62" stroke="#080505" stroke-opacity="0.74" stroke-width="3.4"><circle cx="584.1" cy="1268.8" r="4.5"/></g>
<g fill="#52f6f6" fill-opacity="0.7" stroke="#050808" stroke-opacity="0.74" stroke-width="3.4" stroke-linejoin="miter"><path d="M532.3 1337.2l5 5-5 5-5-5z"/><path d="M536.4 1365.7l6.2 6.2-6.2 6.2-6.2-6.2z"/><path d="M377.4 1488l8 8-8 8-8-8z"/><path d="M386.1 1451.3l8.2 8.2-8.2 8.2-8.2-8.2z"/><path d="M417.2 1372.5l8.4 8.4-8.4 8.4-8.4-8.4z"/><path d="M579.7 1447.8l6 6-6 6-6-6z"/><path d="M342.4 1389.7l8 8-8 8-8-8z"/><path d="M555 1363.2l4.8 4.8-4.8 4.8-4.8-4.8z"/><path d="M359 1497.9l8.1 8.1-8.1 8.1-8.1-8.1z"/><path d="M372.7 1441.9l10.3 10.3-10.3 10.3-10.3-10.3z"/><path d="M437.1 1492.1l7.8 7.8-7.8 7.8-7.8-7.8z"/><path d="M496.9 1371.8l9.2 9.2-9.2 9.2-9.2-9.2z"/><path d="M379 1459.2l9.7 9.7-9.7 9.7-9.7-9.7z"/><path d="M420.2 1457.2l10.6 10.6-10.6 10.6-10.6-10.6z"/><path d="M328.7 1471.3l7.3 7.3-7.3 7.3-7.3-7.3z"/><path d="M401.5 1441.2l8.4 8.4-8.4 8.4-8.4-8.4z"/><path d="M487 1396.7l9.9 9.9-9.9 9.9-9.9-9.9z"/><path d="M516 1344l5.4 5.4-5.4 5.4-5.4-5.4z"/><path d="M541.3 1337.4l5.5 5.5-5.5 5.5-5.5-5.5z"/></g>
<g fill="#f85656" fill-opacity="0.62" stroke="#080505" stroke-opacity="0.74" stroke-width="3.4"><circle cx="557.6" cy="1311" r="2.7"/></g>
<g fill="#52f6f6" fill-opacity="0.7" stroke="#050808" stroke-opacity="0.74" stroke-width="3.4" stroke-linejoin="miter"><path d="M295.7 1506.4l8.9 8.9-8.9 8.9-8.9-8.9z"/><path d="M326.5 1503.5l7.6 7.6-7.6 7.6-7.6-7.6z"/><path d="M424.6 1418.4l9.3 9.3-9.3 9.3-9.3-9.3z"/><path d="M525.2 1318.2l3.5 3.5-3.5 3.5-3.5-3.5z"/><path d="M377 1454.5l9 9-9 9-9-9z"/><path d="M408.1 1516.3l7.7 7.7-7.7 7.7-7.7-7.7z"/><path d="M251.8 1413.8l6.2 6.2-6.2 6.2-6.2-6.2z"/><path d="M460.8 1414.4l9.1 9.1-9.1 9.1-9.1-9.1z"/></g>
<g fill="#f85656" fill-opacity="0.62" stroke="#080505" stroke-opacity="0.74" stroke-width="3.4"><circle cx="867.7" cy="1137.6" r="7"/></g>
<g fill="#52f6f6" fill-opacity="0.7" stroke="#050808" stroke-opacity="0.74" stroke-width="3.4" stroke-linejoin="miter"><path d="M326.3 1511l8.4 8.4-8.4 8.4-8.4-8.4z"/><path d="M464.6 1429.3l10.8 10.8-10.8 10.8-10.8-10.8z"/></g>
<g fill="#f85656" fill-opacity="0.62" stroke="#080505" stroke-opacity="0.74" stroke-width="3.4"><circle cx="740.8" cy="1188.3" r="7.2"/></g>
<g fill="#52f6f6" fill-opacity="0.7" stroke="#050808" stroke-opacity="0.74" stroke-width="3.4" stroke-linejoin="miter"><path d="M251.8 1470.5l5.6 5.6-5.6 5.6-5.6-5.6z"/><path d="M389.9 1455.1l9 9-9 9-9-9z"/><path d="M371.4 1473.9l10.2 10.2-10.2 10.2-10.2-10.2z"/><path d="M477.3 1490.7l7.4 7.4-7.4 7.4-7.4-7.4z"/><path d="M257.3 1443.9l6 6-6 6-6-6z"/><path d="M450.6 1435.5l9.5 9.5-9.5 9.5-9.5-9.5z"/><path d="M546.1 1355.6l6.2 6.2-6.2 6.2-6.2-6.2z"/></g>
<g fill="#f85656" fill-opacity="0.62" stroke="#080505" stroke-opacity="0.74" stroke-width="3.4"><circle cx="563.6" cy="1322.2" r="2.7"/></g>
<g fill="#52f6f6" fill-opacity="0.7" stroke="#050808" stroke-opacity="0.74" stroke-width="3.4" stroke-linejoin="miter"><path d="M441.8 1381.6l10.1 10.1-10.1 10.1-10.1-10.1z"/><path d="M555.6 1339l3.5 3.5-3.5 3.5-3.5-3.5z"/><path d="M439.8 1458.6l8.5 8.5-8.5 8.5-8.5-8.5z"/><path d="M482.9 1406l9.5 9.5-9.5 9.5-9.5-9.5z"/><path d="M383.1 1477.9l9.4 9.4-9.4 9.4-9.4-9.4z"/><path d="M488.2 1339.8l6.8 6.8-6.8 6.8-6.8-6.8z"/><path d="M375.7 1488l9.1 9.1-9.1 9.1-9.1-9.1z"/></g>
<g fill="#f85656" fill-opacity="0.62" stroke="#080505" stroke-opacity="0.74" stroke-width="3.4"><circle cx="760.9" cy="1166.8" r="7"/></g>
<g fill="#52f6f6" fill-opacity="0.7" stroke="#050808" stroke-opacity="0.74" stroke-width="3.4" stroke-linejoin="miter"><path d="M522.8 1328.8l5.6 5.6-5.6 5.6-5.6-5.6z"/></g>
<g fill="#f85656" fill-opacity="0.62" stroke="#080505" stroke-opacity="0.74" stroke-width="3.4"><circle cx="681" cy="1255.5" r="6"/></g>
<g fill="#52f6f6" fill-opacity="0.7" stroke="#050808" stroke-opacity="0.74" stroke-width="3.4" stroke-linejoin="miter"><path d="M541.8 1440l6.2 6.2-6.2 6.2-6.2-6.2z"/><path d="M490.5 1376.9l10.6 10.6-10.6 10.6-10.6-10.6z"/></g>
<g fill="#f85656" fill-opacity="0.62" stroke="#080505" stroke-opacity="0.74" stroke-width="3.4"><circle cx="535.1" cy="1288.6" r="2.7"/></g>
<g fill="#52f6f6" fill-opacity="0.7" stroke="#050808" stroke-opacity="0.74" stroke-width="3.4" stroke-linejoin="miter"><path d="M450.2 1471.3l9.9 9.9-9.9 9.9-9.9-9.9z"/><path d="M376.1 1465l9.9 9.9-9.9 9.9-9.9-9.9z"/><path d="M321 1466.1l8 8-8 8-8-8z"/><path d="M350.2 1462.2l8.4 8.4-8.4 8.4-8.4-8.4z"/><path d="M425.2 1496.6l8.7 8.7-8.7 8.7-8.7-8.7z"/></g>
<g fill="#f85656" fill-opacity="0.62" stroke="#080505" stroke-opacity="0.74" stroke-width="3.4"><circle cx="660.2" cy="1260.4" r="6.7"/><circle cx="655.6" cy="1222" r="7.2"/><circle cx="631.7" cy="1283.1" r="5.5"/></g>
<g fill="#52f6f6" fill-opacity="0.7" stroke="#050808" stroke-opacity="0.74" stroke-width="3.4" stroke-linejoin="miter"><path d="M399.1 1433.7l9.4 9.4-9.4 9.4-9.4-9.4z"/><path d="M421.4 1387.3l9.5 9.5-9.5 9.5-9.5-9.5z"/><path d="M544.2 1387.9l7.1 7.1-7.1 7.1-7.1-7.1z"/><path d="M561.2 1344.1l4.2 4.2-4.2 4.2-4.2-4.2z"/><path d="M539.1 1315.2l3.3 3.3-3.3 3.3-3.3-3.3z"/><path d="M312.6 1391.7l7.4 7.4-7.4 7.4-7.4-7.4z"/></g>
<g fill="#f85656" fill-opacity="0.62" stroke="#080505" stroke-opacity="0.74" stroke-width="3.4"><circle cx="584.1" cy="1225.6" r="6.4"/></g>
<g fill="#52f6f6" fill-opacity="0.7" stroke="#050808" stroke-opacity="0.74" stroke-width="3.4" stroke-linejoin="miter"><path d="M532.6 1338.6l4.9 4.9-4.9 4.9-4.9-4.9z"/><path d="M520.1 1346.1l5.7 5.7-5.7 5.7-5.7-5.7z"/><path d="M255.1 1375.2l7.4 7.4-7.4 7.4-7.4-7.4z"/><path d="M556.2 1380.2l6.2 6.2-6.2 6.2-6.2-6.2z"/><path d="M472.4 1456.9l9.7 9.7-9.7 9.7-9.7-9.7z"/><path d="M430.5 1427.1l10.5 10.5-10.5 10.5-10.5-10.5z"/><path d="M453.2 1370.5l10.3 10.3-10.3 10.3-10.3-10.3z"/><path d="M550.8 1320.2l3.3 3.3-3.3 3.3-3.3-3.3z"/><path d="M519.2 1347.7l7.1 7.1-7.1 7.1-7.1-7.1z"/><path d="M438.4 1420.3l10.6 10.6-10.6 10.6-10.6-10.6z"/><path d="M427.1 1419.7l10.5 10.5-10.5 10.5-10.5-10.5z"/><path d="M413.4 1425l11.1 11.1-11.1 11.1-11.1-11.1z"/><path d="M519.7 1338.5l5.1 5.1-5.1 5.1-5.1-5.1z"/><path d="M425.7 1359.6l7.5 7.5-7.5 7.5-7.5-7.5z"/><path d="M497.5 1284.4l3.3 3.3-3.3 3.3-3.3-3.3z"/></g>
<g fill="#f85656" fill-opacity="0.62" stroke="#080505" stroke-opacity="0.74" stroke-width="3.4"><circle cx="597.3" cy="1223.6" r="7"/></g>
<g fill="#52f6f6" fill-opacity="0.7" stroke="#050808" stroke-opacity="0.74" stroke-width="3.4" stroke-linejoin="miter"><path d="M416.5 1469.5l9 9-9 9-9-9z"/><path d="M378.6 1400.3l8.3 8.3-8.3 8.3-8.3-8.3z"/></g>
<g fill="#f85656" fill-opacity="0.62" stroke="#080505" stroke-opacity="0.74" stroke-width="3.4"><circle cx="660.3" cy="1274.7" r="6.1"/></g>
<g fill="#52f6f6" fill-opacity="0.7" stroke="#050808" stroke-opacity="0.74" stroke-width="3.4" stroke-linejoin="miter"><path d="M352.6 1496.9l9.1 9.1-9.1 9.1-9.1-9.1z"/><path d="M526.3 1368.6l7.6 7.6-7.6 7.6-7.6-7.6z"/><path d="M562.7 1331.3l3.3 3.3-3.3 3.3-3.3-3.3z"/><path d="M451.6 1486.5l8.8 8.8-8.8 8.8-8.8-8.8z"/><path d="M468.6 1367.2l10.3 10.3-10.3 10.3-10.3-10.3z"/><path d="M394.3 1497.2l9.5 9.5-9.5 9.5-9.5-9.5z"/><path d="M586.6 1378.7l4.6 4.6-4.6 4.6-4.6-4.6z"/></g>
<g fill="#f85656" fill-opacity="0.62" stroke="#080505" stroke-opacity="0.74" stroke-width="3.4"><circle cx="727.9" cy="1225.2" r="6.6"/></g>
<g fill="#52f6f6" fill-opacity="0.7" stroke="#050808" stroke-opacity="0.74" stroke-width="3.4" stroke-linejoin="miter"><path d="M442.2 1465.9l9.9 9.9-9.9 9.9-9.9-9.9z"/><path d="M282.3 1567.6l4.6 4.6-4.6 4.6-4.6-4.6z"/></g>
<g fill="#f85656" fill-opacity="0.62" stroke="#080505" stroke-opacity="0.74" stroke-width="3.4"><circle cx="570.6" cy="1304.5" r="3.2"/></g>
<g fill="#52f6f6" fill-opacity="0.7" stroke="#050808" stroke-opacity="0.74" stroke-width="3.4" stroke-linejoin="miter"><path d="M391.9 1514l7.5 7.5-7.5 7.5-7.5-7.5z"/><path d="M482.7 1388.4l8.4 8.4-8.4 8.4-8.4-8.4z"/></g>
<g fill="#f85656" fill-opacity="0.62" stroke="#080505" stroke-opacity="0.74" stroke-width="3.4"><circle cx="536.6" cy="1296.7" r="2.7"/></g>
<g fill="#52f6f6" fill-opacity="0.7" stroke="#050808" stroke-opacity="0.74" stroke-width="3.4" stroke-linejoin="miter"><path d="M375.6 1512.7l7.8 7.8-7.8 7.8-7.8-7.8z"/></g>
<g fill="#f85656" fill-opacity="0.62" stroke="#080505" stroke-opacity="0.74" stroke-width="3.4"><circle cx="587" cy="1327" r="3"/></g>
<g fill="#52f6f6" fill-opacity="0.7" stroke="#050808" stroke-opacity="0.74" stroke-width="3.4" stroke-linejoin="miter"><path d="M352.8 1461.8l8.3 8.3-8.3 8.3-8.3-8.3z"/><path d="M334.8 1421.9l8.6 8.6-8.6 8.6-8.6-8.6z"/><path d="M463.6 1408.8l10.6 10.6-10.6 10.6-10.6-10.6z"/><path d="M529.5 1455.8l7.8 7.8-7.8 7.8-7.8-7.8z"/><path d="M552.9 1402.4l6.4 6.4-6.4 6.4-6.4-6.4z"/><path d="M329.8 1416l6.6 6.6-6.6 6.6-6.6-6.6z"/><path d="M383.5 1476.8l7.9 7.9-7.9 7.9-7.9-7.9z"/></g>
<g fill="#f85656" fill-opacity="0.62" stroke="#080505" stroke-opacity="0.74" stroke-width="3.4"><circle cx="559.7" cy="1291.5" r="3.5"/></g>
<g fill="#52f6f6" fill-opacity="0.7" stroke="#050808" stroke-opacity="0.74" stroke-width="3.4" stroke-linejoin="miter"><path d="M352.9 1465.8l8.3 8.3-8.3 8.3-8.3-8.3z"/><path d="M385.3 1455.3l9.7 9.7-9.7 9.7-9.7-9.7z"/><path d="M318.9 1528.9l6.8 6.8-6.8 6.8-6.8-6.8z"/></g>
<g fill="#f85656" fill-opacity="0.62" stroke="#080505" stroke-opacity="0.74" stroke-width="3.4"><circle cx="776" cy="1163.7" r="7.2"/></g>
<g fill="#52f6f6" fill-opacity="0.7" stroke="#050808" stroke-opacity="0.74" stroke-width="3.4" stroke-linejoin="miter"><path d="M360.6 1412.6l9.8 9.8-9.8 9.8-9.8-9.8z"/></g>
<g fill="#f85656" fill-opacity="0.62" stroke="#080505" stroke-opacity="0.74" stroke-width="3.4"><circle cx="542.6" cy="1285.9" r="3.3"/></g>
<g fill="#52f6f6" fill-opacity="0.7" stroke="#050808" stroke-opacity="0.74" stroke-width="3.4" stroke-linejoin="miter"><path d="M343 1507.8l8.3 8.3-8.3 8.3-8.3-8.3z"/><path d="M426.2 1459.7l9.6 9.6-9.6 9.6-9.6-9.6z"/><path d="M368.3 1484l9.4 9.4-9.4 9.4-9.4-9.4z"/><path d="M356.7 1416.6l9.1 9.1-9.1 9.1-9.1-9.1z"/><path d="M381.8 1484.6l9.2 9.2-9.2 9.2-9.2-9.2z"/><path d="M405.5 1495.2l8.8 8.8-8.8 8.8-8.8-8.8z"/><path d="M546.9 1322.6l3.7 3.7-3.7 3.7-3.7-3.7z"/><path d="M481.4 1400.4l10.1 10.1-10.1 10.1-10.1-10.1z"/></g>
<g fill="#f85656" fill-opacity="0.62" stroke="#080505" stroke-opacity="0.74" stroke-width="3.4"><circle cx="746.9" cy="1166.8" r="7"/></g>
<g fill="#52f6f6" fill-opacity="0.7" stroke="#050808" stroke-opacity="0.74" stroke-width="3.4" stroke-linejoin="miter"><path d="M496.4 1434l7.8 7.8-7.8 7.8-7.8-7.8z"/><path d="M396.5 1417.8l9.5 9.5-9.5 9.5-9.5-9.5z"/><path d="M342.5 1599.8l3.4 3.4-3.4 3.4-3.4-3.4z"/><path d="M341.4 1449.2l8.9 8.9-8.9 8.9-8.9-8.9z"/><path d="M358.3 1519.9l9 9-9 9-9-9z"/><path d="M476.7 1392l11.2 11.2-11.2 11.2-11.2-11.2z"/><path d="M550.8 1337.8l4.5 4.5-4.5 4.5-4.5-4.5z"/><path d="M496.4 1383.7l9.6 9.6-9.6 9.6-9.6-9.6z"/><path d="M478.1 1348.9l7.2 7.2-7.2 7.2-7.2-7.2z"/><path d="M315 1505.4l9.3 9.3-9.3 9.3-9.3-9.3z"/></g>
<g fill="#f85656" fill-opacity="0.62" stroke="#080505" stroke-opacity="0.74" stroke-width="3.4"><circle cx="543.3" cy="1285.1" r="3.5"/></g>
<g fill="#52f6f6" fill-opacity="0.7" stroke="#050808" stroke-opacity="0.74" stroke-width="3.4" stroke-linejoin="miter"><path d="M589.4 1353.2l3.3 3.3-3.3 3.3-3.3-3.3z"/><path d="M514.2 1293.5l3.4 3.4-3.4 3.4-3.4-3.4z"/><path d="M472.1 1425.6l10.1 10.1-10.1 10.1-10.1-10.1z"/><path d="M379.9 1394.7l9.8 9.8-9.8 9.8-9.8-9.8z"/><path d="M520.3 1318.6l4.2 4.2-4.2 4.2-4.2-4.2z"/><path d="M318.6 1448l8 8-8 8-8-8z"/></g>
<g fill="#f85656" fill-opacity="0.62" stroke="#080505" stroke-opacity="0.74" stroke-width="3.4"><circle cx="679" cy="1268.7" r="6.4"/></g>
<g fill="#52f6f6" fill-opacity="0.7" stroke="#050808" stroke-opacity="0.74" stroke-width="3.4" stroke-linejoin="miter"><path d="M400.6 1495.3l7.5 7.5-7.5 7.5-7.5-7.5z"/><path d="M469.8 1347.3l7.6 7.6-7.6 7.6-7.6-7.6z"/><path d="M547.3 1375.7l5.7 5.7-5.7 5.7-5.7-5.7z"/><path d="M552.9 1326.8l3.7 3.7-3.7 3.7-3.7-3.7z"/><path d="M293.5 1494.8l7.6 7.6-7.6 7.6-7.6-7.6z"/><path d="M402.6 1500.4l8.9 8.9-8.9 8.9-8.9-8.9z"/><path d="M395.5 1516l7.7 7.7-7.7 7.7-7.7-7.7z"/></g>
<g fill="#f85656" fill-opacity="0.62" stroke="#080505" stroke-opacity="0.74" stroke-width="3.4"><circle cx="578.2" cy="1308.3" r="3.6"/><circle cx="754.4" cy="1277.3" r="6.4"/></g>
<g fill="#52f6f6" fill-opacity="0.7" stroke="#050808" stroke-opacity="0.74" stroke-width="3.4" stroke-linejoin="miter"><path d="M469.3 1441.4l9.4 9.4-9.4 9.4-9.4-9.4z"/><path d="M542.4 1374.5l6.4 6.4-6.4 6.4-6.4-6.4z"/><path d="M454.2 1390.1l8.9 8.9-8.9 8.9-8.9-8.9z"/><path d="M434.8 1414.4l10.1 10.1-10.1 10.1-10.1-10.1z"/><path d="M380.8 1472.3l9.9 9.9-9.9 9.9-9.9-9.9z"/><path d="M543.4 1396.7l9.2 9.2-9.2 9.2-9.2-9.2z"/><path d="M340 1460.9l7.5 7.5-7.5 7.5-7.5-7.5z"/><path d="M411.9 1493l7.9 7.9-7.9 7.9-7.9-7.9z"/><path d="M309.1 1505.4l7.2 7.2-7.2 7.2-7.2-7.2z"/><path d="M491.8 1403.7l10.8 10.8-10.8 10.8-10.8-10.8z"/><path d="M412.1 1488.4l8.6 8.6-8.6 8.6-8.6-8.6z"/><path d="M561.4 1356.1l5.1 5.1-5.1 5.1-5.1-5.1z"/><path d="M353.9 1508.8l8.3 8.3-8.3 8.3-8.3-8.3z"/><path d="M372.7 1437.1l10 10-10 10-10-10z"/></g>
<g fill="#f85656" fill-opacity="0.62" stroke="#080505" stroke-opacity="0.74" stroke-width="3.4"><circle cx="651.7" cy="1286.6" r="5.7"/><circle cx="737.2" cy="1220.5" r="6.5"/></g>
<g fill="#52f6f6" fill-opacity="0.7" stroke="#050808" stroke-opacity="0.74" stroke-width="3.4" stroke-linejoin="miter"><path d="M413.8 1391.8l10.9 10.9-10.9 10.9-10.9-10.9z"/><path d="M336.1 1390.3l6.8 6.8-6.8 6.8-6.8-6.8z"/><path d="M392.1 1451.2l10.2 10.2-10.2 10.2-10.2-10.2z"/><path d="M310.3 1514.9l7.5 7.5-7.5 7.5-7.5-7.5z"/><path d="M495.2 1384.5l8.3 8.3-8.3 8.3-8.3-8.3z"/><path d="M354.8 1450.3l8.8 8.8-8.8 8.8-8.8-8.8z"/><path d="M355 1481.1l9.1 9.1-9.1 9.1-9.1-9.1z"/><path d="M483.5 1457.2l8.8 8.8-8.8 8.8-8.8-8.8z"/><path d="M319.4 1475.8l8.8 8.8-8.8 8.8-8.8-8.8z"/><path d="M492.2 1335.1l6.7 6.7-6.7 6.7-6.7-6.7z"/></g>
<g fill="#f85656" fill-opacity="0.62" stroke="#080505" stroke-opacity="0.74" stroke-width="3.4"><circle cx="613.1" cy="1324.7" r="3.4"/></g>
<g fill="#52f6f6" fill-opacity="0.7" stroke="#050808" stroke-opacity="0.74" stroke-width="3.4" stroke-linejoin="miter"><path d="M324.6 1511.1l9.4 9.4-9.4 9.4-9.4-9.4z"/><path d="M518.8 1355.2l6.4 6.4-6.4 6.4-6.4-6.4z"/></g>
<g fill="#f85656" fill-opacity="0.62" stroke="#080505" stroke-opacity="0.74" stroke-width="3.4"><circle cx="567.9" cy="1318.9" r="2.7"/></g>
<g fill="#52f6f6" fill-opacity="0.7" stroke="#050808" stroke-opacity="0.74" stroke-width="3.4" stroke-linejoin="miter"><path d="M445.1 1461l10.1 10.1-10.1 10.1-10.1-10.1z"/><path d="M529.6 1331.9l4.4 4.4-4.4 4.4-4.4-4.4z"/></g>
<g fill="#f85656" fill-opacity="0.62" stroke="#080505" stroke-opacity="0.74" stroke-width="3.4"><circle cx="588.6" cy="1317.4" r="2.9"/></g>
<g fill="#52f6f6" fill-opacity="0.7" stroke="#050808" stroke-opacity="0.74" stroke-width="3.4" stroke-linejoin="miter"><path d="M377.9 1414.3l10.3 10.3-10.3 10.3-10.3-10.3z"/><path d="M441.7 1412.8l9.9 9.9-9.9 9.9-9.9-9.9z"/><path d="M489.9 1411.6l9.6 9.6-9.6 9.6-9.6-9.6z"/></g>
<g fill="#f85656" fill-opacity="0.62" stroke="#080505" stroke-opacity="0.74" stroke-width="3.4"><circle cx="693.8" cy="1241.1" r="6.1"/></g>
<g fill="#52f6f6" fill-opacity="0.7" stroke="#050808" stroke-opacity="0.74" stroke-width="3.4" stroke-linejoin="miter"><path d="M329.5 1438.2l7.7 7.7-7.7 7.7-7.7-7.7z"/><path d="M383.8 1463.7l8.6 8.6-8.6 8.6-8.6-8.6z"/><path d="M400.9 1394l8.3 8.3-8.3 8.3-8.3-8.3z"/><path d="M541 1333.2l5.3 5.3-5.3 5.3-5.3-5.3z"/><path d="M508.9 1316.9l5.5 5.5-5.5 5.5-5.5-5.5z"/><path d="M316.3 1536.8l6.2 6.2-6.2 6.2-6.2-6.2z"/><path d="M487.4 1441.6l8.4 8.4-8.4 8.4-8.4-8.4z"/><path d="M355.6 1443.7l9.9 9.9-9.9 9.9-9.9-9.9z"/><path d="M317.9 1493.9l8.8 8.8-8.8 8.8-8.8-8.8z"/><path d="M446.8 1360.8l9.2 9.2-9.2 9.2-9.2-9.2z"/><path d="M456.6 1456.7l8.5 8.5-8.5 8.5-8.5-8.5z"/><path d="M438.3 1398l9.4 9.4-9.4 9.4-9.4-9.4z"/><path d="M450.9 1500.4l8.4 8.4-8.4 8.4-8.4-8.4z"/><path d="M467.1 1412l9.8 9.8-9.8 9.8-9.8-9.8z"/><path d="M410.9 1453.9l9.8 9.8-9.8 9.8-9.8-9.8z"/></g>
<g fill="#f85656" fill-opacity="0.62" stroke="#080505" stroke-opacity="0.74" stroke-width="3.4"><circle cx="535.9" cy="1288.7" r="2.9"/></g>
<g fill="#52f6f6" fill-opacity="0.7" stroke="#050808" stroke-opacity="0.74" stroke-width="3.4" stroke-linejoin="miter"><path d="M547.2 1317.4l3.3 3.3-3.3 3.3-3.3-3.3z"/><path d="M398.9 1389.9l9.4 9.4-9.4 9.4-9.4-9.4z"/><path d="M425.7 1531.1l7.6 7.6-7.6 7.6-7.6-7.6z"/><path d="M453.8 1462.5l10 10-10 10-10-10z"/><path d="M362.4 1436.8l7.5 7.5-7.5 7.5-7.5-7.5z"/><path d="M288.8 1493.9l7.3 7.3-7.3 7.3-7.3-7.3z"/></g>
<g fill="#f85656" fill-opacity="0.62" stroke="#080505" stroke-opacity="0.74" stroke-width="3.4"><circle cx="640" cy="1356" r="2.7"/></g>
<g fill="#52f6f6" fill-opacity="0.7" stroke="#050808" stroke-opacity="0.74" stroke-width="3.4" stroke-linejoin="miter"><path d="M562.2 1378.2l7.1 7.1-7.1 7.1-7.1-7.1z"/><path d="M472.9 1438.3l10.1 10.1-10.1 10.1-10.1-10.1z"/><path d="M534.4 1388.2l8.6 8.6-8.6 8.6-8.6-8.6z"/></g>
<g fill="#f85656" fill-opacity="0.62" stroke="#080505" stroke-opacity="0.74" stroke-width="3.4"><circle cx="679.9" cy="1258.3" r="6.9"/></g>
<g fill="#52f6f6" fill-opacity="0.7" stroke="#050808" stroke-opacity="0.74" stroke-width="3.4" stroke-linejoin="miter"><path d="M422.6 1404.7l10.4 10.4-10.4 10.4-10.4-10.4z"/><path d="M426.6 1355.3l9.5 9.5-9.5 9.5-9.5-9.5z"/><path d="M431.6 1501.5l8.1 8.1-8.1 8.1-8.1-8.1z"/><path d="M340 1460l9 9-9 9-9-9z"/><path d="M394.7 1471.3l10.3 10.3-10.3 10.3-10.3-10.3z"/></g>
<g fill="#f85656" fill-opacity="0.62" stroke="#080505" stroke-opacity="0.74" stroke-width="3.4"><circle cx="563.1" cy="1308.2" r="2.7"/></g>
<g fill="#52f6f6" fill-opacity="0.7" stroke="#050808" stroke-opacity="0.74" stroke-width="3.4" stroke-linejoin="miter"><path d="M492 1551.9l4.2 4.2-4.2 4.2-4.2-4.2z"/><path d="M345.1 1399.2l8.7 8.7-8.7 8.7-8.7-8.7z"/><path d="M325.5 1508.5l7.4 7.4-7.4 7.4-7.4-7.4z"/></g>
<g fill="#f85656" fill-opacity="0.62" stroke="#080505" stroke-opacity="0.74" stroke-width="3.4"><circle cx="510.8" cy="1279.6" r="2.7"/></g>
<g fill="#52f6f6" fill-opacity="0.7" stroke="#050808" stroke-opacity="0.74" stroke-width="3.4" stroke-linejoin="miter"><path d="M365.9 1536.2l8.2 8.2-8.2 8.2-8.2-8.2z"/><path d="M453.7 1433.7l10 10-10 10-10-10z"/><path d="M420.8 1413l10.4 10.4-10.4 10.4-10.4-10.4z"/><path d="M399.1 1390.2l10.1 10.1-10.1 10.1-10.1-10.1z"/><path d="M461.9 1424.3l8.2 8.2-8.2 8.2-8.2-8.2z"/></g>
<g fill="#f85656" fill-opacity="0.62" stroke="#080505" stroke-opacity="0.74" stroke-width="3.4"><circle cx="589" cy="1335.8" r="2.7"/></g>
<g fill="#52f6f6" fill-opacity="0.7" stroke="#050808" stroke-opacity="0.74" stroke-width="3.4" stroke-linejoin="miter"><path d="M418.7 1499.2l7.5 7.5-7.5 7.5-7.5-7.5z"/><path d="M497.7 1417.4l10.4 10.4-10.4 10.4-10.4-10.4z"/><path d="M483.4 1369.7l10.2 10.2-10.2 10.2-10.2-10.2z"/><path d="M356.8 1419.7l8.7 8.7-8.7 8.7-8.7-8.7z"/><path d="M530.9 1345.2l6.1 6.1-6.1 6.1-6.1-6.1z"/><path d="M438.1 1442.4l8.9 8.9-8.9 8.9-8.9-8.9z"/><path d="M447.1 1475.2l7.8 7.8-7.8 7.8-7.8-7.8z"/><path d="M529.8 1356.2l7.3 7.3-7.3 7.3-7.3-7.3z"/><path d="M318.3 1504l8.1 8.1-8.1 8.1-8.1-8.1z"/><path d="M590.3 1351.6l3.3 3.3-3.3 3.3-3.3-3.3z"/><path d="M496.1 1394.9l11.1 11.1-11.1 11.1-11.1-11.1z"/><path d="M332 1443.8l7.8 7.8-7.8 7.8-7.8-7.8z"/><path d="M554.1 1361.7l6.9 6.9-6.9 6.9-6.9-6.9z"/><path d="M424.9 1418.7l9.5 9.5-9.5 9.5-9.5-9.5z"/><path d="M543.8 1364.4l7.4 7.4-7.4 7.4-7.4-7.4z"/><path d="M410.6 1472.6l9 9-9 9-9-9z"/><path d="M408.3 1420.2l8.3 8.3-8.3 8.3-8.3-8.3z"/><path d="M521.5 1348.1l6.5 6.5-6.5 6.5-6.5-6.5z"/></g>
<g fill="#f85656" fill-opacity="0.62" stroke="#080505" stroke-opacity="0.74" stroke-width="3.4"><circle cx="671.9" cy="1260.2" r="6"/></g>
<g fill="#52f6f6" fill-opacity="0.7" stroke="#050808" stroke-opacity="0.74" stroke-width="3.4" stroke-linejoin="miter"><path d="M429 1324.4l7.7 7.7-7.7 7.7-7.7-7.7z"/><path d="M478.1 1311.9l6.5 6.5-6.5 6.5-6.5-6.5z"/><path d="M496.8 1371.2l7.8 7.8-7.8 7.8-7.8-7.8z"/><path d="M373.9 1460.1l8.1 8.1-8.1 8.1-8.1-8.1z"/><path d="M420.7 1422.6l10.5 10.5-10.5 10.5-10.5-10.5z"/><path d="M369.2 1457l10.4 10.4-10.4 10.4-10.4-10.4z"/><path d="M470.8 1378.4l10.2 10.2-10.2 10.2-10.2-10.2z"/><path d="M412.4 1438.1l11.4 11.4-11.4 11.4-11.4-11.4z"/><path d="M619.3 1362.1l3.3 3.3-3.3 3.3-3.3-3.3z"/><path d="M401.2 1480.3l8 8-8 8-8-8z"/><path d="M311.4 1510.3l8.2 8.2-8.2 8.2-8.2-8.2z"/><path d="M449.7 1455.4l9.4 9.4-9.4 9.4-9.4-9.4z"/><path d="M345.1 1493.2l9.6 9.6-9.6 9.6-9.6-9.6z"/><path d="M404.9 1425l8.6 8.6-8.6 8.6-8.6-8.6z"/><path d="M348.8 1454.3l9.4 9.4-9.4 9.4-9.4-9.4z"/><path d="M521.6 1314.2l3.9 3.9-3.9 3.9-3.9-3.9z"/><path d="M443.2 1427.2l9.7 9.7-9.7 9.7-9.7-9.7z"/><path d="M424.5 1432.8l10.1 10.1-10.1 10.1-10.1-10.1z"/><path d="M395.9 1508.7l9 9-9 9-9-9z"/><path d="M500 1383.8l9.4 9.4-9.4 9.4-9.4-9.4z"/><path d="M403.7 1401.3l10.7 10.7-10.7 10.7-10.7-10.7z"/><path d="M379.5 1435.4l8.3 8.3-8.3 8.3-8.3-8.3z"/><path d="M508.3 1378l7.3 7.3-7.3 7.3-7.3-7.3z"/><path d="M407.8 1428.4l9.8 9.8-9.8 9.8-9.8-9.8z"/><path d="M443.4 1361.8l8.2 8.2-8.2 8.2-8.2-8.2z"/></g>
<g fill="#f85656" fill-opacity="0.62" stroke="#080505" stroke-opacity="0.74" stroke-width="3.4"><circle cx="698.4" cy="1287.1" r="6"/><circle cx="571.9" cy="1299.5" r="3.6"/></g>
<g fill="#52f6f6" fill-opacity="0.7" stroke="#050808" stroke-opacity="0.74" stroke-width="3.4" stroke-linejoin="miter"><path d="M533.2 1437l6.8 6.8-6.8 6.8-6.8-6.8z"/></g>
<g fill="#f85656" fill-opacity="0.62" stroke="#080505" stroke-opacity="0.74" stroke-width="3.4"><circle cx="682" cy="1232.4" r="6.2"/></g>
<g fill="#52f6f6" fill-opacity="0.7" stroke="#050808" stroke-opacity="0.74" stroke-width="3.4" stroke-linejoin="miter"><path d="M447.9 1453.5l9.1 9.1-9.1 9.1-9.1-9.1z"/><path d="M481 1457.9l9.3 9.3-9.3 9.3-9.3-9.3z"/><path d="M455.5 1335l6.7 6.7-6.7 6.7-6.7-6.7z"/><path d="M351.4 1503.9l8.3 8.3-8.3 8.3-8.3-8.3z"/><path d="M578.8 1343l3.6 3.6-3.6 3.6-3.6-3.6z"/><path d="M474.7 1322.5l7.4 7.4-7.4 7.4-7.4-7.4z"/><path d="M414.6 1448.2l11.1 11.1-11.1 11.1-11.1-11.1z"/><path d="M379.3 1428.9l9.9 9.9-9.9 9.9-9.9-9.9z"/><path d="M342.9 1469.6l9 9-9 9-9-9z"/><path d="M491.1 1424.9l8.7 8.7-8.7 8.7-8.7-8.7z"/><path d="M421.3 1429.4l8.9 8.9-8.9 8.9-8.9-8.9z"/><path d="M535.1 1351.7l5.9 5.9-5.9 5.9-5.9-5.9z"/><path d="M551 1366.8l5.8 5.8-5.8 5.8-5.8-5.8z"/><path d="M352.6 1427.8l9.8 9.8-9.8 9.8-9.8-9.8z"/><path d="M471.3 1437.4l8.9 8.9-8.9 8.9-8.9-8.9z"/><path d="M343.1 1439.7l7.3 7.3-7.3 7.3-7.3-7.3z"/><path d="M488.3 1438.5l8.7 8.7-8.7 8.7-8.7-8.7z"/></g>
<g fill="#f85656" fill-opacity="0.62" stroke="#080505" stroke-opacity="0.74" stroke-width="3.4"><circle cx="531.2" cy="1291.9" r="2.7"/></g>
<g fill="#52f6f6" fill-opacity="0.7" stroke="#050808" stroke-opacity="0.74" stroke-width="3.4" stroke-linejoin="miter"><path d="M530.3 1351.8l7 7-7 7-7-7z"/></g>
<g fill="#f85656" fill-opacity="0.62" stroke="#080505" stroke-opacity="0.74" stroke-width="3.4"><circle cx="556.4" cy="1292.2" r="3.2"/></g>
<g fill="#52f6f6" fill-opacity="0.7" stroke="#050808" stroke-opacity="0.74" stroke-width="3.4" stroke-linejoin="miter"><path d="M351.6 1513.2l8.3 8.3-8.3 8.3-8.3-8.3z"/><path d="M556.3 1372.2l5.7 5.7-5.7 5.7-5.7-5.7z"/><path d="M420.5 1407.2l11.1 11.1-11.1 11.1-11.1-11.1z"/><path d="M427.7 1387.2l8.9 8.9-8.9 8.9-8.9-8.9z"/><path d="M337.2 1485.1l7.9 7.9-7.9 7.9-7.9-7.9z"/><path d="M399.2 1405.7l8.4 8.4-8.4 8.4-8.4-8.4z"/></g>
<g fill="#f85656" fill-opacity="0.62" stroke="#080505" stroke-opacity="0.74" stroke-width="3.4"><circle cx="575.5" cy="1329.4" r="2.7"/></g>
<g fill="#52f6f6" fill-opacity="0.7" stroke="#050808" stroke-opacity="0.74" stroke-width="3.4" stroke-linejoin="miter"><path d="M471.9 1494l7.8 7.8-7.8 7.8-7.8-7.8z"/></g>
<g fill="#f85656" fill-opacity="0.62" stroke="#080505" stroke-opacity="0.74" stroke-width="3.4"><circle cx="609.5" cy="1335" r="2.7"/></g>
<g fill="#52f6f6" fill-opacity="0.7" stroke="#050808" stroke-opacity="0.74" stroke-width="3.4" stroke-linejoin="miter"><path d="M571.3 1358.2l5.3 5.3-5.3 5.3-5.3-5.3z"/><path d="M389 1419.1l8.4 8.4-8.4 8.4-8.4-8.4z"/><path d="M482.1 1432.2l10.2 10.2-10.2 10.2-10.2-10.2z"/><path d="M552.9 1359.1l5.4 5.4-5.4 5.4-5.4-5.4z"/><path d="M414.4 1441.2l9.3 9.3-9.3 9.3-9.3-9.3z"/><path d="M380.3 1382.9l7.1 7.1-7.1 7.1-7.1-7.1z"/><path d="M503.8 1366.4l8.5 8.5-8.5 8.5-8.5-8.5z"/></g>
<g fill="#f85656" fill-opacity="0.62" stroke="#080505" stroke-opacity="0.74" stroke-width="3.4"><circle cx="620" cy="1313.3" r="4"/></g>
<g fill="#52f6f6" fill-opacity="0.7" stroke="#050808" stroke-opacity="0.74" stroke-width="3.4" stroke-linejoin="miter"><path d="M515.5 1369.6l7.9 7.9-7.9 7.9-7.9-7.9z"/><path d="M496.7 1410.9l9.2 9.2-9.2 9.2-9.2-9.2z"/><path d="M432.2 1443l8.4 8.4-8.4 8.4-8.4-8.4z"/><path d="M502.3 1381.8l8.8 8.8-8.8 8.8-8.8-8.8z"/><path d="M432.8 1353l9.4 9.4-9.4 9.4-9.4-9.4z"/><path d="M379.1 1477.2l8.1 8.1-8.1 8.1-8.1-8.1z"/><path d="M513.6 1398.4l10.5 10.5-10.5 10.5-10.5-10.5z"/><path d="M368.5 1482.4l8.3 8.3-8.3 8.3-8.3-8.3z"/><path d="M291.4 1516.9l5.6 5.6-5.6 5.6-5.6-5.6z"/><path d="M483.2 1393.4l10 10-10 10-10-10z"/><path d="M317.9 1420.1l8 8-8 8-8-8z"/><path d="M423.3 1400l10.5 10.5-10.5 10.5-10.5-10.5z"/><path d="M344.7 1228.3l3.3 3.3-3.3 3.3-3.3-3.3z"/><path d="M412.4 1409.2l9.1 9.1-9.1 9.1-9.1-9.1z"/><path d="M406.7 1322.8l6 6-6 6-6-6z"/><path d="M521.8 1344.4l6.5 6.5-6.5 6.5-6.5-6.5z"/><path d="M513 1342.8l7.2 7.2-7.2 7.2-7.2-7.2z"/><path d="M283.9 1397.7l7.4 7.4-7.4 7.4-7.4-7.4z"/></g>
<g fill="#f85656" fill-opacity="0.62" stroke="#080505" stroke-opacity="0.74" stroke-width="3.4"><circle cx="650.3" cy="1261.9" r="6"/></g>
<g fill="#52f6f6" fill-opacity="0.7" stroke="#050808" stroke-opacity="0.74" stroke-width="3.4" stroke-linejoin="miter"><path d="M462.9 1407.2l10.5 10.5-10.5 10.5-10.5-10.5z"/><path d="M418.1 1436.7l10.3 10.3-10.3 10.3-10.3-10.3z"/><path d="M382 1522.9l7.2 7.2-7.2 7.2-7.2-7.2z"/><path d="M519.6 1308.6l3.8 3.8-3.8 3.8-3.8-3.8z"/><path d="M375.7 1424.3l8.7 8.7-8.7 8.7-8.7-8.7z"/><path d="M513.8 1378.7l8.4 8.4-8.4 8.4-8.4-8.4z"/><path d="M479.6 1422.9l8.5 8.5-8.5 8.5-8.5-8.5z"/><path d="M584.1 1363l3.8 3.8-3.8 3.8-3.8-3.8z"/></g>
<g fill="#f85656" fill-opacity="0.62" stroke="#080505" stroke-opacity="0.74" stroke-width="3.4"><circle cx="644" cy="1296.8" r="5.9"/></g>
<g fill="#52f6f6" fill-opacity="0.7" stroke="#050808" stroke-opacity="0.74" stroke-width="3.4" stroke-linejoin="miter"><path d="M525.3 1315.6l3.5 3.5-3.5 3.5-3.5-3.5z"/><path d="M491.3 1412.4l9.2 9.2-9.2 9.2-9.2-9.2z"/><path d="M430.7 1458.5l10.4 10.4-10.4 10.4-10.4-10.4z"/><path d="M517.8 1354.8l7.2 7.2-7.2 7.2-7.2-7.2z"/><path d="M445.1 1408.8l10.5 10.5-10.5 10.5-10.5-10.5z"/><path d="M327.8 1563.4l7.2 7.2-7.2 7.2-7.2-7.2z"/><path d="M547.8 1336l4.5 4.5-4.5 4.5-4.5-4.5z"/><path d="M345.4 1540.2l7.2 7.2-7.2 7.2-7.2-7.2z"/><path d="M545.9 1336.8l5.4 5.4-5.4 5.4-5.4-5.4z"/><path d="M411.5 1435l9.8 9.8-9.8 9.8-9.8-9.8z"/><path d="M351 1507.8l9.2 9.2-9.2 9.2-9.2-9.2z"/><path d="M558.8 1340.1l4.4 4.4-4.4 4.4-4.4-4.4z"/><path d="M477.3 1373.6l8.2 8.2-8.2 8.2-8.2-8.2z"/><path d="M358.8 1428.5l9.4 9.4-9.4 9.4-9.4-9.4z"/><path d="M514.3 1345l6.2 6.2-6.2 6.2-6.2-6.2z"/></g>
<g fill="#f85656" fill-opacity="0.62" stroke="#080505" stroke-opacity="0.74" stroke-width="3.4"><circle cx="642.2" cy="1319.6" r="4.8"/></g>
<g fill="#52f6f6" fill-opacity="0.7" stroke="#050808" stroke-opacity="0.74" stroke-width="3.4" stroke-linejoin="miter"><path d="M363.3 1491.6l8.2 8.2-8.2 8.2-8.2-8.2z"/><path d="M446.9 1410.6l10 10-10 10-10-10z"/><path d="M516.6 1309.6l3.4 3.4-3.4 3.4-3.4-3.4z"/><path d="M511.8 1366.2l8.8 8.8-8.8 8.8-8.8-8.8z"/><path d="M409.1 1414.5l8.2 8.2-8.2 8.2-8.2-8.2z"/></g>
<g fill="#f85656" fill-opacity="0.62" stroke="#080505" stroke-opacity="0.74" stroke-width="3.4"><circle cx="602.7" cy="1348" r="2.7"/></g>
<g fill="#52f6f6" fill-opacity="0.7" stroke="#050808" stroke-opacity="0.74" stroke-width="3.4" stroke-linejoin="miter"><path d="M429 1441l8.9 8.9-8.9 8.9-8.9-8.9z"/><path d="M254.5 1533.1l6.4 6.4-6.4 6.4-6.4-6.4z"/><path d="M415.5 1444.6l9.6 9.6-9.6 9.6-9.6-9.6z"/></g>
<g fill="#f85656" fill-opacity="0.62" stroke="#080505" stroke-opacity="0.74" stroke-width="3.4"><circle cx="619.2" cy="1328.8" r="3.9"/><circle cx="682.8" cy="1235.6" r="6.2"/></g>
<g fill="#52f6f6" fill-opacity="0.7" stroke="#050808" stroke-opacity="0.74" stroke-width="3.4" stroke-linejoin="miter"><path d="M482.7 1425.5l8.3 8.3-8.3 8.3-8.3-8.3z"/><path d="M299.3 1491.8l7.9 7.9-7.9 7.9-7.9-7.9z"/><path d="M343.3 1504.1l7.6 7.6-7.6 7.6-7.6-7.6z"/><path d="M366.3 1515.4l8.2 8.2-8.2 8.2-8.2-8.2z"/><path d="M551.6 1328.6l3.9 3.9-3.9 3.9-3.9-3.9z"/><path d="M531.3 1355.8l7.1 7.1-7.1 7.1-7.1-7.1z"/></g>
<g fill="#f85656" fill-opacity="0.62" stroke="#080505" stroke-opacity="0.74" stroke-width="3.4"><circle cx="637.5" cy="1291.1" r="5.3"/></g>
<g fill="#52f6f6" fill-opacity="0.7" stroke="#050808" stroke-opacity="0.74" stroke-width="3.4" stroke-linejoin="miter"><path d="M538 1384.2l8.2 8.2-8.2 8.2-8.2-8.2z"/><path d="M493.9 1407.2l8.2 8.2-8.2 8.2-8.2-8.2z"/><path d="M408.9 1476.8l9.8 9.8-9.8 9.8-9.8-9.8z"/><path d="M506.3 1445.4l7.6 7.6-7.6 7.6-7.6-7.6z"/><path d="M424.9 1457.9l9.5 9.5-9.5 9.5-9.5-9.5z"/><path d="M474.7 1449l7.9 7.9-7.9 7.9-7.9-7.9z"/><path d="M387.3 1465.9l8.4 8.4-8.4 8.4-8.4-8.4z"/><path d="M470.3 1422.3l10.2 10.2-10.2 10.2-10.2-10.2z"/><path d="M386.3 1479.6l10.1 10.1-10.1 10.1-10.1-10.1z"/><path d="M397.9 1437.6l10.7 10.7-10.7 10.7-10.7-10.7z"/><path d="M483 1351.9l9.5 9.5-9.5 9.5-9.5-9.5z"/><path d="M548.4 1478.4l5.2 5.2-5.2 5.2-5.2-5.2z"/></g>
<g fill="#f85656" fill-opacity="0.62" stroke="#080505" stroke-opacity="0.74" stroke-width="3.4"><circle cx="633.7" cy="1285.8" r="5.9"/></g>
<g fill="#52f6f6" fill-opacity="0.7" stroke="#050808" stroke-opacity="0.74" stroke-width="3.4" stroke-linejoin="miter"><path d="M325.4 1509.5l9.2 9.2-9.2 9.2-9.2-9.2z"/></g>
<g fill="#f85656" fill-opacity="0.62" stroke="#080505" stroke-opacity="0.74" stroke-width="3.4"><circle cx="568" cy="1284.4" r="4.2"/></g>
<g fill="#52f6f6" fill-opacity="0.7" stroke="#050808" stroke-opacity="0.74" stroke-width="3.4" stroke-linejoin="miter"><path d="M515.5 1309.4l3.5 3.5-3.5 3.5-3.5-3.5z"/></g>
<g fill="#f85656" fill-opacity="0.62" stroke="#080505" stroke-opacity="0.74" stroke-width="3.4"><circle cx="616.5" cy="1352.8" r="2.7"/></g>
<g fill="#52f6f6" fill-opacity="0.7" stroke="#050808" stroke-opacity="0.74" stroke-width="3.4" stroke-linejoin="miter"><path d="M412.6 1423.4l10.5 10.5-10.5 10.5-10.5-10.5z"/><path d="M403.4 1471.1l10.5 10.5-10.5 10.5-10.5-10.5z"/></g>
<g fill="#f85656" fill-opacity="0.62" stroke="#080505" stroke-opacity="0.74" stroke-width="3.4"><circle cx="646.3" cy="1308.2" r="5.4"/></g>
<g fill="#52f6f6" fill-opacity="0.7" stroke="#050808" stroke-opacity="0.74" stroke-width="3.4" stroke-linejoin="miter"><path d="M418.4 1443.1l9.4 9.4-9.4 9.4-9.4-9.4z"/><path d="M331.3 1517.2l7.8 7.8-7.8 7.8-7.8-7.8z"/><path d="M323.6 1492.9l7.3 7.3-7.3 7.3-7.3-7.3z"/><path d="M434.7 1389.9l9.9 9.9-9.9 9.9-9.9-9.9z"/><path d="M391.7 1489.3l9.6 9.6-9.6 9.6-9.6-9.6z"/><path d="M505.5 1359.8l8.5 8.5-8.5 8.5-8.5-8.5z"/><path d="M377.4 1477.8l8.4 8.4-8.4 8.4-8.4-8.4z"/><path d="M399.5 1447.8l8.3 8.3-8.3 8.3-8.3-8.3z"/><path d="M301.6 1592.3l3.4 3.4-3.4 3.4-3.4-3.4z"/><path d="M357.9 1459.8l7.9 7.9-7.9 7.9-7.9-7.9z"/><path d="M336.1 1443.7l8.6 8.6-8.6 8.6-8.6-8.6z"/><path d="M304.1 1521.3l6 6-6 6-6-6z"/><path d="M371.6 1503.9l8 8-8 8-8-8z"/><path d="M350.6 1415.7l9.3 9.3-9.3 9.3-9.3-9.3z"/></g>
<g fill="#f85656" fill-opacity="0.62" stroke="#080505" stroke-opacity="0.74" stroke-width="3.4"><circle cx="567.5" cy="1319" r="2.7"/></g>
<g fill="#52f6f6" fill-opacity="0.7" stroke="#050808" stroke-opacity="0.74" stroke-width="3.4" stroke-linejoin="miter"><path d="M569.4 1350.1l4.4 4.4-4.4 4.4-4.4-4.4z"/><path d="M491.6 1380.5l9 9-9 9-9-9z"/><path d="M402.9 1529.3l7.4 7.4-7.4 7.4-7.4-7.4z"/><path d="M442.2 1554l4.4 4.4-4.4 4.4-4.4-4.4z"/><path d="M392.6 1399.1l9.3 9.3-9.3 9.3-9.3-9.3z"/><path d="M426.6 1439.9l9.4 9.4-9.4 9.4-9.4-9.4z"/><path d="M568.2 1352.7l4.4 4.4-4.4 4.4-4.4-4.4z"/><path d="M628.1 1466.3l3.8 3.8-3.8 3.8-3.8-3.8z"/><path d="M554.8 1336.3l4.3 4.3-4.3 4.3-4.3-4.3z"/><path d="M405.9 1486.4l8.9 8.9-8.9 8.9-8.9-8.9z"/><path d="M398.2 1485.6l8.9 8.9-8.9 8.9-8.9-8.9z"/><path d="M544.2 1350.3l5.4 5.4-5.4 5.4-5.4-5.4z"/><path d="M412.8 1424l11.1 11.1-11.1 11.1-11.1-11.1z"/><path d="M387.7 1488.6l7.9 7.9-7.9 7.9-7.9-7.9z"/><path d="M536.6 1346.5l5.8 5.8-5.8 5.8-5.8-5.8z"/><path d="M447 1412.9l10.4 10.4-10.4 10.4-10.4-10.4z"/><path d="M310.6 1481.7l7.5 7.5-7.5 7.5-7.5-7.5z"/><path d="M504.4 1358.1l7.5 7.5-7.5 7.5-7.5-7.5z"/><path d="M395.6 1440.7l9.7 9.7-9.7 9.7-9.7-9.7z"/><path d="M536.8 1344.6l5.4 5.4-5.4 5.4-5.4-5.4z"/><path d="M387.5 1475.4l10.4 10.4-10.4 10.4-10.4-10.4z"/><path d="M433.2 1450l9.6 9.6-9.6 9.6-9.6-9.6z"/></g>
<g fill="#f85656" fill-opacity="0.62" stroke="#080505" stroke-opacity="0.74" stroke-width="3.4"><circle cx="570.3" cy="1298.2" r="3.2"/></g>
<g fill="#52f6f6" fill-opacity="0.7" stroke="#050808" stroke-opacity="0.74" stroke-width="3.4" stroke-linejoin="miter"><path d="M444.4 1450.7l9 9-9 9-9-9z"/><path d="M497.7 1327.8l7 7-7 7-7-7z"/><path d="M427.6 1447.3l9.8 9.8-9.8 9.8-9.8-9.8z"/><path d="M372 1446.3l9 9-9 9-9-9z"/><path d="M488 1500.5l5.6 5.6-5.6 5.6-5.6-5.6z"/><path d="M420.9 1447.5l10.3 10.3-10.3 10.3-10.3-10.3z"/></g>
<g fill="#f85656" fill-opacity="0.62" stroke="#080505" stroke-opacity="0.74" stroke-width="3.4"><circle cx="555.4" cy="1299.3" r="3"/><circle cx="696.1" cy="1217.5" r="6.6"/></g>
<g fill="#52f6f6" fill-opacity="0.7" stroke="#050808" stroke-opacity="0.74" stroke-width="3.4" stroke-linejoin="miter"><path d="M356 1495.8l9.1 9.1-9.1 9.1-9.1-9.1z"/><path d="M280.7 1531.4l4.8 4.8-4.8 4.8-4.8-4.8z"/><path d="M262.8 1550l4.6 4.6-4.6 4.6-4.6-4.6z"/><path d="M374.6 1514.3l8.5 8.5-8.5 8.5-8.5-8.5z"/><path d="M406.7 1444.8l10.2 10.2-10.2 10.2-10.2-10.2z"/><path d="M343.1 1503.7l7.8 7.8-7.8 7.8-7.8-7.8z"/><path d="M378.3 1414.9l9.9 9.9-9.9 9.9-9.9-9.9z"/><path d="M430.9 1476.1l9 9-9 9-9-9z"/><path d="M480.6 1376.1l9.8 9.8-9.8 9.8-9.8-9.8z"/></g>
<g fill="#f85656" fill-opacity="0.62" stroke="#080505" stroke-opacity="0.74" stroke-width="3.4"><circle cx="594.2" cy="1312.7" r="4"/></g>
<g fill="#52f6f6" fill-opacity="0.7" stroke="#050808" stroke-opacity="0.74" stroke-width="3.4" stroke-linejoin="miter"><path d="M386.5 1506.7l7.7 7.7-7.7 7.7-7.7-7.7z"/><path d="M305.9 1526.4l4.9 4.9-4.9 4.9-4.9-4.9z"/><path d="M434.5 1427.1l9.5 9.5-9.5 9.5-9.5-9.5z"/><path d="M532.3 1321l4.6 4.6-4.6 4.6-4.6-4.6z"/></g>
<g fill="#f85656" fill-opacity="0.62" stroke="#080505" stroke-opacity="0.74" stroke-width="3.4"><circle cx="618" cy="1254.2" r="6.1"/></g>
<g fill="#52f6f6" fill-opacity="0.7" stroke="#050808" stroke-opacity="0.74" stroke-width="3.4" stroke-linejoin="miter"><path d="M397.9 1450.3l10.5 10.5-10.5 10.5-10.5-10.5z"/><path d="M361 1540.6l6.7 6.7-6.7 6.7-6.7-6.7z"/><path d="M319 1559.1l5.1 5.1-5.1 5.1-5.1-5.1z"/><path d="M460.1 1370.9l10.6 10.6-10.6 10.6-10.6-10.6z"/></g>
<g fill="#f85656" fill-opacity="0.62" stroke="#080505" stroke-opacity="0.74" stroke-width="3.4"><circle cx="537.4" cy="1304.4" r="2.7"/></g>
<g fill="#52f6f6" fill-opacity="0.7" stroke="#050808" stroke-opacity="0.74" stroke-width="3.4" stroke-linejoin="miter"><path d="M539.6 1335.7l5.3 5.3-5.3 5.3-5.3-5.3z"/><path d="M317.5 1447.3l7.1 7.1-7.1 7.1-7.1-7.1z"/><path d="M418.6 1442.5l9.8 9.8-9.8 9.8-9.8-9.8z"/><path d="M529.1 1360.8l6.8 6.8-6.8 6.8-6.8-6.8z"/><path d="M561.3 1342.3l4.2 4.2-4.2 4.2-4.2-4.2z"/><path d="M342.4 1458.2l9.6 9.6-9.6 9.6-9.6-9.6z"/><path d="M538.6 1374.2l7.2 7.2-7.2 7.2-7.2-7.2z"/><path d="M515.9 1412.5l9.5 9.5-9.5 9.5-9.5-9.5z"/><path d="M343.1 1454.7l8.8 8.8-8.8 8.8-8.8-8.8z"/><path d="M459.7 1419.9l11 11-11 11-11-11z"/><path d="M473.1 1375.8l9.4 9.4-9.4 9.4-9.4-9.4z"/><path d="M504.6 1353.7l8.2 8.2-8.2 8.2-8.2-8.2z"/><path d="M382.9 1408l8.4 8.4-8.4 8.4-8.4-8.4z"/><path d="M599.3 1464.4l4.2 4.2-4.2 4.2-4.2-4.2z"/><path d="M325.6 1527.3l4.7 4.7-4.7 4.7-4.7-4.7z"/><path d="M337.9 1554.8l6.8 6.8-6.8 6.8-6.8-6.8z"/><path d="M395 1393.4l9.7 9.7-9.7 9.7-9.7-9.7z"/></g>
<g fill="#f85656" fill-opacity="0.62" stroke="#080505" stroke-opacity="0.74" stroke-width="3.4"><circle cx="681.3" cy="1267.1" r="6.9"/></g>
<g fill="#52f6f6" fill-opacity="0.7" stroke="#050808" stroke-opacity="0.74" stroke-width="3.4" stroke-linejoin="miter"><path d="M381.5 1511.9l8.1 8.1-8.1 8.1-8.1-8.1z"/></g>
<g fill="#f85656" fill-opacity="0.62" stroke="#080505" stroke-opacity="0.74" stroke-width="3.4"><circle cx="587.9" cy="1270.6" r="5.2"/></g>
<g fill="#52f6f6" fill-opacity="0.7" stroke="#050808" stroke-opacity="0.74" stroke-width="3.4" stroke-linejoin="miter"><path d="M351.1 1522.4l7.8 7.8-7.8 7.8-7.8-7.8z"/></g>
<g fill="#f85656" fill-opacity="0.62" stroke="#080505" stroke-opacity="0.74" stroke-width="3.4"><circle cx="765.4" cy="1178.6" r="7"/></g>
<g fill="#52f6f6" fill-opacity="0.7" stroke="#050808" stroke-opacity="0.74" stroke-width="3.4" stroke-linejoin="miter"><path d="M370.2 1410.6l8.8 8.8-8.8 8.8-8.8-8.8z"/><path d="M392.4 1494.7l7.5 7.5-7.5 7.5-7.5-7.5z"/><path d="M490.6 1386.6l10.1 10.1-10.1 10.1-10.1-10.1z"/><path d="M305.6 1476.2l7.2 7.2-7.2 7.2-7.2-7.2z"/><path d="M333.7 1475.8l9.9 9.9-9.9 9.9-9.9-9.9z"/><path d="M403.9 1418.5l8.4 8.4-8.4 8.4-8.4-8.4z"/><path d="M349.2 1362l7.2 7.2-7.2 7.2-7.2-7.2z"/><path d="M211.9 1478.6l5 5-5 5-5-5z"/><path d="M459.1 1437.1l8.3 8.3-8.3 8.3-8.3-8.3z"/><path d="M328 1502.4l8.4 8.4-8.4 8.4-8.4-8.4z"/><path d="M521.1 1375.4l9.4 9.4-9.4 9.4-9.4-9.4z"/><path d="M397.2 1408.7l9.2 9.2-9.2 9.2-9.2-9.2z"/></g>
<g fill="#f85656" fill-opacity="0.62" stroke="#080505" stroke-opacity="0.74" stroke-width="3.4"><circle cx="725.8" cy="1207" r="6.8"/></g>
<g fill="#52f6f6" fill-opacity="0.7" stroke="#050808" stroke-opacity="0.74" stroke-width="3.4" stroke-linejoin="miter"><path d="M444.6 1398.7l8.3 8.3-8.3 8.3-8.3-8.3z"/><path d="M416.8 1433.9l11.2 11.2-11.2 11.2-11.2-11.2z"/><path d="M448.4 1418.1l9.7 9.7-9.7 9.7-9.7-9.7z"/><path d="M407.5 1379.5l9.5 9.5-9.5 9.5-9.5-9.5z"/><path d="M390.7 1463.6l10.7 10.7-10.7 10.7-10.7-10.7z"/><path d="M554.4 1344.4l4.3 4.3-4.3 4.3-4.3-4.3z"/><path d="M433.6 1432.6l9.5 9.5-9.5 9.5-9.5-9.5z"/><path d="M567.5 1358.1l4.5 4.5-4.5 4.5-4.5-4.5z"/><path d="M409.3 1473.2l8.1 8.1-8.1 8.1-8.1-8.1z"/></g>
<g fill="#f85656" fill-opacity="0.62" stroke="#080505" stroke-opacity="0.74" stroke-width="3.4"><circle cx="667.4" cy="1280.1" r="6.2"/></g>
<g fill="#52f6f6" fill-opacity="0.7" stroke="#050808" stroke-opacity="0.74" stroke-width="3.4" stroke-linejoin="miter"><path d="M425.8 1365.9l7.9 7.9-7.9 7.9-7.9-7.9z"/><path d="M521.3 1376.5l7 7-7 7-7-7z"/><path d="M479.4 1374.8l8.6 8.6-8.6 8.6-8.6-8.6z"/></g>
<g fill="#f85656" fill-opacity="0.62" stroke="#080505" stroke-opacity="0.74" stroke-width="3.4"><circle cx="753.3" cy="1228.2" r="7"/></g>
<g fill="#52f6f6" fill-opacity="0.7" stroke="#050808" stroke-opacity="0.74" stroke-width="3.4" stroke-linejoin="miter"><path d="M505.5 1434.5l8.6 8.6-8.6 8.6-8.6-8.6z"/><path d="M342.5 1451.5l7.5 7.5-7.5 7.5-7.5-7.5z"/><path d="M529.3 1307.1l3.8 3.8-3.8 3.8-3.8-3.8z"/><path d="M553.5 1347.3l4.6 4.6-4.6 4.6-4.6-4.6z"/><path d="M320.4 1372.2l8.2 8.2-8.2 8.2-8.2-8.2z"/><path d="M445 1389.2l9.2 9.2-9.2 9.2-9.2-9.2z"/><path d="M370.8 1521.2l7.8 7.8-7.8 7.8-7.8-7.8z"/><path d="M432.8 1411.8l9 9-9 9-9-9z"/><path d="M408.6 1488.4l8.5 8.5-8.5 8.5-8.5-8.5z"/><path d="M330.7 1495.8l7.3 7.3-7.3 7.3-7.3-7.3z"/><path d="M336.8 1539.4l4.6 4.6-4.6 4.6-4.6-4.6z"/></g>
<g fill="#f85656" fill-opacity="0.62" stroke="#080505" stroke-opacity="0.74" stroke-width="3.4"><circle cx="652" cy="1287.7" r="5.4"/><circle cx="614.9" cy="1268.5" r="6"/></g>
<g fill="#52f6f6" fill-opacity="0.7" stroke="#050808" stroke-opacity="0.74" stroke-width="3.4" stroke-linejoin="miter"><path d="M452.9 1481.4l9.3 9.3-9.3 9.3-9.3-9.3z"/><path d="M377.6 1471.2l8.4 8.4-8.4 8.4-8.4-8.4z"/><path d="M509 1429.6l7.9 7.9-7.9 7.9-7.9-7.9z"/><path d="M439.2 1434.9l10.6 10.6-10.6 10.6-10.6-10.6z"/><path d="M414.7 1419.8l10.4 10.4-10.4 10.4-10.4-10.4z"/><path d="M532.2 1333.2l4.8 4.8-4.8 4.8-4.8-4.8z"/><path d="M339.7 1429.5l8 8-8 8-8-8z"/><path d="M328.3 1436.2l7.8 7.8-7.8 7.8-7.8-7.8z"/><path d="M321.1 1468.5l8.8 8.8-8.8 8.8-8.8-8.8z"/><path d="M357.1 1491.3l8.8 8.8-8.8 8.8-8.8-8.8z"/><path d="M354.1 1545l6.8 6.8-6.8 6.8-6.8-6.8z"/><path d="M468.1 1415l10.6 10.6-10.6 10.6-10.6-10.6z"/><path d="M462.8 1463.1l9.2 9.2-9.2 9.2-9.2-9.2z"/><path d="M445 1488.7l7.6 7.6-7.6 7.6-7.6-7.6z"/><path d="M403.3 1401.7l8.8 8.8-8.8 8.8-8.8-8.8z"/><path d="M505.4 1356.8l8.7 8.7-8.7 8.7-8.7-8.7z"/><path d="M416.5 1487.2l7.7 7.7-7.7 7.7-7.7-7.7z"/><path d="M502.7 1394l7.9 7.9-7.9 7.9-7.9-7.9z"/><path d="M507.3 1399.5l9.4 9.4-9.4 9.4-9.4-9.4z"/><path d="M470.9 1402.7l10.7 10.7-10.7 10.7-10.7-10.7z"/></g>
<g fill="#f85656" fill-opacity="0.62" stroke="#080505" stroke-opacity="0.74" stroke-width="3.4"><circle cx="698.4" cy="1312.7" r="5.6"/></g>
<g fill="#52f6f6" fill-opacity="0.7" stroke="#050808" stroke-opacity="0.74" stroke-width="3.4" stroke-linejoin="miter"><path d="M352.9 1491.3l9.4 9.4-9.4 9.4-9.4-9.4z"/><path d="M468.1 1337.9l7.7 7.7-7.7 7.7-7.7-7.7z"/><path d="M518.6 1316.3l4.5 4.5-4.5 4.5-4.5-4.5z"/><path d="M292.7 1387l7.6 7.6-7.6 7.6-7.6-7.6z"/><path d="M403.2 1519.7l7.1 7.1-7.1 7.1-7.1-7.1z"/><path d="M556.2 1463l5.6 5.6-5.6 5.6-5.6-5.6z"/><path d="M467.9 1426.3l8.1 8.1-8.1 8.1-8.1-8.1z"/><path d="M348.9 1451.1l8 8-8 8-8-8z"/><path d="M349.5 1491l8 8-8 8-8-8z"/><path d="M446.7 1335.6l7.7 7.7-7.7 7.7-7.7-7.7z"/><path d="M316.9 1495l8.9 8.9-8.9 8.9-8.9-8.9z"/><path d="M479.2 1357.9l7.3 7.3-7.3 7.3-7.3-7.3z"/><path d="M460.2 1531.4l6.7 6.7-6.7 6.7-6.7-6.7z"/><path d="M517 1367.7l7.9 7.9-7.9 7.9-7.9-7.9z"/><path d="M409.3 1424.3l9.4 9.4-9.4 9.4-9.4-9.4z"/><path d="M469 1394.6l11.1 11.1-11.1 11.1-11.1-11.1z"/><path d="M392.4 1490.9l8.8 8.8-8.8 8.8-8.8-8.8z"/><path d="M446.6 1368.2l10.4 10.4-10.4 10.4-10.4-10.4z"/><path d="M365.5 1432.7l9.9 9.9-9.9 9.9-9.9-9.9z"/><path d="M392.2 1498.4l8 8-8 8-8-8z"/></g>
<g fill="#f85656" fill-opacity="0.62" stroke="#080505" stroke-opacity="0.74" stroke-width="3.4"><circle cx="576" cy="1324" r="2.7"/></g>
<g fill="#52f6f6" fill-opacity="0.7" stroke="#050808" stroke-opacity="0.74" stroke-width="3.4" stroke-linejoin="miter"><path d="M462.2 1475.6l7.7 7.7-7.7 7.7-7.7-7.7z"/></g>
<g fill="#f85656" fill-opacity="0.62" stroke="#080505" stroke-opacity="0.74" stroke-width="3.4"><circle cx="642.1" cy="1253" r="6.4"/></g>
<g fill="#52f6f6" fill-opacity="0.7" stroke="#050808" stroke-opacity="0.74" stroke-width="3.4" stroke-linejoin="miter"><path d="M551.7 1348.4l5.7 5.7-5.7 5.7-5.7-5.7z"/><path d="M379.1 1473.4l9.8 9.8-9.8 9.8-9.8-9.8z"/><path d="M520.9 1310l3.8 3.8-3.8 3.8-3.8-3.8z"/><path d="M315 1492.6l7.3 7.3-7.3 7.3-7.3-7.3z"/><path d="M426.4 1481.7l9.3 9.3-9.3 9.3-9.3-9.3z"/><path d="M505.2 1345.6l6 6-6 6-6-6z"/><path d="M385.9 1421.7l10.9 10.9-10.9 10.9-10.9-10.9z"/><path d="M419.2 1524l7.6 7.6-7.6 7.6-7.6-7.6z"/><path d="M539.2 1338.9l5.6 5.6-5.6 5.6-5.6-5.6z"/></g>
<g fill="#f85656" fill-opacity="0.62" stroke="#080505" stroke-opacity="0.74" stroke-width="3.4"><circle cx="593" cy="1322.1" r="3.3"/></g>
<g fill="#52f6f6" fill-opacity="0.7" stroke="#050808" stroke-opacity="0.74" stroke-width="3.4" stroke-linejoin="miter"><path d="M409.4 1476.1l9.2 9.2-9.2 9.2-9.2-9.2z"/><path d="M403.3 1425.3l10.4 10.4-10.4 10.4-10.4-10.4z"/><path d="M482.9 1338.1l7.3 7.3-7.3 7.3-7.3-7.3z"/><path d="M522.8 1362l6.8 6.8-6.8 6.8-6.8-6.8z"/><path d="M443.9 1457.1l9.2 9.2-9.2 9.2-9.2-9.2z"/><path d="M562.2 1373.8l6 6-6 6-6-6z"/><path d="M344.2 1465.5l9.9 9.9-9.9 9.9-9.9-9.9z"/><path d="M333.8 1493.5l7.5 7.5-7.5 7.5-7.5-7.5z"/><path d="M463.9 1431.3l10.4 10.4-10.4 10.4-10.4-10.4z"/><path d="M396.9 1385.2l7.4 7.4-7.4 7.4-7.4-7.4z"/><path d="M466.3 1427.4l10.3 10.3-10.3 10.3-10.3-10.3z"/><path d="M552.3 1339l4 4-4 4-4-4z"/><path d="M434.1 1373.9l8 8-8 8-8-8z"/><path d="M378.1 1458.2l9.1 9.1-9.1 9.1-9.1-9.1z"/><path d="M543.7 1416.9l8.1 8.1-8.1 8.1-8.1-8.1z"/></g>
<g fill="#f85656" fill-opacity="0.62" stroke="#080505" stroke-opacity="0.74" stroke-width="3.4"><circle cx="627.4" cy="1284.5" r="5.6"/></g>
<g fill="#52f6f6" fill-opacity="0.7" stroke="#050808" stroke-opacity="0.74" stroke-width="3.4" stroke-linejoin="miter"><path d="M552.1 1320.7l3.4 3.4-3.4 3.4-3.4-3.4z"/></g>
<g fill="#f85656" fill-opacity="0.62" stroke="#080505" stroke-opacity="0.74" stroke-width="3.4"><circle cx="642.9" cy="1262.8" r="6.1"/><circle cx="690.2" cy="1266.3" r="5.6"/></g>
<g fill="#52f6f6" fill-opacity="0.7" stroke="#050808" stroke-opacity="0.74" stroke-width="3.4" stroke-linejoin="miter"><path d="M426.6 1502.4l7.7 7.7-7.7 7.7-7.7-7.7z"/><path d="M479.4 1374.1l11 11-11 11-11-11z"/><path d="M536.2 1418.7l7.4 7.4-7.4 7.4-7.4-7.4z"/><path d="M508.6 1289.6l3.3 3.3-3.3 3.3-3.3-3.3z"/><path d="M459.1 1411l10.9 10.9-10.9 10.9-10.9-10.9z"/><path d="M337.2 1438.2l9.3 9.3-9.3 9.3-9.3-9.3z"/><path d="M401.3 1482.8l8.2 8.2-8.2 8.2-8.2-8.2z"/><path d="M381.6 1466.6l9.5 9.5-9.5 9.5-9.5-9.5z"/><path d="M541.1 1333.4l4.3 4.3-4.3 4.3-4.3-4.3z"/><path d="M345.4 1501.4l7.8 7.8-7.8 7.8-7.8-7.8z"/><path d="M515.1 1383.3l8.5 8.5-8.5 8.5-8.5-8.5z"/></g>
<g fill="#f85656" fill-opacity="0.62" stroke="#080505" stroke-opacity="0.74" stroke-width="3.4"><circle cx="608.4" cy="1272.8" r="5.6"/></g>
<g fill="#52f6f6" fill-opacity="0.7" stroke="#050808" stroke-opacity="0.74" stroke-width="3.4" stroke-linejoin="miter"><path d="M429.7 1422.4l10.9 10.9-10.9 10.9-10.9-10.9z"/><path d="M414.5 1410l10 10-10 10-10-10z"/><path d="M576.1 1406.6l6 6-6 6-6-6z"/><path d="M451.3 1346.5l7.6 7.6-7.6 7.6-7.6-7.6z"/><path d="M382.8 1431.3l8.4 8.4-8.4 8.4-8.4-8.4z"/><path d="M297 1468.8l7.3 7.3-7.3 7.3-7.3-7.3z"/><path d="M345.9 1471.6l9.7 9.7-9.7 9.7-9.7-9.7z"/><path d="M375.8 1452.8l8.9 8.9-8.9 8.9-8.9-8.9z"/><path d="M462.3 1409.8l9.4 9.4-9.4 9.4-9.4-9.4z"/><path d="M475.9 1443.6l10.1 10.1-10.1 10.1-10.1-10.1z"/><path d="M420.5 1395.9l8.3 8.3-8.3 8.3-8.3-8.3z"/><path d="M520 1364.5l7.6 7.6-7.6 7.6-7.6-7.6z"/><path d="M533.1 1362.2l6.3 6.3-6.3 6.3-6.3-6.3z"/><path d="M438.2 1426l8.5 8.5-8.5 8.5-8.5-8.5z"/><path d="M433.2 1445.6l9.1 9.1-9.1 9.1-9.1-9.1z"/><path d="M375.6 1425.8l9.1 9.1-9.1 9.1-9.1-9.1z"/><path d="M497.4 1400.9l9 9-9 9-9-9z"/><path d="M436.3 1447.8l10.5 10.5-10.5 10.5-10.5-10.5z"/><path d="M457.6 1469.3l7.9 7.9-7.9 7.9-7.9-7.9z"/><path d="M425.1 1356.9l9.7 9.7-9.7 9.7-9.7-9.7z"/><path d="M448.3 1470.9l9.7 9.7-9.7 9.7-9.7-9.7z"/><path d="M489.6 1435.8l9.9 9.9-9.9 9.9-9.9-9.9z"/><path d="M423.4 1458.5l10.2 10.2-10.2 10.2-10.2-10.2z"/><path d="M397.3 1415.5l10.7 10.7-10.7 10.7-10.7-10.7z"/><path d="M437 1400.2l8.7 8.7-8.7 8.7-8.7-8.7z"/><path d="M420.1 1418.9l10.4 10.4-10.4 10.4-10.4-10.4z"/><path d="M462 1398.8l11.1 11.1-11.1 11.1-11.1-11.1z"/><path d="M499.8 1408.5l10.5 10.5-10.5 10.5-10.5-10.5z"/><path d="M398.9 1409.6l9.4 9.4-9.4 9.4-9.4-9.4z"/><path d="M304.5 1472.2l8 8-8 8-8-8z"/><path d="M475.4 1533.3l7 7-7 7-7-7z"/><path d="M451.3 1413.3l8.7 8.7-8.7 8.7-8.7-8.7z"/></g>
<g fill="#f85656" fill-opacity="0.62" stroke="#080505" stroke-opacity="0.74" stroke-width="3.4"><circle cx="726.1" cy="1216.4" r="7"/></g>
<g fill="#52f6f6" fill-opacity="0.7" stroke="#050808" stroke-opacity="0.74" stroke-width="3.4" stroke-linejoin="miter"><path d="M291.5 1515.1l8.1 8.1-8.1 8.1-8.1-8.1z"/><path d="M508.6 1424.4l8.3 8.3-8.3 8.3-8.3-8.3z"/><path d="M536.8 1394.9l6.9 6.9-6.9 6.9-6.9-6.9z"/><path d="M456.7 1418.3l9.8 9.8-9.8 9.8-9.8-9.8z"/><path d="M352.4 1515.2l9.4 9.4-9.4 9.4-9.4-9.4z"/><path d="M507.3 1392.8l8.4 8.4-8.4 8.4-8.4-8.4z"/><path d="M425.6 1455.3l9.2 9.2-9.2 9.2-9.2-9.2z"/><path d="M490.1 1473.6l7.2 7.2-7.2 7.2-7.2-7.2z"/><path d="M508.5 1425.7l7.5 7.5-7.5 7.5-7.5-7.5z"/><path d="M503.9 1360.6l7.4 7.4-7.4 7.4-7.4-7.4z"/></g>
<g fill="#f85656" fill-opacity="0.62" stroke="#080505" stroke-opacity="0.74" stroke-width="3.4"><circle cx="661.4" cy="1290.6" r="6.7"/></g>
<g fill="#52f6f6" fill-opacity="0.7" stroke="#050808" stroke-opacity="0.74" stroke-width="3.4" stroke-linejoin="miter"><path d="M316.2 1521.8l8.9 8.9-8.9 8.9-8.9-8.9z"/><path d="M378.7 1472.1l10.1 10.1-10.1 10.1-10.1-10.1z"/><path d="M557.3 1351.1l4.6 4.6-4.6 4.6-4.6-4.6z"/><path d="M501.6 1342.1l7.6 7.6-7.6 7.6-7.6-7.6z"/><path d="M378.4 1502.5l9 9-9 9-9-9z"/><path d="M597.1 1375.6l3.3 3.3-3.3 3.3-3.3-3.3z"/><path d="M281 1518.6l5 5-5 5-5-5z"/><path d="M506.8 1332l5 5-5 5-5-5z"/><path d="M458 1424.2l8.3 8.3-8.3 8.3-8.3-8.3z"/></g>
<g fill="#f85656" fill-opacity="0.62" stroke="#080505" stroke-opacity="0.74" stroke-width="3.4"><circle cx="740.3" cy="1160.6" r="7.2"/></g>
<g fill="#52f6f6" fill-opacity="0.7" stroke="#050808" stroke-opacity="0.74" stroke-width="3.4" stroke-linejoin="miter"><path d="M534.9 1357.5l7.5 7.5-7.5 7.5-7.5-7.5z"/></g>
<g fill="#f85656" fill-opacity="0.62" stroke="#080505" stroke-opacity="0.74" stroke-width="3.4"><circle cx="633.1" cy="1354" r="2.7"/><circle cx="544.3" cy="1245.6" r="5.2"/></g>
<g fill="#52f6f6" fill-opacity="0.7" stroke="#050808" stroke-opacity="0.74" stroke-width="3.4" stroke-linejoin="miter"><path d="M418.9 1411.9l10.9 10.9-10.9 10.9-10.9-10.9z"/><path d="M480.2 1395.6l11.1 11.1-11.1 11.1-11.1-11.1z"/><path d="M400.2 1438.9l10.1 10.1-10.1 10.1-10.1-10.1z"/><path d="M503.3 1420.3l10.2 10.2-10.2 10.2-10.2-10.2z"/><path d="M540.9 1331.8l5.1 5.1-5.1 5.1-5.1-5.1z"/><path d="M330.4 1547.4l5.6 5.6-5.6 5.6-5.6-5.6z"/></g>
<g fill="#f85656" fill-opacity="0.62" stroke="#080505" stroke-opacity="0.74" stroke-width="3.4"><circle cx="551.4" cy="1275.3" r="3.6"/></g>
<g fill="#52f6f6" fill-opacity="0.7" stroke="#050808" stroke-opacity="0.74" stroke-width="3.4" stroke-linejoin="miter"><path d="M402.2 1427.7l9.6 9.6-9.6 9.6-9.6-9.6z"/><path d="M361 1452.9l8.9 8.9-8.9 8.9-8.9-8.9z"/><path d="M351.2 1453.1l8.8 8.8-8.8 8.8-8.8-8.8z"/><path d="M385.4 1489.2l9 9-9 9-9-9z"/></g>
<g fill="#f85656" fill-opacity="0.62" stroke="#080505" stroke-opacity="0.74" stroke-width="3.4"><circle cx="606.2" cy="1294.8" r="5.1"/></g>
<g fill="#52f6f6" fill-opacity="0.7" stroke="#050808" stroke-opacity="0.74" stroke-width="3.4" stroke-linejoin="miter"><path d="M546.8 1331.7l3.9 3.9-3.9 3.9-3.9-3.9z"/><path d="M356.9 1576.6l4.2 4.2-4.2 4.2-4.2-4.2z"/><path d="M349.9 1461.5l8.4 8.4-8.4 8.4-8.4-8.4z"/><path d="M448.6 1396l10.5 10.5-10.5 10.5-10.5-10.5z"/><path d="M406.7 1340.3l6.5 6.5-6.5 6.5-6.5-6.5z"/><path d="M376.3 1426.5l9.2 9.2-9.2 9.2-9.2-9.2z"/></g>
<g fill="#f85656" fill-opacity="0.62" stroke="#080505" stroke-opacity="0.74" stroke-width="3.4"><circle cx="667.6" cy="1291.2" r="5.7"/></g>
<g fill="#52f6f6" fill-opacity="0.7" stroke="#050808" stroke-opacity="0.74" stroke-width="3.4" stroke-linejoin="miter"><path d="M337.1 1449.3l9.6 9.6-9.6 9.6-9.6-9.6z"/><path d="M414.3 1446.9l10.4 10.4-10.4 10.4-10.4-10.4z"/><path d="M449.4 1409.3l10.1 10.1-10.1 10.1-10.1-10.1z"/><path d="M390.9 1382.3l8.4 8.4-8.4 8.4-8.4-8.4z"/><path d="M583.9 1343.5l3.3 3.3-3.3 3.3-3.3-3.3z"/><path d="M401.7 1512.1l6.8 6.8-6.8 6.8-6.8-6.8z"/><path d="M355.9 1496.9l9.6 9.6-9.6 9.6-9.6-9.6z"/><path d="M523.5 1370.7l6.4 6.4-6.4 6.4-6.4-6.4z"/><path d="M394.2 1427.4l9.1 9.1-9.1 9.1-9.1-9.1z"/></g>
<g fill="#f85656" fill-opacity="0.62" stroke="#080505" stroke-opacity="0.74" stroke-width="3.4"><circle cx="581.5" cy="1323.8" r="2.7"/></g>
<g fill="#52f6f6" fill-opacity="0.7" stroke="#050808" stroke-opacity="0.74" stroke-width="3.4" stroke-linejoin="miter"><path d="M280.9 1550l5.5 5.5-5.5 5.5-5.5-5.5z"/></g>
<g fill="#f85656" fill-opacity="0.62" stroke="#080505" stroke-opacity="0.74" stroke-width="3.4"><circle cx="529.6" cy="1295.4" r="2.7"/></g>
<g fill="#52f6f6" fill-opacity="0.7" stroke="#050808" stroke-opacity="0.74" stroke-width="3.4" stroke-linejoin="miter"><path d="M430.5 1454.2l10.1 10.1-10.1 10.1-10.1-10.1z"/><path d="M427 1441.9l8.7 8.7-8.7 8.7-8.7-8.7z"/><path d="M215.2 1461.2l5.2 5.2-5.2 5.2-5.2-5.2z"/><path d="M369.3 1422.5l10.2 10.2-10.2 10.2-10.2-10.2z"/><path d="M307.8 1465l8.8 8.8-8.8 8.8-8.8-8.8z"/><path d="M390.1 1445.3l8.4 8.4-8.4 8.4-8.4-8.4z"/><path d="M478.6 1450.2l8 8-8 8-8-8z"/><path d="M335.5 1472.5l8.8 8.8-8.8 8.8-8.8-8.8z"/><path d="M384.8 1498.3l7.4 7.4-7.4 7.4-7.4-7.4z"/><path d="M545.6 1368.5l7.5 7.5-7.5 7.5-7.5-7.5z"/><path d="M427.4 1385.4l9.5 9.5-9.5 9.5-9.5-9.5z"/><path d="M344.3 1412.8l8.4 8.4-8.4 8.4-8.4-8.4z"/><path d="M365.6 1514.1l8.3 8.3-8.3 8.3-8.3-8.3z"/><path d="M362.2 1447.6l10 10-10 10-10-10z"/><path d="M525.6 1299.6l3.3 3.3-3.3 3.3-3.3-3.3z"/><path d="M569.7 1355.9l5.4 5.4-5.4 5.4-5.4-5.4z"/><path d="M366.4 1535.7l4.9 4.9-4.9 4.9-4.9-4.9z"/><path d="M327.8 1454.4l7.7 7.7-7.7 7.7-7.7-7.7z"/><path d="M524.6 1331.9l6 6-6 6-6-6z"/><path d="M493.9 1409.8l10.2 10.2-10.2 10.2-10.2-10.2z"/></g>
<g fill="#f85656" fill-opacity="0.62" stroke="#080505" stroke-opacity="0.74" stroke-width="3.4"><circle cx="673.8" cy="1202.7" r="7.5"/></g>
<g fill="#52f6f6" fill-opacity="0.7" stroke="#050808" stroke-opacity="0.74" stroke-width="3.4" stroke-linejoin="miter"><path d="M408.5 1513l7.9 7.9-7.9 7.9-7.9-7.9z"/></g>
<g fill="#f85656" fill-opacity="0.62" stroke="#080505" stroke-opacity="0.74" stroke-width="3.4"><circle cx="681.5" cy="1247.9" r="5.6"/></g>
<g fill="#52f6f6" fill-opacity="0.7" stroke="#050808" stroke-opacity="0.74" stroke-width="3.4" stroke-linejoin="miter"><path d="M537.1 1330.7l4 4-4 4-4-4z"/><path d="M419.1 1369.6l9.7 9.7-9.7 9.7-9.7-9.7z"/><path d="M369.1 1413.6l9.2 9.2-9.2 9.2-9.2-9.2z"/><path d="M316.8 1563.1l4.9 4.9-4.9 4.9-4.9-4.9z"/><path d="M349.2 1454.3l8.4 8.4-8.4 8.4-8.4-8.4z"/><path d="M469.6 1431.3l7.7 7.7-7.7 7.7-7.7-7.7z"/><path d="M355.9 1487.2l7.9 7.9-7.9 7.9-7.9-7.9z"/></g>
<g fill="#f85656" fill-opacity="0.62" stroke="#080505" stroke-opacity="0.74" stroke-width="3.4"><circle cx="656.2" cy="1277.7" r="5.9"/></g>
<g fill="#52f6f6" fill-opacity="0.7" stroke="#050808" stroke-opacity="0.74" stroke-width="3.4" stroke-linejoin="miter"><path d="M331 1478.2l8.8 8.8-8.8 8.8-8.8-8.8z"/><path d="M458.1 1406l10.7 10.7-10.7 10.7-10.7-10.7z"/><path d="M341.2 1433.8l9 9-9 9-9-9z"/><path d="M428 1364.5l8.5 8.5-8.5 8.5-8.5-8.5z"/><path d="M501.7 1396.7l9.3 9.3-9.3 9.3-9.3-9.3z"/><path d="M479.4 1344l8.4 8.4-8.4 8.4-8.4-8.4z"/><path d="M527.4 1353.8l6.3 6.3-6.3 6.3-6.3-6.3z"/><path d="M486.2 1382.3l9 9-9 9-9-9z"/><path d="M387.3 1471.2l9.7 9.7-9.7 9.7-9.7-9.7z"/><path d="M311.8 1485.1l7.6 7.6-7.6 7.6-7.6-7.6z"/></g>
<g fill="#f85656" fill-opacity="0.62" stroke="#080505" stroke-opacity="0.74" stroke-width="3.4"><circle cx="597.8" cy="1281.5" r="4.7"/></g>
<g fill="#52f6f6" fill-opacity="0.7" stroke="#050808" stroke-opacity="0.74" stroke-width="3.4" stroke-linejoin="miter"><path d="M323.7 1605.2l3.3 3.3-3.3 3.3-3.3-3.3z"/><path d="M388.9 1476.8l9.3 9.3-9.3 9.3-9.3-9.3z"/><path d="M451.3 1413.8l10.3 10.3-10.3 10.3-10.3-10.3z"/></g>
<g fill="#f85656" fill-opacity="0.62" stroke="#080505" stroke-opacity="0.74" stroke-width="3.4"><circle cx="644" cy="1271.6" r="6.1"/></g>
<g fill="#52f6f6" fill-opacity="0.7" stroke="#050808" stroke-opacity="0.74" stroke-width="3.4" stroke-linejoin="miter"><path d="M367.1 1534l6.5 6.5-6.5 6.5-6.5-6.5z"/><path d="M573.9 1377.5l6.6 6.6-6.6 6.6-6.6-6.6z"/><path d="M428.6 1415.9l10.6 10.6-10.6 10.6-10.6-10.6z"/></g>
<g fill="#f85656" fill-opacity="0.62" stroke="#080505" stroke-opacity="0.74" stroke-width="3.4"><circle cx="574.4" cy="1326.1" r="2.7"/></g>
<g fill="#52f6f6" fill-opacity="0.7" stroke="#050808" stroke-opacity="0.74" stroke-width="3.4" stroke-linejoin="miter"><path d="M513.3 1392.2l9.7 9.7-9.7 9.7-9.7-9.7z"/><path d="M413 1460.7l9.1 9.1-9.1 9.1-9.1-9.1z"/><path d="M553.9 1353.5l5 5-5 5-5-5z"/><path d="M555.1 1345.1l4.6 4.6-4.6 4.6-4.6-4.6z"/><path d="M505.5 1361.2l6.6 6.6-6.6 6.6-6.6-6.6z"/><path d="M361.9 1482l8.5 8.5-8.5 8.5-8.5-8.5z"/></g>
<g fill="#f85656" fill-opacity="0.62" stroke="#080505" stroke-opacity="0.74" stroke-width="3.4"><circle cx="647.1" cy="1255.6" r="5.8"/></g>
<g fill="#52f6f6" fill-opacity="0.7" stroke="#050808" stroke-opacity="0.74" stroke-width="3.4" stroke-linejoin="miter"><path d="M390.6 1519.7l6.9 6.9-6.9 6.9-6.9-6.9z"/><path d="M486 1344.8l7.9 7.9-7.9 7.9-7.9-7.9z"/><path d="M511.7 1328.2l4.6 4.6-4.6 4.6-4.6-4.6z"/><path d="M359.4 1390.3l6.7 6.7-6.7 6.7-6.7-6.7z"/><path d="M345.6 1431.4l8 8-8 8-8-8z"/></g>
<g fill="#f85656" fill-opacity="0.62" stroke="#080505" stroke-opacity="0.74" stroke-width="3.4"><circle cx="602" cy="1282.3" r="5.1"/></g>
<g fill="#52f6f6" fill-opacity="0.7" stroke="#050808" stroke-opacity="0.74" stroke-width="3.4" stroke-linejoin="miter"><path d="M506.4 1352.5l7.2 7.2-7.2 7.2-7.2-7.2z"/><path d="M377.8 1423l7.9 7.9-7.9 7.9-7.9-7.9z"/><path d="M530.9 1352.4l6 6-6 6-6-6z"/><path d="M502 1337.8l6.1 6.1-6.1 6.1-6.1-6.1z"/><path d="M407.4 1404.7l10.2 10.2-10.2 10.2-10.2-10.2z"/></g>
<g fill="#f85656" fill-opacity="0.62" stroke="#080505" stroke-opacity="0.74" stroke-width="3.4"><circle cx="624.1" cy="1322.9" r="4.2"/></g>
<g fill="#52f6f6" fill-opacity="0.7" stroke="#050808" stroke-opacity="0.74" stroke-width="3.4" stroke-linejoin="miter"><path d="M390.6 1422.5l9.2 9.2-9.2 9.2-9.2-9.2z"/><path d="M492.1 1446l7.5 7.5-7.5 7.5-7.5-7.5z"/><path d="M390.6 1482l7.8 7.8-7.8 7.8-7.8-7.8z"/><path d="M429.2 1431.2l9.1 9.1-9.1 9.1-9.1-9.1z"/></g>
<g fill="#f85656" fill-opacity="0.62" stroke="#080505" stroke-opacity="0.74" stroke-width="3.4"><circle cx="653.1" cy="1290.1" r="5.6"/></g>
<g fill="#52f6f6" fill-opacity="0.7" stroke="#050808" stroke-opacity="0.74" stroke-width="3.4" stroke-linejoin="miter"><path d="M473.2 1417.9l8.9 8.9-8.9 8.9-8.9-8.9z"/><path d="M455.9 1403l9 9-9 9-9-9z"/><path d="M476.6 1440.6l8.5 8.5-8.5 8.5-8.5-8.5z"/><path d="M361.6 1435.6l10 10-10 10-10-10z"/><path d="M366.9 1477.1l9.2 9.2-9.2 9.2-9.2-9.2z"/><path d="M416.1 1471.9l9.6 9.6-9.6 9.6-9.6-9.6z"/><path d="M283.1 1536.8l7.1 7.1-7.1 7.1-7.1-7.1z"/></g>
<g fill="#f85656" fill-opacity="0.62" stroke="#080505" stroke-opacity="0.74" stroke-width="3.4"><circle cx="662.4" cy="1288" r="5.8"/></g>
<g fill="#52f6f6" fill-opacity="0.7" stroke="#050808" stroke-opacity="0.74" stroke-width="3.4" stroke-linejoin="miter"><path d="M406.8 1443.6l9.8 9.8-9.8 9.8-9.8-9.8z"/><path d="M506.5 1345.3l7 7-7 7-7-7z"/><path d="M436.6 1390.9l9 9-9 9-9-9z"/><path d="M383 1426.8l9.6 9.6-9.6 9.6-9.6-9.6z"/><path d="M489.7 1378.3l10 10-10 10-10-10z"/><path d="M679.1 1446.6l3.3 3.3-3.3 3.3-3.3-3.3z"/><path d="M370.9 1439.7l8.3 8.3-8.3 8.3-8.3-8.3z"/><path d="M550.5 1335.6l4.5 4.5-4.5 4.5-4.5-4.5z"/><path d="M484.4 1374.5l9.5 9.5-9.5 9.5-9.5-9.5z"/><path d="M387.2 1503.5l9.3 9.3-9.3 9.3-9.3-9.3z"/><path d="M503.7 1374.7l7.4 7.4-7.4 7.4-7.4-7.4z"/><path d="M312.5 1479.2l8.7 8.7-8.7 8.7-8.7-8.7z"/></g>
<g fill="#f85656" fill-opacity="0.62" stroke="#080505" stroke-opacity="0.74" stroke-width="3.4"><circle cx="707.6" cy="1197.5" r="7.5"/></g>
<g fill="#52f6f6" fill-opacity="0.7" stroke="#050808" stroke-opacity="0.74" stroke-width="3.4" stroke-linejoin="miter"><path d="M492.4 1340.1l7 7-7 7-7-7z"/><path d="M435.1 1428l10.1 10.1-10.1 10.1-10.1-10.1z"/><path d="M458.6 1431.3l9.3 9.3-9.3 9.3-9.3-9.3z"/><path d="M374.5 1462.8l8.5 8.5-8.5 8.5-8.5-8.5z"/><path d="M324.3 1555.1l5.9 5.9-5.9 5.9-5.9-5.9z"/><path d="M381.5 1450.2l10.6 10.6-10.6 10.6-10.6-10.6z"/><path d="M446.5 1393.6l10.2 10.2-10.2 10.2-10.2-10.2z"/><path d="M440.2 1439.7l8.5 8.5-8.5 8.5-8.5-8.5z"/><path d="M522.5 1330.9l5.9 5.9-5.9 5.9-5.9-5.9z"/><path d="M526.5 1358.8l7.4 7.4-7.4 7.4-7.4-7.4z"/><path d="M478.9 1442.5l8.5 8.5-8.5 8.5-8.5-8.5z"/><path d="M305.6 1511.6l8.3 8.3-8.3 8.3-8.3-8.3z"/><path d="M509.2 1340.4l6.3 6.3-6.3 6.3-6.3-6.3z"/><path d="M393.2 1496.2l9.4 9.4-9.4 9.4-9.4-9.4z"/></g>
<g fill="#f85656" fill-opacity="0.62" stroke="#080505" stroke-opacity="0.74" stroke-width="3.4"><circle cx="656.5" cy="1293.5" r="5.5"/></g>
<g fill="#52f6f6" fill-opacity="0.7" stroke="#050808" stroke-opacity="0.74" stroke-width="3.4" stroke-linejoin="miter"><path d="M383.7 1498.7l9.1 9.1-9.1 9.1-9.1-9.1z"/><path d="M430.7 1445.8l10 10-10 10-10-10z"/><path d="M394.1 1503l9.4 9.4-9.4 9.4-9.4-9.4z"/><path d="M524.1 1337l5 5-5 5-5-5z"/><path d="M409.7 1461.7l8.4 8.4-8.4 8.4-8.4-8.4z"/><path d="M445.8 1428.7l9 9-9 9-9-9z"/><path d="M625.9 1382l3.6 3.6-3.6 3.6-3.6-3.6z"/><path d="M443.4 1492l8.9 8.9-8.9 8.9-8.9-8.9z"/><path d="M387.7 1463l10.3 10.3-10.3 10.3-10.3-10.3z"/><path d="M489 1422.5l8.2 8.2-8.2 8.2-8.2-8.2z"/></g>
<g fill="#f85656" fill-opacity="0.62" stroke="#080505" stroke-opacity="0.74" stroke-width="3.4"><circle cx="695.9" cy="1253.9" r="5.8"/></g>
<g fill="#52f6f6" fill-opacity="0.7" stroke="#050808" stroke-opacity="0.74" stroke-width="3.4" stroke-linejoin="miter"><path d="M427.2 1415.6l9.6 9.6-9.6 9.6-9.6-9.6z"/><path d="M451.4 1468.9l7.7 7.7-7.7 7.7-7.7-7.7z"/><path d="M462 1445.5l9 9-9 9-9-9z"/><path d="M571.9 1355.1l3.7 3.7-3.7 3.7-3.7-3.7z"/><path d="M526.5 1365.6l8.3 8.3-8.3 8.3-8.3-8.3z"/><path d="M401.2 1446.3l9.7 9.7-9.7 9.7-9.7-9.7z"/><path d="M486.4 1389.9l9.1 9.1-9.1 9.1-9.1-9.1z"/><path d="M295.1 1483.9l7.7 7.7-7.7 7.7-7.7-7.7z"/><path d="M548.7 1339.4l4.7 4.7-4.7 4.7-4.7-4.7z"/><path d="M451 1392.4l9.9 9.9-9.9 9.9-9.9-9.9z"/><path d="M338.3 1495.1l7.5 7.5-7.5 7.5-7.5-7.5z"/><path d="M363.5 1492.4l7.8 7.8-7.8 7.8-7.8-7.8z"/><path d="M534.7 1348.8l6.6 6.6-6.6 6.6-6.6-6.6z"/><path d="M447.2 1489.5l7.2 7.2-7.2 7.2-7.2-7.2z"/><path d="M383.1 1452.3l9.2 9.2-9.2 9.2-9.2-9.2z"/></g>
<g fill="#f85656" fill-opacity="0.62" stroke="#080505" stroke-opacity="0.74" stroke-width="3.4"><circle cx="571.9" cy="1307.2" r="2.9"/></g>
<g fill="#52f6f6" fill-opacity="0.7" stroke="#050808" stroke-opacity="0.74" stroke-width="3.4" stroke-linejoin="miter"><path d="M398.9 1498.8l8.3 8.3-8.3 8.3-8.3-8.3z"/><path d="M356.1 1438.9l9.3 9.3-9.3 9.3-9.3-9.3z"/><path d="M495.8 1445.4l7.6 7.6-7.6 7.6-7.6-7.6z"/><path d="M540.9 1346.3l4.7 4.7-4.7 4.7-4.7-4.7z"/><path d="M342.8 1540.1l8.3 8.3-8.3 8.3-8.3-8.3z"/></g>
<g fill="#f85656" fill-opacity="0.62" stroke="#080505" stroke-opacity="0.74" stroke-width="3.4"><circle cx="537.3" cy="1301.7" r="2.7"/></g>
<g fill="#52f6f6" fill-opacity="0.7" stroke="#050808" stroke-opacity="0.74" stroke-width="3.4" stroke-linejoin="miter"><path d="M406.8 1419l9 9-9 9-9-9z"/><path d="M550.6 1357.6l6.8 6.8-6.8 6.8-6.8-6.8z"/><path d="M426.1 1501.2l7.4 7.4-7.4 7.4-7.4-7.4z"/><path d="M472.5 1427l9.2 9.2-9.2 9.2-9.2-9.2z"/><path d="M441.6 1446l9.7 9.7-9.7 9.7-9.7-9.7z"/><path d="M415.7 1421.7l10.7 10.7-10.7 10.7-10.7-10.7z"/><path d="M544.6 1314.4l3.3 3.3-3.3 3.3-3.3-3.3z"/><path d="M329.1 1474.8l7.4 7.4-7.4 7.4-7.4-7.4z"/><path d="M265 1489.4l5.4 5.4-5.4 5.4-5.4-5.4z"/><path d="M470.9 1375.7l8.4 8.4-8.4 8.4-8.4-8.4z"/><path d="M352.1 1426.2l7.8 7.8-7.8 7.8-7.8-7.8z"/><path d="M402 1461.5l9.2 9.2-9.2 9.2-9.2-9.2z"/><path d="M415.4 1382.6l8.5 8.5-8.5 8.5-8.5-8.5z"/><path d="M565 1384.4l4.2 4.2-4.2 4.2-4.2-4.2z"/><path d="M454.1 1352.4l7.6 7.6-7.6 7.6-7.6-7.6z"/><path d="M357.5 1476.1l9.8 9.8-9.8 9.8-9.8-9.8z"/><path d="M327.8 1451.9l8.6 8.6-8.6 8.6-8.6-8.6z"/><path d="M496.3 1373.3l7.9 7.9-7.9 7.9-7.9-7.9z"/><path d="M398.5 1439.9l10.3 10.3-10.3 10.3-10.3-10.3z"/></g>
<g fill="#f85656" fill-opacity="0.62" stroke="#080505" stroke-opacity="0.74" stroke-width="3.4"><circle cx="636.1" cy="1348" r="2.8"/></g>
<g fill="#52f6f6" fill-opacity="0.7" stroke="#050808" stroke-opacity="0.74" stroke-width="3.4" stroke-linejoin="miter"><path d="M336.4 1451l9.6 9.6-9.6 9.6-9.6-9.6z"/><path d="M312.2 1486.5l9 9-9 9-9-9z"/><path d="M324.6 1510.3l7.1 7.1-7.1 7.1-7.1-7.1z"/></g>
<g fill="#f85656" fill-opacity="0.62" stroke="#080505" stroke-opacity="0.74" stroke-width="3.4"><circle cx="632.3" cy="1274.9" r="6"/><circle cx="647" cy="1270.3" r="6.6"/></g>
<g fill="#52f6f6" fill-opacity="0.7" stroke="#050808" stroke-opacity="0.74" stroke-width="3.4" stroke-linejoin="miter"><path d="M576.4 1348.2l3.7 3.7-3.7 3.7-3.7-3.7z"/><path d="M455.5 1424.9l10.5 10.5-10.5 10.5-10.5-10.5z"/><path d="M285.5 1429.5l7.4 7.4-7.4 7.4-7.4-7.4z"/></g>
<g fill="#f85656" fill-opacity="0.62" stroke="#080505" stroke-opacity="0.74" stroke-width="3.4"><circle cx="586.5" cy="1279.8" r="4.3"/></g>
<g fill="#52f6f6" fill-opacity="0.7" stroke="#050808" stroke-opacity="0.74" stroke-width="3.4" stroke-linejoin="miter"><path d="M448.2 1408l9 9-9 9-9-9z"/><path d="M394.8 1441.7l10.9 10.9-10.9 10.9-10.9-10.9z"/><path d="M363.5 1514.4l8.5 8.5-8.5 8.5-8.5-8.5z"/><path d="M305.6 1553.1l6.6 6.6-6.6 6.6-6.6-6.6z"/><path d="M469.9 1332.8l6 6-6 6-6-6z"/><path d="M467.6 1304.8l4.6 4.6-4.6 4.6-4.6-4.6z"/><path d="M511 1363.7l9 9-9 9-9-9z"/><path d="M561.7 1421.5l6 6-6 6-6-6z"/><path d="M379.6 1485.7l8.3 8.3-8.3 8.3-8.3-8.3z"/><path d="M369 1489.3l7.6 7.6-7.6 7.6-7.6-7.6z"/><path d="M549.6 1352.3l4.5 4.5-4.5 4.5-4.5-4.5z"/><path d="M344.3 1477.6l9.7 9.7-9.7 9.7-9.7-9.7z"/><path d="M351.8 1447.3l9.6 9.6-9.6 9.6-9.6-9.6z"/><path d="M548 1330.1l3.7 3.7-3.7 3.7-3.7-3.7z"/><path d="M490.9 1292.3l4.9 4.9-4.9 4.9-4.9-4.9z"/></g>
<g fill="#f85656" fill-opacity="0.62" stroke="#080505" stroke-opacity="0.74" stroke-width="3.4"><circle cx="638.6" cy="1267.9" r="5.6"/></g>
<g fill="#52f6f6" fill-opacity="0.7" stroke="#050808" stroke-opacity="0.74" stroke-width="3.4" stroke-linejoin="miter"><path d="M322.4 1474.6l9.1 9.1-9.1 9.1-9.1-9.1z"/><path d="M522.5 1366l6.1 6.1-6.1 6.1-6.1-6.1z"/><path d="M415.6 1453l8.9 8.9-8.9 8.9-8.9-8.9z"/><path d="M398.9 1407l8.1 8.1-8.1 8.1-8.1-8.1z"/><path d="M354.4 1489.6l10 10-10 10-10-10z"/><path d="M542.1 1340.5l4.9 4.9-4.9 4.9-4.9-4.9z"/><path d="M427.3 1490.3l7.7 7.7-7.7 7.7-7.7-7.7z"/><path d="M481.5 1370.7l7.8 7.8-7.8 7.8-7.8-7.8z"/><path d="M325.3 1518.2l7.1 7.1-7.1 7.1-7.1-7.1z"/><path d="M479.8 1447l9.1 9.1-9.1 9.1-9.1-9.1z"/><path d="M366.8 1465.9l9.4 9.4-9.4 9.4-9.4-9.4z"/><path d="M479.2 1352.8l7.2 7.2-7.2 7.2-7.2-7.2z"/><path d="M349 1474.8l7.6 7.6-7.6 7.6-7.6-7.6z"/><path d="M445.8 1358.8l8.1 8.1-8.1 8.1-8.1-8.1z"/><path d="M434.9 1373l8.1 8.1-8.1 8.1-8.1-8.1z"/><path d="M324.4 1483.8l9.5 9.5-9.5 9.5-9.5-9.5z"/><path d="M527.4 1358.8l6.8 6.8-6.8 6.8-6.8-6.8z"/><path d="M386 1400.5l8.2 8.2-8.2 8.2-8.2-8.2z"/><path d="M455.3 1380l8.3 8.3-8.3 8.3-8.3-8.3z"/><path d="M328.4 1474.4l8.9 8.9-8.9 8.9-8.9-8.9z"/><path d="M383.5 1395l9.9 9.9-9.9 9.9-9.9-9.9z"/><path d="M447.5 1337.5l8.5 8.5-8.5 8.5-8.5-8.5z"/><path d="M543.7 1313.5l3.3 3.3-3.3 3.3-3.3-3.3z"/><path d="M264.5 1562.1l7.8 7.8-7.8 7.8-7.8-7.8z"/><path d="M472.4 1426.9l9.7 9.7-9.7 9.7-9.7-9.7z"/><path d="M368.7 1400.3l9.1 9.1-9.1 9.1-9.1-9.1z"/><path d="M333.2 1549.2l4.8 4.8-4.8 4.8-4.8-4.8z"/><path d="M453.1 1380.6l10.5 10.5-10.5 10.5-10.5-10.5z"/><path d="M492.9 1340.4l6.9 6.9-6.9 6.9-6.9-6.9z"/><path d="M373.5 1576.6l4.2 4.2-4.2 4.2-4.2-4.2z"/><path d="M385.7 1503.7l7.8 7.8-7.8 7.8-7.8-7.8z"/><path d="M403.2 1397l8.4 8.4-8.4 8.4-8.4-8.4z"/><path d="M406.3 1459.6l9.3 9.3-9.3 9.3-9.3-9.3z"/><path d="M498.2 1441.2l7.4 7.4-7.4 7.4-7.4-7.4z"/><path d="M435.4 1502.3l8.5 8.5-8.5 8.5-8.5-8.5z"/><path d="M425.9 1405.8l10.5 10.5-10.5 10.5-10.5-10.5z"/><path d="M377.7 1439.8l8.9 8.9-8.9 8.9-8.9-8.9z"/><path d="M499.4 1398.2l10.3 10.3-10.3 10.3-10.3-10.3z"/><path d="M397.2 1442.6l8.4 8.4-8.4 8.4-8.4-8.4z"/><path d="M413.9 1492.6l7.6 7.6-7.6 7.6-7.6-7.6z"/><path d="M392.8 1439.1l8.7 8.7-8.7 8.7-8.7-8.7z"/><path d="M332.1 1485.7l7.3 7.3-7.3 7.3-7.3-7.3z"/></g>
<g fill="#f85656" fill-opacity="0.62" stroke="#080505" stroke-opacity="0.74" stroke-width="3.4"><circle cx="588.4" cy="1285.8" r="4.9"/><circle cx="627.9" cy="1297.3" r="4.9"/></g>
<g fill="#52f6f6" fill-opacity="0.7" stroke="#050808" stroke-opacity="0.74" stroke-width="3.4" stroke-linejoin="miter"><path d="M405.3 1413.4l8.7 8.7-8.7 8.7-8.7-8.7z"/><path d="M410.9 1426.1l9.2 9.2-9.2 9.2-9.2-9.2z"/><path d="M413.3 1408.7l8.2 8.2-8.2 8.2-8.2-8.2z"/><path d="M380.9 1429.8l9.7 9.7-9.7 9.7-9.7-9.7z"/><path d="M415 1408.5l10.1 10.1-10.1 10.1-10.1-10.1z"/><path d="M528.2 1312.5l3.3 3.3-3.3 3.3-3.3-3.3z"/></g>
<g fill="#f85656" fill-opacity="0.62" stroke="#080505" stroke-opacity="0.74" stroke-width="3.4"><circle cx="545.8" cy="1302" r="2.7"/></g>
<g fill="#52f6f6" fill-opacity="0.7" stroke="#050808" stroke-opacity="0.74" stroke-width="3.4" stroke-linejoin="miter"><path d="M331.5 1411.6l8.4 8.4-8.4 8.4-8.4-8.4z"/><path d="M448.6 1446.7l10.6 10.6-10.6 10.6-10.6-10.6z"/><path d="M455.1 1361.7l10.6 10.6-10.6 10.6-10.6-10.6z"/><path d="M330.7 1467.4l9.4 9.4-9.4 9.4-9.4-9.4z"/><path d="M526.5 1360.3l6.6 6.6-6.6 6.6-6.6-6.6z"/><path d="M497.5 1437.1l9.3 9.3-9.3 9.3-9.3-9.3z"/><path d="M428.8 1458.3l10 10-10 10-10-10z"/></g>
<g fill="#f85656" fill-opacity="0.62" stroke="#080505" stroke-opacity="0.74" stroke-width="3.4"><circle cx="580.3" cy="1316.6" r="2.7"/></g>
<g fill="#52f6f6" fill-opacity="0.7" stroke="#050808" stroke-opacity="0.74" stroke-width="3.4" stroke-linejoin="miter"><path d="M318.5 1551.1l6.1 6.1-6.1 6.1-6.1-6.1z"/></g>
<g fill="#f85656" fill-opacity="0.62" stroke="#080505" stroke-opacity="0.74" stroke-width="3.4"><circle cx="533.7" cy="1299.2" r="2.7"/></g>
<g fill="#52f6f6" fill-opacity="0.7" stroke="#050808" stroke-opacity="0.74" stroke-width="3.4" stroke-linejoin="miter"><path d="M395 1472.9l10.5 10.5-10.5 10.5-10.5-10.5z"/><path d="M430.7 1494.7l7.9 7.9-7.9 7.9-7.9-7.9z"/><path d="M459.5 1369.8l11 11-11 11-11-11z"/><path d="M300.2 1483.2l8.7 8.7-8.7 8.7-8.7-8.7z"/><path d="M323.7 1484.8l8.1 8.1-8.1 8.1-8.1-8.1z"/><path d="M393.2 1375.3l7.6 7.6-7.6 7.6-7.6-7.6z"/><path d="M473.5 1411.1l8.7 8.7-8.7 8.7-8.7-8.7z"/><path d="M361 1432.3l7.9 7.9-7.9 7.9-7.9-7.9z"/><path d="M360.3 1512.4l7.7 7.7-7.7 7.7-7.7-7.7z"/><path d="M472.8 1378l8.5 8.5-8.5 8.5-8.5-8.5z"/><path d="M296.6 1536.4l5.1 5.1-5.1 5.1-5.1-5.1z"/><path d="M465.3 1461.1l8.2 8.2-8.2 8.2-8.2-8.2z"/><path d="M503.4 1341l6.9 6.9-6.9 6.9-6.9-6.9z"/><path d="M447.2 1495.4l7.3 7.3-7.3 7.3-7.3-7.3z"/></g>
<g fill="#f85656" fill-opacity="0.62" stroke="#080505" stroke-opacity="0.74" stroke-width="3.4"><circle cx="638.2" cy="1310.2" r="4.4"/></g>
<g fill="#52f6f6" fill-opacity="0.7" stroke="#050808" stroke-opacity="0.74" stroke-width="3.4" stroke-linejoin="miter"><path d="M373.8 1451.8l9.4 9.4-9.4 9.4-9.4-9.4z"/><path d="M435 1420.6l9.4 9.4-9.4 9.4-9.4-9.4z"/><path d="M493.1 1356l9.1 9.1-9.1 9.1-9.1-9.1z"/><path d="M468.9 1473.4l8.8 8.8-8.8 8.8-8.8-8.8z"/></g>
<g fill="#f85656" fill-opacity="0.62" stroke="#080505" stroke-opacity="0.74" stroke-width="3.4"><circle cx="610.2" cy="1277.1" r="5.1"/></g>
<g fill="#52f6f6" fill-opacity="0.7" stroke="#050808" stroke-opacity="0.74" stroke-width="3.4" stroke-linejoin="miter"><path d="M532.4 1349l6.7 6.7-6.7 6.7-6.7-6.7z"/><path d="M399.1 1434.6l10.6 10.6-10.6 10.6-10.6-10.6z"/></g>
<g fill="#f85656" fill-opacity="0.62" stroke="#080505" stroke-opacity="0.74" stroke-width="3.4"><circle cx="676.5" cy="1246.9" r="6"/></g>
<g fill="#52f6f6" fill-opacity="0.7" stroke="#050808" stroke-opacity="0.74" stroke-width="3.4" stroke-linejoin="miter"><path d="M378.4 1506.6l8.8 8.8-8.8 8.8-8.8-8.8z"/><path d="M320.9 1484.2l9 9-9 9-9-9z"/><path d="M360.4 1501.9l7.9 7.9-7.9 7.9-7.9-7.9z"/><path d="M288.1 1510.6l7.2 7.2-7.2 7.2-7.2-7.2z"/><path d="M311.1 1532.6l8.3 8.3-8.3 8.3-8.3-8.3z"/><path d="M408.1 1407.6l9.1 9.1-9.1 9.1-9.1-9.1z"/><path d="M367.9 1402.7l8.4 8.4-8.4 8.4-8.4-8.4z"/><path d="M409 1388.4l8.1 8.1-8.1 8.1-8.1-8.1z"/><path d="M420 1416l8.8 8.8-8.8 8.8-8.8-8.8z"/><path d="M452.2 1418.6l10.5 10.5-10.5 10.5-10.5-10.5z"/><path d="M505.8 1423.1l10 10-10 10-10-10z"/><path d="M353 1504.8l9.6 9.6-9.6 9.6-9.6-9.6z"/><path d="M554.5 1342l4.9 4.9-4.9 4.9-4.9-4.9z"/><path d="M556.9 1334.2l4.5 4.5-4.5 4.5-4.5-4.5z"/><path d="M512.9 1418.6l10 10-10 10-10-10z"/><path d="M556.1 1333l3.6 3.6-3.6 3.6-3.6-3.6z"/></g>
<g fill="#f85656" fill-opacity="0.62" stroke="#080505" stroke-opacity="0.74" stroke-width="3.4"><circle cx="659.4" cy="1275.9" r="5.5"/></g>
<g fill="#52f6f6" fill-opacity="0.7" stroke="#050808" stroke-opacity="0.74" stroke-width="3.4" stroke-linejoin="miter"><path d="M286.1 1493.9l6.6 6.6-6.6 6.6-6.6-6.6z"/><path d="M278.3 1582.4l3.6 3.6-3.6 3.6-3.6-3.6z"/><path d="M597.1 1368.5l4.4 4.4-4.4 4.4-4.4-4.4z"/><path d="M420.6 1456.4l10.5 10.5-10.5 10.5-10.5-10.5z"/><path d="M436.5 1442.4l10.3 10.3-10.3 10.3-10.3-10.3z"/><path d="M459 1354.4l8.9 8.9-8.9 8.9-8.9-8.9z"/><path d="M439.5 1425.5l10.3 10.3-10.3 10.3-10.3-10.3z"/><path d="M416.7 1428.4l8.5 8.5-8.5 8.5-8.5-8.5z"/><path d="M339.4 1476.8l7.9 7.9-7.9 7.9-7.9-7.9z"/><path d="M396.8 1484.8l10 10-10 10-10-10z"/><path d="M443.6 1429.6l9.1 9.1-9.1 9.1-9.1-9.1z"/><path d="M482.9 1464.8l7 7-7 7-7-7z"/><path d="M359.3 1461.7l10 10-10 10-10-10z"/><path d="M446.3 1433.4l9.4 9.4-9.4 9.4-9.4-9.4z"/><path d="M409.9 1405.9l9.3 9.3-9.3 9.3-9.3-9.3z"/><path d="M379.2 1520.4l7.8 7.8-7.8 7.8-7.8-7.8z"/><path d="M260.6 1516l5 5-5 5-5-5z"/></g>
<g fill="#f85656" fill-opacity="0.62" stroke="#080505" stroke-opacity="0.74" stroke-width="3.4"><circle cx="554" cy="1309.2" r="2.7"/></g>
<g fill="#52f6f6" fill-opacity="0.7" stroke="#050808" stroke-opacity="0.74" stroke-width="3.4" stroke-linejoin="miter"><path d="M439 1426.4l9.8 9.8-9.8 9.8-9.8-9.8z"/><path d="M350 1459l9.5 9.5-9.5 9.5-9.5-9.5z"/><path d="M405.4 1408.7l8.1 8.1-8.1 8.1-8.1-8.1z"/><path d="M490.7 1439.3l8.8 8.8-8.8 8.8-8.8-8.8z"/></g>
<g fill="#f85656" fill-opacity="0.62" stroke="#080505" stroke-opacity="0.74" stroke-width="3.4"><circle cx="653.9" cy="1257.7" r="6.7"/></g>
<g fill="#52f6f6" fill-opacity="0.7" stroke="#050808" stroke-opacity="0.74" stroke-width="3.4" stroke-linejoin="miter"><path d="M441.6 1463.9l8.5 8.5-8.5 8.5-8.5-8.5z"/><path d="M373.1 1434.7l8.2 8.2-8.2 8.2-8.2-8.2z"/><path d="M433.7 1412.1l8.1 8.1-8.1 8.1-8.1-8.1z"/><path d="M525.5 1421.2l7.7 7.7-7.7 7.7-7.7-7.7z"/><path d="M411.2 1436.3l8.4 8.4-8.4 8.4-8.4-8.4z"/><path d="M351.8 1476.2l8.9 8.9-8.9 8.9-8.9-8.9z"/></g>
<g fill="#f85656" fill-opacity="0.62" stroke="#080505" stroke-opacity="0.74" stroke-width="3.4"><circle cx="537.4" cy="1300.8" r="2.7"/></g>
<g fill="#52f6f6" fill-opacity="0.7" stroke="#050808" stroke-opacity="0.74" stroke-width="3.4" stroke-linejoin="miter"><path d="M470.9 1336.7l8.9 8.9-8.9 8.9-8.9-8.9z"/><path d="M464.3 1421.1l8.8 8.8-8.8 8.8-8.8-8.8z"/><path d="M553.2 1346.8l4.2 4.2-4.2 4.2-4.2-4.2z"/><path d="M287.2 1365.5l7.4 7.4-7.4 7.4-7.4-7.4z"/><path d="M384.6 1472.5l8 8-8 8-8-8z"/><path d="M526 1316.3l3.9 3.9-3.9 3.9-3.9-3.9z"/><path d="M420.9 1503.2l7 7-7 7-7-7z"/><path d="M453.2 1268.7l3.3 3.3-3.3 3.3-3.3-3.3z"/><path d="M416.8 1401.9l9 9-9 9-9-9z"/><path d="M512.2 1402.6l10.8 10.8-10.8 10.8-10.8-10.8z"/><path d="M473.1 1376.4l9.1 9.1-9.1 9.1-9.1-9.1z"/><path d="M383.4 1487.2l8 8-8 8-8-8z"/></g>
<g fill="#f85656" fill-opacity="0.62" stroke="#080505" stroke-opacity="0.74" stroke-width="3.4"><circle cx="603" cy="1286.1" r="4.9"/></g>
<g fill="#52f6f6" fill-opacity="0.7" stroke="#050808" stroke-opacity="0.74" stroke-width="3.4" stroke-linejoin="miter"><path d="M417.8 1398.9l8.4 8.4-8.4 8.4-8.4-8.4z"/><path d="M330.5 1493.5l7.3 7.3-7.3 7.3-7.3-7.3z"/><path d="M422.2 1456.8l10.1 10.1-10.1 10.1-10.1-10.1z"/><path d="M465.1 1451.4l9.2 9.2-9.2 9.2-9.2-9.2z"/><path d="M355.6 1529.5l7.3 7.3-7.3 7.3-7.3-7.3z"/><path d="M504.8 1317.6l5.4 5.4-5.4 5.4-5.4-5.4z"/><path d="M405.7 1433.4l10.6 10.6-10.6 10.6-10.6-10.6z"/></g>
<g fill="#f85656" fill-opacity="0.62" stroke="#080505" stroke-opacity="0.74" stroke-width="3.4"><circle cx="595.8" cy="1339" r="2.7"/></g>
<g fill="#52f6f6" fill-opacity="0.7" stroke="#050808" stroke-opacity="0.74" stroke-width="3.4" stroke-linejoin="miter"><path d="M395.6 1451.1l9.7 9.7-9.7 9.7-9.7-9.7z"/><path d="M531.9 1349l6.9 6.9-6.9 6.9-6.9-6.9z"/></g>
<g fill="#f85656" fill-opacity="0.62" stroke="#080505" stroke-opacity="0.74" stroke-width="3.4"><circle cx="651.5" cy="1274.8" r="6.3"/></g>
<g fill="#52f6f6" fill-opacity="0.7" stroke="#050808" stroke-opacity="0.74" stroke-width="3.4" stroke-linejoin="miter"><path d="M355.6 1442.3l9.6 9.6-9.6 9.6-9.6-9.6z"/><path d="M396.8 1396.8l7.9 7.9-7.9 7.9-7.9-7.9z"/><path d="M303.6 1467.4l6.8 6.8-6.8 6.8-6.8-6.8z"/></g>
<g fill="#f85656" fill-opacity="0.62" stroke="#080505" stroke-opacity="0.74" stroke-width="3.4"><circle cx="586.2" cy="1311.7" r="3.5"/></g>
<g fill="#52f6f6" fill-opacity="0.7" stroke="#050808" stroke-opacity="0.74" stroke-width="3.4" stroke-linejoin="miter"><path d="M439.8 1464l9.1 9.1-9.1 9.1-9.1-9.1z"/><path d="M430.9 1434.1l10.8 10.8-10.8 10.8-10.8-10.8z"/><path d="M397.9 1429.2l10.6 10.6-10.6 10.6-10.6-10.6z"/><path d="M452.4 1376.9l10.5 10.5-10.5 10.5-10.5-10.5z"/><path d="M433.8 1372.2l8.4 8.4-8.4 8.4-8.4-8.4z"/><path d="M405 1509.2l7.5 7.5-7.5 7.5-7.5-7.5z"/></g>
<g fill="#f85656" fill-opacity="0.62" stroke="#080505" stroke-opacity="0.74" stroke-width="3.4"><circle cx="625.5" cy="1274.8" r="6.4"/></g>
<g fill="#52f6f6" fill-opacity="0.7" stroke="#050808" stroke-opacity="0.74" stroke-width="3.4" stroke-linejoin="miter"><path d="M514.2 1444.5l7.8 7.8-7.8 7.8-7.8-7.8z"/><path d="M360 1443.9l8.8 8.8-8.8 8.8-8.8-8.8z"/></g>
<g fill="#f85656" fill-opacity="0.62" stroke="#080505" stroke-opacity="0.74" stroke-width="3.4"><circle cx="863.6" cy="1115.6" r="9"/><circle cx="807.3" cy="1128.4" r="9"/><circle cx="710" cy="1210.4" r="9"/><circle cx="694.4" cy="1222" r="9"/><circle cx="640.1" cy="1252.8" r="9"/></g>
</g>
<path d="M440.2 1382.3l10.4 10.4-10.4 10.4-10.4-10.4z" fill="#000" stroke="#fff" stroke-width="3.2"/>
<path d="M473.1 1382.7l10.4 10.4-10.4 10.4-10.4-10.4z" fill="#000" stroke="#fff" stroke-width="3.2"/>
<path d="M463 1375.7l10.4 10.4-10.4 10.4-10.4-10.4z" fill="#000" stroke="#fff" stroke-width="3.2"/>
<path d="M489 1368.9l10.4 10.4-10.4 10.4-10.4-10.4z" fill="#000" stroke="#fff" stroke-width="3.2"/>
<path d="M512.8 1362.8l10.4 10.4-10.4 10.4-10.4-10.4z" fill="#000" stroke="#fff" stroke-width="3.2"/>
<path d="M521.3 1362.1l10.4 10.4-10.4 10.4-10.4-10.4z" fill="#000" stroke="#fff" stroke-width="3.2"/>
<path d="M533 1354.3l10.4 10.4-10.4 10.4-10.4-10.4z" fill="#000" stroke="#fff" stroke-width="3.2"/>
<path d="M540.3 1340.9l10.4 10.4-10.4 10.4-10.4-10.4z" fill="#000" stroke="#fff" stroke-width="3.2"/>
<path d="M531.8 1379.9l10.4 10.4-10.4 10.4-10.4-10.4z" fill="#000" stroke="#fff" stroke-width="3.2"/>
<circle cx="577" cy="1311.8" r="9.2" fill="#000" stroke="#fff" stroke-width="3.2"/>
<path d="M176 1300.4H969.9M528.5 1070.5V1674.4" stroke="#000" stroke-width="4.6" fill="none"/>
<path d="M449.9 1156.4L508.5 1357.1" stroke="#000" stroke-width="4" fill="none"/>
<path d="M509.8 1345.7L508.5 1357.1L501.2 1348.2" stroke="#fff" stroke-width="1.4" fill="none"/>
<path d="M352.9 1187.7L486.7 1369" stroke="#000" stroke-width="4" fill="none"/>
<path d="M484 1357.8L486.7 1369L476.8 1363.1" stroke="#fff" stroke-width="1.4" fill="none"/>
<path d="M327.6 1262.9L455 1374.9" stroke="#000" stroke-width="4" fill="none"/>
<path d="M450 1364.5L455 1374.9L444.1 1371.3" stroke="#fff" stroke-width="1.4" fill="none"/>
<path d="M341 1329.4L431.3 1386.8" stroke="#000" stroke-width="4" fill="none"/>
<path d="M424.8 1377.3L431.3 1386.8L420 1384.9" stroke="#fff" stroke-width="1.4" fill="none"/>
<path d="M383.2 1609.4L465.5 1396.2" stroke="#000" stroke-width="4" fill="none"/>
<path d="M457.5 1404.5L465.5 1396.2L465.9 1407.7" stroke="#fff" stroke-width="1.4" fill="none"/>
<path d="M578.1 1200.2L575.8 1296.2" stroke="#000" stroke-width="4" fill="none"/>
<path d="M580.5 1285.7L575.8 1296.2L571.6 1285.5" stroke="#fff" stroke-width="1.4" fill="none"/>
<path d="M803.7 1239.5L591.5 1305.2" stroke="#000" stroke-width="4" fill="none"/>
<path d="M602.9 1306.3L591.5 1305.2L600.3 1297.8" stroke="#fff" stroke-width="1.4" fill="none"/>
<path d="M719.7 1329.7L551.3 1344.5" stroke="#000" stroke-width="4" fill="none"/>
<path d="M562.2 1348L551.3 1344.5L561.5 1339.1" stroke="#fff" stroke-width="1.4" fill="none"/>
<path d="M728.6 1382L546.8 1366.4" stroke="#000" stroke-width="4" fill="none"/>
<path d="M557 1371.8L546.8 1366.4L557.7 1362.8" stroke="#fff" stroke-width="1.4" fill="none"/>
<path d="M725.5 1441.4L537.9 1374.4" stroke="#000" stroke-width="4" fill="none"/>
<path d="M546.4 1382.2L537.9 1374.4L549.4 1373.7" stroke="#fff" stroke-width="1.4" fill="none"/>
<path d="M698.7 1526.3L540.1 1394.5" stroke="#000" stroke-width="4" fill="none"/>
<path d="M545.4 1404.7L540.1 1394.5L551.1 1397.8" stroke="#fff" stroke-width="1.4" fill="none"/>
<rect x="176" y="1070.5" width="793.9" height="603.9" fill="none" stroke="#000" stroke-width="2.7"/>
<path d="M176 1070.5V1674.4H969.9" fill="none" stroke="#000" stroke-width="5" stroke-linecap="square"/>
<path d="M307.1 1674.4V1693.2" stroke="#000" stroke-width="4.8"/>
<text transform="translate(307.1 1724.8) scale(1 1.040)" font-size="26.5" text-anchor="middle" >−2</text>
<path d="M528.5 1674.4V1693.2" stroke="#000" stroke-width="4.8"/>
<text transform="translate(528.5 1724.8) scale(1 1.040)" font-size="26.5" text-anchor="middle" >0</text>
<path d="M749.9 1674.4V1693.2" stroke="#000" stroke-width="4.8"/>
<text transform="translate(749.9 1724.8) scale(1 1.040)" font-size="26.5" text-anchor="middle" >2</text>
<path d="M157.7 1113.5H176" stroke="#000" stroke-width="4.8"/>
<text transform="translate(146 1123.1) scale(1 1.040)" font-size="26.5" text-anchor="end" >2.5</text>
<path d="M157.7 1300.4H176" stroke="#000" stroke-width="4.8"/>
<text transform="translate(146 1310) scale(1 1.040)" font-size="26.5" text-anchor="end" >0.0</text>
<path d="M157.7 1487.3H176" stroke="#000" stroke-width="4.8"/>
<text transform="translate(146 1496.9) scale(1 1.040)" font-size="26.5" text-anchor="end" >−2.5</text>
<path d="M157.7 1674.2H176" stroke="#000" stroke-width="4.8"/>
<text transform="translate(146 1683.8) scale(1 1.040)" font-size="26.5" text-anchor="end" >−5.0</text>
<text transform="translate(574 1766.3) scale(1 1.030)" font-size="34.5" text-anchor="middle" >Enrichment in 100K Spin (log<tspan font-size="26" dy="8">2</tspan><tspan dy="-8"> </tspan>TMT 130/129)</text>
<g transform="translate(71.5 1370.7) rotate(-90)">
<text transform="translate(0 0) scale(1 1.020)" font-size="35.3" text-anchor="middle" >Enrichment in Optiprep (log<tspan font-size="26" dy="8">2</tspan><tspan dy="-8"> </tspan>TMT 131/129)</text>
</g>
<text transform="translate(421 1120.8) scale(1 1.040)" font-size="22.2" text-anchor="middle" >PM Ca-transporting</text>
<text transform="translate(414.5 1141.4) scale(1 1.040)" font-size="22.2" text-anchor="middle" >ATPase 1</text>
<text transform="translate(299.6 1175) scale(1 1.040)" font-size="22.2" text-anchor="middle" >Catenin α-1</text>
<text transform="translate(267 1248.2) scale(1 1.040)" font-size="22.2" text-anchor="middle" >Tyrosine-Protein</text>
<text transform="translate(266.6 1270) scale(1 1.040)" font-size="22.2" text-anchor="middle" >Kinase Yes</text>
<text transform="translate(261 1326.2) scale(1 1.040)" font-size="22.2" text-anchor="middle" >Insulin Receptor</text>
<text transform="translate(394 1638) scale(1 1.040)" font-size="22.2" text-anchor="middle" >Inactive Tyrosine-Protein</text>
<text transform="translate(379.3 1659.3) scale(1 1.040)" font-size="22.2" text-anchor="middle" >Kinase 7</text>
<text transform="translate(583.2 1193.5) scale(1 1.040)" font-size="22.2" text-anchor="middle" >CD151</text>
<text transform="translate(867.3 1238.2) scale(1 1.040)" font-size="22.2" text-anchor="middle" >Integrin α-V</text>
<text transform="translate(823 1327.5) scale(1 1.040)" font-size="22.2" text-anchor="middle" >Na/K-transporting</text>
<text transform="translate(821.5 1349.9) scale(1 1.040)" font-size="22.2" text-anchor="middle" >ATPase subunit α-1</text>
<text transform="translate(832.5 1388.7) scale(1 1.040)" font-size="22.2" text-anchor="middle" >PM Ca-transporting</text>
<text transform="translate(827 1409.3) scale(1 1.040)" font-size="22.2" text-anchor="middle" >ATPase 2</text>
<text transform="translate(827 1458.4) scale(1 1.040)" font-size="22.2" text-anchor="middle" >PM Ca-transporting</text>
<text transform="translate(821.5 1478.5) scale(1 1.040)" font-size="22.2" text-anchor="middle" >ATPase 4</text>
<text transform="translate(756.8 1550.9) scale(1 1.040)" font-size="22.2" text-anchor="middle" >ATPase 3</text>
<circle cx="266.3" cy="1865.7" r="9.4" fill="#fb8b8c" stroke="#4a4a4a" stroke-width="3"/>
<circle cx="266.3" cy="1899.2" r="7.2" fill="#000"/>
<path d="M568 1854.8l10.9 10.9-10.9 10.9-10.9-10.9z" fill="#7df6f7" stroke="#4a4a4a" stroke-width="3"/>
<path d="M568 1890.1l9.1 9.1-9.1 9.1-9.1-9.1z" fill="#000"/>
<text transform="translate(288.8 1874.6) scale(1 1.040)" font-size="25.9" text-anchor="start" >Exosome</text>
<text transform="translate(288.8 1908.6) scale(1 1.040)" font-size="25.9" text-anchor="start" >PM marker (Exosome)</text>
<text transform="translate(590.6 1874.6) scale(1 1.040)" font-size="25.9" text-anchor="start" >Non−Exosome</text>
<text transform="translate(590.6 1908.6) scale(1 1.040)" font-size="25.9" text-anchor="start" >PM marker (Non−Exosome)</text>
</svg>
</body></html>
